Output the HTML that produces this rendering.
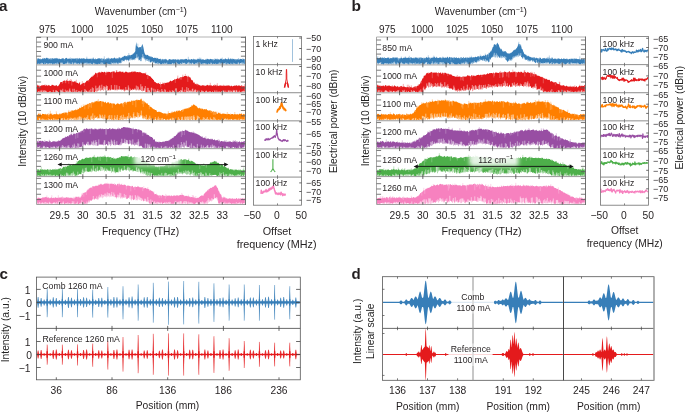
<!DOCTYPE html>
<html><head><meta charset="utf-8"><style>
html,body{margin:0;padding:0;background:#fff;}
html,body{width:685px;height:412px;overflow:hidden;}
svg{display:block;font-family:"Liberation Sans", sans-serif;}
text.h{will-change:transform;}
text.r{filter:grayscale(1);}
</style></head><body>
<svg width="685" height="412" viewBox="0 0 685 412">
<defs><filter id="soft" x="-20%" y="-40%" width="140%" height="180%"><feGaussianBlur stdDeviation="2.2"/></filter></defs>
<rect width="685" height="412" fill="#fff"/>
<polygon points="36.8,57.9 37.3,58.5 37.8,58.8 38.3,58.7 38.8,58.0 39.3,58.9 39.8,58.7 40.3,58.7 40.8,58.8 41.3,58.9 41.8,59.4 42.3,58.2 42.8,58.5 43.3,59.2 43.8,57.8 44.3,58.6 44.8,58.1 45.3,58.4 45.8,58.7 46.3,57.6 46.8,58.0 47.3,57.8 47.8,58.4 48.3,58.1 48.8,59.1 49.3,58.2 49.8,59.2 50.3,58.3 50.8,58.6 51.3,58.5 51.8,58.5 52.3,58.0 52.8,58.6 53.3,58.7 53.8,58.6 54.3,58.8 54.8,58.1 55.3,58.4 55.8,58.2 56.3,57.7 56.8,58.7 57.3,58.2 57.8,58.5 58.3,59.5 58.8,58.6 59.3,58.6 59.8,59.0 60.3,59.1 60.8,59.3 61.3,58.3 61.8,59.3 62.3,58.5 62.8,58.0 63.3,58.1 63.8,59.0 64.3,58.9 64.8,59.1 65.3,58.1 65.8,58.4 66.3,58.0 66.8,57.7 67.3,58.5 67.8,59.3 68.3,59.1 68.8,58.2 69.3,59.1 69.8,58.3 70.3,58.7 70.8,58.9 71.3,58.4 71.8,58.2 72.3,58.9 72.8,58.5 73.3,58.3 73.8,58.9 74.3,58.5 74.8,58.8 75.3,58.1 75.8,58.9 76.3,58.2 76.8,58.4 77.3,57.8 77.8,59.1 78.3,58.6 78.8,58.8 79.3,57.8 79.8,58.7 80.3,58.4 80.8,59.1 81.3,57.9 81.8,58.8 82.3,59.1 82.8,58.1 83.3,58.7 83.8,58.1 84.3,58.6 84.8,58.8 85.3,59.2 85.8,58.7 86.3,58.3 86.8,58.9 87.3,58.6 87.8,59.1 88.3,58.4 88.8,59.2 89.3,58.7 89.8,58.8 90.3,59.1 90.8,58.4 91.3,58.4 91.8,58.9 92.3,58.6 92.8,58.7 93.3,58.5 93.8,58.5 94.3,59.1 94.8,59.6 95.3,58.1 95.8,59.4 96.3,59.0 96.8,59.2 97.3,58.8 97.8,58.4 98.3,58.6 98.8,58.3 99.3,57.9 99.8,58.7 100.3,58.8 100.8,58.6 101.3,58.8 101.8,58.0 102.3,59.1 102.8,58.6 103.3,58.6 103.8,58.9 104.3,58.3 104.8,59.7 105.3,59.1 105.8,59.1 106.3,58.6 106.8,58.2 107.3,58.7 107.8,58.2 108.3,58.6 108.8,58.6 109.3,59.0 109.8,58.6 110.3,58.5 110.8,59.0 111.3,58.3 111.8,58.1 112.3,58.1 112.8,59.0 113.3,58.4 113.8,58.1 114.3,57.4 114.8,57.8 115.3,58.4 115.8,58.5 116.3,58.9 116.8,57.8 117.3,58.3 117.8,58.6 118.3,56.9 118.8,58.9 119.3,57.3 119.8,57.2 120.3,58.1 120.8,57.8 121.3,58.0 121.8,57.6 122.3,57.2 122.8,56.8 123.3,56.3 123.8,56.7 124.3,55.5 124.8,56.1 125.3,56.4 125.8,55.5 126.3,56.2 126.8,56.2 127.3,55.6 127.8,55.3 128.3,55.5 128.8,55.3 129.3,54.7 129.8,55.6 130.3,55.2 130.8,54.9 131.3,54.9 131.8,54.7 132.3,53.4 132.8,55.0 133.3,53.1 133.8,53.7 134.3,52.5 134.8,52.2 135.3,50.3 135.8,45.5 136.3,42.0 136.8,46.1 137.3,46.9 137.8,46.1 138.3,48.0 138.8,47.3 139.3,47.1 139.8,47.6 140.3,47.0 140.8,47.2 141.3,46.5 141.8,45.5 142.3,44.1 142.8,45.2 143.3,47.1 143.8,49.4 144.3,52.2 144.8,53.4 145.3,55.0 145.8,54.5 146.3,54.7 146.8,55.6 147.3,54.8 147.8,54.9 148.3,55.4 148.8,55.9 149.3,56.0 149.8,56.2 150.3,56.6 150.8,56.5 151.3,56.4 151.8,57.4 152.3,57.1 152.8,57.3 153.3,57.9 153.8,58.0 154.3,57.5 154.8,57.9 155.3,57.7 155.8,57.9 156.3,58.6 156.8,58.3 157.3,58.2 157.8,58.1 158.3,59.3 158.8,58.6 159.3,59.0 159.8,58.9 160.3,58.6 160.8,59.3 161.3,59.2 161.8,59.8 162.3,59.5 162.8,58.7 163.3,59.3 163.8,59.4 164.3,59.5 164.8,59.0 165.3,58.8 165.8,59.5 166.3,59.7 166.8,59.0 167.3,60.4 167.8,59.9 168.3,59.3 168.8,60.5 169.3,58.9 169.8,59.1 170.3,59.1 170.8,60.1 171.3,59.2 171.8,59.9 172.3,59.6 172.8,59.3 173.3,59.6 173.8,59.0 174.3,59.9 174.8,59.1 175.3,59.1 175.8,59.8 176.3,59.3 176.8,60.3 177.3,60.1 177.8,58.7 178.3,59.6 178.8,59.4 179.3,60.4 179.8,59.2 180.3,59.2 180.8,59.4 181.3,59.4 181.8,59.1 182.3,59.6 182.8,59.2 183.3,59.1 183.8,60.1 184.3,59.5 184.8,59.0 185.3,58.8 185.8,59.3 186.3,58.9 186.8,58.8 187.3,59.9 187.8,59.4 188.3,59.2 188.8,59.5 189.3,59.2 189.8,59.4 190.3,60.2 190.8,59.4 191.3,59.1 191.8,58.9 192.3,59.7 192.8,59.3 193.3,59.6 193.8,58.6 194.3,59.2 194.8,59.4 195.3,59.6 195.8,59.5 196.3,59.2 196.8,59.9 197.3,59.3 197.8,58.4 198.3,58.8 198.8,59.3 199.3,59.4 199.8,58.7 200.3,58.8 200.8,59.5 201.3,59.4 201.8,59.5 202.3,59.6 202.8,59.3 203.3,59.0 203.8,59.9 204.3,59.8 204.8,60.1 205.3,59.5 205.8,59.4 206.3,59.4 206.8,59.5 207.3,58.5 207.8,59.2 208.3,59.1 208.8,59.5 209.3,59.4 209.8,59.2 210.3,59.1 210.8,58.7 211.3,59.4 211.8,59.1 212.3,59.1 212.8,59.8 213.3,59.7 213.8,59.1 214.3,60.0 214.8,59.6 215.3,59.3 215.8,58.8 216.3,58.8 216.8,59.7 217.3,58.3 217.8,60.0 218.3,59.5 218.8,59.0 219.3,59.9 219.8,59.3 220.3,58.6 220.8,58.9 221.3,58.7 221.8,58.6 222.3,60.0 222.8,59.2 223.3,59.1 223.8,59.5 224.3,59.4 224.8,58.8 225.3,58.7 225.8,58.2 226.3,59.5 226.8,59.0 227.3,59.5 227.8,59.1 228.3,58.5 228.8,58.8 229.3,59.8 229.8,58.8 230.3,59.3 230.8,58.0 231.3,58.7 231.8,59.5 232.3,58.2 232.8,59.6 233.3,58.9 233.8,58.8 234.3,59.7 234.8,58.8 235.3,59.6 235.8,58.9 236.3,59.2 236.8,59.5 237.3,59.6 237.8,59.0 238.3,58.0 238.8,59.9 239.3,58.8 239.8,59.6 240.3,58.7 240.8,58.9 241.3,59.1 241.8,59.0 242.3,59.9 242.8,58.3 243.3,58.8 243.8,59.2 244.3,59.2 244.8,59.1 244.8,64.4 244.3,63.8 243.8,64.0 243.3,64.4 242.8,64.4 242.3,64.0 241.8,63.7 241.3,63.5 240.8,63.2 240.3,63.7 239.8,64.4 239.3,64.4 238.8,64.4 238.3,63.6 237.8,63.6 237.3,64.4 236.8,64.4 236.3,64.4 235.8,63.7 235.3,64.4 234.8,63.5 234.3,64.2 233.8,64.4 233.3,64.4 232.8,64.4 232.3,64.4 231.8,63.7 231.3,64.4 230.8,64.4 230.3,64.4 229.8,64.4 229.3,64.1 228.8,63.7 228.3,63.6 227.8,64.2 227.3,64.4 226.8,64.4 226.3,64.4 225.8,63.0 225.3,64.4 224.8,63.6 224.3,63.7 223.8,64.1 223.3,64.4 222.8,64.4 222.3,64.4 221.8,63.5 221.3,64.2 220.8,64.3 220.3,63.8 219.8,64.4 219.3,63.6 218.8,63.2 218.3,64.2 217.8,64.4 217.3,63.5 216.8,64.4 216.3,64.1 215.8,63.1 215.3,64.4 214.8,64.0 214.3,64.0 213.8,64.1 213.3,63.5 212.8,64.4 212.3,64.4 211.8,64.4 211.3,64.4 210.8,63.9 210.3,63.9 209.8,64.3 209.3,64.1 208.8,63.3 208.3,64.2 207.8,64.4 207.3,64.4 206.8,64.4 206.3,64.4 205.8,64.3 205.3,64.4 204.8,64.1 204.3,63.6 203.8,64.4 203.3,63.9 202.8,64.4 202.3,64.4 201.8,64.4 201.3,64.0 200.8,64.2 200.3,64.4 199.8,64.4 199.3,63.5 198.8,64.2 198.3,62.9 197.8,64.4 197.3,62.9 196.8,64.0 196.3,63.8 195.8,63.9 195.3,64.4 194.8,63.9 194.3,64.4 193.8,63.6 193.3,64.4 192.8,63.8 192.3,63.0 191.8,64.2 191.3,64.4 190.8,64.3 190.3,63.9 189.8,64.4 189.3,64.4 188.8,62.5 188.3,64.4 187.8,63.6 187.3,63.8 186.8,64.0 186.3,63.9 185.8,64.4 185.3,64.1 184.8,64.4 184.3,63.1 183.8,63.6 183.3,63.3 182.8,64.1 182.3,63.3 181.8,63.9 181.3,64.1 180.8,64.2 180.3,64.4 179.8,64.4 179.3,64.3 178.8,64.4 178.3,63.4 177.8,64.4 177.3,64.2 176.8,64.4 176.3,62.9 175.8,63.2 175.3,64.2 174.8,64.4 174.3,63.5 173.8,64.4 173.3,64.4 172.8,63.3 172.3,63.7 171.8,64.4 171.3,63.9 170.8,64.3 170.3,64.4 169.8,64.4 169.3,64.4 168.8,64.3 168.3,64.4 167.8,64.3 167.3,64.4 166.8,64.2 166.3,64.4 165.8,64.0 165.3,63.7 164.8,64.4 164.3,63.8 163.8,64.1 163.3,64.1 162.8,64.4 162.3,63.7 161.8,64.1 161.3,64.4 160.8,64.4 160.3,64.4 159.8,63.7 159.3,63.0 158.8,64.2 158.3,64.4 157.8,63.9 157.3,64.0 156.8,63.4 156.3,64.3 155.8,64.0 155.3,62.9 154.8,62.8 154.3,63.6 153.8,63.1 153.3,62.2 152.8,62.4 152.3,62.9 151.8,61.3 151.3,62.3 150.8,62.4 150.3,62.3 149.8,62.2 149.3,59.9 148.8,61.5 148.3,61.5 147.8,60.9 147.3,60.9 146.8,60.6 146.3,60.3 145.8,61.9 145.3,59.5 144.8,59.3 144.3,59.4 143.8,57.0 143.3,58.8 142.8,57.6 142.3,57.5 141.8,59.9 141.3,61.3 140.8,61.1 140.3,61.5 139.8,60.3 139.3,59.5 138.8,60.4 138.3,59.5 137.8,58.6 137.3,57.2 136.8,57.1 136.3,58.4 135.8,57.9 135.3,59.8 134.8,60.2 134.3,59.6 133.8,59.4 133.3,59.8 132.8,60.4 132.3,59.5 131.8,59.7 131.3,60.0 130.8,60.4 130.3,59.6 129.8,60.3 129.3,60.4 128.8,59.7 128.3,61.7 127.8,60.1 127.3,59.4 126.8,61.4 126.3,60.7 125.8,59.7 125.3,60.1 124.8,59.8 124.3,61.6 123.8,61.3 123.3,60.5 122.8,61.8 122.3,61.4 121.8,60.8 121.3,63.2 120.8,63.0 120.3,63.4 119.8,63.5 119.3,62.7 118.8,63.3 118.3,64.2 117.8,64.4 117.3,63.3 116.8,64.1 116.3,63.3 115.8,64.4 115.3,64.2 114.8,63.8 114.3,64.4 113.8,64.2 113.3,64.4 112.8,63.0 112.3,63.7 111.8,64.4 111.3,64.4 110.8,64.4 110.3,64.2 109.8,63.8 109.3,64.4 108.8,63.8 108.3,64.0 107.8,63.5 107.3,64.4 106.8,64.4 106.3,63.4 105.8,64.4 105.3,63.8 104.8,64.4 104.3,64.4 103.8,64.1 103.3,64.4 102.8,64.4 102.3,64.4 101.8,64.0 101.3,64.4 100.8,64.4 100.3,64.3 99.8,64.0 99.3,64.0 98.8,64.4 98.3,63.2 97.8,64.4 97.3,64.4 96.8,64.4 96.3,64.4 95.8,63.7 95.3,64.4 94.8,64.4 94.3,64.4 93.8,63.4 93.3,64.3 92.8,64.4 92.3,64.4 91.8,64.1 91.3,64.0 90.8,64.4 90.3,64.3 89.8,64.4 89.3,64.4 88.8,63.8 88.3,64.4 87.8,64.3 87.3,64.1 86.8,64.4 86.3,64.4 85.8,64.4 85.3,63.7 84.8,63.8 84.3,64.0 83.8,63.4 83.3,64.2 82.8,64.4 82.3,64.4 81.8,64.4 81.3,63.9 80.8,64.0 80.3,63.5 79.8,63.9 79.3,64.4 78.8,64.4 78.3,64.4 77.8,64.3 77.3,64.2 76.8,63.8 76.3,63.8 75.8,63.3 75.3,64.4 74.8,63.7 74.3,64.1 73.8,64.4 73.3,64.4 72.8,64.3 72.3,63.7 71.8,64.0 71.3,64.3 70.8,64.3 70.3,64.3 69.8,63.0 69.3,64.4 68.8,64.4 68.3,63.9 67.8,62.7 67.3,64.4 66.8,63.7 66.3,64.4 65.8,63.5 65.3,64.1 64.8,64.2 64.3,64.0 63.8,64.4 63.3,63.9 62.8,64.4 62.3,63.6 61.8,64.2 61.3,62.9 60.8,63.8 60.3,63.5 59.8,64.4 59.3,64.4 58.8,64.2 58.3,63.5 57.8,64.1 57.3,63.7 56.8,64.4 56.3,64.4 55.8,64.4 55.3,63.6 54.8,64.4 54.3,64.2 53.8,64.4 53.3,64.4 52.8,64.4 52.3,64.4 51.8,64.3 51.3,63.3 50.8,64.1 50.3,64.4 49.8,64.4 49.3,63.8 48.8,63.4 48.3,64.1 47.8,64.4 47.3,64.4 46.8,64.1 46.3,63.1 45.8,64.4 45.3,64.0 44.8,64.0 44.3,64.4 43.8,64.4 43.3,64.0 42.8,63.7 42.3,63.6 41.8,64.0 41.3,63.8 40.8,64.0 40.3,64.4 39.8,63.4 39.3,64.4 38.8,64.2 38.3,63.9 37.8,63.9 37.3,64.4 36.8,64.4" fill="#377eb8"/>
<path d="M58.3 60.0V58.7M70.3 59.2V57.5M72.3 59.4V58.3M86.8 59.4V56.7M93.3 59.0V57.3M104.3 58.8V56.3M108.3 59.1V57.5M109.3 59.5V58.2M128.8 55.8V53.0M132.8 55.5V54.5M137.8 46.6V43.7M151.8 57.9V56.7M156.8 58.8V57.5M168.8 61.0V59.7M188.3 59.7V56.8M190.3 60.7V59.0M199.3 59.9V57.5M200.8 60.0V57.7M206.3 59.9V58.7M214.8 60.1V58.4M217.8 60.5V59.2M222.3 60.5V57.6M226.3 60.0V59.0M228.3 59.0V57.5" stroke="#377eb8" stroke-width="0.5" opacity="0.7"/>
<path d="M36.8 64.9V63.8M38.3 64.4V63.2M40.8 64.5V63.0M41.8 64.5V62.7M42.3 64.1V63.0M44.8 64.5V62.6M45.8 64.9V64.2M46.8 64.6V63.2M47.3 64.9V63.5M49.3 64.3V63.5M49.8 64.9V63.1M50.8 64.6V63.1M51.8 64.8V63.5M53.3 64.9V63.6M53.8 64.9V63.8M54.3 64.7V63.7M54.8 64.9V64.2M55.3 64.1V63.3M55.8 64.9V63.4M56.3 64.9V63.8M56.8 64.9V63.6M57.3 64.2V62.5M59.3 64.9V64.0M60.3 64.0V62.6M61.3 63.4V62.5M61.8 64.7V63.4M62.3 64.1V62.6M62.8 64.9V63.9M63.8 64.9V64.0M65.3 64.6V63.5M66.8 64.2V63.0M67.3 64.9V62.7M67.8 63.2V61.6M68.3 64.4V62.9M68.8 64.9V63.9M69.8 63.5V62.7M70.8 64.8V63.5M72.3 64.2V62.3M72.8 64.8V62.8M74.3 64.6V63.0M74.8 64.2V62.5M75.3 64.9V63.4M75.8 63.8V62.6M77.8 64.8V63.4M78.3 64.9V63.2M78.8 64.9V63.3M80.8 64.5V62.6M81.3 64.4V63.1M82.3 64.9V63.8M82.8 64.9V64.1M84.3 64.5V62.8M85.3 64.2V63.1M85.8 64.9V62.7M86.3 64.9V62.7M87.3 64.6V62.7M88.3 64.9V63.2M89.3 64.9V62.9M90.3 64.8V63.3M90.8 64.9V62.8M93.3 64.8V62.8M93.8 63.9V62.9M94.8 64.9V63.1M96.8 64.9V63.8M99.8 64.5V63.8M100.8 64.9V62.7M101.8 64.5V62.3M102.3 64.9V63.4M102.8 64.9V62.7M106.8 64.9V63.1M107.3 64.9V63.9M111.3 64.9V62.4M112.3 64.2V63.2M113.3 64.9V62.6M113.8 64.7V63.6M114.3 64.9V62.7M114.8 64.3V63.3M115.3 64.7V62.8M115.8 64.9V63.4M116.3 63.8V62.5M116.8 64.6V62.8M118.8 63.8V62.5M120.3 63.9V62.5M121.8 61.3V60.3M122.3 61.9V60.1M122.8 62.3V61.4M124.3 62.1V61.1M125.8 60.2V59.4M126.3 61.2V60.0M126.8 61.9V59.9M129.8 60.8V59.1M130.3 60.1V58.6M131.3 60.5V58.5M132.8 60.9V59.5M134.3 60.1V59.0M135.3 60.3V58.0M136.8 57.6V54.3M138.3 60.0V56.6M140.3 62.0V60.8M140.8 61.6V58.8M141.8 60.4V57.3M142.8 58.1V54.2M143.8 57.5V56.4M144.8 59.8V58.0M145.8 62.4V59.9M146.3 60.8V59.0M147.3 61.4V59.0M148.3 62.0V59.8M149.3 60.4V59.7M152.3 63.4V61.2M152.8 62.9V61.6M153.8 63.6V62.6M154.3 64.1V61.6M156.3 64.8V62.9M156.8 63.9V63.1M157.8 64.4V62.2M158.8 64.7V63.1M160.3 64.9V63.8M162.8 64.9V63.0M164.3 64.3V62.7M165.3 64.2V63.3M166.3 64.9V63.2M166.8 64.7V62.5M167.8 64.8V63.9M168.8 64.8V63.9M169.3 64.9V64.1M169.8 64.9V63.8M170.8 64.8V64.0M172.3 64.2V62.9M173.8 64.9V63.3M174.3 64.0V63.3M176.3 63.4V61.9M176.8 64.9V63.4M177.3 64.7V63.1M180.3 64.9V63.3M180.8 64.7V63.0M182.3 63.8V62.4M183.3 63.8V62.9M184.3 63.6V62.8M184.8 64.9V62.8M185.3 64.6V63.6M185.8 64.9V64.1M187.3 64.3V62.7M188.3 64.9V62.9M188.8 63.0V61.9M189.3 64.9V62.8M190.3 64.4V63.1M190.8 64.8V63.4M191.8 64.7V63.5M192.3 63.5V62.6M192.8 64.3V63.2M195.3 64.9V63.5M195.8 64.4V62.9M196.3 64.3V63.1M197.3 63.4V62.3M198.3 63.4V62.6M199.3 64.0V62.3M200.3 64.9V62.7M202.3 64.9V63.4M203.3 64.4V63.1M204.3 64.1V63.0M205.3 64.9V63.3M205.8 64.8V64.0M206.3 64.9V63.5M208.3 64.7V63.7M210.8 64.4V62.6M211.3 64.9V62.9M211.8 64.9V63.4M212.3 64.9V64.0M213.8 64.6V63.6M217.8 64.9V64.0M219.3 64.1V62.4M220.8 64.8V62.7M221.3 64.7V63.1M222.3 64.9V63.6M222.8 64.9V63.2M223.8 64.6V63.4M224.3 64.2V63.1M225.8 63.5V62.4M227.3 64.9V62.9M229.8 64.9V64.0M230.8 64.9V62.8M231.3 64.9V63.8M232.8 64.9V63.9M233.3 64.9V62.7M233.8 64.9V63.9M234.8 64.0V63.1M236.3 64.9V63.8M236.8 64.9V63.9M238.3 64.1V62.2M238.8 64.9V63.1M240.3 64.2V63.1M240.8 63.7V63.0M241.8 64.2V62.3M242.8 64.9V62.6M243.3 64.9V62.8" stroke="#fff" stroke-width="0.6" opacity="0.85"/>
<path d="M37.3 58.2V60.4M40.3 58.4V59.9M48.8 58.8V59.8M50.8 58.3V60.1M51.8 58.2V59.8M64.3 58.6V60.5M71.3 58.1V60.4M76.8 58.1V60.5M78.3 58.3V59.4M91.8 58.6V60.4M101.3 58.5V60.7M102.3 58.8V60.6M102.8 58.3V60.5M104.8 59.4V60.4M105.8 58.8V59.8M106.8 57.9V59.7M109.3 58.7V60.4M117.8 58.3V59.3M118.3 56.6V58.1M120.3 57.8V59.0M123.3 56.0V57.1M127.8 55.0V56.9M130.3 54.9V56.5M132.3 53.1V54.9M135.3 50.0V51.6M141.8 45.2V49.5M149.3 55.7V56.8M150.3 56.3V57.3M161.3 58.9V60.9M163.8 59.1V60.5M167.8 59.6V61.2M189.8 59.1V60.0M213.3 59.4V61.1M235.8 58.6V60.7M239.3 58.5V60.0" stroke="#fff" stroke-width="0.4" opacity="0.6"/>
<polygon points="36.8,85.0 37.3,84.5 37.8,85.7 38.3,85.7 38.8,85.3 39.3,85.6 39.8,86.2 40.3,85.9 40.8,85.7 41.3,85.7 41.8,85.0 42.3,85.8 42.8,84.7 43.3,85.3 43.8,85.2 44.3,84.6 44.8,85.4 45.3,86.1 45.8,85.2 46.3,84.9 46.8,85.4 47.3,85.8 47.8,85.5 48.3,85.4 48.8,84.8 49.3,85.6 49.8,85.6 50.3,86.0 50.8,86.1 51.3,85.7 51.8,84.7 52.3,84.8 52.8,84.9 53.3,85.5 53.8,85.0 54.3,86.0 54.8,85.5 55.3,85.6 55.8,85.7 56.3,85.6 56.8,84.8 57.3,86.5 57.8,86.1 58.3,86.1 58.8,85.1 59.3,84.6 59.8,83.7 60.3,82.1 60.8,82.2 61.3,81.9 61.8,82.0 62.3,82.1 62.8,81.2 63.3,81.1 63.8,80.7 64.3,80.7 64.8,80.3 65.3,81.0 65.8,80.8 66.3,80.5 66.8,80.3 67.3,80.8 67.8,81.3 68.3,80.8 68.8,80.9 69.3,80.6 69.8,80.8 70.3,80.9 70.8,80.9 71.3,80.8 71.8,81.4 72.3,81.9 72.8,81.0 73.3,82.2 73.8,81.5 74.3,81.7 74.8,81.0 75.3,81.0 75.8,82.6 76.3,81.9 76.8,82.9 77.3,82.8 77.8,83.1 78.3,83.8 78.8,83.4 79.3,82.2 79.8,83.1 80.3,84.5 80.8,85.2 81.3,84.3 81.8,83.8 82.3,83.3 82.8,84.0 83.3,82.8 83.8,82.9 84.3,83.2 84.8,82.8 85.3,82.3 85.8,82.5 86.3,81.1 86.8,80.8 87.3,80.7 87.8,80.6 88.3,79.9 88.8,80.5 89.3,78.8 89.8,78.9 90.3,77.8 90.8,77.7 91.3,76.9 91.8,76.4 92.3,76.9 92.8,75.6 93.3,76.2 93.8,74.7 94.3,74.5 94.8,74.8 95.3,72.8 95.8,72.8 96.3,73.3 96.8,73.4 97.3,73.3 97.8,72.7 98.3,72.1 98.8,72.9 99.3,72.6 99.8,71.7 100.3,72.2 100.8,73.0 101.3,72.2 101.8,71.6 102.3,72.0 102.8,72.0 103.3,72.3 103.8,72.6 104.3,71.7 104.8,71.8 105.3,72.6 105.8,72.4 106.3,72.7 106.8,71.4 107.3,71.7 107.8,72.5 108.3,71.6 108.8,72.2 109.3,72.0 109.8,71.7 110.3,72.7 110.8,72.0 111.3,71.8 111.8,71.9 112.3,72.1 112.8,71.3 113.3,71.6 113.8,71.4 114.3,71.0 114.8,72.4 115.3,72.6 115.8,72.5 116.3,71.1 116.8,72.1 117.3,72.2 117.8,71.7 118.3,72.3 118.8,71.4 119.3,71.4 119.8,71.5 120.3,71.6 120.8,71.5 121.3,72.4 121.8,71.5 122.3,71.8 122.8,71.7 123.3,73.0 123.8,71.6 124.3,72.2 124.8,72.9 125.3,71.5 125.8,71.7 126.3,71.9 126.8,71.5 127.3,72.7 127.8,71.9 128.3,72.6 128.8,72.4 129.3,72.2 129.8,72.6 130.3,72.0 130.8,72.6 131.3,71.5 131.8,71.7 132.3,72.5 132.8,71.0 133.3,72.1 133.8,71.6 134.3,71.5 134.8,71.4 135.3,72.3 135.8,71.1 136.3,72.3 136.8,72.2 137.3,71.9 137.8,72.1 138.3,72.5 138.8,72.0 139.3,71.7 139.8,72.5 140.3,72.1 140.8,72.4 141.3,72.7 141.8,73.1 142.3,73.6 142.8,73.0 143.3,73.1 143.8,73.6 144.3,73.6 144.8,72.9 145.3,73.6 145.8,73.6 146.3,74.7 146.8,75.1 147.3,75.0 147.8,74.5 148.3,75.7 148.8,75.3 149.3,76.3 149.8,76.0 150.3,76.4 150.8,76.8 151.3,77.8 151.8,77.9 152.3,78.9 152.8,78.7 153.3,80.0 153.8,80.1 154.3,81.4 154.8,81.9 155.3,81.9 155.8,82.5 156.3,82.9 156.8,83.2 157.3,83.0 157.8,83.8 158.3,83.3 158.8,82.8 159.3,84.0 159.8,84.0 160.3,84.4 160.8,84.3 161.3,84.0 161.8,84.0 162.3,83.9 162.8,83.5 163.3,83.2 163.8,83.4 164.3,83.6 164.8,82.6 165.3,83.3 165.8,82.8 166.3,83.0 166.8,82.5 167.3,82.7 167.8,82.3 168.3,82.8 168.8,81.9 169.3,81.7 169.8,81.6 170.3,80.6 170.8,80.7 171.3,81.6 171.8,81.0 172.3,80.6 172.8,80.9 173.3,80.1 173.8,79.9 174.3,79.7 174.8,78.8 175.3,79.8 175.8,79.1 176.3,79.0 176.8,78.7 177.3,78.4 177.8,77.4 178.3,78.3 178.8,79.0 179.3,78.3 179.8,77.5 180.3,77.1 180.8,77.3 181.3,77.3 181.8,76.9 182.3,77.2 182.8,76.2 183.3,77.0 183.8,76.4 184.3,75.9 184.8,75.9 185.3,76.0 185.8,76.0 186.3,75.8 186.8,76.3 187.3,77.3 187.8,75.8 188.3,75.8 188.8,77.0 189.3,76.8 189.8,77.6 190.3,77.2 190.8,78.6 191.3,79.7 191.8,80.3 192.3,79.9 192.8,80.8 193.3,82.0 193.8,83.0 194.3,82.3 194.8,83.0 195.3,84.2 195.8,83.7 196.3,83.6 196.8,84.7 197.3,83.6 197.8,84.2 198.3,85.2 198.8,84.6 199.3,85.4 199.8,84.7 200.3,85.7 200.8,85.5 201.3,86.0 201.8,85.2 202.3,85.2 202.8,85.3 203.3,85.8 203.8,85.0 204.3,85.3 204.8,86.2 205.3,85.7 205.8,85.7 206.3,85.1 206.8,85.8 207.3,84.9 207.8,84.7 208.3,85.0 208.8,86.1 209.3,85.5 209.8,85.0 210.3,85.3 210.8,85.6 211.3,86.0 211.8,84.7 212.3,86.1 212.8,85.9 213.3,85.2 213.8,85.3 214.3,85.7 214.8,85.4 215.3,85.6 215.8,85.0 216.3,84.7 216.8,86.6 217.3,85.6 217.8,85.6 218.3,85.8 218.8,86.1 219.3,86.0 219.8,85.1 220.3,85.5 220.8,85.6 221.3,85.9 221.8,85.3 222.3,85.8 222.8,85.7 223.3,86.2 223.8,84.4 224.3,85.7 224.8,85.8 225.3,85.9 225.8,85.6 226.3,85.3 226.8,86.0 227.3,85.8 227.8,85.3 228.3,85.1 228.8,85.9 229.3,85.3 229.8,86.0 230.3,86.4 230.8,85.8 231.3,85.8 231.8,85.8 232.3,86.3 232.8,86.4 233.3,85.8 233.8,86.1 234.3,85.8 234.8,85.5 235.3,86.1 235.8,85.7 236.3,85.4 236.8,85.1 237.3,86.2 237.8,85.4 238.3,85.3 238.8,85.7 239.3,86.1 239.8,85.0 240.3,86.1 240.8,86.0 241.3,85.3 241.8,85.3 242.3,85.8 242.8,86.7 243.3,85.8 243.8,86.4 244.3,86.3 244.8,85.2 244.8,92.3 244.3,92.1 243.8,92.2 243.3,91.7 242.8,92.3 242.3,91.5 241.8,92.3 241.3,92.3 240.8,92.3 240.3,92.3 239.8,91.4 239.3,92.3 238.8,92.3 238.3,91.5 237.8,92.2 237.3,92.3 236.8,92.0 236.3,91.3 235.8,91.8 235.3,92.2 234.8,92.3 234.3,90.8 233.8,91.1 233.3,91.6 232.8,92.2 232.3,92.3 231.8,92.3 231.3,91.6 230.8,92.1 230.3,92.0 229.8,91.7 229.3,92.2 228.8,91.9 228.3,91.6 227.8,91.8 227.3,92.2 226.8,92.2 226.3,92.1 225.8,92.3 225.3,92.3 224.8,92.0 224.3,91.5 223.8,92.1 223.3,91.0 222.8,91.7 222.3,92.3 221.8,90.7 221.3,92.2 220.8,92.3 220.3,91.8 219.8,92.3 219.3,91.3 218.8,91.5 218.3,92.3 217.8,92.3 217.3,91.9 216.8,92.2 216.3,91.9 215.8,91.9 215.3,92.2 214.8,92.3 214.3,91.4 213.8,92.1 213.3,92.3 212.8,91.5 212.3,91.4 211.8,92.3 211.3,92.1 210.8,91.8 210.3,91.3 209.8,92.3 209.3,91.8 208.8,92.1 208.3,92.0 207.8,91.7 207.3,92.0 206.8,91.4 206.3,91.8 205.8,90.8 205.3,92.3 204.8,92.3 204.3,92.3 203.8,92.3 203.3,91.8 202.8,92.1 202.3,91.8 201.8,92.3 201.3,91.3 200.8,92.3 200.3,92.2 199.8,91.5 199.3,92.3 198.8,92.1 198.3,91.7 197.8,91.5 197.3,92.2 196.8,92.3 196.3,92.0 195.8,92.1 195.3,91.4 194.8,91.7 194.3,92.2 193.8,92.3 193.3,91.6 192.8,92.3 192.3,92.3 191.8,91.3 191.3,92.1 190.8,92.1 190.3,91.4 189.8,91.5 189.3,91.9 188.8,91.5 188.3,92.3 187.8,91.7 187.3,91.6 186.8,92.3 186.3,91.8 185.8,92.3 185.3,92.1 184.8,92.3 184.3,92.3 183.8,91.7 183.3,91.7 182.8,92.0 182.3,91.6 181.8,91.8 181.3,91.6 180.8,92.3 180.3,92.3 179.8,91.3 179.3,91.5 178.8,91.6 178.3,92.3 177.8,92.3 177.3,92.3 176.8,91.9 176.3,92.3 175.8,91.5 175.3,91.9 174.8,92.3 174.3,92.3 173.8,92.0 173.3,91.6 172.8,91.3 172.3,92.3 171.8,92.3 171.3,92.2 170.8,91.4 170.3,91.8 169.8,92.3 169.3,91.7 168.8,92.3 168.3,92.3 167.8,91.3 167.3,92.3 166.8,92.3 166.3,91.8 165.8,91.4 165.3,92.3 164.8,91.9 164.3,92.3 163.8,91.9 163.3,91.8 162.8,91.8 162.3,91.7 161.8,91.4 161.3,92.3 160.8,92.3 160.3,92.3 159.8,91.9 159.3,92.2 158.8,92.2 158.3,91.4 157.8,90.7 157.3,91.3 156.8,92.2 156.3,91.7 155.8,92.3 155.3,92.3 154.8,91.5 154.3,92.3 153.8,92.3 153.3,92.3 152.8,91.9 152.3,91.8 151.8,91.9 151.3,92.3 150.8,92.2 150.3,92.2 149.8,90.9 149.3,92.3 148.8,92.3 148.3,92.3 147.8,92.3 147.3,92.3 146.8,92.3 146.3,92.3 145.8,92.3 145.3,91.9 144.8,90.6 144.3,90.5 143.8,91.1 143.3,90.4 142.8,90.5 142.3,91.8 141.8,90.9 141.3,90.9 140.8,89.8 140.3,90.0 139.8,90.4 139.3,89.1 138.8,90.2 138.3,90.5 137.8,90.3 137.3,89.1 136.8,90.4 136.3,90.6 135.8,88.7 135.3,90.5 134.8,89.6 134.3,89.6 133.8,89.4 133.3,90.0 132.8,88.4 132.3,90.4 131.8,89.9 131.3,90.0 130.8,90.4 130.3,90.3 129.8,92.3 129.3,90.2 128.8,90.1 128.3,91.0 127.8,89.7 127.3,90.8 126.8,89.6 126.3,90.2 125.8,90.6 125.3,89.9 124.8,92.1 124.3,90.1 123.8,88.6 123.3,91.0 122.8,89.2 122.3,90.1 121.8,89.3 121.3,90.7 120.8,89.8 120.3,89.2 119.8,89.7 119.3,89.5 118.8,89.8 118.3,89.5 117.8,89.1 117.3,90.5 116.8,90.5 116.3,89.2 115.8,90.1 115.3,90.6 114.8,90.5 114.3,89.2 113.8,90.0 113.3,89.6 112.8,89.4 112.3,89.7 111.8,89.6 111.3,89.5 110.8,90.2 110.3,90.6 109.8,88.6 109.3,90.6 108.8,90.5 108.3,89.9 107.8,90.9 107.3,89.1 106.8,89.0 106.3,89.8 105.8,89.9 105.3,90.5 104.8,89.8 104.3,88.8 103.8,90.7 103.3,90.9 102.8,89.9 102.3,89.4 101.8,89.9 101.3,90.1 100.8,91.6 100.3,90.3 99.8,89.6 99.3,90.3 98.8,90.9 98.3,89.8 97.8,90.9 97.3,91.5 96.8,91.9 96.3,91.5 95.8,91.5 95.3,91.0 94.8,92.3 94.3,92.3 93.8,92.1 93.3,91.7 92.8,92.0 92.3,91.3 91.8,91.8 91.3,92.3 90.8,92.2 90.3,91.9 89.8,92.3 89.3,92.1 88.8,91.3 88.3,92.3 87.8,92.0 87.3,91.5 86.8,91.1 86.3,91.8 85.8,92.0 85.3,92.3 84.8,91.8 84.3,91.9 83.8,92.3 83.3,92.1 82.8,92.0 82.3,92.0 81.8,91.5 81.3,92.3 80.8,92.3 80.3,92.3 79.8,92.3 79.3,92.3 78.8,91.6 78.3,92.2 77.8,91.9 77.3,92.3 76.8,92.3 76.3,91.9 75.8,92.1 75.3,92.2 74.8,92.3 74.3,91.6 73.8,92.3 73.3,92.0 72.8,92.3 72.3,92.3 71.8,92.3 71.3,91.8 70.8,91.4 70.3,92.3 69.8,91.9 69.3,91.7 68.8,91.8 68.3,91.5 67.8,92.0 67.3,92.3 66.8,92.1 66.3,91.2 65.8,92.3 65.3,92.3 64.8,92.3 64.3,92.3 63.8,91.9 63.3,91.8 62.8,91.4 62.3,91.8 61.8,92.3 61.3,91.7 60.8,92.3 60.3,92.3 59.8,92.2 59.3,92.3 58.8,92.3 58.3,92.3 57.8,91.8 57.3,91.2 56.8,91.3 56.3,92.1 55.8,92.3 55.3,91.8 54.8,92.3 54.3,92.2 53.8,92.0 53.3,91.7 52.8,92.3 52.3,92.0 51.8,92.3 51.3,92.3 50.8,92.3 50.3,92.3 49.8,91.7 49.3,91.5 48.8,92.3 48.3,91.7 47.8,92.2 47.3,92.3 46.8,92.3 46.3,92.3 45.8,91.4 45.3,92.0 44.8,91.8 44.3,91.7 43.8,92.3 43.3,90.9 42.8,92.3 42.3,91.8 41.8,91.4 41.3,92.3 40.8,91.9 40.3,92.3 39.8,91.9 39.3,91.4 38.8,91.6 38.3,92.3 37.8,91.9 37.3,92.3 36.8,92.1" fill="#e41a1c"/>
<path d="M45.8 85.7V84.4M67.3 81.3V78.7M70.8 81.4V79.0M71.3 81.3V79.8M76.3 82.4V79.7M79.8 83.6V81.9M82.3 83.8V81.1M82.8 84.5V83.1M116.3 71.6V70.2M116.8 72.6V70.0M129.8 73.1V71.9M145.8 74.1V72.4M160.3 84.9V82.3M162.8 84.0V82.3M177.8 77.9V75.6M182.8 76.7V74.7M185.3 76.5V73.9M198.3 85.7V84.1M210.3 85.8V82.8M214.8 85.9V84.2M217.3 86.1V83.2M235.3 86.6V85.2M244.8 85.7V84.0" stroke="#e41a1c" stroke-width="0.5" opacity="0.7"/>
<path d="M38.3 92.8V91.1M40.3 92.8V90.5M41.3 92.8V91.2M41.8 91.9V89.9M43.3 91.4V90.3M43.8 92.8V91.3M44.8 92.3V90.0M45.3 92.5V91.6M45.8 91.9V90.8M46.3 92.8V91.3M46.8 92.8V91.9M50.3 92.8V91.0M53.3 92.2V89.9M54.8 92.8V91.9M55.8 92.8V90.2M56.3 92.6V90.4M60.3 92.8V89.7M60.8 92.8V90.4M61.3 92.2V90.9M61.8 92.8V89.9M62.8 91.9V88.8M65.3 92.8V89.6M66.8 92.6V90.6M67.3 92.8V90.4M69.3 92.2V89.6M69.8 92.4V88.5M70.3 92.8V90.7M72.8 92.8V88.8M74.3 92.1V88.8M75.8 92.6V90.6M76.8 92.8V89.9M78.8 92.1V90.8M79.3 92.8V91.0M80.8 92.8V91.2M81.8 92.0V90.2M84.3 92.4V91.5M84.8 92.3V89.1M85.3 92.8V89.6M86.3 92.3V90.4M89.3 92.6V90.2M89.8 92.8V91.6M90.8 92.7V88.9M92.3 91.8V87.4M93.3 92.2V88.2M95.8 92.0V85.7M96.3 92.0V88.5M97.3 92.0V88.1M98.3 90.3V87.4M99.3 90.8V85.9M99.8 90.1V85.3M100.8 92.1V87.8M101.8 90.4V84.7M103.3 91.4V88.1M103.8 91.2V86.1M104.3 89.3V86.5M104.8 90.3V86.9M105.8 90.4V87.4M106.3 90.3V85.4M106.8 89.5V86.6M107.3 89.6V86.0M111.3 90.0V85.1M114.8 91.0V84.9M115.3 91.1V89.6M116.8 91.0V85.2M119.3 90.0V86.1M121.3 91.2V89.4M125.8 91.1V87.0M127.3 91.3V89.6M128.3 91.5V85.4M128.8 90.6V87.5M130.3 90.8V88.7M132.3 90.9V89.3M134.8 90.1V88.3M136.3 91.1V85.6M137.8 90.8V86.2M138.3 91.0V87.3M140.8 90.3V84.2M141.8 91.4V86.6M142.3 92.3V86.3M144.3 91.0V88.0M144.8 91.1V89.2M145.3 92.4V86.0M147.3 92.8V87.8M148.3 92.8V87.9M148.8 92.8V90.1M149.3 92.8V90.1M151.3 92.8V87.7M151.8 92.4V87.8M153.8 92.8V88.7M155.3 92.8V89.4M156.3 92.2V90.8M157.8 91.2V89.1M158.8 92.7V90.9M159.8 92.4V90.4M161.3 92.8V91.9M161.8 91.9V89.0M162.8 92.3V90.8M164.8 92.4V89.1M165.3 92.8V89.9M168.8 92.8V91.7M169.8 92.8V90.4M172.3 92.8V90.1M173.3 92.1V90.7M173.8 92.5V91.2M175.3 92.4V89.7M175.8 92.0V88.3M176.3 92.8V88.4M176.8 92.4V90.7M180.8 92.8V90.0M181.3 92.1V90.4M181.8 92.3V90.6M182.3 92.1V87.3M184.8 92.8V89.7M186.3 92.3V90.5M186.8 92.8V87.1M187.3 92.1V91.0M188.3 92.8V88.1M189.3 92.4V91.0M189.8 92.0V90.2M190.3 91.9V90.5M191.3 92.6V90.7M192.3 92.8V89.0M192.8 92.8V88.6M193.8 92.8V91.3M194.3 92.7V90.6M194.8 92.2V89.9M195.3 91.9V89.4M195.8 92.6V89.9M196.8 92.8V92.0M197.3 92.7V90.5M198.8 92.6V90.5M199.3 92.8V90.8M201.8 92.8V90.2M202.3 92.3V91.0M203.3 92.3V91.0M203.8 92.8V91.9M206.3 92.3V90.5M208.8 92.6V91.6M209.3 92.3V91.3M209.8 92.8V91.8M214.8 92.8V90.3M215.3 92.7V91.5M216.8 92.7V90.5M217.8 92.8V91.5M220.8 92.8V92.0M221.3 92.7V91.4M222.3 92.8V91.2M222.8 92.2V90.5M223.8 92.6V90.2M225.8 92.8V90.6M226.8 92.7V91.8M228.3 92.1V90.1M228.8 92.4V91.2M229.8 92.2V90.3M230.8 92.6V90.7M231.8 92.8V90.8M233.3 92.1V89.9M234.3 91.3V90.4M234.8 92.8V90.4M236.3 91.8V89.9M236.8 92.5V90.5M237.3 92.8V91.7M239.3 92.8V90.6M240.8 92.8V91.8M241.8 92.8V91.3M242.8 92.8V91.1M243.3 92.2V90.6M243.8 92.7V91.3M244.3 92.6V91.1" stroke="#fff" stroke-width="0.6" opacity="0.85"/>
<path d="M39.3 85.3V87.7M39.8 85.9V87.7M62.3 81.8V83.8M62.8 80.9V83.0M65.3 80.7V82.9M65.8 80.5V83.3M68.8 80.6V83.7M71.8 81.1V85.5M84.3 82.9V86.0M88.8 80.2V81.7M97.3 73.0V77.3M105.8 72.1V75.2M112.3 71.8V77.9M147.8 74.2V79.0M160.8 84.0V87.4M164.3 83.3V85.2M175.3 79.5V82.9M180.3 76.8V79.5M181.3 77.0V79.7M187.8 75.5V81.9M194.8 82.7V84.3M197.3 83.3V85.6M241.3 85.0V86.7" stroke="#fff" stroke-width="0.4" opacity="0.6"/>
<polygon points="36.8,114.5 37.3,115.2 37.8,114.6 38.3,113.7 38.8,113.9 39.3,114.6 39.8,114.2 40.3,114.7 40.8,113.3 41.3,115.2 41.8,115.0 42.3,113.5 42.8,114.1 43.3,113.9 43.8,114.0 44.3,114.6 44.8,114.0 45.3,113.8 45.8,114.5 46.3,114.8 46.8,114.0 47.3,114.4 47.8,113.6 48.3,114.7 48.8,115.3 49.3,114.5 49.8,114.2 50.3,113.3 50.8,114.1 51.3,113.3 51.8,114.6 52.3,115.1 52.8,114.9 53.3,114.3 53.8,114.5 54.3,113.9 54.8,114.3 55.3,114.3 55.8,114.2 56.3,113.0 56.8,114.3 57.3,114.4 57.8,113.9 58.3,114.4 58.8,114.6 59.3,113.2 59.8,114.6 60.3,113.9 60.8,113.4 61.3,113.9 61.8,113.3 62.3,113.3 62.8,113.0 63.3,113.0 63.8,112.6 64.3,112.7 64.8,112.4 65.3,112.1 65.8,113.1 66.3,112.5 66.8,112.6 67.3,113.0 67.8,112.4 68.3,112.0 68.8,111.3 69.3,112.1 69.8,111.8 70.3,111.9 70.8,111.2 71.3,111.0 71.8,110.0 72.3,111.1 72.8,110.0 73.3,110.4 73.8,110.7 74.3,110.3 74.8,110.1 75.3,110.2 75.8,109.1 76.3,109.8 76.8,110.2 77.3,110.0 77.8,108.5 78.3,109.3 78.8,108.9 79.3,107.9 79.8,107.5 80.3,107.8 80.8,108.3 81.3,107.6 81.8,106.7 82.3,106.9 82.8,107.1 83.3,106.3 83.8,105.9 84.3,106.1 84.8,104.6 85.3,105.5 85.8,104.4 86.3,104.8 86.8,104.8 87.3,104.3 87.8,103.8 88.3,103.8 88.8,104.1 89.3,102.9 89.8,102.9 90.3,103.2 90.8,103.2 91.3,102.6 91.8,102.2 92.3,102.5 92.8,101.8 93.3,102.8 93.8,102.4 94.3,102.6 94.8,101.2 95.3,101.4 95.8,101.4 96.3,100.9 96.8,101.2 97.3,101.8 97.8,100.9 98.3,101.1 98.8,101.9 99.3,101.3 99.8,101.3 100.3,101.1 100.8,100.9 101.3,101.2 101.8,101.6 102.3,101.3 102.8,101.7 103.3,101.5 103.8,101.8 104.3,102.7 104.8,102.3 105.3,101.5 105.8,102.2 106.3,103.2 106.8,103.3 107.3,102.0 107.8,102.8 108.3,102.7 108.8,101.7 109.3,103.1 109.8,103.9 110.3,102.8 110.8,103.1 111.3,103.7 111.8,103.2 112.3,103.3 112.8,103.7 113.3,103.0 113.8,104.0 114.3,103.3 114.8,104.0 115.3,104.4 115.8,104.9 116.3,103.8 116.8,104.2 117.3,104.1 117.8,103.0 118.3,103.8 118.8,103.8 119.3,103.9 119.8,104.5 120.3,103.5 120.8,103.4 121.3,103.3 121.8,103.2 122.3,103.4 122.8,103.8 123.3,102.5 123.8,102.9 124.3,101.7 124.8,101.9 125.3,102.7 125.8,101.5 126.3,102.5 126.8,102.9 127.3,101.8 127.8,101.7 128.3,101.9 128.8,101.6 129.3,101.7 129.8,101.2 130.3,101.9 130.8,101.5 131.3,101.2 131.8,100.1 132.3,100.7 132.8,100.9 133.3,101.1 133.8,100.3 134.3,100.8 134.8,100.8 135.3,100.1 135.8,100.6 136.3,100.1 136.8,99.6 137.3,100.0 137.8,100.6 138.3,100.1 138.8,99.9 139.3,100.2 139.8,100.1 140.3,99.8 140.8,98.8 141.3,98.6 141.8,99.3 142.3,101.1 142.8,101.0 143.3,100.3 143.8,101.7 144.3,101.0 144.8,102.0 145.3,102.6 145.8,102.5 146.3,103.3 146.8,103.8 147.3,103.1 147.8,104.3 148.3,105.0 148.8,105.0 149.3,105.0 149.8,106.8 150.3,106.7 150.8,106.8 151.3,107.0 151.8,107.7 152.3,108.6 152.8,108.2 153.3,109.0 153.8,109.2 154.3,109.3 154.8,109.7 155.3,110.1 155.8,110.0 156.3,110.1 156.8,111.4 157.3,112.0 157.8,112.0 158.3,111.5 158.8,112.0 159.3,111.9 159.8,111.6 160.3,111.9 160.8,112.2 161.3,112.8 161.8,112.2 162.3,113.3 162.8,112.9 163.3,113.5 163.8,113.5 164.3,113.3 164.8,113.4 165.3,113.5 165.8,113.4 166.3,113.5 166.8,114.0 167.3,113.4 167.8,113.8 168.3,113.4 168.8,112.8 169.3,113.1 169.8,113.1 170.3,113.2 170.8,112.5 171.3,113.1 171.8,112.3 172.3,112.4 172.8,112.6 173.3,112.3 173.8,111.7 174.3,111.4 174.8,111.6 175.3,111.3 175.8,112.5 176.3,110.9 176.8,110.6 177.3,112.1 177.8,110.2 178.3,110.6 178.8,110.9 179.3,110.6 179.8,110.6 180.3,111.0 180.8,111.2 181.3,110.1 181.8,110.1 182.3,109.7 182.8,109.4 183.3,109.3 183.8,109.5 184.3,109.1 184.8,109.3 185.3,108.8 185.8,108.4 186.3,108.6 186.8,108.5 187.3,108.3 187.8,108.2 188.3,108.4 188.8,107.2 189.3,107.9 189.8,106.9 190.3,106.7 190.8,107.0 191.3,106.5 191.8,105.0 192.3,105.6 192.8,105.7 193.3,104.4 193.8,104.3 194.3,105.2 194.8,104.5 195.3,106.3 195.8,105.3 196.3,106.1 196.8,106.6 197.3,107.1 197.8,108.1 198.3,108.2 198.8,108.2 199.3,108.3 199.8,107.6 200.3,108.2 200.8,109.1 201.3,108.1 201.8,109.4 202.3,108.8 202.8,108.6 203.3,109.5 203.8,109.6 204.3,109.1 204.8,109.2 205.3,109.2 205.8,109.4 206.3,108.8 206.8,109.6 207.3,110.6 207.8,109.9 208.3,110.4 208.8,110.7 209.3,110.5 209.8,110.3 210.3,110.4 210.8,110.5 211.3,111.0 211.8,110.8 212.3,111.5 212.8,112.1 213.3,111.6 213.8,110.9 214.3,111.9 214.8,111.8 215.3,111.8 215.8,111.8 216.3,112.2 216.8,113.9 217.3,114.0 217.8,113.5 218.3,112.5 218.8,113.1 219.3,113.6 219.8,113.1 220.3,113.7 220.8,113.9 221.3,114.2 221.8,113.7 222.3,113.7 222.8,113.5 223.3,113.5 223.8,113.7 224.3,113.6 224.8,114.1 225.3,113.9 225.8,113.7 226.3,114.5 226.8,113.7 227.3,114.2 227.8,114.2 228.3,113.7 228.8,114.0 229.3,114.2 229.8,113.9 230.3,113.6 230.8,115.3 231.3,113.9 231.8,114.0 232.3,114.0 232.8,114.1 233.3,114.5 233.8,114.5 234.3,113.9 234.8,114.3 235.3,114.4 235.8,114.1 236.3,114.6 236.8,114.3 237.3,114.6 237.8,113.7 238.3,115.0 238.8,114.1 239.3,113.7 239.8,113.8 240.3,113.8 240.8,114.3 241.3,113.2 241.8,113.8 242.3,114.7 242.8,114.7 243.3,113.7 243.8,114.3 244.3,114.3 244.8,114.1 244.8,120.0 244.3,120.3 243.8,120.3 243.3,119.6 242.8,120.3 242.3,120.3 241.8,120.1 241.3,119.6 240.8,119.3 240.3,119.8 239.8,120.3 239.3,120.3 238.8,119.7 238.3,120.3 237.8,119.5 237.3,120.3 236.8,119.6 236.3,120.3 235.8,120.1 235.3,119.6 234.8,120.3 234.3,120.3 233.8,120.1 233.3,119.7 232.8,119.7 232.3,120.0 231.8,119.2 231.3,119.2 230.8,120.1 230.3,120.2 229.8,120.3 229.3,120.3 228.8,119.9 228.3,120.0 227.8,120.3 227.3,119.9 226.8,119.8 226.3,120.0 225.8,120.3 225.3,119.7 224.8,118.7 224.3,119.5 223.8,119.9 223.3,120.0 222.8,120.1 222.3,119.7 221.8,120.3 221.3,120.2 220.8,120.1 220.3,120.0 219.8,120.3 219.3,119.8 218.8,120.3 218.3,120.3 217.8,120.2 217.3,120.3 216.8,120.1 216.3,120.3 215.8,119.7 215.3,119.7 214.8,120.3 214.3,120.3 213.8,119.7 213.3,120.2 212.8,119.6 212.3,120.3 211.8,119.5 211.3,120.0 210.8,120.3 210.3,119.5 209.8,119.7 209.3,120.3 208.8,119.1 208.3,119.9 207.8,119.4 207.3,120.1 206.8,119.9 206.3,119.6 205.8,119.3 205.3,119.5 204.8,120.0 204.3,120.0 203.8,120.2 203.3,120.3 202.8,119.9 202.3,120.3 201.8,120.3 201.3,120.3 200.8,119.9 200.3,119.6 199.8,119.7 199.3,120.0 198.8,120.2 198.3,120.1 197.8,120.3 197.3,119.5 196.8,120.0 196.3,119.2 195.8,120.3 195.3,120.3 194.8,119.8 194.3,119.7 193.8,119.4 193.3,120.0 192.8,120.1 192.3,120.1 191.8,119.6 191.3,119.0 190.8,120.3 190.3,120.3 189.8,120.3 189.3,120.3 188.8,119.0 188.3,120.0 187.8,120.3 187.3,120.0 186.8,119.9 186.3,120.3 185.8,120.1 185.3,119.8 184.8,120.1 184.3,120.3 183.8,119.7 183.3,119.8 182.8,120.3 182.3,119.8 181.8,120.0 181.3,119.2 180.8,120.0 180.3,120.1 179.8,120.3 179.3,119.5 178.8,120.3 178.3,120.0 177.8,120.1 177.3,119.7 176.8,120.3 176.3,120.1 175.8,120.3 175.3,119.3 174.8,120.0 174.3,119.7 173.8,119.8 173.3,120.3 172.8,120.3 172.3,119.6 171.8,120.3 171.3,120.0 170.8,119.6 170.3,119.6 169.8,120.3 169.3,120.1 168.8,120.1 168.3,120.2 167.8,119.5 167.3,120.1 166.8,120.3 166.3,120.2 165.8,120.3 165.3,120.0 164.8,118.7 164.3,119.2 163.8,119.1 163.3,120.2 162.8,119.8 162.3,119.9 161.8,120.0 161.3,119.7 160.8,120.3 160.3,120.1 159.8,120.3 159.3,119.9 158.8,120.1 158.3,119.3 157.8,119.9 157.3,120.3 156.8,120.3 156.3,119.9 155.8,119.0 155.3,119.5 154.8,119.3 154.3,120.3 153.8,119.9 153.3,119.4 152.8,120.3 152.3,120.3 151.8,120.0 151.3,120.3 150.8,119.8 150.3,120.0 149.8,119.5 149.3,119.1 148.8,120.1 148.3,119.4 147.8,119.3 147.3,119.4 146.8,119.4 146.3,119.9 145.8,118.2 145.3,119.6 144.8,118.5 144.3,117.8 143.8,119.5 143.3,117.6 142.8,118.4 142.3,118.4 141.8,115.7 141.3,115.5 140.8,115.6 140.3,116.7 139.8,116.5 139.3,117.4 138.8,116.0 138.3,117.9 137.8,118.5 137.3,117.1 136.8,116.9 136.3,116.8 135.8,118.5 135.3,115.9 134.8,117.5 134.3,118.5 133.8,116.5 133.3,118.1 132.8,118.4 132.3,117.8 131.8,116.5 131.3,118.3 130.8,118.0 130.3,119.0 129.8,117.8 129.3,118.9 128.8,118.4 128.3,119.3 127.8,118.8 127.3,118.4 126.8,119.6 126.3,119.7 125.8,118.2 125.3,119.4 124.8,119.2 124.3,118.6 123.8,120.3 123.3,118.8 122.8,120.1 122.3,120.0 121.8,119.6 121.3,119.5 120.8,120.3 120.3,119.9 119.8,120.2 119.3,120.1 118.8,120.1 118.3,120.3 117.8,119.6 117.3,120.1 116.8,119.5 116.3,120.0 115.8,119.8 115.3,119.0 114.8,119.9 114.3,120.3 113.8,120.3 113.3,120.3 112.8,120.2 112.3,119.5 111.8,120.3 111.3,119.9 110.8,119.3 110.3,119.0 109.8,120.0 109.3,119.5 108.8,118.6 108.3,119.6 107.8,120.1 107.3,118.7 106.8,120.3 106.3,119.9 105.8,119.4 105.3,118.6 104.8,119.1 104.3,119.2 103.8,119.7 103.3,118.3 102.8,119.0 102.3,118.5 101.8,117.8 101.3,118.4 100.8,118.5 100.3,117.5 99.8,118.8 99.3,118.1 98.8,118.7 98.3,117.8 97.8,117.9 97.3,119.2 96.8,117.9 96.3,116.8 95.8,117.9 95.3,117.7 94.8,118.3 94.3,119.6 93.8,119.7 93.3,120.2 92.8,118.4 92.3,119.5 91.8,119.1 91.3,119.6 90.8,120.3 90.3,120.3 89.8,119.2 89.3,120.3 88.8,119.5 88.3,119.3 87.8,120.3 87.3,120.1 86.8,119.1 86.3,120.3 85.8,119.4 85.3,119.2 84.8,120.3 84.3,120.1 83.8,120.2 83.3,119.2 82.8,120.3 82.3,119.5 81.8,119.5 81.3,119.8 80.8,119.4 80.3,120.3 79.8,120.2 79.3,119.6 78.8,120.3 78.3,119.2 77.8,119.9 77.3,119.9 76.8,120.3 76.3,120.3 75.8,120.3 75.3,120.3 74.8,120.3 74.3,120.1 73.8,120.3 73.3,119.6 72.8,119.5 72.3,119.1 71.8,120.0 71.3,120.3 70.8,119.4 70.3,119.2 69.8,119.8 69.3,120.1 68.8,119.9 68.3,120.3 67.8,120.2 67.3,119.6 66.8,120.0 66.3,119.5 65.8,119.6 65.3,120.3 64.8,119.3 64.3,120.2 63.8,120.1 63.3,120.1 62.8,120.3 62.3,120.3 61.8,119.8 61.3,119.5 60.8,119.7 60.3,120.3 59.8,119.7 59.3,120.3 58.8,119.8 58.3,120.3 57.8,120.2 57.3,120.2 56.8,119.4 56.3,120.1 55.8,119.9 55.3,120.0 54.8,119.5 54.3,120.3 53.8,119.6 53.3,120.3 52.8,120.1 52.3,120.3 51.8,120.3 51.3,118.6 50.8,120.3 50.3,120.3 49.8,119.6 49.3,119.7 48.8,120.3 48.3,120.1 47.8,120.3 47.3,120.0 46.8,120.1 46.3,120.3 45.8,119.9 45.3,119.8 44.8,120.0 44.3,120.1 43.8,119.7 43.3,120.1 42.8,119.9 42.3,120.1 41.8,120.3 41.3,120.3 40.8,119.6 40.3,120.3 39.8,119.6 39.3,119.6 38.8,120.3 38.3,120.2 37.8,119.9 37.3,120.3 36.8,119.8" fill="#ff7f00"/>
<path d="M38.8 114.4V112.7M39.8 114.7V113.1M48.8 115.8V113.1M50.3 113.8V110.8M52.3 115.6V113.7M56.3 113.5V111.3M59.8 115.1V113.6M68.8 111.8V109.9M70.3 112.4V110.7M81.3 108.1V105.5M83.3 106.8V104.4M93.3 103.3V102.1M97.3 102.3V100.5M98.3 101.6V99.1M117.3 104.6V102.9M137.8 101.1V99.5M168.3 113.9V111.1M171.8 112.8V111.6M172.3 112.9V111.5M177.3 112.6V111.4M184.3 109.6V108.5M216.8 114.4V111.5M218.8 113.6V112.5M219.3 114.1V112.8M220.3 114.2V112.6M227.3 114.7V112.0M234.8 114.8V112.0" stroke="#ff7f00" stroke-width="0.5" opacity="0.7"/>
<path d="M36.8 120.3V119.3M39.3 120.1V118.0M39.8 120.1V118.2M41.8 120.8V119.2M42.3 120.6V118.4M43.8 120.2V118.8M44.3 120.6V119.7M46.3 120.8V119.4M48.3 120.6V118.3M49.8 120.1V119.0M51.8 120.8V119.2M53.8 120.1V118.0M55.8 120.4V118.8M57.8 120.7V119.1M58.3 120.8V119.7M58.8 120.3V119.0M59.3 120.8V119.7M61.3 120.0V118.5M61.8 120.3V118.1M62.3 120.8V118.1M64.3 120.7V117.8M65.3 120.8V119.7M67.8 120.7V118.1M69.3 120.6V118.4M69.8 120.3V119.4M70.8 119.9V117.6M71.3 120.8V118.0M72.8 120.0V118.4M73.3 120.1V118.2M74.3 120.6V117.6M75.3 120.8V117.6M75.8 120.8V119.4M76.8 120.8V118.7M77.3 120.4V117.5M78.8 120.8V117.3M79.3 120.1V116.1M79.8 120.7V117.0M80.8 119.9V116.6M81.3 120.3V117.6M82.8 120.8V118.1M83.3 119.7V118.7M83.8 120.7V118.1M84.8 120.8V117.3M85.3 119.7V118.0M86.3 120.8V118.5M86.8 119.6V117.0M87.8 120.8V115.3M88.8 120.0V118.8M90.8 120.8V116.5M91.3 120.1V115.7M91.8 119.6V118.2M92.8 118.9V113.4M93.8 120.2V118.1M94.8 118.8V115.5M97.3 119.7V116.3M99.8 119.3V114.3M100.3 118.0V115.1M100.8 119.0V116.0M102.3 119.0V114.8M103.8 120.2V116.5M104.3 119.7V117.3M104.8 119.6V114.7M108.8 119.1V115.7M109.8 120.5V115.0M111.8 120.8V115.2M112.8 120.7V118.9M114.3 120.8V118.0M114.8 120.4V115.4M116.8 120.0V117.3M117.3 120.6V114.9M119.3 120.6V118.1M120.3 120.4V116.0M121.3 120.0V115.3M121.8 120.1V118.9M122.8 120.6V117.1M123.3 119.3V114.7M124.8 119.7V116.8M125.8 118.7V117.3M126.8 120.1V117.6M127.3 118.9V116.4M127.8 119.3V116.4M128.8 118.9V112.9M130.3 119.5V115.8M133.3 118.6V113.9M133.8 117.0V112.3M134.8 118.0V116.0M137.3 117.6V112.4M137.8 119.0V116.5M138.3 118.4V115.2M138.8 116.5V113.1M140.3 117.2V115.7M140.8 116.1V114.9M141.3 116.0V110.6M142.8 118.9V115.5M144.3 118.3V116.4M145.8 118.7V117.1M146.3 120.4V114.8M148.8 120.6V117.7M149.8 120.0V115.7M150.8 120.3V117.8M151.8 120.5V119.5M152.3 120.8V118.1M155.3 120.0V117.1M157.3 120.8V118.6M158.3 119.8V116.7M159.8 120.8V118.3M161.3 120.2V118.4M162.3 120.4V117.9M165.8 120.8V119.8M166.3 120.7V119.5M167.8 120.0V118.9M169.3 120.6V119.1M170.3 120.1V118.4M170.8 120.1V118.9M172.3 120.1V117.7M173.3 120.8V117.9M175.3 119.8V117.8M178.3 120.5V117.2M179.3 120.0V118.7M181.8 120.5V116.9M182.3 120.3V116.7M184.8 120.6V116.7M185.3 120.3V118.8M185.8 120.6V116.5M186.8 120.4V116.9M187.3 120.5V119.4M187.8 120.8V116.4M188.3 120.5V116.7M189.8 120.8V116.4M190.8 120.8V116.6M191.8 120.1V116.0M193.3 120.5V116.4M193.8 119.9V115.2M194.3 120.2V116.8M197.3 120.0V115.6M197.8 120.8V117.6M198.3 120.6V116.2M199.3 120.5V117.1M201.3 120.8V119.6M202.8 120.4V119.1M203.3 120.8V117.2M204.3 120.5V117.7M206.3 120.1V118.5M207.3 120.6V117.0M210.3 120.0V117.5M211.3 120.5V119.6M211.8 120.0V118.9M213.8 120.2V117.1M214.8 120.8V117.7M215.8 120.2V119.3M217.3 120.8V119.8M218.3 120.8V119.6M218.8 120.8V119.4M219.8 120.8V119.9M221.3 120.7V119.0M222.3 120.2V117.9M225.3 120.2V118.2M225.8 120.8V119.2M226.8 120.3V119.0M227.3 120.4V118.5M227.8 120.8V119.7M228.8 120.4V119.4M229.3 120.8V119.2M230.3 120.7V119.1M231.3 119.7V118.9M234.3 120.8V119.1M234.8 120.8V119.4M235.8 120.6V118.9M238.8 120.2V118.5M240.8 119.8V118.9M241.8 120.6V118.8M242.8 120.8V119.3M243.8 120.8V119.4M244.8 120.5V119.7" stroke="#fff" stroke-width="0.6" opacity="0.85"/>
<path d="M37.8 114.3V116.0M46.8 113.7V115.3M48.8 115.0V116.8M60.3 113.6V114.6M64.3 112.4V114.1M67.3 112.7V115.4M67.8 112.1V114.7M71.3 110.7V112.4M84.8 104.3V109.3M88.3 103.5V108.8M89.8 102.6V107.2M91.3 102.3V107.8M92.8 101.5V103.6M101.8 101.3V106.5M112.3 103.0V107.8M122.8 103.5V105.5M123.3 102.2V107.1M124.8 101.6V104.1M126.3 102.2V104.7M132.8 100.6V105.1M135.8 100.3V107.2M141.3 98.3V100.5M142.3 100.8V104.1M143.3 100.0V107.0M144.3 100.7V103.6M149.3 104.7V109.2M166.8 113.7V115.7M167.8 113.5V114.7M170.8 112.2V113.5M182.3 109.4V112.0M183.3 109.0V111.2M210.8 110.2V112.6M211.8 110.5V113.1M213.3 111.3V114.8M214.3 111.6V114.5M215.3 111.5V114.9" stroke="#fff" stroke-width="0.4" opacity="0.6"/>
<polygon points="36.8,141.9 37.3,140.8 37.8,141.7 38.3,140.9 38.8,141.9 39.3,140.7 39.8,141.1 40.3,141.1 40.8,140.5 41.3,141.8 41.8,140.7 42.3,140.8 42.8,141.1 43.3,141.7 43.8,141.0 44.3,142.3 44.8,141.4 45.3,141.3 45.8,141.6 46.3,141.3 46.8,140.9 47.3,141.2 47.8,141.5 48.3,142.1 48.8,141.5 49.3,141.6 49.8,140.4 50.3,141.3 50.8,141.4 51.3,142.2 51.8,142.1 52.3,141.5 52.8,141.6 53.3,141.4 53.8,141.1 54.3,141.4 54.8,141.2 55.3,141.5 55.8,141.7 56.3,141.3 56.8,141.9 57.3,140.9 57.8,141.4 58.3,141.3 58.8,140.1 59.3,140.9 59.8,140.7 60.3,140.9 60.8,139.8 61.3,139.8 61.8,139.5 62.3,138.2 62.8,138.8 63.3,137.7 63.8,138.2 64.3,138.1 64.8,137.6 65.3,136.3 65.8,137.6 66.3,136.8 66.8,136.9 67.3,136.0 67.8,135.9 68.3,136.8 68.8,135.6 69.3,135.3 69.8,135.1 70.3,135.5 70.8,134.2 71.3,134.5 71.8,134.1 72.3,135.4 72.8,134.7 73.3,134.1 73.8,134.0 74.3,133.7 74.8,133.4 75.3,133.4 75.8,134.2 76.3,133.1 76.8,133.0 77.3,133.1 77.8,133.5 78.3,132.9 78.8,132.1 79.3,132.4 79.8,132.3 80.3,131.4 80.8,131.2 81.3,131.4 81.8,130.6 82.3,131.2 82.8,130.2 83.3,129.4 83.8,129.2 84.3,128.7 84.8,128.8 85.3,129.4 85.8,129.0 86.3,128.1 86.8,128.4 87.3,129.2 87.8,128.4 88.3,128.8 88.8,129.4 89.3,128.7 89.8,128.7 90.3,128.6 90.8,129.3 91.3,128.5 91.8,128.3 92.3,128.8 92.8,129.5 93.3,129.0 93.8,129.5 94.3,129.4 94.8,128.3 95.3,128.8 95.8,128.8 96.3,128.8 96.8,129.4 97.3,129.5 97.8,129.2 98.3,129.4 98.8,128.6 99.3,129.2 99.8,128.4 100.3,128.7 100.8,128.3 101.3,129.4 101.8,128.6 102.3,129.2 102.8,128.2 103.3,128.9 103.8,129.2 104.3,128.9 104.8,128.9 105.3,128.9 105.8,128.8 106.3,128.7 106.8,128.5 107.3,129.3 107.8,128.9 108.3,128.9 108.8,129.0 109.3,128.3 109.8,128.2 110.3,128.2 110.8,129.7 111.3,128.7 111.8,129.2 112.3,128.0 112.8,128.7 113.3,128.9 113.8,128.6 114.3,129.3 114.8,128.7 115.3,128.8 115.8,129.4 116.3,129.6 116.8,129.0 117.3,128.6 117.8,128.7 118.3,129.4 118.8,128.4 119.3,128.4 119.8,128.4 120.3,129.2 120.8,128.7 121.3,127.9 121.8,127.8 122.3,128.0 122.8,127.5 123.3,127.1 123.8,127.0 124.3,127.3 124.8,127.1 125.3,127.4 125.8,127.3 126.3,127.2 126.8,127.8 127.3,127.9 127.8,126.8 128.3,127.9 128.8,127.6 129.3,127.4 129.8,128.2 130.3,128.1 130.8,128.3 131.3,128.0 131.8,129.1 132.3,128.7 132.8,128.3 133.3,129.5 133.8,128.4 134.3,129.6 134.8,128.9 135.3,128.8 135.8,128.9 136.3,128.9 136.8,129.0 137.3,129.7 137.8,129.6 138.3,129.0 138.8,130.0 139.3,129.3 139.8,130.4 140.3,130.0 140.8,130.2 141.3,131.1 141.8,130.0 142.3,132.3 142.8,133.0 143.3,132.4 143.8,132.5 144.3,132.3 144.8,133.4 145.3,133.2 145.8,133.5 146.3,133.6 146.8,134.9 147.3,135.0 147.8,134.3 148.3,135.2 148.8,135.0 149.3,136.3 149.8,135.8 150.3,136.5 150.8,137.1 151.3,137.1 151.8,136.9 152.3,137.7 152.8,137.7 153.3,139.5 153.8,139.7 154.3,139.0 154.8,139.7 155.3,141.8 155.8,141.5 156.3,141.3 156.8,142.0 157.3,141.8 157.8,142.1 158.3,141.7 158.8,142.7 159.3,142.2 159.8,141.6 160.3,142.1 160.8,141.9 161.3,142.2 161.8,142.1 162.3,141.9 162.8,141.4 163.3,141.8 163.8,141.4 164.3,142.3 164.8,141.0 165.3,141.3 165.8,141.1 166.3,140.7 166.8,141.2 167.3,141.0 167.8,140.8 168.3,141.2 168.8,140.1 169.3,140.4 169.8,140.0 170.3,139.8 170.8,138.7 171.3,138.4 171.8,138.9 172.3,137.6 172.8,138.3 173.3,138.0 173.8,136.5 174.3,136.5 174.8,135.9 175.3,136.0 175.8,135.8 176.3,134.7 176.8,134.4 177.3,134.1 177.8,132.7 178.3,132.7 178.8,132.8 179.3,131.9 179.8,132.6 180.3,131.3 180.8,131.4 181.3,131.3 181.8,131.4 182.3,130.6 182.8,130.8 183.3,131.1 183.8,130.9 184.3,131.1 184.8,130.5 185.3,130.3 185.8,129.5 186.3,130.2 186.8,130.8 187.3,130.4 187.8,131.1 188.3,131.8 188.8,131.3 189.3,132.1 189.8,132.1 190.3,131.9 190.8,132.4 191.3,132.6 191.8,131.8 192.3,133.3 192.8,131.9 193.3,133.0 193.8,132.7 194.3,132.9 194.8,133.4 195.3,133.3 195.8,133.5 196.3,133.8 196.8,133.7 197.3,134.4 197.8,134.1 198.3,135.1 198.8,134.6 199.3,135.5 199.8,135.4 200.3,136.6 200.8,135.8 201.3,137.0 201.8,136.5 202.3,136.2 202.8,137.7 203.3,137.7 203.8,138.1 204.3,137.3 204.8,138.1 205.3,138.5 205.8,138.0 206.3,139.4 206.8,138.2 207.3,138.9 207.8,138.2 208.3,138.4 208.8,138.7 209.3,139.0 209.8,139.3 210.3,139.5 210.8,138.4 211.3,139.5 211.8,139.3 212.3,138.8 212.8,139.4 213.3,140.1 213.8,140.1 214.3,139.3 214.8,139.8 215.3,139.9 215.8,140.8 216.3,140.2 216.8,140.1 217.3,140.5 217.8,139.5 218.3,140.7 218.8,141.2 219.3,141.0 219.8,140.0 220.3,142.0 220.8,141.3 221.3,141.0 221.8,141.1 222.3,141.6 222.8,141.2 223.3,141.3 223.8,141.7 224.3,141.0 224.8,141.9 225.3,141.2 225.8,141.9 226.3,142.2 226.8,141.9 227.3,142.1 227.8,141.5 228.3,141.3 228.8,142.2 229.3,141.6 229.8,141.3 230.3,141.5 230.8,141.4 231.3,142.0 231.8,142.0 232.3,142.4 232.8,141.2 233.3,141.7 233.8,141.7 234.3,140.8 234.8,141.7 235.3,142.0 235.8,141.3 236.3,141.1 236.8,142.7 237.3,141.1 237.8,142.4 238.3,141.8 238.8,141.9 239.3,141.5 239.8,141.3 240.3,142.3 240.8,142.5 241.3,141.3 241.8,142.2 242.3,141.7 242.8,142.1 243.3,141.6 243.8,141.4 244.3,141.0 244.8,140.9 244.8,147.6 244.3,147.6 243.8,148.2 243.3,148.2 242.8,148.2 242.3,148.1 241.8,148.0 241.3,148.2 240.8,148.2 240.3,147.5 239.8,147.5 239.3,147.6 238.8,148.1 238.3,148.0 237.8,147.5 237.3,148.2 236.8,148.2 236.3,148.2 235.8,147.4 235.3,147.8 234.8,147.9 234.3,148.2 233.8,147.1 233.3,147.3 232.8,147.9 232.3,148.2 231.8,147.8 231.3,148.1 230.8,148.2 230.3,148.2 229.8,148.1 229.3,148.2 228.8,148.2 228.3,148.2 227.8,147.7 227.3,147.8 226.8,147.4 226.3,147.4 225.8,148.2 225.3,148.2 224.8,148.2 224.3,147.8 223.8,148.2 223.3,147.3 222.8,147.8 222.3,148.2 221.8,148.2 221.3,147.7 220.8,147.9 220.3,146.8 219.8,147.9 219.3,147.7 218.8,148.2 218.3,147.2 217.8,148.1 217.3,147.8 216.8,148.1 216.3,147.7 215.8,148.2 215.3,147.4 214.8,148.2 214.3,147.9 213.8,148.0 213.3,147.8 212.8,147.4 212.3,147.0 211.8,147.9 211.3,148.1 210.8,147.5 210.3,147.7 209.8,148.0 209.3,148.2 208.8,147.9 208.3,147.4 207.8,148.1 207.3,147.6 206.8,148.1 206.3,148.2 205.8,147.8 205.3,147.5 204.8,147.5 204.3,147.7 203.8,148.2 203.3,147.5 202.8,148.2 202.3,147.6 201.8,148.0 201.3,147.9 200.8,147.4 200.3,148.2 199.8,148.2 199.3,148.2 198.8,148.2 198.3,147.9 197.8,147.5 197.3,148.0 196.8,148.2 196.3,147.6 195.8,147.9 195.3,147.3 194.8,148.2 194.3,148.2 193.8,148.2 193.3,148.2 192.8,147.7 192.3,148.2 191.8,148.1 191.3,148.2 190.8,148.2 190.3,148.0 189.8,147.8 189.3,148.2 188.8,146.8 188.3,147.2 187.8,147.5 187.3,146.6 186.8,147.4 186.3,145.2 185.8,145.2 185.3,146.0 184.8,146.8 184.3,148.0 183.8,147.0 183.3,147.5 182.8,146.7 182.3,145.7 181.8,148.1 181.3,147.2 180.8,147.7 180.3,147.6 179.8,148.2 179.3,148.2 178.8,147.6 178.3,148.0 177.8,148.2 177.3,148.2 176.8,148.2 176.3,147.6 175.8,147.2 175.3,147.4 174.8,147.8 174.3,148.1 173.8,148.1 173.3,148.2 172.8,148.0 172.3,148.2 171.8,147.4 171.3,146.7 170.8,148.0 170.3,148.0 169.8,147.2 169.3,148.2 168.8,148.2 168.3,147.7 167.8,148.2 167.3,148.2 166.8,147.9 166.3,148.0 165.8,148.2 165.3,147.8 164.8,148.2 164.3,148.2 163.8,148.2 163.3,147.2 162.8,148.2 162.3,148.2 161.8,148.2 161.3,147.5 160.8,148.0 160.3,148.2 159.8,148.2 159.3,148.1 158.8,147.6 158.3,148.2 157.8,148.2 157.3,148.1 156.8,148.1 156.3,148.2 155.8,148.2 155.3,147.7 154.8,147.6 154.3,148.2 153.8,147.3 153.3,148.1 152.8,148.2 152.3,148.2 151.8,148.2 151.3,147.2 150.8,147.7 150.3,148.2 149.8,147.5 149.3,147.0 148.8,148.2 148.3,147.8 147.8,147.6 147.3,148.1 146.8,148.1 146.3,148.2 145.8,148.2 145.3,148.2 144.8,148.2 144.3,147.7 143.8,148.2 143.3,148.2 142.8,148.2 142.3,148.2 141.8,146.3 141.3,145.8 140.8,145.6 140.3,146.3 139.8,146.6 139.3,145.9 138.8,146.6 138.3,144.3 137.8,145.1 137.3,145.4 136.8,144.5 136.3,144.7 135.8,145.0 135.3,145.0 134.8,145.7 134.3,145.5 133.8,144.7 133.3,144.9 132.8,144.7 132.3,144.1 131.8,145.4 131.3,143.9 130.8,143.3 130.3,143.7 129.8,143.9 129.3,143.4 128.8,144.5 128.3,144.0 127.8,143.0 127.3,143.8 126.8,143.4 126.3,142.4 125.8,141.8 125.3,144.1 124.8,143.3 124.3,142.9 123.8,143.1 123.3,143.3 122.8,142.7 122.3,143.7 121.8,142.9 121.3,144.9 120.8,145.4 120.3,144.9 119.8,144.0 119.3,145.6 118.8,144.8 118.3,145.2 117.8,145.1 117.3,144.5 116.8,144.8 116.3,144.9 115.8,145.2 115.3,145.3 114.8,145.6 114.3,144.8 113.8,145.1 113.3,145.3 112.8,144.0 112.3,143.6 111.8,144.8 111.3,144.4 110.8,146.5 110.3,143.9 109.8,143.8 109.3,144.5 108.8,145.8 108.3,144.9 107.8,145.4 107.3,145.2 106.8,144.0 106.3,144.0 105.8,144.8 105.3,145.4 104.8,144.4 104.3,145.0 103.8,145.1 103.3,145.4 102.8,144.3 102.3,145.1 101.8,144.3 101.3,145.1 100.8,144.0 100.3,145.1 99.8,144.5 99.3,144.5 98.8,144.4 98.3,145.5 97.8,145.8 97.3,145.6 96.8,146.2 96.3,144.3 95.8,145.2 95.3,145.8 94.8,144.8 94.3,145.6 93.8,145.5 93.3,145.6 92.8,145.3 92.3,145.0 91.8,143.9 91.3,144.6 90.8,145.7 90.3,144.2 89.8,145.3 89.3,145.2 88.8,145.8 88.3,144.6 87.8,144.8 87.3,145.6 86.8,143.6 86.3,143.8 85.8,145.1 85.3,145.8 84.8,144.1 84.3,145.2 83.8,145.3 83.3,146.2 82.8,145.7 82.3,147.6 81.8,146.1 81.3,147.6 80.8,147.4 80.3,146.7 79.8,147.4 79.3,147.1 78.8,148.2 78.3,147.8 77.8,147.8 77.3,147.8 76.8,147.8 76.3,148.2 75.8,148.2 75.3,147.8 74.8,148.2 74.3,148.2 73.8,148.1 73.3,147.4 72.8,147.9 72.3,148.0 71.8,148.2 71.3,148.2 70.8,148.2 70.3,148.2 69.8,148.2 69.3,147.0 68.8,148.0 68.3,147.5 67.8,147.5 67.3,148.2 66.8,147.5 66.3,147.9 65.8,147.7 65.3,148.1 64.8,148.2 64.3,148.1 63.8,148.1 63.3,147.5 62.8,147.6 62.3,147.5 61.8,148.2 61.3,148.1 60.8,147.5 60.3,148.1 59.8,148.2 59.3,148.2 58.8,147.2 58.3,148.2 57.8,148.0 57.3,147.1 56.8,148.2 56.3,148.1 55.8,147.7 55.3,148.1 54.8,146.8 54.3,148.1 53.8,148.2 53.3,148.0 52.8,147.7 52.3,147.5 51.8,148.2 51.3,147.5 50.8,148.1 50.3,148.0 49.8,148.2 49.3,148.2 48.8,147.7 48.3,147.5 47.8,147.4 47.3,147.1 46.8,148.0 46.3,148.2 45.8,147.6 45.3,148.2 44.8,147.8 44.3,147.4 43.8,147.5 43.3,147.5 42.8,148.0 42.3,148.2 41.8,147.3 41.3,148.2 40.8,148.0 40.3,148.2 39.8,148.2 39.3,148.1 38.8,147.6 38.3,147.1 37.8,147.4 37.3,147.8 36.8,147.9" fill="#984ea3"/>
<path d="M38.3 141.4V139.3M44.8 141.9V139.9M49.3 142.1V139.7M70.3 136.0V134.2M71.3 135.0V132.1M73.3 134.6V132.6M77.8 134.0V131.9M118.3 129.9V127.5M133.3 130.0V127.6M145.8 134.0V132.6M158.8 143.2V141.7M169.8 140.5V139.5M178.3 133.2V132.1M179.3 132.4V131.2M193.3 133.5V131.4M194.3 133.4V132.2M199.3 136.0V135.0M205.8 138.5V136.3M211.8 139.8V138.5M218.8 141.7V139.2M224.8 142.4V140.0M226.3 142.7V140.3M233.3 142.2V140.2M235.3 142.5V140.0M236.8 143.2V142.1" stroke="#984ea3" stroke-width="0.5" opacity="0.7"/>
<path d="M36.8 148.4V146.1M37.3 148.3V147.5M39.3 148.6V146.4M39.8 148.7V146.3M42.8 148.5V147.6M43.3 148.0V146.5M43.8 148.0V145.8M44.3 147.9V146.0M45.8 148.1V147.2M46.8 148.5V146.7M47.8 147.9V147.0M50.8 148.6V146.6M51.8 148.7V147.0M53.3 148.5V146.5M53.8 148.7V146.9M54.3 148.6V146.3M56.8 148.7V146.3M58.3 148.7V146.0M59.3 148.7V146.7M59.8 148.7V146.4M61.8 148.7V146.7M62.3 148.0V145.0M63.3 148.0V145.8M63.8 148.6V147.7M64.3 148.6V146.9M64.8 148.7V147.0M65.8 148.2V146.3M67.8 148.0V145.6M68.3 148.0V146.7M68.8 148.5V145.2M71.3 148.7V147.0M72.8 148.4V144.8M73.3 147.9V146.5M73.8 148.6V147.2M74.3 148.7V143.7M74.8 148.7V145.4M76.3 148.7V146.2M77.8 148.3V143.3M78.8 148.7V143.7M82.8 146.2V142.2M83.3 146.7V144.3M87.3 146.1V141.8M88.3 145.1V141.8M88.8 146.3V144.7M89.3 145.7V144.5M90.8 146.2V144.8M91.8 144.4V141.4M92.3 145.5V142.5M93.3 146.1V141.7M93.8 146.0V140.5M94.3 146.1V143.4M95.3 146.3V142.7M95.8 145.7V140.1M96.3 144.8V141.9M96.8 146.7V142.0M98.8 144.9V139.4M103.8 145.6V142.4M104.3 145.5V140.3M104.8 144.9V140.4M108.3 145.4V141.3M108.8 146.3V141.9M109.8 144.3V141.9M111.3 144.9V139.6M111.8 145.3V140.7M112.8 144.5V141.5M114.3 145.3V139.8M114.8 146.1V141.9M115.3 145.8V144.4M116.8 145.3V141.2M120.3 145.4V144.3M120.8 145.9V142.3M121.8 143.4V138.8M124.3 143.4V141.6M124.8 143.8V138.8M126.3 142.9V139.9M126.8 143.9V140.3M127.3 144.3V140.3M129.8 144.4V139.9M130.8 143.8V140.7M132.8 145.2V139.4M133.3 145.4V144.1M134.8 146.2V142.7M135.3 145.5V143.6M136.8 145.0V142.4M137.8 145.6V141.8M138.3 144.8V139.3M138.8 147.1V141.5M142.3 148.7V147.3M142.8 148.7V147.3M145.3 148.7V143.6M147.3 148.6V143.8M148.3 148.3V144.5M149.3 147.5V145.5M149.8 148.0V144.3M150.3 148.7V147.6M151.8 148.7V147.6M152.3 148.7V146.0M153.3 148.6V146.6M154.8 148.1V146.6M157.3 148.6V146.9M161.3 148.0V145.9M164.8 148.7V146.8M165.3 148.3V146.1M166.8 148.4V146.4M169.3 148.7V147.3M169.8 147.7V146.6M173.3 148.7V144.9M177.8 148.7V144.4M178.8 148.1V144.4M179.3 148.7V147.4M180.8 148.2V145.2M181.3 147.7V142.0M182.3 146.2V144.3M183.8 147.5V142.4M184.8 147.3V142.7M186.3 145.7V140.7M186.8 147.9V146.5M189.3 148.7V146.7M189.8 148.3V145.3M191.3 148.7V143.4M193.3 148.7V145.7M194.3 148.7V145.9M194.8 148.7V147.3M197.3 148.5V143.9M201.3 148.4V144.7M201.8 148.5V147.4M203.3 148.0V145.6M205.8 148.3V147.0M206.8 148.6V146.0M207.3 148.1V145.4M207.8 148.6V145.1M208.8 148.4V147.4M209.8 148.5V147.2M210.3 148.2V146.9M210.8 148.0V145.4M211.3 148.6V147.2M212.3 147.5V144.5M213.3 148.3V145.6M213.8 148.5V146.5M214.3 148.4V145.5M215.8 148.7V146.4M218.8 148.7V146.2M221.8 148.7V146.9M222.3 148.7V147.1M226.3 147.9V146.0M226.8 147.9V146.5M227.3 148.3V147.1M227.8 148.2V146.2M228.8 148.7V147.2M229.3 148.7V146.9M232.3 148.7V146.8M233.3 147.8V147.0M234.3 148.7V147.6M239.3 148.1V145.7M242.3 148.6V147.7M242.8 148.7V147.1M243.3 148.7V147.4M243.8 148.7V146.8M244.3 148.1V146.9M244.8 148.1V145.6" stroke="#fff" stroke-width="0.6" opacity="0.85"/>
<path d="M38.3 140.6V143.3M50.3 141.0V142.7M75.8 133.9V138.7M77.8 133.2V137.8M80.8 130.9V133.0M83.8 128.9V132.3M90.3 128.3V134.0M105.8 128.5V134.6M106.3 128.4V134.6M132.8 128.0V134.1M137.3 129.4V132.3M142.8 132.7V136.1M149.8 135.5V137.0M156.3 141.0V142.4M181.3 131.0V137.0M182.3 130.3V135.2M184.3 130.8V135.1M219.3 140.7V143.3M237.8 142.1V143.5" stroke="#fff" stroke-width="0.4" opacity="0.6"/>
<polygon points="36.8,169.7 37.3,169.7 37.8,169.1 38.3,169.4 38.8,169.4 39.3,169.4 39.8,170.4 40.3,169.3 40.8,169.3 41.3,169.2 41.8,169.9 42.3,169.2 42.8,169.4 43.3,169.8 43.8,169.7 44.3,169.0 44.8,170.2 45.3,169.5 45.8,169.8 46.3,169.5 46.8,170.2 47.3,169.2 47.8,169.1 48.3,169.6 48.8,170.0 49.3,169.4 49.8,169.8 50.3,170.1 50.8,168.8 51.3,170.0 51.8,169.9 52.3,169.2 52.8,169.4 53.3,169.2 53.8,169.8 54.3,169.1 54.8,169.7 55.3,170.0 55.8,168.6 56.3,169.6 56.8,169.4 57.3,169.2 57.8,169.6 58.3,169.2 58.8,168.4 59.3,168.6 59.8,168.7 60.3,168.2 60.8,167.8 61.3,169.3 61.8,168.6 62.3,168.4 62.8,167.6 63.3,166.5 63.8,167.1 64.3,167.3 64.8,166.6 65.3,166.4 65.8,166.6 66.3,167.2 66.8,166.2 67.3,165.9 67.8,165.4 68.3,166.2 68.8,165.6 69.3,165.3 69.8,165.1 70.3,164.9 70.8,165.1 71.3,165.8 71.8,164.8 72.3,164.9 72.8,164.2 73.3,164.6 73.8,163.7 74.3,164.9 74.8,163.9 75.3,164.1 75.8,163.5 76.3,163.8 76.8,163.0 77.3,162.6 77.8,161.2 78.3,161.1 78.8,160.7 79.3,160.3 79.8,160.0 80.3,160.5 80.8,159.9 81.3,159.7 81.8,159.1 82.3,158.9 82.8,158.5 83.3,159.4 83.8,158.8 84.3,158.9 84.8,158.5 85.3,157.8 85.8,158.0 86.3,156.9 86.8,158.2 87.3,157.8 87.8,157.8 88.3,157.7 88.8,157.9 89.3,157.5 89.8,157.6 90.3,157.2 90.8,157.4 91.3,157.6 91.8,157.8 92.3,157.2 92.8,156.7 93.3,156.4 93.8,157.1 94.3,156.8 94.8,157.4 95.3,157.8 95.8,156.7 96.3,157.6 96.8,157.5 97.3,156.5 97.8,156.7 98.3,157.2 98.8,156.5 99.3,156.4 99.8,157.2 100.3,156.5 100.8,156.4 101.3,157.0 101.8,156.7 102.3,156.8 102.8,157.3 103.3,157.2 103.8,155.8 104.3,157.0 104.8,156.5 105.3,156.6 105.8,156.8 106.3,157.4 106.8,157.0 107.3,156.7 107.8,157.1 108.3,156.4 108.8,157.4 109.3,157.4 109.8,156.9 110.3,156.9 110.8,157.1 111.3,157.4 111.8,158.2 112.3,158.0 112.8,157.9 113.3,158.2 113.8,159.0 114.3,158.4 114.8,158.3 115.3,159.6 115.8,158.1 116.3,158.5 116.8,158.5 117.3,158.0 117.8,157.7 118.3,158.2 118.8,157.5 119.3,157.6 119.8,157.1 120.3,157.7 120.8,156.4 121.3,156.1 121.8,156.1 122.3,156.4 122.8,156.3 123.3,156.5 123.8,156.2 124.3,156.7 124.8,155.9 125.3,156.0 125.8,156.5 126.3,156.3 126.8,156.3 127.3,156.4 127.8,156.4 128.3,156.9 128.8,157.1 129.3,157.3 129.8,156.9 130.3,156.5 130.8,156.4 131.3,156.4 131.8,156.3 132.3,157.3 132.8,157.8 133.3,157.0 133.8,157.2 134.3,156.2 134.8,157.1 135.3,156.9 135.8,157.3 136.3,156.9 136.8,157.0 137.3,157.0 137.8,157.1 138.3,158.4 138.8,158.1 139.3,157.3 139.8,158.1 140.3,158.2 140.8,159.5 141.3,158.0 141.8,159.3 142.3,159.6 142.8,160.4 143.3,160.4 143.8,159.8 144.3,159.4 144.8,159.9 145.3,160.4 145.8,161.0 146.3,161.2 146.8,161.3 147.3,162.5 147.8,162.7 148.3,162.9 148.8,163.2 149.3,163.6 149.8,163.8 150.3,165.6 150.8,164.5 151.3,164.6 151.8,165.7 152.3,165.0 152.8,165.4 153.3,165.0 153.8,165.4 154.3,164.9 154.8,166.1 155.3,167.0 155.8,166.3 156.3,166.6 156.8,167.1 157.3,167.2 157.8,166.5 158.3,166.5 158.8,166.6 159.3,167.2 159.8,166.1 160.3,166.2 160.8,166.3 161.3,166.3 161.8,166.3 162.3,166.0 162.8,166.6 163.3,165.6 163.8,166.8 164.3,165.8 164.8,166.0 165.3,165.0 165.8,165.5 166.3,164.6 166.8,164.4 167.3,165.2 167.8,164.7 168.3,164.0 168.8,163.4 169.3,164.5 169.8,164.0 170.3,164.2 170.8,164.1 171.3,164.1 171.8,162.4 172.3,161.7 172.8,163.2 173.3,161.8 173.8,162.9 174.3,162.3 174.8,161.8 175.3,161.6 175.8,160.6 176.3,161.0 176.8,160.7 177.3,160.7 177.8,161.2 178.3,159.9 178.8,160.4 179.3,160.8 179.8,159.7 180.3,159.5 180.8,159.5 181.3,159.3 181.8,159.0 182.3,160.0 182.8,160.3 183.3,159.8 183.8,159.3 184.3,159.2 184.8,159.5 185.3,159.1 185.8,159.5 186.3,159.4 186.8,160.2 187.3,160.2 187.8,160.1 188.3,159.6 188.8,160.0 189.3,160.7 189.8,161.3 190.3,160.4 190.8,161.9 191.3,160.7 191.8,160.8 192.3,161.3 192.8,161.2 193.3,161.8 193.8,162.2 194.3,162.3 194.8,162.7 195.3,163.3 195.8,164.0 196.3,164.7 196.8,164.1 197.3,163.7 197.8,164.5 198.3,164.1 198.8,164.9 199.3,164.6 199.8,165.2 200.3,165.0 200.8,165.1 201.3,165.0 201.8,165.9 202.3,164.5 202.8,165.9 203.3,165.9 203.8,165.7 204.3,165.6 204.8,165.8 205.3,165.3 205.8,164.8 206.3,165.4 206.8,165.1 207.3,165.0 207.8,164.3 208.3,164.6 208.8,164.2 209.3,164.5 209.8,163.4 210.3,162.2 210.8,162.5 211.3,162.9 211.8,161.8 212.3,162.6 212.8,161.7 213.3,161.8 213.8,161.7 214.3,160.9 214.8,161.3 215.3,161.7 215.8,161.2 216.3,161.6 216.8,161.8 217.3,162.7 217.8,163.1 218.3,162.7 218.8,163.1 219.3,163.9 219.8,163.9 220.3,164.9 220.8,164.5 221.3,164.5 221.8,164.5 222.3,165.1 222.8,164.9 223.3,166.1 223.8,167.1 224.3,165.9 224.8,166.3 225.3,166.7 225.8,167.3 226.3,167.2 226.8,168.3 227.3,168.6 227.8,168.0 228.3,168.5 228.8,168.5 229.3,169.4 229.8,170.1 230.3,168.9 230.8,169.2 231.3,168.9 231.8,169.7 232.3,169.7 232.8,169.2 233.3,169.4 233.8,170.6 234.3,170.6 234.8,169.2 235.3,169.7 235.8,169.5 236.3,169.9 236.8,169.2 237.3,170.0 237.8,170.3 238.3,170.4 238.8,169.2 239.3,170.7 239.8,169.5 240.3,169.3 240.8,170.5 241.3,170.4 241.8,170.0 242.3,170.5 242.8,170.4 243.3,170.3 243.8,169.6 244.3,170.0 244.8,170.2 244.8,176.0 244.3,175.7 243.8,175.9 243.3,176.1 242.8,176.1 242.3,175.3 241.8,176.1 241.3,176.1 240.8,176.1 240.3,176.1 239.8,175.7 239.3,174.9 238.8,176.1 238.3,176.1 237.8,176.1 237.3,175.6 236.8,176.0 236.3,176.0 235.8,175.3 235.3,176.1 234.8,176.0 234.3,175.8 233.8,176.1 233.3,175.3 232.8,175.7 232.3,176.1 231.8,175.0 231.3,176.1 230.8,176.1 230.3,175.7 229.8,175.8 229.3,175.4 228.8,175.6 228.3,175.9 227.8,176.1 227.3,175.9 226.8,176.1 226.3,175.6 225.8,175.5 225.3,176.1 224.8,176.0 224.3,176.1 223.8,176.0 223.3,174.3 222.8,176.1 222.3,176.1 221.8,176.1 221.3,175.3 220.8,176.1 220.3,175.6 219.8,175.9 219.3,176.1 218.8,175.6 218.3,175.6 217.8,176.1 217.3,176.1 216.8,176.0 216.3,175.2 215.8,174.7 215.3,175.0 214.8,174.8 214.3,175.0 213.8,175.0 213.3,175.0 212.8,175.4 212.3,175.1 211.8,175.6 211.3,175.9 210.8,175.4 210.3,175.1 209.8,175.9 209.3,176.1 208.8,176.1 208.3,176.1 207.8,174.9 207.3,176.0 206.8,175.9 206.3,176.0 205.8,175.9 205.3,176.1 204.8,176.1 204.3,176.0 203.8,176.1 203.3,176.1 202.8,175.7 202.3,176.1 201.8,175.8 201.3,176.1 200.8,175.3 200.3,175.7 199.8,175.9 199.3,175.2 198.8,176.0 198.3,176.1 197.8,175.2 197.3,176.1 196.8,176.0 196.3,176.1 195.8,176.1 195.3,175.9 194.8,176.1 194.3,175.3 193.8,176.1 193.3,176.1 192.8,175.1 192.3,174.2 191.8,174.3 191.3,173.8 190.8,176.1 190.3,173.5 189.8,175.2 189.3,175.1 188.8,174.2 188.3,173.6 187.8,173.4 187.3,174.5 186.8,174.8 186.3,174.3 185.8,173.4 185.3,173.8 184.8,173.4 184.3,172.6 183.8,173.4 183.3,173.0 182.8,174.7 182.3,174.0 181.8,173.4 181.3,173.6 180.8,173.2 180.3,173.4 179.8,173.8 179.3,173.7 178.8,173.6 178.3,173.3 177.8,175.0 177.3,173.6 176.8,174.0 176.3,176.1 175.8,174.5 175.3,175.2 174.8,176.0 174.3,176.0 173.8,176.1 173.3,175.7 172.8,175.5 172.3,175.3 171.8,176.1 171.3,175.7 170.8,176.1 170.3,175.9 169.8,175.7 169.3,175.7 168.8,175.5 168.3,175.3 167.8,176.1 167.3,175.6 166.8,176.0 166.3,175.3 165.8,175.8 165.3,176.1 164.8,175.9 164.3,176.0 163.8,175.4 163.3,175.9 162.8,175.6 162.3,175.8 161.8,176.1 161.3,176.1 160.8,175.4 160.3,176.0 159.8,175.7 159.3,175.2 158.8,175.9 158.3,175.8 157.8,175.8 157.3,175.4 156.8,176.1 156.3,175.4 155.8,176.1 155.3,175.7 154.8,175.5 154.3,176.1 153.8,175.1 153.3,176.1 152.8,175.0 152.3,175.4 151.8,175.8 151.3,175.6 150.8,176.1 150.3,176.1 149.8,176.1 149.3,175.8 148.8,175.5 148.3,175.2 147.8,175.9 147.3,175.7 146.8,175.8 146.3,175.3 145.8,175.3 145.3,175.1 144.8,174.1 144.3,173.7 143.8,173.0 143.3,174.4 142.8,174.0 142.3,173.2 141.8,173.6 141.3,171.4 140.8,173.9 140.3,172.6 139.8,171.4 139.3,170.4 138.8,170.3 138.3,172.2 137.8,172.1 137.3,171.7 136.8,171.7 136.3,171.7 135.8,171.0 135.3,171.3 134.8,170.7 134.3,170.8 133.8,170.6 133.3,171.4 132.8,171.7 132.3,170.7 131.8,170.1 131.3,170.4 130.8,170.4 130.3,170.6 129.8,170.2 129.3,171.9 128.8,170.3 128.3,170.5 127.8,169.9 127.3,169.4 126.8,170.2 126.3,170.6 125.8,170.5 125.3,169.9 124.8,169.8 124.3,170.0 123.8,169.9 123.3,170.8 122.8,171.1 122.3,170.0 121.8,168.8 121.3,169.9 120.8,169.6 120.3,172.3 119.8,171.5 119.3,171.3 118.8,170.9 118.3,172.4 117.8,172.6 117.3,171.8 116.8,172.3 116.3,172.3 115.8,172.0 115.3,173.4 114.8,172.4 114.3,171.9 113.8,171.3 113.3,172.4 112.8,171.2 112.3,171.2 111.8,173.2 111.3,170.5 110.8,171.3 110.3,170.9 109.8,170.6 109.3,171.6 108.8,170.7 108.3,170.7 107.8,170.5 107.3,170.3 106.8,171.4 106.3,171.5 105.8,170.9 105.3,170.4 104.8,171.7 104.3,171.2 103.8,169.5 103.3,170.2 102.8,170.8 102.3,170.2 101.8,171.0 101.3,170.6 100.8,170.8 100.3,171.2 99.8,170.5 99.3,169.6 98.8,170.2 98.3,171.4 97.8,170.6 97.3,171.1 96.8,171.3 96.3,172.0 95.8,171.3 95.3,172.0 94.8,171.6 94.3,171.0 93.8,171.1 93.3,169.5 92.8,171.3 92.3,171.7 91.8,171.8 91.3,172.5 90.8,171.4 90.3,171.6 89.8,171.5 89.3,171.4 88.8,171.9 88.3,171.7 87.8,171.2 87.3,172.0 86.8,172.3 86.3,169.6 85.8,171.7 85.3,171.4 84.8,171.5 84.3,172.6 83.8,173.2 83.3,173.5 82.8,172.7 82.3,173.4 81.8,171.8 81.3,174.5 80.8,174.0 80.3,174.2 79.8,174.2 79.3,173.5 78.8,174.6 78.3,174.9 77.8,175.5 77.3,175.8 76.8,176.1 76.3,175.0 75.8,176.1 75.3,175.7 74.8,176.1 74.3,176.1 73.8,175.3 73.3,175.0 72.8,175.5 72.3,176.1 71.8,175.5 71.3,175.8 70.8,176.1 70.3,175.3 69.8,175.8 69.3,176.1 68.8,175.7 68.3,176.0 67.8,175.4 67.3,175.9 66.8,175.5 66.3,175.9 65.8,176.1 65.3,176.1 64.8,175.7 64.3,176.1 63.8,176.1 63.3,176.1 62.8,176.0 62.3,175.4 61.8,175.9 61.3,175.9 60.8,175.6 60.3,176.1 59.8,175.6 59.3,176.1 58.8,176.1 58.3,175.8 57.8,176.1 57.3,175.6 56.8,175.5 56.3,175.8 55.8,176.1 55.3,176.1 54.8,175.9 54.3,175.5 53.8,176.1 53.3,174.8 52.8,175.5 52.3,176.1 51.8,175.2 51.3,176.1 50.8,176.1 50.3,175.8 49.8,176.1 49.3,175.6 48.8,174.8 48.3,176.1 47.8,176.1 47.3,175.4 46.8,175.9 46.3,175.5 45.8,175.0 45.3,175.9 44.8,175.8 44.3,175.7 43.8,176.1 43.3,176.0 42.8,175.5 42.3,175.9 41.8,176.1 41.3,176.0 40.8,176.0 40.3,176.1 39.8,175.6 39.3,176.1 38.8,175.5 38.3,175.6 37.8,175.9 37.3,176.1 36.8,176.1" fill="#4daf4a"/>
<path d="M41.3 169.7V166.8M68.8 166.1V163.4M76.8 163.5V161.1M94.3 157.3V154.9M102.3 157.3V156.1M104.8 157.0V154.9M113.3 158.7V157.1M128.3 157.4V154.7M138.8 158.6V156.9M149.8 164.3V162.7M153.3 165.5V164.5M156.8 167.6V166.4M172.8 163.7V161.7M178.8 160.9V158.7M179.3 161.3V159.8M188.8 160.5V158.5M195.8 164.5V162.9M201.8 166.4V164.1M203.3 166.4V163.9M203.8 166.2V163.3M204.3 166.1V164.7M214.8 161.8V160.8M228.3 169.0V167.6M242.8 170.9V169.6M243.8 170.1V167.4" stroke="#4daf4a" stroke-width="0.5" opacity="0.7"/>
<path d="M36.8 176.6V174.4M37.8 176.4V175.5M41.3 176.5V174.0M42.8 176.0V175.1M43.3 176.5V174.0M45.3 176.4V175.7M45.8 175.5V173.9M47.3 175.9V174.1M47.8 176.6V174.8M49.8 176.6V174.3M50.8 176.6V174.5M52.3 176.6V175.8M54.3 176.0V174.7M56.8 176.0V174.8M60.3 176.6V174.9M60.8 176.1V173.9M61.8 176.4V175.6M62.3 175.9V175.1M64.3 176.6V174.6M65.3 176.6V175.7M66.3 176.4V173.2M66.8 176.0V172.5M67.3 176.4V174.4M67.8 175.9V173.2M68.8 176.2V174.6M69.3 176.6V174.9M70.8 176.6V174.2M71.3 176.3V173.1M71.8 176.0V173.5M72.8 176.0V172.9M73.3 175.5V171.6M73.8 175.8V173.7M74.3 176.6V174.7M74.8 176.6V173.8M77.3 176.3V174.7M77.8 176.0V171.7M82.3 173.9V170.1M82.8 173.2V168.6M83.8 173.7V170.7M85.3 171.9V167.9M86.3 170.1V167.6M86.8 172.8V171.0M91.3 173.0V168.5M91.8 172.3V169.5M92.3 172.2V171.1M92.8 171.8V169.9M93.3 170.0V165.4M95.3 172.5V168.9M95.8 171.8V168.1M96.8 171.8V170.5M97.3 171.6V166.6M100.8 171.3V166.5M101.3 171.1V166.9M101.8 171.5V169.1M102.3 170.7V167.0M102.8 171.3V167.9M103.8 170.0V168.6M104.3 171.7V169.6M104.8 172.2V167.6M106.3 172.0V169.3M106.8 171.9V168.4M107.8 171.0V169.5M109.3 172.1V170.7M110.8 171.8V167.1M111.3 171.0V168.7M113.3 172.9V168.4M113.8 171.8V167.6M114.8 172.9V170.8M118.8 171.4V167.5M119.3 171.8V169.4M121.3 170.4V169.2M121.8 169.3V168.2M124.3 170.5V165.9M125.8 171.0V169.1M127.3 169.9V168.0M127.8 170.4V166.6M128.8 170.8V167.3M129.8 170.7V167.8M130.3 171.1V170.0M132.3 171.2V169.3M132.8 172.2V170.8M136.3 172.2V167.7M136.8 172.2V167.3M137.3 172.2V170.1M138.3 172.7V168.9M138.8 170.8V168.2M139.3 170.9V169.5M140.8 174.4V172.3M141.8 174.1V169.2M142.3 173.7V171.8M142.8 174.5V171.5M143.3 174.9V172.5M143.8 173.5V171.3M144.3 174.2V172.8M145.3 175.6V171.3M145.8 175.8V172.5M146.3 175.8V174.4M147.3 176.2V171.6M148.8 176.0V172.6M149.8 176.6V172.6M150.8 176.6V175.5M151.3 176.1V172.9M151.8 176.3V173.0M153.3 176.6V175.2M155.8 176.6V175.0M158.8 176.4V174.1M160.8 175.9V174.7M161.8 176.6V172.9M164.3 176.5V175.5M164.8 176.4V173.4M165.3 176.6V172.7M166.3 175.8V173.0M167.8 176.6V175.1M168.3 175.8V174.2M169.3 176.2V174.0M170.3 176.4V174.3M171.3 176.2V174.1M173.8 176.6V172.4M174.8 176.5V174.6M175.8 175.0V173.3M176.3 176.6V172.3M176.8 174.5V172.5M177.8 175.5V173.3M178.3 173.8V169.2M179.3 174.2V171.9M180.3 173.9V171.9M181.8 173.9V171.7M182.8 175.2V173.2M183.8 173.9V170.9M184.8 173.9V172.4M185.8 173.9V170.4M186.3 174.8V171.5M187.8 173.9V170.9M188.3 174.1V170.5M189.3 175.6V171.8M189.8 175.7V171.8M191.8 174.8V172.6M192.3 174.7V170.5M192.8 175.6V173.1M193.3 176.6V173.0M193.8 176.6V174.7M194.3 175.8V172.2M195.8 176.6V175.1M196.3 176.6V173.6M198.3 176.6V173.1M198.8 176.5V173.4M199.3 175.7V173.4M199.8 176.4V174.9M200.3 176.2V173.7M200.8 175.8V172.1M201.3 176.6V172.8M202.3 176.6V174.5M202.8 176.2V173.9M203.3 176.6V174.0M203.8 176.6V175.0M205.8 176.4V172.6M206.3 176.5V173.5M208.8 176.6V175.4M209.3 176.6V174.6M209.8 176.4V173.1M211.8 176.1V174.7M219.8 176.4V172.4M220.3 176.1V173.8M221.3 175.8V173.0M222.3 176.6V175.6M223.3 174.8V172.2M223.8 176.5V174.3M224.3 176.6V175.0M225.8 176.0V173.8M226.8 176.6V174.0M229.3 175.9V173.7M230.3 176.2V174.2M230.8 176.6V173.9M232.3 176.6V174.2M232.8 176.2V175.1M233.8 176.6V175.4M236.3 176.5V175.3M237.3 176.1V174.5M238.3 176.6V174.2M238.8 176.6V174.6M240.3 176.6V173.9M242.3 175.8V174.6M242.8 176.6V175.7M244.3 176.2V174.6M244.8 176.5V174.9" stroke="#fff" stroke-width="0.6" opacity="0.85"/>
<path d="M37.3 169.4V170.8M39.3 169.1V171.5M48.8 169.7V171.6M49.8 169.5V172.3M60.8 167.5V170.9M65.3 166.1V169.4M91.8 157.5V162.3M98.8 156.2V160.3M100.3 156.2V160.9M106.8 156.7V161.7M110.8 156.8V159.9M128.8 156.8V158.9M141.8 159.0V164.6M144.8 159.6V161.3M147.8 162.4V166.7M159.3 166.9V169.9M168.8 163.1V168.1M170.8 163.8V167.2M174.3 162.0V166.4M175.8 160.3V163.6M177.3 160.4V163.7M185.3 158.8V164.4M199.8 164.9V169.1M206.3 165.1V167.6M216.3 161.3V163.0M220.3 164.6V167.0" stroke="#fff" stroke-width="0.4" opacity="0.6"/>
<polygon points="36.8,197.7 37.3,198.3 37.8,198.6 38.3,197.7 38.8,197.6 39.3,198.2 39.8,197.7 40.3,198.1 40.8,198.4 41.3,198.0 41.8,198.2 42.3,196.7 42.8,198.2 43.3,197.6 43.8,197.3 44.3,197.6 44.8,197.2 45.3,197.2 45.8,196.8 46.3,197.4 46.8,197.1 47.3,197.3 47.8,198.1 48.3,197.7 48.8,197.1 49.3,197.9 49.8,198.1 50.3,197.7 50.8,197.7 51.3,197.6 51.8,197.2 52.3,198.2 52.8,197.9 53.3,197.7 53.8,197.7 54.3,197.6 54.8,198.4 55.3,197.6 55.8,196.9 56.3,197.7 56.8,198.1 57.3,198.0 57.8,197.5 58.3,196.9 58.8,198.6 59.3,197.2 59.8,197.7 60.3,197.6 60.8,197.4 61.3,197.5 61.8,197.2 62.3,197.3 62.8,197.4 63.3,197.6 63.8,198.8 64.3,197.2 64.8,198.2 65.3,197.7 65.8,197.5 66.3,197.0 66.8,197.6 67.3,197.2 67.8,197.8 68.3,197.8 68.8,197.1 69.3,198.2 69.8,197.6 70.3,197.7 70.8,197.8 71.3,197.5 71.8,198.1 72.3,198.4 72.8,197.8 73.3,198.1 73.8,198.6 74.3,197.9 74.8,197.3 75.3,197.7 75.8,197.1 76.3,196.9 76.8,196.4 77.3,197.1 77.8,196.8 78.3,197.3 78.8,196.3 79.3,196.8 79.8,198.0 80.3,197.8 80.8,196.6 81.3,196.0 81.8,194.3 82.3,195.0 82.8,194.0 83.3,192.8 83.8,192.9 84.3,192.4 84.8,192.7 85.3,192.0 85.8,192.5 86.3,191.7 86.8,190.6 87.3,190.4 87.8,189.2 88.3,189.7 88.8,188.7 89.3,188.6 89.8,188.2 90.3,187.8 90.8,187.4 91.3,187.7 91.8,187.5 92.3,185.8 92.8,186.5 93.3,186.5 93.8,186.1 94.3,186.3 94.8,186.4 95.3,185.9 95.8,185.6 96.3,186.0 96.8,185.5 97.3,185.4 97.8,186.0 98.3,185.4 98.8,184.3 99.3,185.3 99.8,184.2 100.3,184.5 100.8,183.5 101.3,184.8 101.8,183.4 102.3,184.4 102.8,185.1 103.3,184.4 103.8,184.0 104.3,183.5 104.8,183.8 105.3,184.3 105.8,182.7 106.3,183.2 106.8,184.2 107.3,183.4 107.8,184.1 108.3,183.9 108.8,183.2 109.3,183.6 109.8,184.4 110.3,183.6 110.8,183.8 111.3,184.1 111.8,183.7 112.3,183.8 112.8,184.3 113.3,184.0 113.8,184.1 114.3,184.5 114.8,185.1 115.3,184.3 115.8,184.1 116.3,185.7 116.8,184.8 117.3,183.5 117.8,184.2 118.3,183.6 118.8,184.8 119.3,183.9 119.8,184.2 120.3,185.2 120.8,184.1 121.3,184.4 121.8,184.6 122.3,184.9 122.8,184.9 123.3,185.2 123.8,184.4 124.3,185.0 124.8,184.2 125.3,185.1 125.8,185.2 126.3,186.2 126.8,185.7 127.3,185.5 127.8,185.7 128.3,185.5 128.8,185.8 129.3,185.7 129.8,186.1 130.3,185.9 130.8,186.2 131.3,186.7 131.8,185.8 132.3,186.0 132.8,185.8 133.3,187.4 133.8,187.3 134.3,186.8 134.8,186.7 135.3,186.3 135.8,187.2 136.3,186.9 136.8,187.1 137.3,187.0 137.8,185.7 138.3,186.3 138.8,186.9 139.3,187.4 139.8,186.8 140.3,187.4 140.8,187.2 141.3,186.9 141.8,187.8 142.3,187.1 142.8,187.1 143.3,188.5 143.8,188.5 144.3,188.0 144.8,188.5 145.3,187.8 145.8,188.1 146.3,188.5 146.8,188.7 147.3,189.0 147.8,188.3 148.3,189.5 148.8,188.8 149.3,189.4 149.8,190.9 150.3,190.4 150.8,190.1 151.3,190.9 151.8,190.8 152.3,191.2 152.8,191.5 153.3,192.1 153.8,192.7 154.3,193.4 154.8,194.5 155.3,194.0 155.8,194.1 156.3,193.6 156.8,195.0 157.3,194.6 157.8,195.5 158.3,195.0 158.8,196.0 159.3,195.1 159.8,195.4 160.3,195.6 160.8,195.5 161.3,195.8 161.8,195.7 162.3,194.7 162.8,195.1 163.3,195.2 163.8,195.9 164.3,195.4 164.8,195.9 165.3,195.9 165.8,195.7 166.3,194.7 166.8,196.5 167.3,195.8 167.8,195.4 168.3,195.8 168.8,195.4 169.3,195.7 169.8,195.3 170.3,196.6 170.8,195.5 171.3,195.8 171.8,195.3 172.3,196.0 172.8,196.2 173.3,195.7 173.8,195.2 174.3,195.6 174.8,195.4 175.3,195.9 175.8,195.6 176.3,195.6 176.8,195.3 177.3,195.3 177.8,195.4 178.3,195.9 178.8,195.3 179.3,195.5 179.8,195.0 180.3,195.1 180.8,194.8 181.3,195.3 181.8,195.1 182.3,194.5 182.8,195.1 183.3,194.9 183.8,195.5 184.3,195.5 184.8,196.4 185.3,195.9 185.8,195.7 186.3,195.8 186.8,195.9 187.3,196.0 187.8,196.5 188.3,196.1 188.8,196.5 189.3,196.9 189.8,196.3 190.3,196.7 190.8,197.5 191.3,197.1 191.8,196.9 192.3,197.4 192.8,197.1 193.3,197.0 193.8,197.9 194.3,197.2 194.8,197.4 195.3,197.7 195.8,198.3 196.3,198.3 196.8,197.9 197.3,198.0 197.8,197.6 198.3,197.9 198.8,197.4 199.3,196.7 199.8,197.1 200.3,195.9 200.8,196.0 201.3,195.1 201.8,196.1 202.3,195.4 202.8,195.4 203.3,196.0 203.8,194.3 204.3,193.8 204.8,192.9 205.3,192.7 205.8,191.8 206.3,191.8 206.8,191.2 207.3,190.5 207.8,189.8 208.3,189.4 208.8,189.2 209.3,188.8 209.8,188.8 210.3,187.9 210.8,187.8 211.3,187.8 211.8,188.1 212.3,187.2 212.8,186.7 213.3,186.4 213.8,186.9 214.3,185.8 214.8,185.6 215.3,185.5 215.8,185.1 216.3,185.8 216.8,187.1 217.3,187.8 217.8,188.0 218.3,190.0 218.8,191.2 219.3,191.5 219.8,193.5 220.3,193.7 220.8,194.6 221.3,194.7 221.8,197.3 222.3,197.6 222.8,197.4 223.3,197.8 223.8,196.9 224.3,197.1 224.8,197.7 225.3,197.7 225.8,197.4 226.3,198.1 226.8,198.6 227.3,198.2 227.8,199.2 228.3,198.7 228.8,198.4 229.3,198.2 229.8,198.1 230.3,198.9 230.8,197.9 231.3,198.8 231.8,198.8 232.3,197.9 232.8,198.8 233.3,198.5 233.8,199.3 234.3,198.7 234.8,198.4 235.3,198.7 235.8,199.1 236.3,198.1 236.8,198.1 237.3,198.8 237.8,199.3 238.3,197.8 238.8,199.1 239.3,198.6 239.8,198.8 240.3,198.7 240.8,198.2 241.3,198.1 241.8,199.4 242.3,197.8 242.8,198.4 243.3,199.0 243.8,198.3 244.3,198.6 244.8,198.3 244.8,203.7 244.3,203.3 243.8,203.3 243.3,203.3 242.8,204.0 242.3,204.0 241.8,203.8 241.3,203.6 240.8,203.7 240.3,204.0 239.8,203.5 239.3,203.7 238.8,203.4 238.3,203.3 237.8,203.5 237.3,203.4 236.8,203.9 236.3,203.9 235.8,204.0 235.3,203.5 234.8,203.9 234.3,204.0 233.8,204.0 233.3,203.5 232.8,203.9 232.3,203.7 231.8,204.0 231.3,204.0 230.8,203.2 230.3,203.9 229.8,204.0 229.3,203.6 228.8,203.3 228.3,204.0 227.8,204.0 227.3,203.5 226.8,203.6 226.3,203.9 225.8,203.7 225.3,203.9 224.8,203.5 224.3,204.0 223.8,202.9 223.3,203.2 222.8,204.0 222.3,203.8 221.8,203.8 221.3,203.8 220.8,203.5 220.3,203.7 219.8,203.3 219.3,203.8 218.8,203.8 218.3,203.0 217.8,201.0 217.3,200.5 216.8,199.0 216.3,198.6 215.8,198.1 215.3,198.2 214.8,198.6 214.3,197.8 213.8,199.5 213.3,199.3 212.8,199.6 212.3,200.9 211.8,200.8 211.3,201.5 210.8,200.9 210.3,200.9 209.8,201.4 209.3,201.7 208.8,202.6 208.3,202.2 207.8,203.8 207.3,203.7 206.8,203.6 206.3,204.0 205.8,204.0 205.3,203.9 204.8,203.7 204.3,203.7 203.8,203.4 203.3,203.8 202.8,204.0 202.3,203.6 201.8,203.1 201.3,204.0 200.8,203.9 200.3,204.0 199.8,204.0 199.3,203.9 198.8,203.9 198.3,203.9 197.8,204.0 197.3,203.8 196.8,203.6 196.3,202.7 195.8,203.6 195.3,203.6 194.8,204.0 194.3,204.0 193.8,203.9 193.3,204.0 192.8,202.8 192.3,203.9 191.8,203.9 191.3,203.3 190.8,204.0 190.3,203.6 189.8,203.9 189.3,203.3 188.8,204.0 188.3,203.5 187.8,203.8 187.3,204.0 186.8,202.8 186.3,204.0 185.8,203.5 185.3,204.0 184.8,203.3 184.3,203.6 183.8,204.0 183.3,203.2 182.8,203.8 182.3,203.9 181.8,204.0 181.3,203.9 180.8,204.0 180.3,203.6 179.8,204.0 179.3,203.5 178.8,204.0 178.3,203.4 177.8,202.9 177.3,203.9 176.8,204.0 176.3,203.4 175.8,203.4 175.3,204.0 174.8,204.0 174.3,203.2 173.8,203.6 173.3,204.0 172.8,203.4 172.3,204.0 171.8,203.7 171.3,203.7 170.8,204.0 170.3,203.8 169.8,203.3 169.3,203.8 168.8,204.0 168.3,204.0 167.8,203.3 167.3,203.7 166.8,204.0 166.3,203.5 165.8,203.6 165.3,203.5 164.8,204.0 164.3,202.7 163.8,203.5 163.3,203.1 162.8,204.0 162.3,204.0 161.8,203.6 161.3,203.0 160.8,204.0 160.3,203.5 159.8,203.7 159.3,203.1 158.8,204.0 158.3,203.5 157.8,204.0 157.3,204.0 156.8,204.0 156.3,203.4 155.8,203.1 155.3,203.7 154.8,203.7 154.3,204.0 153.8,202.9 153.3,204.0 152.8,204.0 152.3,204.0 151.8,203.2 151.3,204.0 150.8,202.9 150.3,204.0 149.8,204.0 149.3,203.0 148.8,201.7 148.3,203.0 147.8,201.0 147.3,201.8 146.8,201.7 146.3,201.9 145.8,201.3 145.3,201.1 144.8,201.1 144.3,200.7 143.8,201.5 143.3,201.1 142.8,199.7 142.3,200.6 141.8,200.9 141.3,200.9 140.8,200.4 140.3,199.8 139.8,199.6 139.3,200.3 138.8,199.6 138.3,199.6 137.8,197.9 137.3,200.4 136.8,200.2 136.3,200.0 135.8,200.5 135.3,198.8 134.8,199.9 134.3,199.9 133.8,200.1 133.3,200.2 132.8,199.2 132.3,199.1 131.8,198.5 131.3,200.7 130.8,199.4 130.3,198.8 129.8,198.9 129.3,198.6 128.8,198.1 128.3,197.7 127.8,199.0 127.3,198.6 126.8,198.5 126.3,199.3 125.8,198.3 125.3,196.8 124.8,197.6 124.3,198.1 123.8,197.3 123.3,197.9 122.8,197.7 122.3,198.6 121.8,198.5 121.3,197.2 120.8,197.0 120.3,198.9 119.8,196.6 119.3,196.9 118.8,198.6 118.3,196.2 117.8,197.8 117.3,196.9 116.8,197.0 116.3,198.9 115.8,197.3 115.3,197.0 114.8,197.3 114.3,196.9 113.8,196.4 113.3,196.5 112.8,196.5 112.3,195.7 111.8,195.6 111.3,196.9 110.8,196.9 110.3,195.9 109.8,197.4 109.3,196.6 108.8,196.1 108.3,196.5 107.8,196.4 107.3,196.7 106.8,197.8 106.3,196.2 105.8,195.7 105.3,197.1 104.8,195.8 104.3,196.5 103.8,197.3 103.3,197.0 102.8,198.6 102.3,197.5 101.8,197.7 101.3,197.3 100.8,196.0 100.3,197.8 99.8,197.0 99.3,198.6 98.8,197.5 98.3,199.3 97.8,200.2 97.3,198.2 96.8,199.2 96.3,199.2 95.8,198.2 95.3,198.8 94.8,199.5 94.3,200.0 93.8,198.7 93.3,199.4 92.8,200.0 92.3,198.8 91.8,201.1 91.3,200.4 90.8,200.4 90.3,200.2 89.8,202.4 89.3,202.6 88.8,201.5 88.3,202.7 87.8,202.3 87.3,204.0 86.8,203.5 86.3,204.0 85.8,203.9 85.3,203.3 84.8,203.8 84.3,204.0 83.8,203.8 83.3,204.0 82.8,204.0 82.3,203.6 81.8,203.0 81.3,204.0 80.8,203.8 80.3,204.0 79.8,204.0 79.3,203.5 78.8,204.0 78.3,203.9 77.8,204.0 77.3,203.6 76.8,203.8 76.3,203.3 75.8,203.4 75.3,203.9 74.8,204.0 74.3,203.7 73.8,202.3 73.3,204.0 72.8,204.0 72.3,202.2 71.8,203.7 71.3,204.0 70.8,203.5 70.3,204.0 69.8,204.0 69.3,203.6 68.8,203.5 68.3,204.0 67.8,203.6 67.3,204.0 66.8,204.0 66.3,202.9 65.8,203.9 65.3,202.9 64.8,204.0 64.3,204.0 63.8,203.4 63.3,203.0 62.8,203.5 62.3,204.0 61.8,204.0 61.3,204.0 60.8,203.3 60.3,203.6 59.8,204.0 59.3,203.4 58.8,203.8 58.3,203.3 57.8,203.6 57.3,203.8 56.8,203.9 56.3,203.5 55.8,203.1 55.3,204.0 54.8,203.1 54.3,203.7 53.8,203.4 53.3,202.3 52.8,204.0 52.3,203.7 51.8,204.0 51.3,203.5 50.8,202.9 50.3,204.0 49.8,203.5 49.3,203.5 48.8,204.0 48.3,203.5 47.8,203.7 47.3,203.2 46.8,203.8 46.3,203.7 45.8,204.0 45.3,204.0 44.8,203.4 44.3,204.0 43.8,203.4 43.3,203.8 42.8,203.7 42.3,203.8 41.8,204.0 41.3,204.0 40.8,204.0 40.3,203.6 39.8,204.0 39.3,203.7 38.8,204.0 38.3,203.6 37.8,203.9 37.3,204.0 36.8,203.5" fill="#f781bf"/>
<path d="M36.8 198.2V195.9M46.8 197.6V195.5M51.8 197.7V195.2M58.3 197.4V195.2M62.3 197.8V196.2M63.8 199.3V197.0M73.3 198.6V196.8M75.3 198.2V196.4M81.8 194.8V193.5M82.8 194.5V192.8M89.3 189.1V187.9M106.8 184.7V183.6M107.3 183.9V182.7M111.8 184.2V182.8M114.3 185.0V183.0M119.3 184.4V182.8M121.8 185.1V183.6M143.8 189.0V186.2M147.8 188.8V187.1M150.3 190.9V189.8M153.8 193.2V191.4M165.8 196.2V193.9M181.8 195.6V192.9M188.3 196.6V194.7M192.3 197.9V195.0M193.3 197.5V195.2M193.8 198.4V196.3M195.8 198.8V196.0M223.8 197.4V196.3" stroke="#f781bf" stroke-width="0.5" opacity="0.7"/>
<path d="M37.3 204.5V202.5M37.8 204.4V203.6M39.3 204.2V202.2M39.8 204.5V202.4M41.3 204.5V203.2M41.8 204.5V202.8M42.3 204.3V202.4M42.8 204.2V202.5M43.3 204.3V203.4M44.8 203.9V202.4M45.3 204.5V201.9M46.8 204.3V202.4M47.3 203.7V202.9M49.3 204.0V201.8M49.8 204.0V202.3M52.8 204.5V203.0M54.3 204.2V202.0M56.3 204.0V201.9M58.3 203.8V201.3M59.3 203.9V201.4M60.3 204.1V203.4M61.8 204.5V203.0M62.8 204.0V202.5M63.3 203.5V201.4M66.8 204.5V203.3M67.8 204.1V202.3M69.3 204.1V203.3M69.8 204.5V203.4M71.3 204.5V203.2M72.3 202.7V201.2M72.8 204.5V203.1M73.8 202.8V201.3M77.3 204.1V201.6M79.8 204.5V203.2M80.3 204.5V203.5M80.8 204.3V202.6M81.3 204.5V202.8M81.8 203.5V200.3M83.3 204.5V202.1M83.8 204.3V202.0M86.8 204.0V201.5M88.8 202.0V200.5M89.3 203.1V200.6M93.3 199.9V196.0M94.8 200.0V198.8M96.8 199.7V196.4M98.8 198.0V196.5M99.3 199.1V194.8M101.3 197.8V194.1M101.8 198.2V195.3M102.3 198.0V194.8M103.3 197.5V194.8M103.8 197.8V195.0M104.8 196.3V193.6M105.8 196.2V193.6M106.8 198.3V195.3M107.3 197.2V192.4M107.8 196.9V195.3M108.8 196.6V193.1M109.3 197.1V193.5M109.8 197.9V193.5M110.8 197.4V195.1M111.3 197.4V194.2M111.8 196.1V191.9M113.8 196.9V192.5M114.3 197.4V194.7M114.8 197.8V194.6M117.8 198.3V194.5M118.3 196.7V195.4M118.8 199.1V197.0M119.3 197.4V194.8M119.8 197.1V192.8M120.8 197.5V193.3M121.8 199.0V196.8M122.8 198.2V196.6M124.3 198.6V193.9M125.8 198.8V194.9M129.3 199.1V196.9M129.8 199.4V195.4M130.3 199.3V195.2M130.8 199.9V195.9M132.3 199.6V195.5M134.3 200.4V198.9M134.8 200.4V199.1M135.3 199.3V195.0M135.8 201.0V196.3M136.3 200.5V197.6M137.8 198.4V195.5M138.3 200.1V197.5M138.8 200.1V196.4M139.3 200.8V196.8M140.3 200.3V197.6M140.8 200.9V197.9M141.3 201.4V198.2M142.3 201.1V198.7M144.8 201.6V198.7M145.3 201.6V198.8M145.8 201.8V199.8M146.3 202.4V201.1M147.8 201.5V197.1M148.3 203.5V201.4M148.8 202.2V200.0M150.8 203.4V199.4M152.3 204.5V200.5M152.8 204.5V203.1M153.3 204.5V202.5M154.3 204.5V201.4M154.8 204.2V201.6M156.8 204.5V201.9M157.8 204.5V201.8M158.3 204.0V202.7M158.8 204.5V202.1M159.3 203.6V202.6M160.8 204.5V202.7M161.3 203.5V201.9M162.8 204.5V203.5M163.8 204.0V203.2M164.8 204.5V201.9M166.3 204.0V201.9M167.8 203.8V202.7M168.3 204.5V202.0M169.3 204.3V201.8M170.3 204.3V202.0M174.8 204.5V201.7M175.8 203.9V200.9M176.3 203.9V202.4M177.3 204.4V202.5M177.8 203.4V202.0M178.3 203.9V201.6M178.8 204.5V202.5M179.8 204.5V201.5M180.3 204.1V201.2M180.8 204.5V201.4M181.3 204.4V201.3M181.8 204.5V203.5M182.8 204.3V203.3M183.3 203.7V202.7M183.8 204.5V201.6M184.3 204.1V201.0M185.8 204.0V201.0M186.3 204.5V201.3M186.8 203.3V202.0M188.3 204.0V201.6M189.8 204.4V202.2M190.3 204.1V202.7M190.8 204.5V202.4M191.8 204.4V202.2M193.8 204.4V203.6M196.8 204.1V202.0M197.3 204.3V202.7M197.8 204.5V203.5M199.8 204.5V202.4M200.3 204.5V202.0M200.8 204.4V202.0M201.3 204.5V202.3M202.3 204.1V201.5M202.8 204.5V201.6M203.8 203.9V202.3M205.3 204.4V202.7M205.8 204.5V202.4M206.3 204.5V202.7M206.8 204.1V201.1M207.8 204.3V200.2M208.3 202.7V198.1M208.8 203.1V200.5M209.8 201.9V199.5M210.8 201.4V199.9M211.8 201.3V198.2M212.3 201.4V198.7M214.3 198.3V194.3M216.3 199.1V197.5M216.8 199.5V197.0M217.3 201.0V198.4M217.8 201.5V200.3M220.8 204.0V202.0M221.3 204.3V202.1M222.3 204.3V202.6M224.8 204.0V201.7M225.3 204.4V203.3M226.8 204.1V202.7M228.3 204.5V202.7M229.3 204.1V202.4M230.3 204.4V203.0M232.3 204.2V203.2M233.8 204.5V203.5M234.3 204.5V203.4M236.3 204.4V202.1M239.3 204.2V202.2M240.8 204.2V203.5M241.3 204.1V202.5M242.8 204.5V203.6" stroke="#fff" stroke-width="0.6" opacity="0.85"/>
<path d="M49.3 197.6V198.9M50.8 197.4V198.4M62.3 197.0V199.2M68.8 196.8V198.3M73.3 197.8V199.2M74.3 197.6V199.4M77.8 196.5V198.4M81.8 194.0V197.0M83.8 192.6V196.6M86.3 191.4V195.0M92.3 185.5V188.5M109.3 183.3V188.4M118.8 184.5V186.4M126.3 185.9V189.4M130.8 185.9V191.3M134.8 186.4V189.8M142.8 186.8V191.1M159.3 194.8V197.9M161.3 195.5V197.7M165.3 195.6V198.7M166.3 194.4V196.3M194.8 197.1V198.3M208.3 189.1V191.0M222.3 197.3V199.2M225.8 197.1V199.1M229.8 197.8V199.0M237.3 198.5V199.4" stroke="#fff" stroke-width="0.4" opacity="0.6"/>
<line x1="36.50" y1="64.92" x2="245.50" y2="64.92" stroke="#9a9a9a" stroke-width="1.0"/>
<line x1="36.50" y1="92.83" x2="245.50" y2="92.83" stroke="#9a9a9a" stroke-width="1.0"/>
<line x1="36.50" y1="120.75" x2="245.50" y2="120.75" stroke="#9a9a9a" stroke-width="1.0"/>
<line x1="36.50" y1="148.67" x2="245.50" y2="148.67" stroke="#9a9a9a" stroke-width="1.0"/>
<line x1="36.50" y1="176.58" x2="245.50" y2="176.58" stroke="#9a9a9a" stroke-width="1.0"/>
<line x1="36.50" y1="37.00" x2="245.50" y2="37.00" stroke="#b4b4b4" stroke-width="1.1"/>
<line x1="36.50" y1="204.50" x2="245.50" y2="204.50" stroke="#a0a0a0" stroke-width="1.0"/>
<line x1="36.50" y1="37.00" x2="36.50" y2="204.50" stroke="#a8a8a8" stroke-width="1.0"/>
<line x1="245.50" y1="36.50" x2="245.50" y2="205.00" stroke="#606060" stroke-width="0.9"/>
<line x1="47.30" y1="37.00" x2="47.30" y2="40.30" stroke="#333" stroke-width="0.9"/>
<line x1="82.20" y1="37.00" x2="82.20" y2="40.30" stroke="#333" stroke-width="0.9"/>
<line x1="117.10" y1="37.00" x2="117.10" y2="40.30" stroke="#333" stroke-width="0.9"/>
<line x1="152.00" y1="37.00" x2="152.00" y2="40.30" stroke="#333" stroke-width="0.9"/>
<line x1="186.90" y1="37.00" x2="186.90" y2="40.30" stroke="#333" stroke-width="0.9"/>
<line x1="221.80" y1="37.00" x2="221.80" y2="40.30" stroke="#333" stroke-width="0.9"/>
<line x1="59.60" y1="62.52" x2="59.60" y2="67.32" stroke="#444" stroke-width="0.8"/>
<line x1="82.84" y1="62.52" x2="82.84" y2="67.32" stroke="#444" stroke-width="0.8"/>
<line x1="106.08" y1="62.52" x2="106.08" y2="67.32" stroke="#444" stroke-width="0.8"/>
<line x1="129.32" y1="62.52" x2="129.32" y2="67.32" stroke="#444" stroke-width="0.8"/>
<line x1="152.56" y1="62.52" x2="152.56" y2="67.32" stroke="#444" stroke-width="0.8"/>
<line x1="175.80" y1="62.52" x2="175.80" y2="67.32" stroke="#444" stroke-width="0.8"/>
<line x1="199.04" y1="62.52" x2="199.04" y2="67.32" stroke="#444" stroke-width="0.8"/>
<line x1="222.28" y1="62.52" x2="222.28" y2="67.32" stroke="#444" stroke-width="0.8"/>
<line x1="36.50" y1="37.40" x2="41.10" y2="37.40" stroke="#5a5a5a" stroke-width="0.8"/>
<line x1="245.50" y1="37.40" x2="240.90" y2="37.40" stroke="#5a5a5a" stroke-width="0.8"/>
<line x1="36.50" y1="42.10" x2="41.10" y2="42.10" stroke="#5a5a5a" stroke-width="0.8"/>
<line x1="245.50" y1="42.10" x2="240.90" y2="42.10" stroke="#5a5a5a" stroke-width="0.8"/>
<line x1="36.50" y1="46.80" x2="41.10" y2="46.80" stroke="#5a5a5a" stroke-width="0.8"/>
<line x1="245.50" y1="46.80" x2="240.90" y2="46.80" stroke="#5a5a5a" stroke-width="0.8"/>
<line x1="36.50" y1="51.50" x2="41.10" y2="51.50" stroke="#5a5a5a" stroke-width="0.8"/>
<line x1="245.50" y1="51.50" x2="240.90" y2="51.50" stroke="#5a5a5a" stroke-width="0.8"/>
<line x1="36.50" y1="56.20" x2="41.10" y2="56.20" stroke="#5a5a5a" stroke-width="0.8"/>
<line x1="245.50" y1="56.20" x2="240.90" y2="56.20" stroke="#5a5a5a" stroke-width="0.8"/>
<line x1="59.60" y1="90.43" x2="59.60" y2="95.23" stroke="#444" stroke-width="0.8"/>
<line x1="82.84" y1="90.43" x2="82.84" y2="95.23" stroke="#444" stroke-width="0.8"/>
<line x1="106.08" y1="90.43" x2="106.08" y2="95.23" stroke="#444" stroke-width="0.8"/>
<line x1="129.32" y1="90.43" x2="129.32" y2="95.23" stroke="#444" stroke-width="0.8"/>
<line x1="152.56" y1="90.43" x2="152.56" y2="95.23" stroke="#444" stroke-width="0.8"/>
<line x1="175.80" y1="90.43" x2="175.80" y2="95.23" stroke="#444" stroke-width="0.8"/>
<line x1="199.04" y1="90.43" x2="199.04" y2="95.23" stroke="#444" stroke-width="0.8"/>
<line x1="222.28" y1="90.43" x2="222.28" y2="95.23" stroke="#444" stroke-width="0.8"/>
<line x1="36.50" y1="70.22" x2="41.10" y2="70.22" stroke="#5a5a5a" stroke-width="0.8"/>
<line x1="245.50" y1="70.22" x2="240.90" y2="70.22" stroke="#5a5a5a" stroke-width="0.8"/>
<line x1="36.50" y1="76.12" x2="41.10" y2="76.12" stroke="#5a5a5a" stroke-width="0.8"/>
<line x1="245.50" y1="76.12" x2="240.90" y2="76.12" stroke="#5a5a5a" stroke-width="0.8"/>
<line x1="36.50" y1="82.02" x2="41.10" y2="82.02" stroke="#5a5a5a" stroke-width="0.8"/>
<line x1="245.50" y1="82.02" x2="240.90" y2="82.02" stroke="#5a5a5a" stroke-width="0.8"/>
<line x1="36.50" y1="87.92" x2="41.10" y2="87.92" stroke="#5a5a5a" stroke-width="0.8"/>
<line x1="245.50" y1="87.92" x2="240.90" y2="87.92" stroke="#5a5a5a" stroke-width="0.8"/>
<line x1="59.60" y1="118.35" x2="59.60" y2="123.15" stroke="#444" stroke-width="0.8"/>
<line x1="82.84" y1="118.35" x2="82.84" y2="123.15" stroke="#444" stroke-width="0.8"/>
<line x1="106.08" y1="118.35" x2="106.08" y2="123.15" stroke="#444" stroke-width="0.8"/>
<line x1="129.32" y1="118.35" x2="129.32" y2="123.15" stroke="#444" stroke-width="0.8"/>
<line x1="152.56" y1="118.35" x2="152.56" y2="123.15" stroke="#444" stroke-width="0.8"/>
<line x1="175.80" y1="118.35" x2="175.80" y2="123.15" stroke="#444" stroke-width="0.8"/>
<line x1="199.04" y1="118.35" x2="199.04" y2="123.15" stroke="#444" stroke-width="0.8"/>
<line x1="222.28" y1="118.35" x2="222.28" y2="123.15" stroke="#444" stroke-width="0.8"/>
<line x1="36.50" y1="94.63" x2="41.10" y2="94.63" stroke="#5a5a5a" stroke-width="0.8"/>
<line x1="245.50" y1="94.63" x2="240.90" y2="94.63" stroke="#5a5a5a" stroke-width="0.8"/>
<line x1="36.50" y1="99.93" x2="41.10" y2="99.93" stroke="#5a5a5a" stroke-width="0.8"/>
<line x1="245.50" y1="99.93" x2="240.90" y2="99.93" stroke="#5a5a5a" stroke-width="0.8"/>
<line x1="36.50" y1="105.23" x2="41.10" y2="105.23" stroke="#5a5a5a" stroke-width="0.8"/>
<line x1="245.50" y1="105.23" x2="240.90" y2="105.23" stroke="#5a5a5a" stroke-width="0.8"/>
<line x1="36.50" y1="110.53" x2="41.10" y2="110.53" stroke="#5a5a5a" stroke-width="0.8"/>
<line x1="245.50" y1="110.53" x2="240.90" y2="110.53" stroke="#5a5a5a" stroke-width="0.8"/>
<line x1="36.50" y1="115.83" x2="41.10" y2="115.83" stroke="#5a5a5a" stroke-width="0.8"/>
<line x1="245.50" y1="115.83" x2="240.90" y2="115.83" stroke="#5a5a5a" stroke-width="0.8"/>
<line x1="59.60" y1="146.27" x2="59.60" y2="151.07" stroke="#444" stroke-width="0.8"/>
<line x1="82.84" y1="146.27" x2="82.84" y2="151.07" stroke="#444" stroke-width="0.8"/>
<line x1="106.08" y1="146.27" x2="106.08" y2="151.07" stroke="#444" stroke-width="0.8"/>
<line x1="129.32" y1="146.27" x2="129.32" y2="151.07" stroke="#444" stroke-width="0.8"/>
<line x1="152.56" y1="146.27" x2="152.56" y2="151.07" stroke="#444" stroke-width="0.8"/>
<line x1="175.80" y1="146.27" x2="175.80" y2="151.07" stroke="#444" stroke-width="0.8"/>
<line x1="199.04" y1="146.27" x2="199.04" y2="151.07" stroke="#444" stroke-width="0.8"/>
<line x1="222.28" y1="146.27" x2="222.28" y2="151.07" stroke="#444" stroke-width="0.8"/>
<line x1="36.50" y1="122.55" x2="41.10" y2="122.55" stroke="#5a5a5a" stroke-width="0.8"/>
<line x1="245.50" y1="122.55" x2="240.90" y2="122.55" stroke="#5a5a5a" stroke-width="0.8"/>
<line x1="36.50" y1="127.85" x2="41.10" y2="127.85" stroke="#5a5a5a" stroke-width="0.8"/>
<line x1="245.50" y1="127.85" x2="240.90" y2="127.85" stroke="#5a5a5a" stroke-width="0.8"/>
<line x1="36.50" y1="133.15" x2="41.10" y2="133.15" stroke="#5a5a5a" stroke-width="0.8"/>
<line x1="245.50" y1="133.15" x2="240.90" y2="133.15" stroke="#5a5a5a" stroke-width="0.8"/>
<line x1="36.50" y1="138.45" x2="41.10" y2="138.45" stroke="#5a5a5a" stroke-width="0.8"/>
<line x1="245.50" y1="138.45" x2="240.90" y2="138.45" stroke="#5a5a5a" stroke-width="0.8"/>
<line x1="36.50" y1="143.75" x2="41.10" y2="143.75" stroke="#5a5a5a" stroke-width="0.8"/>
<line x1="245.50" y1="143.75" x2="240.90" y2="143.75" stroke="#5a5a5a" stroke-width="0.8"/>
<line x1="59.60" y1="174.18" x2="59.60" y2="178.98" stroke="#444" stroke-width="0.8"/>
<line x1="82.84" y1="174.18" x2="82.84" y2="178.98" stroke="#444" stroke-width="0.8"/>
<line x1="106.08" y1="174.18" x2="106.08" y2="178.98" stroke="#444" stroke-width="0.8"/>
<line x1="129.32" y1="174.18" x2="129.32" y2="178.98" stroke="#444" stroke-width="0.8"/>
<line x1="152.56" y1="174.18" x2="152.56" y2="178.98" stroke="#444" stroke-width="0.8"/>
<line x1="175.80" y1="174.18" x2="175.80" y2="178.98" stroke="#444" stroke-width="0.8"/>
<line x1="199.04" y1="174.18" x2="199.04" y2="178.98" stroke="#444" stroke-width="0.8"/>
<line x1="222.28" y1="174.18" x2="222.28" y2="178.98" stroke="#444" stroke-width="0.8"/>
<line x1="36.50" y1="150.47" x2="41.10" y2="150.47" stroke="#5a5a5a" stroke-width="0.8"/>
<line x1="245.50" y1="150.47" x2="240.90" y2="150.47" stroke="#5a5a5a" stroke-width="0.8"/>
<line x1="36.50" y1="155.77" x2="41.10" y2="155.77" stroke="#5a5a5a" stroke-width="0.8"/>
<line x1="245.50" y1="155.77" x2="240.90" y2="155.77" stroke="#5a5a5a" stroke-width="0.8"/>
<line x1="36.50" y1="161.07" x2="41.10" y2="161.07" stroke="#5a5a5a" stroke-width="0.8"/>
<line x1="245.50" y1="161.07" x2="240.90" y2="161.07" stroke="#5a5a5a" stroke-width="0.8"/>
<line x1="36.50" y1="166.37" x2="41.10" y2="166.37" stroke="#5a5a5a" stroke-width="0.8"/>
<line x1="245.50" y1="166.37" x2="240.90" y2="166.37" stroke="#5a5a5a" stroke-width="0.8"/>
<line x1="36.50" y1="171.67" x2="41.10" y2="171.67" stroke="#5a5a5a" stroke-width="0.8"/>
<line x1="245.50" y1="171.67" x2="240.90" y2="171.67" stroke="#5a5a5a" stroke-width="0.8"/>
<line x1="59.60" y1="202.10" x2="59.60" y2="204.50" stroke="#444" stroke-width="0.8"/>
<line x1="82.84" y1="202.10" x2="82.84" y2="204.50" stroke="#444" stroke-width="0.8"/>
<line x1="106.08" y1="202.10" x2="106.08" y2="204.50" stroke="#444" stroke-width="0.8"/>
<line x1="129.32" y1="202.10" x2="129.32" y2="204.50" stroke="#444" stroke-width="0.8"/>
<line x1="152.56" y1="202.10" x2="152.56" y2="204.50" stroke="#444" stroke-width="0.8"/>
<line x1="175.80" y1="202.10" x2="175.80" y2="204.50" stroke="#444" stroke-width="0.8"/>
<line x1="199.04" y1="202.10" x2="199.04" y2="204.50" stroke="#444" stroke-width="0.8"/>
<line x1="222.28" y1="202.10" x2="222.28" y2="204.50" stroke="#444" stroke-width="0.8"/>
<line x1="36.50" y1="178.38" x2="41.10" y2="178.38" stroke="#5a5a5a" stroke-width="0.8"/>
<line x1="245.50" y1="178.38" x2="240.90" y2="178.38" stroke="#5a5a5a" stroke-width="0.8"/>
<line x1="36.50" y1="183.68" x2="41.10" y2="183.68" stroke="#5a5a5a" stroke-width="0.8"/>
<line x1="245.50" y1="183.68" x2="240.90" y2="183.68" stroke="#5a5a5a" stroke-width="0.8"/>
<line x1="36.50" y1="188.98" x2="41.10" y2="188.98" stroke="#5a5a5a" stroke-width="0.8"/>
<line x1="245.50" y1="188.98" x2="240.90" y2="188.98" stroke="#5a5a5a" stroke-width="0.8"/>
<line x1="36.50" y1="194.28" x2="41.10" y2="194.28" stroke="#5a5a5a" stroke-width="0.8"/>
<line x1="245.50" y1="194.28" x2="240.90" y2="194.28" stroke="#5a5a5a" stroke-width="0.8"/>
<line x1="36.50" y1="199.58" x2="41.10" y2="199.58" stroke="#5a5a5a" stroke-width="0.8"/>
<line x1="245.50" y1="199.58" x2="240.90" y2="199.58" stroke="#5a5a5a" stroke-width="0.8"/>
<text class="h" x="43.4" y="48.3" font-size="8.7" text-anchor="start" fill="#231f20">900 mA</text>
<text class="h" x="43.4" y="76.2" font-size="8.7" text-anchor="start" fill="#231f20">1000 mA</text>
<text class="h" x="43.4" y="104.1" font-size="8.7" text-anchor="start" fill="#231f20">1100 mA</text>
<text class="h" x="43.4" y="132.1" font-size="8.7" text-anchor="start" fill="#231f20">1200 mA</text>
<text class="h" x="43.4" y="160.0" font-size="8.7" text-anchor="start" fill="#231f20">1260 mA</text>
<text class="h" x="43.4" y="187.9" font-size="8.7" text-anchor="start" fill="#231f20">1300 mA</text>
<text class="h" x="47.3" y="33.0" font-size="10" text-anchor="middle" fill="#231f20">975</text>
<text class="h" x="82.2" y="33.0" font-size="10" text-anchor="middle" fill="#231f20">1000</text>
<text class="h" x="117.1" y="33.0" font-size="10" text-anchor="middle" fill="#231f20">1025</text>
<text class="h" x="152.0" y="33.0" font-size="10" text-anchor="middle" fill="#231f20">1050</text>
<text class="h" x="186.9" y="33.0" font-size="10" text-anchor="middle" fill="#231f20">1075</text>
<text class="h" x="221.8" y="33.0" font-size="10" text-anchor="middle" fill="#231f20">1100</text>
<text class="h" x="59.6" y="218.9" font-size="10.3" text-anchor="middle" fill="#231f20">29.5</text>
<text class="h" x="82.8" y="218.9" font-size="10.3" text-anchor="middle" fill="#231f20">30</text>
<text class="h" x="106.1" y="218.9" font-size="10.3" text-anchor="middle" fill="#231f20">30.5</text>
<text class="h" x="129.3" y="218.9" font-size="10.3" text-anchor="middle" fill="#231f20">31</text>
<text class="h" x="152.6" y="218.9" font-size="10.3" text-anchor="middle" fill="#231f20">31.5</text>
<text class="h" x="175.8" y="218.9" font-size="10.3" text-anchor="middle" fill="#231f20">32</text>
<text class="h" x="199.0" y="218.9" font-size="10.3" text-anchor="middle" fill="#231f20">32.5</text>
<text class="h" x="222.3" y="218.9" font-size="10.3" text-anchor="middle" fill="#231f20">33</text>
<text class="h" x="140.9" y="14.8" font-size="10.3" text-anchor="middle" fill="#231f20">Wavenumber (cm<tspan font-size="7" dy="-2.8">−1</tspan><tspan dy="2.8">)</tspan></text>
<text class="h" x="140.5" y="234.7" font-size="10.3" text-anchor="middle" fill="#231f20">Frequency (THz)</text>
<polygon points="376.8,58.0 377.3,57.7 377.8,57.7 378.3,58.0 378.8,58.4 379.3,58.1 379.8,57.8 380.3,57.2 380.8,57.5 381.3,57.6 381.8,58.4 382.3,56.9 382.8,58.1 383.3,57.7 383.8,58.1 384.3,57.0 384.8,57.8 385.3,58.1 385.8,57.9 386.3,58.3 386.8,58.1 387.3,58.0 387.8,57.3 388.3,57.7 388.8,57.6 389.3,57.8 389.8,59.3 390.3,57.7 390.8,58.2 391.3,58.1 391.8,58.2 392.3,58.2 392.8,56.9 393.3,57.9 393.8,57.1 394.3,57.2 394.8,58.4 395.3,57.8 395.8,57.3 396.3,57.3 396.8,57.9 397.3,57.0 397.8,58.6 398.3,58.2 398.8,58.3 399.3,58.5 399.8,58.3 400.3,58.5 400.8,57.7 401.3,58.0 401.8,57.5 402.3,58.7 402.8,58.0 403.3,58.1 403.8,57.5 404.3,57.7 404.8,57.7 405.3,57.5 405.8,57.4 406.3,58.3 406.8,57.6 407.3,58.0 407.8,57.8 408.3,57.6 408.8,57.6 409.3,58.2 409.8,57.8 410.3,57.3 410.8,57.4 411.3,57.5 411.8,57.4 412.3,58.4 412.8,57.8 413.3,58.6 413.8,57.4 414.3,57.6 414.8,58.8 415.3,57.2 415.8,57.5 416.3,57.4 416.8,57.7 417.3,57.9 417.8,58.3 418.3,58.3 418.8,57.6 419.3,57.9 419.8,57.2 420.3,58.0 420.8,57.1 421.3,58.5 421.8,56.9 422.3,58.1 422.8,57.9 423.3,57.4 423.8,58.8 424.3,57.6 424.8,58.8 425.3,57.7 425.8,57.9 426.3,56.8 426.8,57.5 427.3,57.9 427.8,57.4 428.3,57.4 428.8,57.2 429.3,57.7 429.8,57.5 430.3,59.0 430.8,57.4 431.3,57.8 431.8,58.0 432.3,57.7 432.8,58.0 433.3,57.2 433.8,57.4 434.3,57.2 434.8,57.0 435.3,58.1 435.8,57.7 436.3,56.5 436.8,57.6 437.3,58.3 437.8,57.6 438.3,57.9 438.8,57.9 439.3,57.8 439.8,57.3 440.3,57.4 440.8,57.5 441.3,58.2 441.8,57.6 442.3,56.9 442.8,58.1 443.3,57.5 443.8,57.5 444.3,57.5 444.8,58.2 445.3,57.6 445.8,57.6 446.3,58.1 446.8,57.6 447.3,57.1 447.8,56.5 448.3,57.8 448.8,58.4 449.3,56.8 449.8,56.9 450.3,57.2 450.8,57.8 451.3,57.7 451.8,57.0 452.3,57.5 452.8,58.2 453.3,57.2 453.8,58.1 454.3,57.2 454.8,57.4 455.3,58.0 455.8,57.7 456.3,56.8 456.8,58.2 457.3,57.9 457.8,58.3 458.3,57.2 458.8,58.3 459.3,57.7 459.8,58.7 460.3,57.2 460.8,57.4 461.3,57.6 461.8,57.2 462.3,58.1 462.8,57.9 463.3,56.7 463.8,57.5 464.3,58.0 464.8,57.9 465.3,57.3 465.8,57.8 466.3,57.7 466.8,57.5 467.3,57.7 467.8,57.3 468.3,58.1 468.8,57.4 469.3,58.2 469.8,56.5 470.3,57.5 470.8,57.6 471.3,57.6 471.8,57.1 472.3,57.7 472.8,57.2 473.3,57.1 473.8,57.6 474.3,57.5 474.8,57.1 475.3,56.8 475.8,56.8 476.3,57.2 476.8,56.9 477.3,56.2 477.8,56.8 478.3,55.9 478.8,56.5 479.3,56.4 479.8,56.5 480.3,56.1 480.8,55.9 481.3,57.0 481.8,55.5 482.3,55.9 482.8,56.3 483.3,55.5 483.8,55.5 484.3,56.0 484.8,55.6 485.3,55.0 485.8,54.7 486.3,54.7 486.8,55.8 487.3,54.2 487.8,54.2 488.3,54.7 488.8,53.5 489.3,53.3 489.8,52.6 490.3,52.1 490.8,51.0 491.3,51.5 491.8,49.7 492.3,48.6 492.8,47.1 493.3,47.0 493.8,44.8 494.3,44.0 494.8,44.5 495.3,44.4 495.8,45.1 496.3,44.6 496.8,43.8 497.3,42.5 497.8,43.4 498.3,44.3 498.8,44.7 499.3,46.7 499.8,47.7 500.3,48.7 500.8,48.8 501.3,48.8 501.8,49.5 502.3,50.7 502.8,51.6 503.3,52.1 503.8,50.6 504.3,51.6 504.8,51.2 505.3,51.2 505.8,51.2 506.3,51.9 506.8,52.6 507.3,53.3 507.8,53.5 508.3,52.9 508.8,54.0 509.3,53.3 509.8,53.8 510.3,52.6 510.8,53.4 511.3,52.7 511.8,52.3 512.3,51.8 512.8,51.4 513.3,50.7 513.8,50.1 514.3,50.3 514.8,49.5 515.3,49.1 515.8,50.0 516.3,48.2 516.8,48.0 517.3,47.0 517.8,46.0 518.3,43.6 518.8,43.7 519.3,44.0 519.8,44.3 520.3,44.2 520.8,45.7 521.3,46.4 521.8,48.9 522.3,49.1 522.8,49.9 523.3,51.8 523.8,52.6 524.3,54.0 524.8,54.2 525.3,54.3 525.8,54.9 526.3,54.8 526.8,56.4 527.3,55.8 527.8,56.5 528.3,56.3 528.8,55.5 529.3,56.7 529.8,56.7 530.3,57.2 530.8,56.8 531.3,57.2 531.8,57.6 532.3,57.7 532.8,57.5 533.3,57.8 533.8,57.6 534.3,57.0 534.8,58.2 535.3,58.6 535.8,58.1 536.3,57.5 536.8,57.9 537.3,58.3 537.8,58.1 538.3,58.2 538.8,58.4 539.3,58.7 539.8,57.3 540.3,57.8 540.8,58.1 541.3,59.0 541.8,59.0 542.3,58.8 542.8,58.0 543.3,58.5 543.8,58.1 544.3,58.4 544.8,57.8 545.3,59.1 545.8,58.3 546.3,57.9 546.8,58.8 547.3,59.0 547.8,57.7 548.3,59.1 548.8,58.3 549.3,57.8 549.8,58.7 550.3,57.9 550.8,59.0 551.3,58.4 551.8,58.6 552.3,58.0 552.8,58.1 553.3,59.0 553.8,59.1 554.3,58.2 554.8,59.1 555.3,58.7 555.8,58.5 556.3,58.7 556.8,59.6 557.3,59.3 557.8,58.3 558.3,58.3 558.8,58.7 559.3,58.7 559.8,58.7 560.3,59.3 560.8,59.1 561.3,58.6 561.8,58.4 562.3,59.2 562.8,59.1 563.3,58.5 563.8,58.4 564.3,59.2 564.8,58.2 565.3,59.1 565.8,59.0 566.3,59.2 566.8,58.3 567.3,58.8 567.8,59.4 568.3,59.2 568.8,59.4 569.3,58.7 569.8,59.0 570.3,59.5 570.8,58.4 571.3,58.6 571.8,58.9 572.3,58.5 572.8,59.0 573.3,58.6 573.8,59.0 574.3,58.4 574.8,58.5 575.3,58.6 575.8,59.0 576.3,58.9 576.8,58.2 577.3,59.3 577.8,58.9 578.3,59.0 578.8,59.2 579.3,59.5 579.8,58.5 580.3,59.8 580.8,59.3 581.3,59.0 581.8,58.6 582.3,59.2 582.8,59.5 583.3,59.0 583.8,58.4 584.3,58.4 584.8,60.0 584.8,64.4 584.3,64.4 583.8,64.4 583.3,63.5 582.8,64.0 582.3,63.8 581.8,63.6 581.3,63.6 580.8,63.9 580.3,64.4 579.8,64.4 579.3,64.4 578.8,63.2 578.3,64.3 577.8,64.1 577.3,63.4 576.8,64.4 576.3,64.4 575.8,63.6 575.3,63.7 574.8,63.9 574.3,62.9 573.8,64.4 573.3,64.4 572.8,64.3 572.3,63.6 571.8,63.6 571.3,64.1 570.8,64.4 570.3,64.4 569.8,64.4 569.3,63.5 568.8,64.1 568.3,63.9 567.8,63.6 567.3,63.6 566.8,63.8 566.3,64.0 565.8,64.4 565.3,64.4 564.8,64.4 564.3,63.9 563.8,64.4 563.3,64.0 562.8,63.8 562.3,63.1 561.8,64.3 561.3,63.5 560.8,64.4 560.3,62.9 559.8,63.9 559.3,63.7 558.8,64.4 558.3,63.5 557.8,63.8 557.3,63.3 556.8,63.4 556.3,63.6 555.8,63.5 555.3,63.6 554.8,64.2 554.3,63.9 553.8,63.0 553.3,63.5 552.8,64.4 552.3,63.9 551.8,63.5 551.3,64.4 550.8,63.8 550.3,63.3 549.8,63.4 549.3,64.2 548.8,63.2 548.3,63.2 547.8,63.2 547.3,64.0 546.8,63.9 546.3,63.8 545.8,63.5 545.3,63.5 544.8,63.1 544.3,63.5 543.8,64.4 543.3,62.5 542.8,63.7 542.3,63.7 541.8,63.0 541.3,63.6 540.8,63.8 540.3,63.9 539.8,64.0 539.3,63.1 538.8,64.2 538.3,62.2 537.8,63.5 537.3,63.1 536.8,62.7 536.3,60.7 535.8,63.3 535.3,63.1 534.8,62.0 534.3,62.3 533.8,61.5 533.3,61.6 532.8,61.6 532.3,61.4 531.8,60.8 531.3,60.2 530.8,60.4 530.3,61.6 529.8,60.7 529.3,61.6 528.8,61.6 528.3,60.7 527.8,61.2 527.3,60.8 526.8,59.8 526.3,59.7 525.8,60.2 525.3,59.3 524.8,59.6 524.3,58.5 523.8,58.4 523.3,57.5 522.8,59.0 522.3,58.0 521.8,57.0 521.3,57.3 520.8,55.8 520.3,55.6 519.8,55.2 519.3,56.0 518.8,56.8 518.3,56.9 517.8,57.2 517.3,56.1 516.8,56.5 516.3,56.9 515.8,57.4 515.3,55.6 514.8,56.3 514.3,57.7 513.8,57.9 513.3,58.6 512.8,58.8 512.3,59.5 511.8,61.2 511.3,60.6 510.8,60.0 510.3,61.1 509.8,60.2 509.3,60.9 508.8,60.5 508.3,60.9 507.8,62.3 507.3,61.5 506.8,60.3 506.3,60.9 505.8,58.9 505.3,60.0 504.8,57.8 504.3,57.8 503.8,58.3 503.3,56.8 502.8,58.2 502.3,57.8 501.8,57.9 501.3,58.5 500.8,57.4 500.3,58.3 499.8,58.1 499.3,57.5 498.8,57.0 498.3,56.5 497.8,57.9 497.3,57.2 496.8,55.8 496.3,57.4 495.8,57.2 495.3,57.4 494.8,57.5 494.3,56.7 493.8,57.1 493.3,56.5 492.8,56.4 492.3,57.2 491.8,58.0 491.3,57.1 490.8,59.2 490.3,59.6 489.8,60.5 489.3,61.7 488.8,62.3 488.3,62.3 487.8,61.5 487.3,60.3 486.8,60.4 486.3,62.1 485.8,61.9 485.3,60.2 484.8,60.2 484.3,61.3 483.8,60.8 483.3,60.0 482.8,60.2 482.3,61.1 481.8,60.3 481.3,59.8 480.8,59.5 480.3,60.4 479.8,60.3 479.3,61.7 478.8,60.1 478.3,62.1 477.8,61.4 477.3,61.6 476.8,63.4 476.3,61.4 475.8,62.7 475.3,61.7 474.8,62.7 474.3,62.1 473.8,63.7 473.3,62.7 472.8,63.4 472.3,64.2 471.8,62.2 471.3,63.9 470.8,64.3 470.3,64.4 469.8,64.0 469.3,64.4 468.8,63.9 468.3,64.4 467.8,64.0 467.3,64.0 466.8,64.4 466.3,63.5 465.8,63.4 465.3,63.1 464.8,64.3 464.3,63.9 463.8,64.4 463.3,63.5 462.8,64.4 462.3,63.1 461.8,64.4 461.3,64.4 460.8,64.4 460.3,64.4 459.8,64.2 459.3,64.0 458.8,64.1 458.3,64.4 457.8,64.4 457.3,64.3 456.8,64.4 456.3,64.4 455.8,64.4 455.3,64.4 454.8,64.4 454.3,64.4 453.8,63.1 453.3,64.3 452.8,63.5 452.3,64.4 451.8,63.8 451.3,63.4 450.8,64.4 450.3,64.2 449.8,64.4 449.3,64.4 448.8,63.3 448.3,63.4 447.8,64.3 447.3,63.4 446.8,64.2 446.3,64.4 445.8,64.4 445.3,63.9 444.8,62.7 444.3,64.4 443.8,63.9 443.3,64.4 442.8,64.4 442.3,64.4 441.8,64.1 441.3,63.5 440.8,64.1 440.3,64.1 439.8,64.1 439.3,64.4 438.8,64.4 438.3,64.1 437.8,64.4 437.3,64.4 436.8,63.6 436.3,63.6 435.8,63.4 435.3,63.9 434.8,64.4 434.3,64.1 433.8,64.4 433.3,64.2 432.8,64.3 432.3,63.1 431.8,63.5 431.3,63.9 430.8,64.4 430.3,64.4 429.8,64.4 429.3,64.4 428.8,64.4 428.3,64.3 427.8,64.2 427.3,64.4 426.8,62.5 426.3,63.9 425.8,63.6 425.3,63.3 424.8,64.4 424.3,63.2 423.8,64.4 423.3,64.4 422.8,64.3 422.3,64.3 421.8,64.4 421.3,63.3 420.8,64.4 420.3,64.0 419.8,64.4 419.3,63.7 418.8,64.4 418.3,64.2 417.8,63.3 417.3,64.1 416.8,64.1 416.3,63.4 415.8,64.4 415.3,64.4 414.8,64.4 414.3,64.4 413.8,63.1 413.3,64.4 412.8,64.4 412.3,64.4 411.8,63.5 411.3,63.6 410.8,64.1 410.3,64.3 409.8,63.6 409.3,64.4 408.8,64.4 408.3,64.4 407.8,64.2 407.3,64.3 406.8,64.1 406.3,63.4 405.8,63.4 405.3,63.8 404.8,64.4 404.3,64.1 403.8,64.1 403.3,64.4 402.8,64.1 402.3,63.4 401.8,63.6 401.3,63.3 400.8,64.0 400.3,63.1 399.8,64.4 399.3,64.4 398.8,64.4 398.3,64.4 397.8,63.6 397.3,63.7 396.8,64.4 396.3,64.4 395.8,64.4 395.3,64.4 394.8,63.7 394.3,63.8 393.8,63.4 393.3,64.4 392.8,64.4 392.3,64.0 391.8,64.4 391.3,64.4 390.8,64.1 390.3,63.6 389.8,64.4 389.3,63.8 388.8,64.4 388.3,64.4 387.8,64.4 387.3,64.4 386.8,64.2 386.3,63.1 385.8,64.4 385.3,63.4 384.8,63.8 384.3,64.1 383.8,64.4 383.3,64.4 382.8,64.4 382.3,63.6 381.8,64.4 381.3,64.3 380.8,63.1 380.3,64.1 379.8,63.6 379.3,62.5 378.8,64.3 378.3,64.4 377.8,64.2 377.3,64.3 376.8,64.0" fill="#377eb8"/>
<path d="M377.8 58.2V56.1M401.3 58.5V56.5M405.3 58.0V56.4M409.3 58.7V55.8M417.8 58.8V57.2M424.8 59.3V57.9M428.3 57.9V55.3M432.3 58.2V56.9M433.8 57.9V55.6M434.3 57.7V56.4M442.8 58.6V56.5M471.3 58.1V55.8M480.3 56.6V54.6M485.3 55.5V53.6M488.8 54.0V52.7M491.3 52.0V50.4M518.8 44.2V41.8M520.8 46.2V44.8M526.8 56.9V55.1M533.3 58.3V57.1M534.8 58.7V57.4M547.3 59.5V56.9M548.8 58.8V57.0M549.3 58.3V55.5M551.8 59.1V57.3M552.3 58.5V57.3M579.8 59.0V56.3" stroke="#377eb8" stroke-width="0.5" opacity="0.7"/>
<path d="M377.3 64.8V62.9M377.8 64.7V62.8M378.3 64.9V63.3M380.3 64.6V62.8M380.8 63.6V62.0M381.8 64.9V64.0M384.8 64.3V63.0M385.3 63.9V63.0M387.3 64.9V63.4M387.8 64.9V63.2M388.3 64.9V63.9M389.8 64.9V63.0M391.3 64.9V64.0M391.8 64.9V62.5M392.3 64.5V63.4M392.8 64.9V63.0M393.8 63.9V62.1M394.3 64.3V61.6M394.8 64.2V62.7M395.8 64.9V63.4M397.3 64.2V62.4M398.3 64.9V63.7M398.8 64.9V63.1M399.8 64.9V63.8M401.3 63.8V61.9M402.8 64.6V63.3M403.3 64.9V63.7M404.8 64.9V63.6M405.8 63.9V62.6M406.3 63.9V63.1M407.3 64.8V64.0M407.8 64.7V62.8M409.8 64.1V62.4M410.3 64.8V63.3M410.8 64.6V62.8M412.3 64.9V63.4M413.3 64.9V62.9M414.3 64.9V63.1M415.3 64.9V62.4M416.8 64.6V63.6M418.3 64.7V63.8M418.8 64.9V62.6M420.8 64.9V63.0M421.3 63.8V63.0M422.3 64.8V63.5M422.8 64.8V62.8M423.8 64.9V64.2M425.8 64.1V62.4M426.3 64.4V62.2M426.8 63.0V62.1M428.3 64.8V63.3M429.3 64.9V63.9M431.3 64.4V63.2M432.3 63.6V61.4M432.8 64.8V64.0M433.3 64.7V63.5M434.3 64.6V62.5M434.8 64.9V63.3M435.8 63.9V61.8M437.3 64.9V62.5M439.3 64.9V62.4M440.3 64.6V62.3M440.8 64.6V62.0M441.3 64.0V63.2M441.8 64.6V62.1M442.8 64.9V62.4M443.3 64.9V62.2M447.3 63.9V62.6M448.3 63.9V63.0M451.3 63.9V61.9M452.3 64.9V62.4M453.3 64.8V63.6M454.8 64.9V63.9M458.3 64.9V63.1M461.3 64.9V62.7M461.8 64.9V63.9M462.3 63.6V62.9M463.3 64.0V62.7M463.8 64.9V62.6M464.3 64.4V63.6M465.3 63.6V61.6M466.3 64.0V61.7M466.8 64.9V62.6M467.8 64.5V62.5M469.3 64.9V64.1M469.8 64.5V63.2M471.3 64.4V62.7M472.8 63.9V61.9M473.8 64.2V62.5M474.3 62.6V60.9M477.8 61.9V60.4M479.3 62.2V61.3M479.8 60.8V59.0M481.8 60.8V60.1M482.3 61.6V60.8M483.3 60.5V59.0M485.3 60.7V59.0M486.3 62.6V60.4M487.8 62.0V60.9M489.8 61.0V58.7M493.8 57.6V54.6M494.3 57.2V52.8M494.8 58.0V56.3M495.8 57.7V55.0M496.3 57.9V53.4M497.3 57.7V54.8M498.3 57.0V55.9M500.3 58.8V57.2M500.8 57.9V55.7M501.3 59.0V56.8M502.3 58.3V55.9M502.8 58.7V56.5M503.8 58.8V56.8M504.8 58.3V56.1M505.8 59.4V57.0M506.3 61.4V60.3M509.3 61.4V59.7M509.8 60.7V59.1M510.3 61.6V60.7M511.3 61.1V59.8M511.8 61.7V59.1M512.8 59.3V57.3M513.3 59.1V56.4M516.3 57.4V56.5M516.8 57.0V55.5M517.3 56.6V55.0M517.8 57.7V56.2M518.3 57.4V55.3M518.8 57.3V53.5M520.8 56.3V53.1M523.3 58.0V56.7M523.8 58.9V57.1M524.3 59.0V57.7M527.3 61.3V59.3M527.8 61.7V60.5M528.3 61.2V59.9M529.8 61.2V60.4M531.3 60.7V60.0M531.8 61.3V59.9M533.3 62.1V60.4M533.8 62.0V60.9M536.3 61.2V60.1M537.3 63.6V62.5M537.8 64.0V62.8M538.3 62.7V61.6M539.3 63.6V62.5M539.8 64.5V62.9M540.3 64.4V62.4M542.8 64.2V62.9M543.8 64.9V64.1M544.3 64.0V63.1M545.8 64.0V62.1M546.3 64.3V63.3M546.8 64.4V62.6M547.3 64.5V62.6M547.8 63.7V62.7M548.3 63.7V62.0M550.8 64.3V63.4M551.8 64.0V62.1M553.8 63.5V62.7M554.8 64.7V63.5M556.8 63.9V62.7M558.8 64.9V63.9M561.3 64.0V62.4M562.8 64.3V62.6M563.3 64.5V63.1M564.3 64.4V63.6M567.3 64.1V62.9M568.3 64.4V62.4M570.8 64.9V62.7M571.3 64.6V62.5M571.8 64.1V62.9M572.8 64.8V63.3M573.3 64.9V63.0M573.8 64.9V63.1M575.3 64.2V63.2M576.3 64.9V63.7M576.8 64.9V63.2M577.3 63.9V62.6M577.8 64.6V63.6M578.3 64.8V63.4M579.3 64.9V64.0M583.3 64.0V62.9M584.3 64.9V63.6M584.8 64.9V63.7" stroke="#fff" stroke-width="0.6" opacity="0.85"/>
<path d="M384.3 56.7V59.0M398.3 57.9V60.4M398.8 58.0V60.4M410.3 57.0V59.9M418.3 58.0V59.2M418.8 57.3V58.9M420.3 57.7V60.3M423.3 57.1V59.8M425.3 57.4V59.6M429.3 57.4V60.0M436.3 56.2V57.6M441.8 57.3V59.4M442.3 56.6V58.2M447.8 56.2V57.5M450.8 57.5V60.4M453.8 57.8V59.7M460.3 56.9V59.7M461.3 57.3V59.1M463.8 57.2V59.3M466.8 57.2V59.5M479.3 56.1V58.3M486.3 54.4V57.5M488.3 54.4V57.2M496.3 44.3V46.3M500.8 48.5V50.0M503.8 50.3V51.7M506.3 51.6V53.2M518.8 43.4V45.4M519.8 44.0V46.3M531.3 56.9V58.2M533.8 57.3V58.8M536.3 57.2V58.3M537.8 57.8V58.9M538.8 58.1V60.2M549.8 58.4V60.4M552.8 57.8V59.4M573.8 58.7V60.4M574.3 58.1V58.8M581.3 58.7V59.5M583.8 58.1V59.4" stroke="#fff" stroke-width="0.4" opacity="0.6"/>
<polygon points="376.8,86.3 377.3,85.2 377.8,84.5 378.3,85.1 378.8,86.3 379.3,85.7 379.8,85.4 380.3,85.7 380.8,85.8 381.3,86.1 381.8,85.7 382.3,86.3 382.8,85.5 383.3,85.7 383.8,85.5 384.3,85.8 384.8,86.7 385.3,85.1 385.8,85.1 386.3,85.5 386.8,86.4 387.3,86.0 387.8,85.5 388.3,86.0 388.8,85.3 389.3,85.4 389.8,85.7 390.3,86.3 390.8,85.9 391.3,86.1 391.8,86.7 392.3,85.9 392.8,86.8 393.3,85.7 393.8,87.2 394.3,85.5 394.8,85.3 395.3,86.3 395.8,86.2 396.3,86.7 396.8,86.7 397.3,85.7 397.8,86.4 398.3,87.5 398.8,86.2 399.3,87.2 399.8,86.5 400.3,86.3 400.8,86.0 401.3,86.2 401.8,85.8 402.3,87.3 402.8,86.5 403.3,86.3 403.8,87.1 404.3,86.2 404.8,86.9 405.3,87.1 405.8,87.2 406.3,86.9 406.8,87.4 407.3,86.7 407.8,87.1 408.3,87.5 408.8,87.0 409.3,87.4 409.8,85.8 410.3,87.2 410.8,87.2 411.3,86.8 411.8,87.4 412.3,87.9 412.8,87.2 413.3,87.3 413.8,86.7 414.3,86.5 414.8,86.7 415.3,86.0 415.8,86.4 416.3,86.7 416.8,86.1 417.3,86.0 417.8,85.6 418.3,86.1 418.8,85.0 419.3,84.4 419.8,83.9 420.3,83.3 420.8,81.4 421.3,80.7 421.8,80.4 422.3,78.7 422.8,78.2 423.3,78.3 423.8,75.7 424.3,75.8 424.8,75.6 425.3,75.6 425.8,74.4 426.3,73.4 426.8,73.1 427.3,73.2 427.8,72.4 428.3,73.9 428.8,72.3 429.3,73.2 429.8,72.7 430.3,72.4 430.8,72.6 431.3,71.7 431.8,72.2 432.3,72.7 432.8,72.5 433.3,72.7 433.8,72.6 434.3,73.1 434.8,72.2 435.3,72.7 435.8,73.1 436.3,72.5 436.8,72.4 437.3,73.1 437.8,73.1 438.3,72.4 438.8,72.4 439.3,72.9 439.8,73.2 440.3,72.5 440.8,72.5 441.3,73.2 441.8,74.3 442.3,73.0 442.8,73.0 443.3,72.8 443.8,73.8 444.3,73.2 444.8,72.6 445.3,72.8 445.8,72.9 446.3,73.4 446.8,73.6 447.3,74.0 447.8,73.3 448.3,74.1 448.8,73.4 449.3,74.5 449.8,74.4 450.3,74.7 450.8,74.1 451.3,74.5 451.8,75.0 452.3,75.9 452.8,75.6 453.3,76.0 453.8,75.9 454.3,76.4 454.8,76.1 455.3,76.9 455.8,76.4 456.3,76.3 456.8,77.0 457.3,77.0 457.8,76.4 458.3,77.1 458.8,76.3 459.3,77.0 459.8,76.1 460.3,77.2 460.8,76.4 461.3,77.1 461.8,77.2 462.3,77.0 462.8,76.2 463.3,76.6 463.8,76.6 464.3,76.8 464.8,76.4 465.3,76.3 465.8,77.0 466.3,76.3 466.8,76.6 467.3,75.1 467.8,75.5 468.3,75.8 468.8,75.6 469.3,75.6 469.8,76.2 470.3,76.5 470.8,75.9 471.3,75.5 471.8,75.1 472.3,75.3 472.8,76.7 473.3,75.5 473.8,75.4 474.3,75.5 474.8,76.3 475.3,75.4 475.8,76.3 476.3,75.4 476.8,75.1 477.3,75.1 477.8,75.0 478.3,74.9 478.8,74.5 479.3,75.2 479.8,75.3 480.3,75.0 480.8,74.5 481.3,75.1 481.8,74.8 482.3,74.5 482.8,74.9 483.3,75.1 483.8,74.1 484.3,73.9 484.8,74.7 485.3,74.2 485.8,74.9 486.3,74.3 486.8,74.0 487.3,73.5 487.8,73.2 488.3,74.1 488.8,73.7 489.3,73.3 489.8,73.1 490.3,73.2 490.8,72.9 491.3,73.1 491.8,72.9 492.3,73.6 492.8,73.2 493.3,72.7 493.8,72.6 494.3,73.5 494.8,73.2 495.3,73.1 495.8,72.1 496.3,72.7 496.8,72.5 497.3,72.8 497.8,72.9 498.3,73.0 498.8,73.0 499.3,71.8 499.8,72.9 500.3,72.0 500.8,73.0 501.3,73.0 501.8,71.7 502.3,72.4 502.8,72.2 503.3,72.1 503.8,72.4 504.3,72.2 504.8,71.0 505.3,72.0 505.8,71.9 506.3,72.2 506.8,72.8 507.3,72.6 507.8,72.2 508.3,72.1 508.8,72.2 509.3,70.9 509.8,71.5 510.3,72.4 510.8,72.3 511.3,72.3 511.8,72.1 512.3,72.5 512.8,72.1 513.3,72.2 513.8,71.5 514.3,71.6 514.8,71.9 515.3,71.6 515.8,72.8 516.3,72.3 516.8,71.9 517.3,72.6 517.8,72.4 518.3,71.4 518.8,72.1 519.3,72.2 519.8,72.3 520.3,72.4 520.8,71.5 521.3,71.8 521.8,71.9 522.3,72.7 522.8,72.7 523.3,72.7 523.8,73.0 524.3,71.6 524.8,71.4 525.3,72.3 525.8,72.1 526.3,72.7 526.8,72.9 527.3,72.4 527.8,72.1 528.3,72.1 528.8,72.9 529.3,72.9 529.8,72.7 530.3,71.9 530.8,73.4 531.3,72.7 531.8,73.5 532.3,72.6 532.8,73.9 533.3,74.3 533.8,73.8 534.3,74.2 534.8,74.3 535.3,74.6 535.8,73.8 536.3,74.3 536.8,75.4 537.3,75.6 537.8,75.8 538.3,75.9 538.8,75.5 539.3,76.0 539.8,76.2 540.3,77.0 540.8,76.4 541.3,76.8 541.8,77.2 542.3,76.8 542.8,77.5 543.3,77.7 543.8,78.0 544.3,78.0 544.8,78.9 545.3,78.5 545.8,79.6 546.3,78.5 546.8,79.2 547.3,79.5 547.8,79.9 548.3,79.7 548.8,80.1 549.3,79.8 549.8,79.9 550.3,81.9 550.8,81.3 551.3,81.2 551.8,81.1 552.3,81.9 552.8,81.6 553.3,81.9 553.8,82.8 554.3,82.5 554.8,82.1 555.3,82.1 555.8,82.0 556.3,82.2 556.8,83.6 557.3,83.4 557.8,84.1 558.3,83.9 558.8,84.3 559.3,83.5 559.8,84.4 560.3,84.9 560.8,85.4 561.3,85.4 561.8,85.5 562.3,85.7 562.8,85.3 563.3,85.1 563.8,85.4 564.3,85.6 564.8,86.2 565.3,86.5 565.8,86.0 566.3,85.5 566.8,85.9 567.3,86.7 567.8,86.0 568.3,87.1 568.8,86.3 569.3,87.0 569.8,86.1 570.3,87.3 570.8,85.6 571.3,86.7 571.8,86.8 572.3,86.6 572.8,86.6 573.3,86.5 573.8,86.5 574.3,87.4 574.8,86.1 575.3,87.1 575.8,87.1 576.3,86.0 576.8,86.3 577.3,87.5 577.8,87.2 578.3,86.9 578.8,86.2 579.3,85.7 579.8,85.7 580.3,86.6 580.8,85.7 581.3,85.4 581.8,86.2 582.3,85.4 582.8,86.3 583.3,85.9 583.8,85.9 584.3,84.8 584.8,85.3 584.8,91.6 584.3,92.3 583.8,91.9 583.3,91.8 582.8,92.3 582.3,91.8 581.8,91.4 581.3,92.1 580.8,92.3 580.3,92.1 579.8,92.3 579.3,92.0 578.8,92.3 578.3,91.9 577.8,91.7 577.3,92.3 576.8,92.3 576.3,92.3 575.8,92.3 575.3,91.7 574.8,92.2 574.3,91.5 573.8,92.2 573.3,92.3 572.8,91.5 572.3,92.1 571.8,92.3 571.3,91.8 570.8,92.3 570.3,92.3 569.8,91.4 569.3,92.3 568.8,92.2 568.3,92.1 567.8,92.2 567.3,91.7 566.8,92.3 566.3,92.3 565.8,91.8 565.3,91.3 564.8,92.1 564.3,92.3 563.8,92.3 563.3,92.1 562.8,91.2 562.3,92.3 561.8,91.7 561.3,92.3 560.8,91.8 560.3,92.3 559.8,92.3 559.3,92.3 558.8,92.0 558.3,91.8 557.8,92.2 557.3,92.3 556.8,91.5 556.3,91.8 555.8,92.2 555.3,92.3 554.8,92.3 554.3,92.3 553.8,92.3 553.3,91.3 552.8,92.3 552.3,92.3 551.8,91.9 551.3,91.9 550.8,92.1 550.3,92.1 549.8,92.3 549.3,91.9 548.8,91.8 548.3,92.3 547.8,91.7 547.3,92.3 546.8,92.3 546.3,92.2 545.8,92.1 545.3,91.8 544.8,91.7 544.3,92.3 543.8,92.2 543.3,92.3 542.8,91.4 542.3,90.2 541.8,90.7 541.3,90.1 540.8,90.6 540.3,90.4 539.8,89.2 539.3,89.3 538.8,89.5 538.3,89.3 537.8,89.2 537.3,89.4 536.8,90.0 536.3,88.1 535.8,87.8 535.3,88.3 534.8,88.1 534.3,87.7 533.8,87.0 533.3,88.8 532.8,88.6 532.3,86.8 531.8,87.9 531.3,87.9 530.8,86.6 530.3,86.1 529.8,86.6 529.3,86.5 528.8,87.6 528.3,86.0 527.8,85.7 527.3,86.4 526.8,87.2 526.3,86.3 525.8,86.1 525.3,86.2 524.8,86.4 524.3,85.5 523.8,86.6 523.3,87.0 522.8,86.1 522.3,86.1 521.8,85.7 521.3,85.3 520.8,85.4 520.3,86.0 519.8,85.9 519.3,86.9 518.8,85.9 518.3,85.3 517.8,86.5 517.3,85.6 516.8,85.9 516.3,86.3 515.8,86.9 515.3,86.7 514.8,85.9 514.3,85.1 513.8,85.0 513.3,85.6 512.8,86.6 512.3,86.9 511.8,86.3 511.3,86.9 510.8,86.4 510.3,87.5 509.8,85.0 509.3,84.6 508.8,87.2 508.3,86.5 507.8,86.6 507.3,86.0 506.8,85.9 506.3,86.1 505.8,86.9 505.3,87.1 504.8,85.2 504.3,85.8 503.8,85.9 503.3,85.6 502.8,86.6 502.3,86.8 501.8,85.4 501.3,87.3 500.8,87.2 500.3,86.0 499.8,86.9 499.3,85.5 498.8,86.1 498.3,86.5 497.8,87.2 497.3,86.8 496.8,86.7 496.3,86.9 495.8,86.2 495.3,86.9 494.8,87.1 494.3,87.8 493.8,85.7 493.3,86.5 492.8,87.2 492.3,88.7 491.8,86.3 491.3,87.4 490.8,87.1 490.3,87.3 489.8,87.6 489.3,87.1 488.8,87.2 488.3,88.3 487.8,87.1 487.3,87.4 486.8,87.9 486.3,88.9 485.8,88.2 485.3,87.7 484.8,87.7 484.3,87.7 483.8,88.5 483.3,88.1 482.8,88.9 482.3,89.7 481.8,88.9 481.3,89.8 480.8,88.5 480.3,89.8 479.8,89.5 479.3,89.2 478.8,88.7 478.3,89.9 477.8,88.7 477.3,89.0 476.8,88.8 476.3,89.3 475.8,89.9 475.3,89.2 474.8,89.9 474.3,89.3 473.8,89.5 473.3,90.0 472.8,91.5 472.3,89.6 471.8,88.6 471.3,88.6 470.8,90.7 470.3,90.1 469.8,89.8 469.3,89.8 468.8,90.4 468.3,89.6 467.8,89.9 467.3,88.8 466.8,90.5 466.3,89.5 465.8,91.1 465.3,90.3 464.8,90.7 464.3,90.7 463.8,90.6 463.3,91.3 462.8,90.1 462.3,90.5 461.8,90.5 461.3,91.6 460.8,90.3 460.3,91.3 459.8,90.6 459.3,91.7 458.8,90.5 458.3,91.1 457.8,89.6 457.3,92.2 456.8,91.1 456.3,90.1 455.8,90.4 455.3,91.5 454.8,89.9 454.3,90.3 453.8,89.0 453.3,90.0 452.8,89.9 452.3,89.4 451.8,88.7 451.3,88.6 450.8,88.1 450.3,88.8 449.8,89.2 449.3,88.1 448.8,87.9 448.3,87.9 447.8,87.8 447.3,87.6 446.8,87.7 446.3,87.5 445.8,86.5 445.3,86.8 444.8,86.8 444.3,87.8 443.8,87.6 443.3,86.2 442.8,87.6 442.3,87.0 441.8,87.8 441.3,87.2 440.8,85.7 440.3,86.8 439.8,87.0 439.3,85.9 438.8,85.5 438.3,86.8 437.8,86.8 437.3,86.3 436.8,87.2 436.3,86.8 435.8,86.5 435.3,86.3 434.8,86.6 434.3,85.8 433.8,87.3 433.3,86.4 432.8,86.7 432.3,88.1 431.8,86.0 431.3,85.5 430.8,86.2 430.3,87.3 429.8,86.7 429.3,87.2 428.8,86.7 428.3,88.1 427.8,85.8 427.3,86.3 426.8,87.5 426.3,88.0 425.8,87.7 425.3,90.2 424.8,90.3 424.3,89.0 423.8,89.5 423.3,92.3 422.8,92.3 422.3,92.3 421.8,91.6 421.3,92.3 420.8,91.5 420.3,92.0 419.8,91.6 419.3,92.3 418.8,92.2 418.3,92.3 417.8,92.2 417.3,92.3 416.8,92.0 416.3,91.5 415.8,92.3 415.3,92.0 414.8,91.5 414.3,91.1 413.8,91.7 413.3,92.3 412.8,91.8 412.3,92.1 411.8,92.2 411.3,91.4 410.8,92.0 410.3,92.3 409.8,91.9 409.3,92.1 408.8,92.0 408.3,90.8 407.8,92.3 407.3,91.7 406.8,92.3 406.3,92.2 405.8,92.3 405.3,92.0 404.8,92.3 404.3,91.4 403.8,92.3 403.3,91.2 402.8,91.7 402.3,92.3 401.8,92.0 401.3,92.0 400.8,91.4 400.3,92.2 399.8,92.3 399.3,92.3 398.8,91.5 398.3,91.8 397.8,91.5 397.3,91.7 396.8,91.9 396.3,91.6 395.8,92.3 395.3,92.3 394.8,92.3 394.3,92.3 393.8,91.5 393.3,91.5 392.8,92.3 392.3,91.9 391.8,92.2 391.3,91.9 390.8,91.6 390.3,91.6 389.8,92.0 389.3,92.3 388.8,92.3 388.3,92.3 387.8,92.1 387.3,92.0 386.8,91.6 386.3,92.3 385.8,91.5 385.3,91.4 384.8,92.3 384.3,92.0 383.8,92.3 383.3,92.3 382.8,92.3 382.3,91.9 381.8,91.4 381.3,92.3 380.8,92.1 380.3,92.2 379.8,92.3 379.3,92.3 378.8,91.8 378.3,92.1 377.8,92.3 377.3,91.9 376.8,91.9" fill="#e41a1c"/>
<path d="M392.3 86.4V85.0M403.3 86.8V83.9M407.3 87.2V84.7M408.8 87.5V84.7M411.3 87.3V85.3M418.3 86.6V84.4M418.8 85.5V84.4M435.3 73.2V72.0M442.3 73.5V72.0M457.3 77.5V75.0M500.3 72.5V70.9M508.8 72.7V71.5M512.8 72.6V69.7M523.3 73.2V71.8M524.3 72.1V70.2M524.8 71.9V70.4M527.3 72.9V71.8M531.8 74.0V71.8M534.3 74.7V72.2M559.3 84.0V81.7M559.8 84.9V81.9M574.8 86.6V85.3M579.8 86.2V84.7" stroke="#e41a1c" stroke-width="0.5" opacity="0.7"/>
<path d="M376.8 92.4V91.3M378.3 92.6V90.1M378.8 92.3V91.6M379.8 92.8V90.1M381.8 91.9V90.6M384.3 92.5V91.1M385.3 91.9V90.0M385.8 92.0V90.7M386.3 92.8V90.3M386.8 92.1V91.0M387.3 92.5V91.4M388.3 92.8V91.6M389.3 92.8V92.0M389.8 92.5V90.4M391.3 92.4V90.8M391.8 92.7V91.6M393.3 92.0V91.1M393.8 92.0V90.9M394.3 92.8V91.0M395.8 92.8V91.4M396.3 92.1V91.4M396.8 92.4V91.4M397.8 92.0V90.1M398.8 92.0V90.0M402.8 92.2V90.1M403.3 91.7V90.9M404.3 91.9V89.8M406.3 92.7V90.7M411.3 91.9V90.0M411.8 92.7V91.8M412.3 92.6V91.5M413.3 92.8V91.2M413.8 92.2V90.3M415.8 92.8V91.9M418.8 92.7V91.5M419.3 92.8V90.5M420.8 92.0V89.4M423.3 92.8V87.9M423.8 90.0V86.6M425.3 90.7V89.1M426.8 88.0V83.4M427.3 86.8V85.5M428.8 87.2V82.4M429.3 87.7V82.9M429.8 87.2V82.4M430.8 86.7V84.2M431.3 86.0V83.2M432.3 88.6V86.1M432.8 87.2V84.2M435.3 86.8V83.0M436.8 87.7V84.1M437.8 87.3V82.9M440.3 87.3V83.3M440.8 86.2V82.4M441.3 87.7V84.0M442.3 87.5V84.3M443.8 88.1V86.0M444.8 87.3V82.2M446.3 88.0V85.6M447.3 88.1V85.6M447.8 88.3V84.2M448.3 88.4V86.0M453.3 90.5V88.8M453.8 89.5V85.6M454.3 90.8V87.4M454.8 90.4V88.6M455.3 92.0V90.0M458.3 91.6V88.8M459.8 91.1V90.0M461.3 92.1V88.0M461.8 91.0V89.7M462.3 91.0V89.7M463.8 91.1V86.3M464.3 91.2V89.3M465.3 90.8V89.7M466.3 90.0V88.4M466.8 91.0V89.7M467.3 89.3V84.7M469.3 90.3V87.4M469.8 90.3V88.7M472.3 90.1V85.0M473.3 90.5V87.2M473.8 90.0V86.0M475.3 89.7V85.3M475.8 90.4V85.5M476.8 89.3V86.5M478.8 89.2V86.0M479.3 89.7V84.7M479.8 90.0V85.1M481.3 90.3V85.1M481.8 89.4V88.3M482.3 90.2V87.1M482.8 89.4V87.6M483.3 88.6V85.3M483.8 89.0V85.1M485.3 88.2V84.7M486.8 88.4V87.0M487.3 87.9V86.0M488.3 88.8V84.0M489.8 88.1V84.6M490.8 87.6V85.1M492.3 89.2V86.1M492.8 87.7V85.2M494.3 88.3V85.6M494.8 87.6V85.4M495.8 86.7V84.0M496.3 87.4V85.9M498.3 87.0V83.6M499.8 87.4V84.3M500.8 87.7V86.0M501.3 87.8V84.2M503.3 86.1V82.9M504.8 85.7V80.8M505.3 87.6V82.6M505.8 87.4V84.2M507.3 86.5V83.2M508.8 87.7V86.4M512.3 87.4V82.9M512.8 87.1V83.7M514.3 85.6V82.4M515.8 87.4V84.6M516.3 86.8V84.0M517.3 86.1V82.9M519.3 87.4V85.4M520.3 86.5V83.6M521.3 85.8V84.0M523.8 87.1V84.3M524.8 86.9V82.3M525.8 86.6V82.1M526.3 86.8V85.0M526.8 87.7V83.5M527.3 86.9V82.7M527.8 86.2V81.4M529.3 87.0V83.5M533.3 89.3V86.6M534.3 88.2V86.5M535.3 88.8V84.3M535.8 88.3V83.6M536.3 88.6V86.3M538.8 90.0V88.7M540.3 90.9V88.1M540.8 91.1V86.7M542.8 91.9V88.6M544.3 92.8V91.6M544.8 92.2V90.9M545.8 92.6V91.0M548.3 92.8V91.2M550.3 92.6V90.5M550.8 92.6V91.5M551.8 92.4V89.2M558.3 92.3V90.0M558.8 92.5V90.8M559.3 92.8V90.5M561.8 92.2V89.7M562.8 91.7V90.2M564.3 92.8V91.1M564.8 92.6V90.4M567.3 92.2V90.1M567.8 92.7V90.7M568.3 92.6V91.4M568.8 92.7V90.7M569.3 92.8V91.1M570.8 92.8V90.5M572.3 92.6V91.8M574.8 92.7V91.9M575.8 92.8V91.0M577.8 92.2V91.5M578.3 92.4V90.6M579.3 92.5V90.7M580.8 92.8V91.3M581.3 92.6V90.5M581.8 91.9V90.0M583.3 92.3V90.9M584.3 92.8V91.4" stroke="#fff" stroke-width="0.6" opacity="0.85"/>
<path d="M380.8 85.5V86.7M400.8 85.7V87.6M407.3 86.4V87.5M409.3 87.1V88.5M411.8 87.1V87.9M413.8 86.4V88.4M415.3 85.7V87.7M416.3 86.4V88.4M421.3 80.4V83.3M432.3 72.4V78.2M437.3 72.8V75.7M438.3 72.1V76.6M443.8 73.5V75.2M447.8 73.0V76.1M460.8 76.1V80.4M462.3 76.7V80.2M463.3 76.3V81.1M470.8 75.6V80.2M481.8 74.5V77.1M493.8 72.3V77.5M494.3 73.2V75.9M499.8 72.6V78.0M502.3 72.1V77.5M502.8 71.9V77.5M503.3 71.8V76.9M506.8 72.5V76.5M508.8 71.9V77.6M515.8 72.5V76.9M516.3 72.0V76.6M524.8 71.1V76.4M530.8 73.1V76.9M532.8 73.6V76.2M534.3 73.9V76.7M543.3 77.4V83.3M555.3 81.8V85.3M572.3 86.3V87.4" stroke="#fff" stroke-width="0.4" opacity="0.6"/>
<polygon points="376.8,115.0 377.3,113.9 377.8,113.7 378.3,114.0 378.8,113.7 379.3,114.9 379.8,114.6 380.3,114.5 380.8,114.9 381.3,114.0 381.8,113.6 382.3,114.4 382.8,114.4 383.3,113.9 383.8,114.5 384.3,114.9 384.8,114.0 385.3,114.3 385.8,114.4 386.3,114.5 386.8,114.7 387.3,114.5 387.8,114.9 388.3,113.9 388.8,114.1 389.3,114.6 389.8,114.1 390.3,114.0 390.8,114.3 391.3,114.4 391.8,114.1 392.3,114.6 392.8,114.9 393.3,113.5 393.8,113.3 394.3,114.6 394.8,113.9 395.3,115.0 395.8,115.6 396.3,114.3 396.8,114.1 397.3,114.3 397.8,114.5 398.3,114.3 398.8,113.9 399.3,114.5 399.8,113.4 400.3,114.5 400.8,114.4 401.3,114.9 401.8,114.4 402.3,114.6 402.8,113.9 403.3,114.4 403.8,114.7 404.3,114.8 404.8,114.4 405.3,115.1 405.8,114.9 406.3,114.1 406.8,113.3 407.3,113.9 407.8,114.4 408.3,114.5 408.8,114.3 409.3,114.2 409.8,114.7 410.3,114.1 410.8,113.4 411.3,114.1 411.8,114.4 412.3,113.2 412.8,113.6 413.3,113.3 413.8,112.4 414.3,111.8 414.8,110.4 415.3,110.0 415.8,109.9 416.3,108.5 416.8,107.5 417.3,108.0 417.8,106.2 418.3,107.0 418.8,105.7 419.3,105.5 419.8,105.2 420.3,104.8 420.8,105.1 421.3,104.3 421.8,103.8 422.3,103.9 422.8,102.9 423.3,103.5 423.8,102.6 424.3,103.3 424.8,103.5 425.3,103.3 425.8,102.9 426.3,101.6 426.8,102.5 427.3,103.1 427.8,102.2 428.3,102.6 428.8,101.9 429.3,102.9 429.8,101.1 430.3,101.7 430.8,101.7 431.3,102.0 431.8,101.7 432.3,101.6 432.8,100.4 433.3,102.2 433.8,101.3 434.3,100.9 434.8,101.7 435.3,100.4 435.8,101.0 436.3,101.2 436.8,101.1 437.3,100.9 437.8,100.7 438.3,100.3 438.8,100.8 439.3,100.1 439.8,101.1 440.3,101.0 440.8,100.6 441.3,99.7 441.8,100.8 442.3,100.8 442.8,100.0 443.3,100.3 443.8,100.5 444.3,100.8 444.8,100.3 445.3,100.1 445.8,100.3 446.3,100.1 446.8,101.4 447.3,101.5 447.8,99.8 448.3,100.6 448.8,101.5 449.3,101.5 449.8,101.8 450.3,101.5 450.8,101.2 451.3,101.2 451.8,101.7 452.3,101.3 452.8,100.4 453.3,101.3 453.8,100.5 454.3,101.7 454.8,101.5 455.3,101.5 455.8,101.8 456.3,101.2 456.8,101.9 457.3,102.1 457.8,102.6 458.3,102.6 458.8,103.0 459.3,103.2 459.8,102.7 460.3,103.0 460.8,104.2 461.3,103.5 461.8,104.0 462.3,104.5 462.8,104.0 463.3,105.0 463.8,103.6 464.3,103.7 464.8,103.0 465.3,104.2 465.8,103.6 466.3,104.0 466.8,104.0 467.3,104.8 467.8,103.9 468.3,103.4 468.8,103.3 469.3,103.8 469.8,102.6 470.3,103.1 470.8,102.6 471.3,102.8 471.8,103.7 472.3,102.7 472.8,102.9 473.3,103.4 473.8,102.3 474.3,103.0 474.8,102.3 475.3,102.9 475.8,102.6 476.3,103.2 476.8,102.6 477.3,102.8 477.8,103.2 478.3,102.5 478.8,103.0 479.3,102.7 479.8,102.8 480.3,102.0 480.8,102.3 481.3,102.2 481.8,102.4 482.3,102.6 482.8,102.4 483.3,102.2 483.8,101.6 484.3,101.6 484.8,102.0 485.3,101.2 485.8,101.5 486.3,101.5 486.8,101.7 487.3,101.7 487.8,100.9 488.3,101.6 488.8,100.4 489.3,100.9 489.8,101.5 490.3,101.0 490.8,101.3 491.3,102.3 491.8,101.1 492.3,101.1 492.8,100.2 493.3,101.4 493.8,101.9 494.3,101.3 494.8,101.3 495.3,102.6 495.8,101.4 496.3,101.4 496.8,101.4 497.3,100.9 497.8,101.7 498.3,101.9 498.8,101.9 499.3,101.8 499.8,101.1 500.3,101.2 500.8,102.8 501.3,101.0 501.8,101.0 502.3,101.7 502.8,101.1 503.3,101.3 503.8,101.2 504.3,101.4 504.8,101.9 505.3,102.4 505.8,102.2 506.3,102.6 506.8,102.1 507.3,101.1 507.8,102.1 508.3,101.7 508.8,102.6 509.3,102.8 509.8,102.4 510.3,102.7 510.8,103.1 511.3,103.4 511.8,102.6 512.3,103.4 512.8,102.8 513.3,103.5 513.8,101.9 514.3,103.0 514.8,103.4 515.3,102.8 515.8,102.2 516.3,102.9 516.8,103.4 517.3,103.8 517.8,103.9 518.3,103.7 518.8,103.1 519.3,103.3 519.8,104.1 520.3,104.3 520.8,103.8 521.3,104.6 521.8,103.4 522.3,103.6 522.8,103.6 523.3,103.4 523.8,102.8 524.3,102.8 524.8,103.3 525.3,103.4 525.8,104.0 526.3,103.2 526.8,101.8 527.3,102.4 527.8,102.2 528.3,102.5 528.8,103.1 529.3,102.9 529.8,102.9 530.3,102.0 530.8,102.4 531.3,102.5 531.8,103.4 532.3,103.0 532.8,102.3 533.3,102.7 533.8,102.3 534.3,102.0 534.8,101.9 535.3,101.2 535.8,102.7 536.3,101.9 536.8,101.3 537.3,101.5 537.8,101.4 538.3,101.5 538.8,101.3 539.3,102.2 539.8,100.7 540.3,101.9 540.8,101.4 541.3,101.9 541.8,101.3 542.3,101.1 542.8,101.7 543.3,102.6 543.8,101.1 544.3,102.0 544.8,102.3 545.3,102.0 545.8,101.7 546.3,102.7 546.8,101.9 547.3,102.2 547.8,102.0 548.3,102.3 548.8,102.2 549.3,102.4 549.8,103.6 550.3,103.4 550.8,103.9 551.3,103.4 551.8,104.7 552.3,105.2 552.8,105.0 553.3,104.5 553.8,105.8 554.3,105.0 554.8,106.3 555.3,106.8 555.8,106.1 556.3,106.7 556.8,106.7 557.3,107.2 557.8,107.2 558.3,107.4 558.8,107.6 559.3,108.9 559.8,108.9 560.3,109.5 560.8,109.1 561.3,110.1 561.8,109.1 562.3,109.9 562.8,110.0 563.3,109.8 563.8,110.1 564.3,110.2 564.8,111.0 565.3,110.9 565.8,111.6 566.3,111.8 566.8,111.8 567.3,111.8 567.8,112.2 568.3,112.9 568.8,112.9 569.3,112.8 569.8,113.1 570.3,114.2 570.8,113.5 571.3,113.8 571.8,114.4 572.3,114.0 572.8,113.6 573.3,113.9 573.8,114.1 574.3,114.3 574.8,114.2 575.3,113.9 575.8,114.4 576.3,114.7 576.8,113.9 577.3,115.4 577.8,114.0 578.3,115.2 578.8,115.2 579.3,115.1 579.8,115.0 580.3,114.1 580.8,114.3 581.3,114.8 581.8,114.1 582.3,114.8 582.8,113.9 583.3,113.8 583.8,114.4 584.3,114.1 584.8,114.5 584.8,119.9 584.3,120.0 583.8,119.1 583.3,120.3 582.8,120.3 582.3,120.3 581.8,120.0 581.3,119.4 580.8,118.4 580.3,120.1 579.8,120.0 579.3,120.0 578.8,119.7 578.3,120.3 577.8,119.5 577.3,119.2 576.8,120.3 576.3,120.3 575.8,119.4 575.3,120.3 574.8,119.9 574.3,120.1 573.8,119.9 573.3,120.2 572.8,119.7 572.3,120.2 571.8,120.3 571.3,120.3 570.8,120.3 570.3,120.2 569.8,119.2 569.3,120.1 568.8,120.3 568.3,120.3 567.8,120.0 567.3,120.3 566.8,119.5 566.3,119.3 565.8,120.1 565.3,120.3 564.8,119.8 564.3,120.3 563.8,119.7 563.3,120.3 562.8,119.6 562.3,119.8 561.8,120.3 561.3,119.6 560.8,120.0 560.3,119.7 559.8,120.3 559.3,120.3 558.8,120.3 558.3,120.2 557.8,120.3 557.3,119.9 556.8,120.3 556.3,119.8 555.8,119.1 555.3,119.4 554.8,119.9 554.3,119.5 553.8,120.2 553.3,119.5 552.8,120.3 552.3,119.0 551.8,120.3 551.3,120.0 550.8,119.4 550.3,120.1 549.8,120.3 549.3,118.4 548.8,118.2 548.3,118.2 547.8,118.7 547.3,118.7 546.8,117.8 546.3,119.9 545.8,117.8 545.3,118.5 544.8,118.5 544.3,117.6 543.8,116.9 543.3,119.4 542.8,118.4 542.3,117.5 541.8,118.4 541.3,118.2 540.8,117.9 540.3,117.9 539.8,117.4 539.3,118.4 538.8,117.6 538.3,117.9 537.8,117.9 537.3,118.6 536.8,118.8 536.3,119.1 535.8,118.8 535.3,117.8 534.8,118.2 534.3,119.2 533.8,118.8 533.3,119.2 532.8,118.5 532.3,118.8 531.8,119.7 531.3,119.0 530.8,119.3 530.3,118.4 529.8,119.7 529.3,119.6 528.8,120.1 528.3,119.2 527.8,119.6 527.3,119.6 526.8,118.3 526.3,119.5 525.8,120.3 525.3,120.3 524.8,119.9 524.3,118.9 523.8,119.5 523.3,119.2 522.8,120.3 522.3,120.3 521.8,120.0 521.3,120.1 520.8,119.6 520.3,119.9 519.8,119.8 519.3,119.1 518.8,120.0 518.3,120.3 517.8,120.3 517.3,119.9 516.8,120.1 516.3,120.0 515.8,118.3 515.3,119.4 514.8,120.3 514.3,118.7 513.8,118.3 513.3,119.8 512.8,119.5 512.3,120.2 511.8,118.2 511.3,119.8 510.8,119.7 510.3,119.8 509.8,119.1 509.3,119.1 508.8,119.7 508.3,118.6 507.8,118.3 507.3,117.7 506.8,119.3 506.3,119.4 505.8,120.0 505.3,118.7 504.8,118.1 504.3,117.3 503.8,118.3 503.3,117.7 502.8,117.2 502.3,118.6 501.8,117.3 501.3,117.5 500.8,119.7 500.3,117.5 499.8,117.6 499.3,117.7 498.8,118.7 498.3,118.9 497.8,117.4 497.3,117.3 496.8,117.4 496.3,117.5 495.8,117.5 495.3,118.7 494.8,117.5 494.3,118.2 493.8,118.5 493.3,117.6 492.8,117.6 492.3,117.5 491.8,117.3 491.3,119.0 490.8,117.8 490.3,116.4 489.8,117.6 489.3,118.0 488.8,115.9 488.3,118.4 487.8,117.6 487.3,117.7 486.8,117.8 486.3,119.0 485.8,117.8 485.3,116.8 484.8,117.8 484.3,118.1 483.8,117.2 483.3,118.7 482.8,118.5 482.3,119.4 481.8,118.6 481.3,119.5 480.8,119.1 480.3,118.3 479.8,119.3 479.3,119.2 478.8,119.6 478.3,118.6 477.8,119.6 477.3,119.1 476.8,118.6 476.3,119.6 475.8,119.4 475.3,119.7 474.8,118.6 474.3,119.4 473.8,118.6 473.3,119.3 472.8,119.8 472.3,119.0 471.8,120.3 471.3,119.7 470.8,118.6 470.3,118.7 469.8,118.8 469.3,119.3 468.8,119.5 468.3,119.4 467.8,119.2 467.3,120.2 466.8,119.8 466.3,119.4 465.8,120.0 465.3,120.3 464.8,119.4 464.3,119.1 463.8,119.5 463.3,119.7 462.8,119.4 462.3,119.9 461.8,120.2 461.3,119.9 460.8,120.2 460.3,119.5 459.8,119.0 459.3,119.2 458.8,119.9 458.3,117.9 457.8,119.0 457.3,118.7 456.8,118.6 456.3,118.0 455.8,118.1 455.3,118.0 454.8,118.0 454.3,117.9 453.8,116.3 453.3,117.4 452.8,116.4 452.3,118.1 451.8,117.7 451.3,117.8 450.8,117.9 450.3,118.2 449.8,118.2 449.3,117.6 448.8,119.0 448.3,116.6 447.8,116.7 447.3,118.4 446.8,117.4 446.3,116.1 445.8,116.7 445.3,116.8 444.8,116.7 444.3,116.6 443.8,117.5 443.3,116.0 442.8,116.6 442.3,116.9 441.8,118.0 441.3,116.4 440.8,117.2 440.3,117.3 439.8,117.8 439.3,116.8 438.8,117.1 438.3,116.4 437.8,117.1 437.3,117.7 436.8,118.0 436.3,116.7 435.8,117.9 435.3,116.0 434.8,118.8 434.3,117.2 433.8,117.8 433.3,119.2 432.8,118.0 432.3,117.2 431.8,118.8 431.3,118.1 430.8,117.7 430.3,118.6 429.8,118.4 429.3,119.5 428.8,119.3 428.3,118.5 427.8,118.9 427.3,119.9 426.8,118.0 426.3,118.3 425.8,118.8 425.3,120.3 424.8,119.7 424.3,119.8 423.8,119.2 423.3,120.1 422.8,119.8 422.3,120.3 421.8,120.3 421.3,120.3 420.8,118.8 420.3,120.1 419.8,120.3 419.3,120.3 418.8,120.1 418.3,119.9 417.8,119.5 417.3,119.6 416.8,120.3 416.3,120.3 415.8,120.3 415.3,119.4 414.8,120.3 414.3,119.9 413.8,120.3 413.3,120.2 412.8,120.3 412.3,119.7 411.8,119.7 411.3,120.3 410.8,120.2 410.3,120.3 409.8,120.3 409.3,119.5 408.8,120.3 408.3,119.8 407.8,120.0 407.3,119.9 406.8,119.3 406.3,120.3 405.8,119.5 405.3,119.9 404.8,120.3 404.3,119.8 403.8,118.8 403.3,120.0 402.8,119.7 402.3,120.3 401.8,119.6 401.3,120.3 400.8,120.1 400.3,120.3 399.8,120.2 399.3,120.1 398.8,120.1 398.3,120.3 397.8,119.9 397.3,119.2 396.8,119.5 396.3,119.0 395.8,119.9 395.3,119.6 394.8,120.3 394.3,118.8 393.8,120.0 393.3,120.1 392.8,120.1 392.3,119.6 391.8,120.3 391.3,120.1 390.8,119.5 390.3,120.1 389.8,120.3 389.3,120.1 388.8,120.0 388.3,119.5 387.8,119.9 387.3,120.3 386.8,120.0 386.3,118.9 385.8,119.3 385.3,119.2 384.8,120.3 384.3,119.8 383.8,119.7 383.3,119.8 382.8,119.9 382.3,120.3 381.8,120.3 381.3,120.1 380.8,119.9 380.3,119.8 379.8,120.3 379.3,120.3 378.8,119.9 378.3,119.4 377.8,120.3 377.3,119.3 376.8,119.8" fill="#ff7f00"/>
<path d="M390.3 114.5V112.2M416.8 108.0V105.4M421.8 104.3V102.2M432.3 102.1V99.3M437.8 101.2V99.6M445.3 100.6V98.9M449.3 102.0V100.1M468.8 103.8V100.9M485.3 101.7V99.2M515.3 103.3V101.5M527.8 102.7V101.5M535.3 101.7V100.0M538.8 101.8V99.6M545.3 102.5V100.0M547.8 102.5V100.3M550.8 104.4V101.7M554.8 106.8V105.4M567.8 112.7V109.7M574.3 114.8V113.3" stroke="#ff7f00" stroke-width="0.5" opacity="0.7"/>
<path d="M376.8 120.3V118.9M377.8 120.8V119.0M378.3 119.9V118.2M380.8 120.4V119.1M382.3 120.8V118.9M384.3 120.3V118.6M384.8 120.8V118.9M386.3 119.4V117.8M387.8 120.4V119.1M388.3 120.0V118.8M388.8 120.5V119.1M389.3 120.6V119.7M391.3 120.6V118.9M392.3 120.1V119.3M393.3 120.6V118.9M394.8 120.8V119.1M395.8 120.4V119.6M396.3 119.5V118.7M396.8 120.0V118.5M397.8 120.4V119.6M398.3 120.8V118.5M398.8 120.6V119.0M399.8 120.7V118.8M400.3 120.8V119.7M400.8 120.6V118.5M402.3 120.8V120.0M402.8 120.2V118.1M403.3 120.5V118.5M407.3 120.4V119.1M407.8 120.5V119.2M408.8 120.8V118.6M412.3 120.2V118.7M412.8 120.8V119.4M413.3 120.7V118.0M415.3 119.9V118.4M415.8 120.8V117.8M419.3 120.8V118.3M421.8 120.8V119.5M422.3 120.8V115.8M422.8 120.3V116.2M423.8 119.7V116.1M424.3 120.3V116.9M424.8 120.2V117.0M425.3 120.8V119.5M425.8 119.3V113.7M427.8 119.4V117.0M430.8 118.2V113.7M431.3 118.6V117.2M431.8 119.3V113.3M432.3 117.7V115.3M432.8 118.5V117.1M434.3 117.7V114.4M434.8 119.3V113.5M436.8 118.5V114.2M437.3 118.2V113.7M439.3 117.3V113.5M441.3 116.9V114.7M441.8 118.5V113.3M442.3 117.4V115.9M444.3 117.1V112.7M446.3 116.6V113.2M449.8 118.7V114.6M450.3 118.7V117.2M450.8 118.4V115.7M451.3 118.3V113.3M453.3 117.9V115.9M455.3 118.5V116.6M456.3 118.5V114.7M457.8 119.5V115.5M458.8 120.4V117.3M459.8 119.5V115.1M460.3 120.0V117.4M460.8 120.7V119.0M461.3 120.4V118.8M462.3 120.4V117.1M462.8 119.9V117.6M463.8 120.0V118.0M464.3 119.6V115.6M466.3 119.9V117.2M467.8 119.7V118.1M468.3 119.9V117.5M469.3 119.8V115.6M471.3 120.2V116.2M472.8 120.3V116.8M473.8 119.1V113.5M475.3 120.2V118.8M475.8 119.9V114.2M476.8 119.1V117.3M477.8 120.1V117.0M478.8 120.1V118.8M479.3 119.7V114.9M482.3 119.9V117.1M485.3 117.3V113.9M485.8 118.3V116.3M486.3 119.5V113.8M486.8 118.3V116.9M487.3 118.2V113.9M489.3 118.5V112.7M490.8 118.3V115.6M491.3 119.5V116.4M491.8 117.8V114.4M493.3 118.1V113.1M494.8 118.0V114.2M495.8 118.0V115.0M496.3 118.0V112.9M498.3 119.4V116.5M498.8 119.2V114.3M499.3 118.2V113.5M502.8 117.7V115.0M503.3 118.2V114.0M505.3 119.2V115.0M507.8 118.8V113.7M508.3 119.1V113.6M509.3 119.6V116.6M511.3 120.3V114.8M511.8 118.7V117.0M512.8 120.0V114.6M513.3 120.3V114.5M514.8 120.8V118.9M517.3 120.4V115.6M518.8 120.5V117.8M520.8 120.1V114.5M521.3 120.6V118.1M522.3 120.8V118.1M523.3 119.7V117.3M524.3 119.4V114.2M525.8 120.8V116.9M526.3 120.0V116.7M527.3 120.1V116.5M529.8 120.2V118.2M530.3 118.9V116.5M530.8 119.8V115.5M532.3 119.3V115.8M535.8 119.3V116.7M536.3 119.6V115.2M536.8 119.3V115.6M538.3 118.4V114.0M538.8 118.1V116.0M539.3 118.9V115.5M540.3 118.4V113.9M542.3 118.0V112.9M542.8 118.9V115.3M545.3 119.0V116.7M546.3 120.4V117.3M547.8 119.2V117.2M548.8 118.7V113.3M549.3 118.9V114.2M549.8 120.8V118.8M551.3 120.5V115.6M553.8 120.7V116.0M556.8 120.8V118.3M557.8 120.8V118.6M560.8 120.5V117.4M562.8 120.1V118.5M564.3 120.8V117.3M565.3 120.8V119.6M567.3 120.8V117.8M567.8 120.5V117.8M569.3 120.6V118.0M569.8 119.7V118.0M571.8 120.8V118.8M572.8 120.2V118.3M575.3 120.8V119.5M576.3 120.8V119.0M579.8 120.5V118.8M581.8 120.5V118.8M584.8 120.4V119.5" stroke="#fff" stroke-width="0.6" opacity="0.85"/>
<path d="M397.3 114.0V115.3M400.8 114.1V116.4M403.3 114.1V116.6M406.3 113.8V116.1M406.8 113.0V114.3M407.8 114.1V115.6M415.3 109.7V112.0M426.8 102.2V106.6M427.8 101.9V107.6M437.8 100.4V104.6M438.3 100.0V103.8M449.3 101.2V106.3M451.8 101.4V104.4M452.3 101.0V105.6M461.8 103.7V107.4M462.8 103.7V108.7M468.3 103.1V107.7M474.3 102.7V109.2M476.3 102.9V105.2M479.3 102.4V106.8M481.8 102.1V105.0M493.3 101.1V104.6M503.3 101.0V107.5M509.3 102.5V105.6M512.8 102.5V105.9M520.8 103.5V107.9M535.8 102.4V105.3M536.3 101.6V104.7M545.3 101.7V104.7M546.3 102.4V107.6M550.3 103.1V110.0M551.8 104.4V109.5M559.8 108.6V113.2M561.8 108.8V113.1M562.3 109.6V111.9M574.8 113.9V116.2M578.3 114.9V117.1" stroke="#fff" stroke-width="0.4" opacity="0.6"/>
<polygon points="376.8,141.5 377.3,141.5 377.8,142.1 378.3,142.4 378.8,141.3 379.3,142.7 379.8,142.1 380.3,141.3 380.8,141.3 381.3,141.7 381.8,141.5 382.3,141.0 382.8,140.8 383.3,142.0 383.8,141.2 384.3,142.4 384.8,142.7 385.3,141.5 385.8,142.3 386.3,141.4 386.8,142.6 387.3,142.0 387.8,140.9 388.3,141.4 388.8,141.6 389.3,141.8 389.8,142.4 390.3,140.8 390.8,141.7 391.3,143.0 391.8,141.5 392.3,141.4 392.8,141.7 393.3,141.1 393.8,142.0 394.3,141.8 394.8,142.1 395.3,142.3 395.8,142.8 396.3,141.8 396.8,142.2 397.3,141.3 397.8,142.7 398.3,142.4 398.8,142.6 399.3,142.3 399.8,142.5 400.3,143.1 400.8,142.6 401.3,142.7 401.8,142.5 402.3,142.6 402.8,143.1 403.3,142.4 403.8,142.5 404.3,142.4 404.8,142.6 405.3,142.7 405.8,142.5 406.3,142.7 406.8,143.2 407.3,142.5 407.8,142.6 408.3,143.3 408.8,142.8 409.3,143.0 409.8,142.3 410.3,142.6 410.8,143.7 411.3,142.8 411.8,142.3 412.3,142.3 412.8,141.5 413.3,141.4 413.8,141.6 414.3,141.8 414.8,140.3 415.3,142.2 415.8,140.6 416.3,140.7 416.8,139.6 417.3,139.8 417.8,140.0 418.3,139.8 418.8,138.6 419.3,138.1 419.8,137.9 420.3,138.8 420.8,137.4 421.3,137.7 421.8,137.0 422.3,137.3 422.8,136.6 423.3,135.7 423.8,135.3 424.3,135.8 424.8,135.1 425.3,134.9 425.8,135.0 426.3,134.2 426.8,134.1 427.3,133.2 427.8,132.6 428.3,132.3 428.8,132.2 429.3,132.8 429.8,132.0 430.3,131.5 430.8,130.7 431.3,130.8 431.8,131.3 432.3,130.7 432.8,130.0 433.3,129.5 433.8,129.6 434.3,129.1 434.8,129.4 435.3,129.4 435.8,129.4 436.3,128.6 436.8,128.3 437.3,129.4 437.8,128.2 438.3,128.2 438.8,128.5 439.3,128.7 439.8,128.4 440.3,128.9 440.8,127.9 441.3,128.0 441.8,128.3 442.3,128.9 442.8,128.9 443.3,128.6 443.8,129.1 444.3,128.9 444.8,128.8 445.3,128.6 445.8,129.1 446.3,128.8 446.8,129.1 447.3,128.7 447.8,129.0 448.3,129.2 448.8,129.1 449.3,129.6 449.8,129.5 450.3,129.4 450.8,129.9 451.3,129.0 451.8,130.2 452.3,129.0 452.8,130.3 453.3,130.4 453.8,130.6 454.3,130.2 454.8,130.4 455.3,130.5 455.8,130.3 456.3,130.4 456.8,130.7 457.3,130.5 457.8,130.4 458.3,130.6 458.8,130.7 459.3,131.2 459.8,130.3 460.3,130.5 460.8,131.1 461.3,130.6 461.8,130.5 462.3,130.9 462.8,131.2 463.3,131.5 463.8,130.6 464.3,130.9 464.8,131.2 465.3,131.3 465.8,131.5 466.3,131.4 466.8,131.2 467.3,130.8 467.8,131.2 468.3,132.1 468.8,131.9 469.3,131.4 469.8,130.6 470.3,130.7 470.8,131.2 471.3,130.0 471.8,130.2 472.3,130.6 472.8,129.5 473.3,130.6 473.8,129.9 474.3,131.0 474.8,129.9 475.3,130.1 475.8,130.0 476.3,130.4 476.8,129.5 477.3,129.7 477.8,129.2 478.3,128.6 478.8,129.2 479.3,129.2 479.8,128.7 480.3,128.5 480.8,129.0 481.3,128.9 481.8,128.8 482.3,130.2 482.8,129.1 483.3,129.7 483.8,128.8 484.3,130.0 484.8,129.3 485.3,129.2 485.8,129.3 486.3,129.5 486.8,129.4 487.3,129.3 487.8,129.7 488.3,129.5 488.8,130.0 489.3,130.1 489.8,130.0 490.3,130.7 490.8,130.7 491.3,130.8 491.8,130.6 492.3,130.2 492.8,132.5 493.3,131.8 493.8,131.6 494.3,132.1 494.8,132.1 495.3,132.2 495.8,131.6 496.3,131.8 496.8,132.7 497.3,133.0 497.8,133.2 498.3,132.1 498.8,133.2 499.3,134.0 499.8,133.2 500.3,133.3 500.8,133.3 501.3,132.3 501.8,133.6 502.3,133.8 502.8,133.3 503.3,133.1 503.8,133.4 504.3,133.8 504.8,134.2 505.3,133.7 505.8,133.7 506.3,133.5 506.8,133.1 507.3,132.9 507.8,133.3 508.3,133.1 508.8,133.1 509.3,134.0 509.8,133.3 510.3,132.2 510.8,133.0 511.3,132.7 511.8,133.5 512.3,132.7 512.8,133.0 513.3,132.6 513.8,132.4 514.3,131.2 514.8,132.4 515.3,132.7 515.8,131.5 516.3,132.3 516.8,130.9 517.3,131.4 517.8,131.4 518.3,131.6 518.8,131.4 519.3,130.7 519.8,131.7 520.3,130.1 520.8,130.4 521.3,130.4 521.8,129.7 522.3,130.1 522.8,130.6 523.3,131.4 523.8,131.1 524.3,130.4 524.8,130.6 525.3,129.1 525.8,130.4 526.3,130.9 526.8,129.7 527.3,130.6 527.8,129.5 528.3,130.0 528.8,130.0 529.3,130.2 529.8,130.1 530.3,130.6 530.8,130.3 531.3,130.0 531.8,129.9 532.3,129.6 532.8,129.9 533.3,129.4 533.8,129.4 534.3,130.5 534.8,130.6 535.3,130.6 535.8,130.1 536.3,130.6 536.8,129.6 537.3,130.9 537.8,130.8 538.3,131.2 538.8,130.7 539.3,130.7 539.8,130.1 540.3,131.2 540.8,130.6 541.3,130.2 541.8,130.5 542.3,131.0 542.8,131.3 543.3,130.1 543.8,129.4 544.3,129.8 544.8,129.9 545.3,129.7 545.8,129.9 546.3,129.6 546.8,129.5 547.3,130.2 547.8,129.5 548.3,130.7 548.8,131.4 549.3,131.3 549.8,131.9 550.3,132.6 550.8,133.6 551.3,132.4 551.8,133.8 552.3,134.0 552.8,132.8 553.3,134.5 553.8,134.2 554.3,135.9 554.8,135.9 555.3,134.8 555.8,136.0 556.3,135.5 556.8,136.0 557.3,136.8 557.8,136.7 558.3,136.9 558.8,135.9 559.3,136.4 559.8,136.8 560.3,137.8 560.8,138.2 561.3,138.2 561.8,138.4 562.3,138.1 562.8,139.0 563.3,139.4 563.8,138.9 564.3,139.4 564.8,140.2 565.3,139.2 565.8,139.6 566.3,140.2 566.8,140.1 567.3,139.9 567.8,140.5 568.3,140.7 568.8,141.2 569.3,141.7 569.8,140.7 570.3,141.1 570.8,142.3 571.3,141.9 571.8,141.9 572.3,141.9 572.8,142.6 573.3,142.0 573.8,142.7 574.3,142.4 574.8,142.5 575.3,142.2 575.8,143.3 576.3,143.4 576.8,142.6 577.3,143.3 577.8,144.6 578.3,142.7 578.8,142.8 579.3,143.3 579.8,142.4 580.3,143.1 580.8,143.3 581.3,143.2 581.8,142.7 582.3,142.7 582.8,142.6 583.3,142.7 583.8,142.4 584.3,142.2 584.8,143.1 584.8,147.3 584.3,148.2 583.8,147.4 583.3,147.8 582.8,147.7 582.3,148.1 581.8,146.9 581.3,147.8 580.8,147.9 580.3,148.1 579.8,147.7 579.3,148.2 578.8,147.9 578.3,148.2 577.8,147.3 577.3,147.2 576.8,147.8 576.3,148.2 575.8,148.2 575.3,147.3 574.8,147.3 574.3,148.1 573.8,148.2 573.3,148.0 572.8,148.0 572.3,147.3 571.8,147.3 571.3,148.2 570.8,147.9 570.3,148.2 569.8,148.2 569.3,147.3 568.8,148.2 568.3,147.1 567.8,148.2 567.3,148.2 566.8,147.8 566.3,148.1 565.8,148.2 565.3,148.2 564.8,148.0 564.3,147.9 563.8,147.6 563.3,147.9 562.8,147.9 562.3,147.9 561.8,148.2 561.3,148.1 560.8,148.1 560.3,147.7 559.8,148.0 559.3,148.2 558.8,148.2 558.3,148.1 557.8,148.2 557.3,147.9 556.8,147.8 556.3,148.1 555.8,147.9 555.3,148.0 554.8,148.2 554.3,148.2 553.8,147.6 553.3,148.0 552.8,146.7 552.3,147.5 551.8,147.2 551.3,146.9 550.8,148.2 550.3,146.9 549.8,146.5 549.3,145.9 548.8,145.8 548.3,145.1 547.8,144.3 547.3,145.5 546.8,143.3 546.3,144.0 545.8,144.0 545.3,144.1 544.8,144.2 544.3,144.6 543.8,144.4 543.3,144.4 542.8,145.8 542.3,145.3 541.8,144.5 541.3,144.9 540.8,145.2 540.3,145.3 539.8,143.9 539.3,144.0 538.8,145.0 538.3,146.1 537.8,145.6 537.3,145.1 536.8,144.5 536.3,144.5 535.8,144.4 535.3,145.4 534.8,144.1 534.3,143.9 533.8,144.7 533.3,143.1 532.8,144.4 532.3,144.3 531.8,145.0 531.3,144.4 530.8,144.0 530.3,145.7 529.8,145.5 529.3,144.3 528.8,144.4 528.3,144.6 527.8,143.1 527.3,146.1 526.8,144.0 526.3,145.9 525.8,145.3 525.3,143.9 524.8,144.7 524.3,145.6 523.8,145.1 523.3,145.5 522.8,144.9 522.3,144.1 521.8,144.1 521.3,144.6 520.8,145.7 520.3,144.2 519.8,146.5 519.3,144.9 518.8,146.5 518.3,146.1 517.8,145.8 517.3,146.1 516.8,145.5 516.3,147.0 515.8,146.2 515.3,147.2 514.8,146.3 514.3,145.6 513.8,146.2 513.3,146.6 512.8,148.2 512.3,147.3 511.8,147.4 511.3,146.7 510.8,147.4 510.3,146.2 509.8,147.6 509.3,148.0 508.8,148.2 508.3,147.9 507.8,147.0 507.3,146.0 506.8,147.2 506.3,148.2 505.8,148.2 505.3,147.7 504.8,147.7 504.3,147.3 503.8,147.3 503.3,148.0 502.8,148.2 502.3,147.7 501.8,147.6 501.3,147.4 500.8,148.2 500.3,146.7 499.8,147.3 499.3,147.7 498.8,147.4 498.3,145.8 497.8,147.1 497.3,148.2 496.8,146.7 496.3,146.2 495.8,146.1 495.3,146.5 494.8,147.1 494.3,146.2 493.8,146.0 493.3,146.2 492.8,146.8 492.3,143.9 491.8,144.6 491.3,144.6 490.8,144.9 490.3,145.6 489.8,144.4 489.3,144.8 488.8,144.4 488.3,144.3 487.8,144.0 487.3,143.9 486.8,143.6 486.3,144.1 485.8,144.5 485.3,144.6 484.8,143.1 484.3,144.0 483.8,143.5 483.3,144.0 482.8,143.3 482.3,144.8 481.8,143.1 481.3,143.8 480.8,143.3 480.3,143.3 479.8,142.9 479.3,143.8 478.8,144.0 478.3,143.2 477.8,143.9 477.3,144.5 476.8,143.9 476.3,145.3 475.8,145.0 475.3,144.6 474.8,144.3 474.3,145.0 473.8,145.6 473.3,145.4 472.8,143.9 472.3,144.7 471.8,145.0 471.3,145.3 470.8,146.7 470.3,144.7 469.8,144.6 469.3,145.0 468.8,145.2 468.3,145.8 467.8,145.9 467.3,145.1 466.8,145.4 466.3,145.4 465.8,146.4 465.3,146.5 464.8,145.0 464.3,145.5 463.8,145.1 463.3,146.4 462.8,146.3 462.3,145.6 461.8,145.5 461.3,145.5 460.8,145.3 460.3,144.8 459.8,143.8 459.3,145.1 458.8,145.7 458.3,146.4 457.8,144.9 457.3,144.6 456.8,145.1 456.3,144.3 455.8,145.4 455.3,144.3 454.8,144.5 454.3,144.8 453.8,146.1 453.3,145.3 452.8,144.5 452.3,143.2 451.8,145.2 451.3,143.9 450.8,144.6 450.3,144.6 449.8,144.4 449.3,143.9 448.8,143.4 448.3,143.4 447.8,144.0 447.3,143.3 446.8,143.5 446.3,143.8 445.8,143.6 445.3,143.7 444.8,143.3 444.3,143.8 443.8,144.0 443.3,143.2 442.8,143.9 442.3,143.5 441.8,142.5 441.3,142.9 440.8,142.8 440.3,143.0 439.8,142.3 439.3,144.1 438.8,142.7 438.3,143.2 437.8,142.6 437.3,143.6 436.8,143.4 436.3,143.0 435.8,143.5 435.3,144.2 434.8,144.1 434.3,143.6 433.8,144.5 433.3,143.6 432.8,144.7 432.3,145.4 431.8,145.8 431.3,146.0 430.8,145.3 430.3,145.9 429.8,146.5 429.3,147.5 428.8,145.7 428.3,146.9 427.8,147.7 427.3,147.1 426.8,147.9 426.3,147.8 425.8,147.4 425.3,147.2 424.8,147.5 424.3,148.2 423.8,148.1 423.3,148.2 422.8,147.6 422.3,148.2 421.8,147.0 421.3,147.2 420.8,148.2 420.3,148.2 419.8,148.2 419.3,148.2 418.8,147.8 418.3,148.0 417.8,148.2 417.3,148.2 416.8,147.5 416.3,148.2 415.8,148.2 415.3,148.0 414.8,148.2 414.3,148.2 413.8,148.2 413.3,147.6 412.8,147.2 412.3,148.2 411.8,147.3 411.3,148.1 410.8,148.2 410.3,147.7 409.8,148.2 409.3,147.6 408.8,148.2 408.3,147.8 407.8,148.2 407.3,148.2 406.8,148.2 406.3,147.6 405.8,148.2 405.3,148.1 404.8,148.0 404.3,148.0 403.8,148.2 403.3,147.8 402.8,148.2 402.3,148.2 401.8,147.7 401.3,148.2 400.8,148.0 400.3,147.5 399.8,147.8 399.3,148.2 398.8,147.7 398.3,148.2 397.8,147.6 397.3,148.0 396.8,148.1 396.3,148.2 395.8,147.8 395.3,148.2 394.8,148.1 394.3,147.4 393.8,148.1 393.3,147.8 392.8,148.2 392.3,147.3 391.8,147.2 391.3,147.8 390.8,147.8 390.3,147.7 389.8,148.2 389.3,147.9 388.8,148.2 388.3,148.2 387.8,148.0 387.3,148.2 386.8,147.5 386.3,147.9 385.8,147.7 385.3,148.2 384.8,147.6 384.3,148.0 383.8,147.4 383.3,147.1 382.8,147.6 382.3,148.2 381.8,147.6 381.3,148.2 380.8,148.2 380.3,147.9 379.8,147.5 379.3,147.6 378.8,148.2 378.3,148.1 377.8,147.9 377.3,146.7 376.8,148.0" fill="#984ea3"/>
<path d="M386.3 141.9V139.4M402.3 143.1V140.3M418.3 140.3V139.2M419.3 138.6V137.4M427.8 133.1V131.4M429.3 133.3V130.5M432.8 130.5V129.2M448.8 129.6V127.0M452.3 129.5V127.9M459.8 130.8V128.0M464.3 131.4V130.3M470.3 131.2V130.1M475.3 130.6V129.5M479.3 129.7V127.2M481.3 129.4V128.3M500.8 133.8V131.8M528.8 130.5V128.1M529.3 130.7V128.9M538.8 131.2V130.2M541.3 130.7V128.4M543.3 130.6V128.4M556.3 136.0V133.3M570.3 141.6V139.2M575.8 143.8V142.0" stroke="#984ea3" stroke-width="0.5" opacity="0.7"/>
<path d="M376.8 148.5V147.6M378.3 148.6V147.2M380.3 148.4V147.3M380.8 148.7V146.9M382.8 148.1V146.2M383.3 147.6V146.4M383.8 147.9V146.2M385.3 148.7V147.2M386.8 148.0V146.4M387.3 148.7V146.3M388.8 148.7V147.1M389.8 148.7V147.4M390.3 148.2V147.2M391.3 148.3V146.6M392.8 148.7V147.3M393.3 148.3V146.3M394.3 147.9V145.9M396.8 148.6V146.5M397.3 148.5V146.5M398.8 148.2V146.3M399.3 148.7V147.3M399.8 148.3V146.3M400.3 148.0V147.2M400.8 148.5V147.1M401.3 148.7V146.6M402.8 148.7V147.6M403.8 148.7V146.6M404.3 148.5V147.2M404.8 148.5V147.2M405.8 148.7V147.5M407.3 148.7V147.3M408.8 148.7V147.4M409.3 148.1V146.8M410.3 148.2V146.6M416.3 148.7V147.2M417.8 148.7V145.9M418.3 148.5V146.4M419.3 148.7V146.7M421.3 147.7V145.6M421.8 147.5V145.6M422.3 148.7V146.2M422.8 148.1V146.4M423.3 148.7V146.7M426.8 148.4V146.3M427.8 148.2V144.1M429.3 148.0V146.6M430.3 146.4V145.0M430.8 145.8V141.8M431.8 146.3V142.4M432.3 145.9V141.0M434.3 144.1V141.8M434.8 144.6V143.4M435.3 144.7V143.2M436.8 143.9V142.4M438.3 143.7V139.2M439.8 142.8V138.9M440.8 143.3V141.9M441.3 143.4V138.8M442.8 144.4V141.3M443.3 143.7V138.6M444.3 144.3V140.2M445.8 144.1V142.2M446.3 144.3V143.0M448.8 143.9V139.7M449.3 144.4V140.8M450.3 145.1V143.5M451.3 144.4V139.6M452.8 145.0V141.2M453.3 145.8V141.2M453.8 146.6V142.2M455.3 144.8V142.8M456.3 144.8V143.2M457.3 145.1V143.3M458.3 146.9V143.8M459.3 145.6V144.3M460.3 145.3V141.8M460.8 145.8V144.0M461.3 146.0V141.6M461.8 146.0V142.1M462.8 146.8V145.1M463.3 146.9V144.4M463.8 145.6V144.0M465.3 147.0V145.5M468.8 145.7V142.9M470.3 145.2V141.0M471.3 145.8V141.1M471.8 145.5V143.7M473.3 145.9V141.1M473.8 146.1V144.0M475.8 145.5V142.4M477.3 145.0V141.7M477.8 144.4V143.2M478.8 144.5V139.2M479.3 144.3V142.7M479.8 143.4V139.7M480.8 143.8V141.7M481.8 143.6V140.3M482.3 145.3V141.6M483.8 144.0V138.8M485.3 145.1V142.9M487.3 144.4V139.8M488.8 144.9V140.8M489.8 144.9V143.1M492.3 144.4V141.9M492.8 147.3V145.7M493.8 146.5V145.4M494.8 147.6V145.3M495.3 147.0V145.2M495.8 146.6V144.4M499.3 148.2V145.7M499.8 147.8V144.4M501.8 148.1V143.6M502.3 148.2V146.7M505.3 148.2V143.3M506.3 148.7V143.8M510.3 146.7V141.7M510.8 147.9V144.6M512.8 148.7V144.2M513.8 146.7V145.5M515.3 147.7V143.0M517.3 146.6V141.3M518.3 146.6V144.9M519.3 145.4V142.6M522.8 145.4V141.3M524.8 145.2V140.7M527.3 146.6V143.0M528.3 145.1V143.3M528.8 144.9V141.1M529.8 146.0V144.4M530.3 146.2V145.1M531.3 144.9V142.9M532.8 144.9V142.8M533.3 143.6V142.0M534.8 144.6V143.0M537.3 145.6V142.3M537.8 146.1V141.3M539.3 144.5V141.9M542.3 145.8V141.1M543.3 144.9V140.3M545.8 144.5V141.3M547.8 144.8V143.0M548.3 145.6V142.3M548.8 146.3V144.5M551.8 147.7V144.8M552.3 148.0V146.5M552.8 147.2V144.3M557.3 148.4V145.7M560.3 148.2V144.8M563.3 148.4V146.9M564.3 148.4V145.8M567.3 148.7V147.1M571.3 148.7V147.5M572.3 147.8V147.0M573.3 148.5V146.8M573.8 148.7V146.4M574.3 148.6V146.4M574.8 147.8V146.8M577.3 147.7V146.1M577.8 147.8V146.7M579.3 148.7V147.6M580.3 148.6V146.6M580.8 148.4V146.6M582.8 148.2V146.7M583.8 147.9V146.8M584.3 148.7V147.1M584.8 147.8V146.4" stroke="#fff" stroke-width="0.6" opacity="0.85"/>
<path d="M378.8 141.0V142.7M404.3 142.1V144.1M411.3 142.5V143.7M412.3 142.0V143.2M419.3 137.8V141.9M421.8 136.7V138.4M430.3 131.2V135.7M439.8 128.1V132.0M445.8 128.8V133.7M468.8 131.6V135.5M477.8 128.9V134.9M487.3 129.0V131.7M492.8 132.2V134.4M493.8 131.3V136.8M495.3 131.9V135.9M504.8 133.9V137.6M505.3 133.4V135.8M510.3 131.9V135.5M511.8 133.2V135.1M513.8 132.1V134.2M517.8 131.1V136.2M552.3 133.7V138.3M553.3 134.2V136.7M554.3 135.6V139.4M557.3 136.5V140.5M559.8 136.5V140.6M560.8 137.9V140.0M569.8 140.4V143.1" stroke="#fff" stroke-width="0.4" opacity="0.6"/>
<polygon points="376.8,170.1 377.3,169.8 377.8,170.7 378.3,170.2 378.8,169.7 379.3,169.3 379.8,169.3 380.3,169.8 380.8,168.8 381.3,169.8 381.8,169.1 382.3,169.3 382.8,169.5 383.3,170.2 383.8,169.9 384.3,170.5 384.8,170.1 385.3,169.4 385.8,169.8 386.3,169.4 386.8,170.7 387.3,169.3 387.8,169.9 388.3,169.2 388.8,169.8 389.3,170.3 389.8,170.1 390.3,170.1 390.8,170.2 391.3,169.4 391.8,169.3 392.3,169.4 392.8,169.7 393.3,169.3 393.8,168.8 394.3,169.7 394.8,169.3 395.3,170.0 395.8,169.5 396.3,169.1 396.8,170.1 397.3,170.2 397.8,169.7 398.3,169.5 398.8,169.1 399.3,170.4 399.8,169.2 400.3,170.0 400.8,170.6 401.3,169.7 401.8,168.9 402.3,170.1 402.8,170.0 403.3,170.6 403.8,169.3 404.3,170.1 404.8,169.0 405.3,169.9 405.8,170.5 406.3,170.3 406.8,169.8 407.3,169.6 407.8,169.9 408.3,169.6 408.8,169.7 409.3,169.9 409.8,169.3 410.3,169.6 410.8,170.1 411.3,169.3 411.8,170.2 412.3,170.2 412.8,169.2 413.3,169.4 413.8,169.0 414.3,167.9 414.8,169.0 415.3,168.7 415.8,167.6 416.3,167.6 416.8,166.8 417.3,167.0 417.8,165.8 418.3,165.7 418.8,164.9 419.3,163.4 419.8,164.0 420.3,163.0 420.8,163.0 421.3,163.2 421.8,162.2 422.3,161.4 422.8,161.2 423.3,160.6 423.8,160.8 424.3,160.6 424.8,158.4 425.3,159.0 425.8,159.0 426.3,159.5 426.8,158.8 427.3,159.3 427.8,159.1 428.3,157.9 428.8,158.1 429.3,158.1 429.8,157.3 430.3,157.4 430.8,156.9 431.3,157.5 431.8,157.0 432.3,157.5 432.8,157.5 433.3,157.2 433.8,157.2 434.3,156.7 434.8,157.6 435.3,157.1 435.8,156.6 436.3,156.2 436.8,156.4 437.3,156.1 437.8,156.9 438.3,156.1 438.8,155.5 439.3,155.6 439.8,155.2 440.3,155.8 440.8,156.3 441.3,156.3 441.8,156.2 442.3,156.4 442.8,157.0 443.3,156.7 443.8,156.4 444.3,155.7 444.8,156.3 445.3,156.6 445.8,157.4 446.3,156.3 446.8,156.7 447.3,156.2 447.8,156.0 448.3,157.2 448.8,156.3 449.3,157.0 449.8,156.6 450.3,155.9 450.8,157.2 451.3,156.7 451.8,155.8 452.3,157.6 452.8,158.3 453.3,157.0 453.8,157.3 454.3,157.3 454.8,157.0 455.3,157.7 455.8,156.8 456.3,157.3 456.8,158.6 457.3,158.2 457.8,158.0 458.3,158.3 458.8,158.0 459.3,157.7 459.8,157.9 460.3,157.4 460.8,156.9 461.3,157.8 461.8,157.2 462.3,157.8 462.8,158.0 463.3,157.5 463.8,157.5 464.3,156.9 464.8,156.9 465.3,157.0 465.8,156.8 466.3,157.2 466.8,156.5 467.3,157.4 467.8,156.6 468.3,156.8 468.8,157.0 469.3,156.5 469.8,156.8 470.3,156.1 470.8,156.9 471.3,157.1 471.8,156.9 472.3,156.4 472.8,157.2 473.3,156.1 473.8,156.7 474.3,156.8 474.8,157.2 475.3,156.3 475.8,156.6 476.3,156.5 476.8,156.0 477.3,156.1 477.8,157.1 478.3,156.9 478.8,156.7 479.3,157.2 479.8,156.9 480.3,156.5 480.8,156.4 481.3,157.1 481.8,156.3 482.3,157.3 482.8,157.3 483.3,158.0 483.8,158.1 484.3,157.2 484.8,157.5 485.3,158.3 485.8,157.6 486.3,156.8 486.8,157.1 487.3,157.7 487.8,157.2 488.3,157.4 488.8,157.8 489.3,157.7 489.8,158.2 490.3,158.7 490.8,157.9 491.3,158.3 491.8,157.7 492.3,158.5 492.8,157.7 493.3,158.6 493.8,159.0 494.3,158.5 494.8,158.4 495.3,158.7 495.8,158.6 496.3,158.1 496.8,158.6 497.3,159.6 497.8,159.1 498.3,158.9 498.8,158.5 499.3,158.8 499.8,158.0 500.3,159.5 500.8,159.1 501.3,158.4 501.8,158.7 502.3,158.1 502.8,157.9 503.3,158.2 503.8,158.7 504.3,158.6 504.8,158.4 505.3,158.1 505.8,158.8 506.3,159.5 506.8,158.2 507.3,158.3 507.8,158.1 508.3,158.2 508.8,157.5 509.3,158.6 509.8,157.7 510.3,157.5 510.8,158.2 511.3,158.7 511.8,158.1 512.3,157.2 512.8,158.2 513.3,158.4 513.8,157.7 514.3,158.5 514.8,158.0 515.3,158.4 515.8,158.4 516.3,157.7 516.8,157.8 517.3,157.9 517.8,158.0 518.3,157.4 518.8,157.5 519.3,158.0 519.8,158.2 520.3,156.8 520.8,157.6 521.3,158.2 521.8,158.5 522.3,157.0 522.8,157.1 523.3,157.3 523.8,157.6 524.3,157.5 524.8,157.3 525.3,157.1 525.8,157.1 526.3,157.3 526.8,157.8 527.3,158.3 527.8,157.8 528.3,157.7 528.8,157.3 529.3,157.6 529.8,156.6 530.3,157.7 530.8,157.9 531.3,157.5 531.8,157.6 532.3,157.8 532.8,157.7 533.3,157.9 533.8,158.1 534.3,158.0 534.8,157.9 535.3,157.9 535.8,157.5 536.3,157.8 536.8,158.3 537.3,158.3 537.8,157.8 538.3,158.3 538.8,157.2 539.3,158.2 539.8,157.9 540.3,158.0 540.8,158.3 541.3,158.5 541.8,157.6 542.3,157.8 542.8,158.0 543.3,158.7 543.8,158.9 544.3,159.0 544.8,158.4 545.3,158.9 545.8,159.0 546.3,158.4 546.8,158.5 547.3,159.4 547.8,158.8 548.3,159.3 548.8,158.7 549.3,159.1 549.8,159.0 550.3,159.7 550.8,159.7 551.3,160.6 551.8,160.2 552.3,160.5 552.8,160.1 553.3,161.1 553.8,161.0 554.3,161.9 554.8,161.6 555.3,161.2 555.8,161.8 556.3,160.7 556.8,162.7 557.3,162.5 557.8,163.0 558.3,162.5 558.8,163.8 559.3,164.3 559.8,163.8 560.3,162.4 560.8,163.9 561.3,164.0 561.8,163.9 562.3,163.7 562.8,164.3 563.3,164.3 563.8,163.4 564.3,164.1 564.8,164.2 565.3,164.4 565.8,165.0 566.3,165.6 566.8,165.6 567.3,166.0 567.8,165.7 568.3,164.8 568.8,166.4 569.3,166.4 569.8,166.9 570.3,165.9 570.8,166.5 571.3,167.1 571.8,167.3 572.3,167.4 572.8,167.5 573.3,167.3 573.8,167.9 574.3,168.8 574.8,169.1 575.3,168.9 575.8,168.8 576.3,169.1 576.8,169.0 577.3,169.6 577.8,169.5 578.3,169.4 578.8,168.9 579.3,169.0 579.8,169.9 580.3,169.2 580.8,169.2 581.3,170.6 581.8,169.0 582.3,168.6 582.8,169.5 583.3,169.3 583.8,169.9 584.3,169.2 584.8,169.6 584.8,175.9 584.3,176.0 583.8,176.1 583.3,175.5 582.8,176.1 582.3,176.0 581.8,176.1 581.3,176.1 580.8,176.1 580.3,175.5 579.8,175.4 579.3,174.8 578.8,175.7 578.3,176.1 577.8,175.8 577.3,175.6 576.8,175.3 576.3,175.9 575.8,175.9 575.3,175.7 574.8,175.9 574.3,175.6 573.8,176.1 573.3,175.1 572.8,176.1 572.3,175.6 571.8,175.7 571.3,176.1 570.8,175.6 570.3,175.5 569.8,176.0 569.3,176.1 568.8,175.9 568.3,175.7 567.8,176.1 567.3,174.7 566.8,175.5 566.3,176.1 565.8,175.9 565.3,175.6 564.8,175.6 564.3,175.5 563.8,176.1 563.3,176.0 562.8,175.6 562.3,176.1 561.8,175.8 561.3,175.6 560.8,175.8 560.3,175.9 559.8,176.1 559.3,176.1 558.8,176.1 558.3,175.4 557.8,175.4 557.3,176.1 556.8,175.7 556.3,175.1 555.8,176.1 555.3,175.4 554.8,175.4 554.3,176.1 553.8,176.0 553.3,175.4 552.8,174.7 552.3,175.9 551.8,175.4 551.3,175.4 550.8,174.1 550.3,174.4 549.8,173.9 549.3,174.2 548.8,173.6 548.3,174.6 547.8,174.1 547.3,174.0 546.8,173.3 546.3,173.0 545.8,173.6 545.3,173.8 544.8,172.8 544.3,172.3 543.8,172.7 543.3,173.6 542.8,173.6 542.3,172.9 541.8,172.5 541.3,172.8 540.8,173.4 540.3,172.7 539.8,172.8 539.3,173.4 538.8,171.5 538.3,173.4 537.8,172.7 537.3,173.9 536.8,173.6 536.3,171.4 535.8,172.9 535.3,174.2 534.8,172.7 534.3,173.2 533.8,173.3 533.3,171.9 532.8,172.4 532.3,173.1 531.8,172.1 531.3,171.8 530.8,172.6 530.3,172.1 529.8,172.1 529.3,172.3 528.8,171.7 528.3,172.5 527.8,173.1 527.3,173.8 526.8,173.6 526.3,172.4 525.8,172.0 525.3,172.4 524.8,172.1 524.3,172.4 523.8,172.1 523.3,172.3 522.8,171.1 522.3,171.5 521.8,173.0 521.3,173.0 520.8,172.3 520.3,171.7 519.8,173.9 519.3,173.3 518.8,172.6 518.3,173.3 517.8,173.4 517.3,173.0 516.8,173.2 516.3,173.3 515.8,172.5 515.3,172.7 514.8,173.5 514.3,173.8 513.8,173.4 513.3,173.9 512.8,172.8 512.3,172.5 511.8,172.7 511.3,173.9 510.8,172.5 510.3,172.8 509.8,173.2 509.3,173.0 508.8,172.6 508.3,173.8 507.8,173.5 507.3,173.6 506.8,172.6 506.3,174.5 505.8,173.9 505.3,172.8 504.8,173.0 504.3,173.7 503.8,173.6 503.3,173.1 502.8,172.9 502.3,172.5 501.8,173.9 501.3,172.6 500.8,173.8 500.3,174.7 499.8,172.9 499.3,174.4 498.8,173.5 498.3,174.0 497.8,173.5 497.3,174.7 496.8,174.2 496.3,173.4 495.8,173.3 495.3,173.7 494.8,173.8 494.3,173.4 493.8,174.1 493.3,174.3 492.8,173.0 492.3,172.4 491.8,172.3 491.3,173.2 490.8,172.0 490.3,173.7 489.8,173.0 489.3,172.2 488.8,172.2 488.3,172.4 487.8,172.3 487.3,172.4 486.8,172.1 486.3,171.9 485.8,172.9 485.3,173.1 484.8,172.0 484.3,172.2 483.8,172.4 483.3,172.8 482.8,172.8 482.3,171.8 481.8,171.1 481.3,171.4 480.8,172.1 480.3,171.6 479.8,172.0 479.3,173.1 478.8,172.8 478.3,171.8 477.8,171.6 477.3,170.7 476.8,171.1 476.3,171.4 475.8,172.1 475.3,170.7 474.8,172.7 474.3,172.2 473.8,171.7 473.3,171.0 472.8,172.5 472.3,171.8 471.8,171.9 471.3,171.4 470.8,172.5 470.3,171.5 469.8,171.4 469.3,170.6 468.8,172.1 468.3,171.9 467.8,172.2 467.3,171.8 466.8,171.4 466.3,172.1 465.8,171.2 465.3,172.4 464.8,172.6 464.3,171.7 463.8,171.2 463.3,172.4 462.8,172.4 462.3,172.3 461.8,172.4 461.3,172.9 460.8,171.8 460.3,173.5 459.8,173.0 459.3,173.8 458.8,171.9 458.3,173.6 457.8,172.0 457.3,173.3 456.8,174.0 456.3,172.4 455.8,171.3 455.3,172.4 454.8,172.9 454.3,172.4 453.8,171.6 453.3,171.7 452.8,173.0 452.3,172.6 451.8,170.7 451.3,171.4 450.8,172.6 450.3,171.1 449.8,171.3 449.3,172.9 448.8,171.1 448.3,172.6 447.8,171.6 447.3,171.4 446.8,171.0 446.3,170.9 445.8,172.9 445.3,172.4 444.8,171.7 444.3,170.5 443.8,171.4 443.3,171.3 442.8,171.4 442.3,171.8 441.8,171.4 441.3,171.4 440.8,171.5 440.3,169.9 439.8,169.4 439.3,170.9 438.8,170.5 438.3,171.1 437.8,173.7 437.3,171.6 436.8,171.0 436.3,171.6 435.8,172.0 435.3,172.6 434.8,172.9 434.3,172.3 433.8,172.3 433.3,171.8 432.8,172.9 432.3,172.1 431.8,172.2 431.3,171.8 430.8,172.2 430.3,172.2 429.8,172.5 429.3,174.0 428.8,173.5 428.3,173.2 427.8,173.6 427.3,173.9 426.8,173.9 426.3,174.6 425.8,173.9 425.3,174.6 424.8,172.5 424.3,175.9 423.8,175.9 423.3,175.8 422.8,176.1 422.3,175.7 421.8,175.4 421.3,176.1 420.8,176.1 420.3,175.7 419.8,176.1 419.3,176.1 418.8,175.9 418.3,176.1 417.8,175.6 417.3,175.8 416.8,176.0 416.3,175.8 415.8,176.1 415.3,175.9 414.8,176.1 414.3,175.8 413.8,176.1 413.3,175.2 412.8,175.8 412.3,174.9 411.8,176.1 411.3,175.6 410.8,175.6 410.3,176.1 409.8,175.0 409.3,175.6 408.8,176.0 408.3,176.1 407.8,175.3 407.3,176.1 406.8,176.0 406.3,175.7 405.8,175.6 405.3,176.1 404.8,175.5 404.3,175.6 403.8,176.1 403.3,176.1 402.8,174.5 402.3,176.0 401.8,175.8 401.3,175.4 400.8,175.6 400.3,176.1 399.8,176.1 399.3,175.8 398.8,175.9 398.3,175.6 397.8,175.7 397.3,175.8 396.8,175.9 396.3,175.3 395.8,175.2 395.3,176.1 394.8,175.3 394.3,175.9 393.8,175.8 393.3,175.1 392.8,175.3 392.3,176.1 391.8,176.1 391.3,176.0 390.8,176.1 390.3,176.1 389.8,175.6 389.3,176.1 388.8,175.9 388.3,176.1 387.8,175.8 387.3,175.0 386.8,176.1 386.3,176.1 385.8,176.1 385.3,176.1 384.8,175.5 384.3,176.1 383.8,175.8 383.3,176.1 382.8,176.1 382.3,175.5 381.8,176.1 381.3,176.1 380.8,176.1 380.3,174.5 379.8,176.0 379.3,176.1 378.8,176.0 378.3,175.9 377.8,175.1 377.3,176.0 376.8,176.1" fill="#4daf4a"/>
<path d="M383.3 170.7V169.0M383.8 170.4V168.4M393.8 169.3V166.4M398.3 170.0V167.6M402.3 170.6V168.4M404.8 169.5V168.1M411.3 169.8V168.2M412.3 170.7V169.6M417.8 166.3V164.1M419.8 164.5V162.8M425.8 159.5V158.5M427.8 159.6V157.3M439.3 156.1V153.2M468.8 157.5V154.8M475.3 156.8V154.8M486.8 157.6V155.8M489.3 158.2V156.6M507.8 158.6V156.9M522.8 157.6V154.9M530.8 158.4V156.6M548.3 159.8V158.7M551.8 160.7V159.1M562.8 164.8V162.1M566.3 166.1V164.8M570.8 167.0V164.0M582.3 169.1V167.3M583.3 169.8V167.6" stroke="#4daf4a" stroke-width="0.5" opacity="0.7"/>
<path d="M376.8 176.6V174.4M378.3 176.4V174.1M378.8 176.5V175.7M379.3 176.6V175.6M381.3 176.6V174.3M381.8 176.6V175.7M383.3 176.6V175.7M384.3 176.6V175.6M384.8 176.0V174.4M386.3 176.6V174.6M389.8 176.1V175.0M392.8 175.8V174.1M395.8 175.7V173.4M396.3 175.8V173.9M397.8 176.2V174.6M398.3 176.1V174.6M399.3 176.3V175.2M400.3 176.6V174.1M400.8 176.1V174.5M401.3 175.9V174.8M401.8 176.3V174.0M404.3 176.1V174.7M404.8 176.0V174.6M405.8 176.1V174.4M406.3 176.2V174.1M407.3 176.6V174.0M408.3 176.6V174.9M408.8 176.5V174.0M409.3 176.1V174.2M410.3 176.6V174.1M412.8 176.3V174.6M413.3 175.7V174.0M416.8 176.5V174.2M417.3 176.3V174.4M418.3 176.6V175.6M418.8 176.4V173.3M419.3 176.6V174.9M420.3 176.2V173.5M420.8 176.6V173.9M421.3 176.6V173.1M421.8 175.9V171.6M422.3 176.2V171.1M422.8 176.6V174.3M423.8 176.4V175.1M424.3 176.4V174.5M424.8 173.0V171.5M425.3 175.1V173.1M425.8 174.4V169.5M427.8 174.1V170.1M428.8 174.0V169.6M430.8 172.7V167.5M431.3 172.3V170.4M432.8 173.4V171.7M433.8 172.8V170.6M435.3 173.1V171.7M436.3 172.1V166.7M436.8 171.5V166.6M437.3 172.1V166.7M438.8 171.0V166.5M443.3 171.8V169.9M445.8 173.4V169.0M448.3 173.1V168.9M449.3 173.4V170.5M449.8 171.8V169.1M452.3 173.1V169.8M452.8 173.5V168.3M453.3 172.2V168.4M453.8 172.1V168.9M455.3 172.9V169.3M457.3 173.8V170.0M458.3 174.1V171.2M458.8 172.4V168.0M461.8 172.9V169.6M463.8 171.7V169.7M464.3 172.2V167.0M465.3 172.9V167.8M466.8 171.9V168.9M467.8 172.7V171.5M468.3 172.4V169.9M468.8 172.6V170.1M469.3 171.1V166.5M469.8 171.9V168.3M474.3 172.7V167.3M476.3 171.9V168.9M477.3 171.2V168.4M477.8 172.1V171.0M478.3 172.3V170.3M478.8 173.3V168.1M479.3 173.6V168.1M479.8 172.5V170.1M480.3 172.1V167.8M480.8 172.6V168.0M481.8 171.6V167.7M485.3 173.6V171.4M486.8 172.6V171.1M488.8 172.7V170.5M489.3 172.7V170.3M489.8 173.5V170.8M490.3 174.2V169.9M491.3 173.7V169.5M492.8 173.5V168.8M494.3 173.9V172.1M495.8 173.8V170.0M497.8 174.0V171.4M499.3 174.9V171.4M499.8 173.4V170.4M500.8 174.3V169.8M501.3 173.1V168.5M502.8 173.4V171.2M503.3 173.6V169.9M506.3 175.0V173.5M507.8 174.0V169.5M508.8 173.1V170.0M509.3 173.5V170.3M509.8 173.7V170.4M510.3 173.3V168.1M511.3 174.4V171.0M511.8 173.2V170.2M512.8 173.3V171.6M515.3 173.2V168.8M516.3 173.8V172.4M517.3 173.5V170.3M518.3 173.8V172.6M521.3 173.5V170.2M521.8 173.5V171.8M523.8 172.6V169.7M526.3 172.9V168.9M526.8 174.1V170.1M529.3 172.8V168.0M529.8 172.6V170.6M530.3 172.6V168.2M536.3 171.9V168.4M536.8 174.1V171.1M539.8 173.3V168.0M540.8 173.9V172.0M541.3 173.3V170.0M541.8 173.0V170.1M542.3 173.4V171.8M543.3 174.1V170.8M544.3 172.8V171.2M545.3 174.3V171.6M545.8 174.1V172.8M547.3 174.5V171.5M548.8 174.1V170.2M549.3 174.7V172.9M552.3 176.4V175.1M552.8 175.2V170.4M553.3 175.9V172.0M553.8 176.5V173.6M554.8 175.9V174.4M556.3 175.6V173.2M556.8 176.2V172.3M557.3 176.6V173.6M558.8 176.6V173.0M560.3 176.4V171.7M560.8 176.3V173.8M561.3 176.1V174.8M562.8 176.1V175.1M564.8 176.1V173.3M565.3 176.1V173.6M565.8 176.4V175.3M566.8 176.0V172.7M568.3 176.2V175.3M569.3 176.6V174.4M570.3 176.0V173.6M572.8 176.6V174.7M573.3 175.6V173.7M575.3 176.2V174.9M577.8 176.3V174.3M578.3 176.6V175.1M578.8 176.2V175.0M581.3 176.6V175.3M581.8 176.6V174.6M582.8 176.6V174.9M583.8 176.6V174.1" stroke="#fff" stroke-width="0.6" opacity="0.85"/>
<path d="M378.8 169.4V172.2M385.3 169.1V170.2M399.8 168.9V170.0M405.3 169.6V171.1M408.8 169.4V172.0M410.8 169.8V171.0M417.8 165.5V169.5M424.3 160.3V165.6M425.8 158.7V161.8M431.8 156.7V162.3M450.3 155.6V160.8M457.3 157.9V160.5M464.3 156.6V161.1M469.3 156.2V159.0M470.8 156.6V162.2M471.8 156.6V159.0M478.3 156.6V159.6M489.3 157.4V162.0M489.8 157.9V160.4M493.3 158.3V164.2M495.8 158.3V160.8M507.3 158.0V160.9M514.8 157.7V162.7M526.3 157.0V160.8M530.3 157.4V160.4M562.3 163.4V167.0M563.8 163.1V165.0M567.8 165.4V169.2" stroke="#fff" stroke-width="0.4" opacity="0.6"/>
<polygon points="376.8,197.5 377.3,198.5 377.8,198.5 378.3,197.9 378.8,197.9 379.3,197.7 379.8,198.0 380.3,198.2 380.8,197.7 381.3,198.4 381.8,197.8 382.3,198.1 382.8,196.9 383.3,198.6 383.8,197.6 384.3,198.1 384.8,197.3 385.3,198.7 385.8,197.6 386.3,196.9 386.8,197.3 387.3,197.8 387.8,197.2 388.3,198.1 388.8,197.7 389.3,196.7 389.8,197.2 390.3,197.4 390.8,197.7 391.3,197.7 391.8,197.4 392.3,197.2 392.8,197.5 393.3,198.1 393.8,197.5 394.3,197.3 394.8,197.5 395.3,198.4 395.8,197.8 396.3,196.7 396.8,198.2 397.3,198.0 397.8,197.6 398.3,197.2 398.8,197.8 399.3,196.3 399.8,198.1 400.3,197.4 400.8,197.6 401.3,198.2 401.8,197.8 402.3,197.6 402.8,197.2 403.3,198.0 403.8,197.4 404.3,197.8 404.8,197.5 405.3,198.1 405.8,197.5 406.3,198.5 406.8,197.1 407.3,197.7 407.8,197.3 408.3,197.7 408.8,198.0 409.3,197.5 409.8,198.3 410.3,198.0 410.8,198.1 411.3,197.5 411.8,197.6 412.3,197.8 412.8,197.7 413.3,197.0 413.8,197.1 414.3,197.9 414.8,197.3 415.3,197.7 415.8,197.2 416.3,197.3 416.8,196.5 417.3,195.9 417.8,196.4 418.3,195.9 418.8,195.0 419.3,194.4 419.8,194.6 420.3,193.0 420.8,193.0 421.3,192.6 421.8,192.1 422.3,191.8 422.8,191.6 423.3,190.5 423.8,190.3 424.3,190.4 424.8,190.0 425.3,189.4 425.8,188.7 426.3,188.8 426.8,188.4 427.3,188.5 427.8,187.8 428.3,187.7 428.8,188.0 429.3,188.1 429.8,186.9 430.3,186.8 430.8,187.1 431.3,185.3 431.8,186.4 432.3,186.0 432.8,186.0 433.3,185.3 433.8,185.7 434.3,185.1 434.8,184.8 435.3,185.7 435.8,185.5 436.3,184.8 436.8,185.2 437.3,184.0 437.8,185.0 438.3,185.4 438.8,184.9 439.3,184.4 439.8,184.0 440.3,184.1 440.8,183.8 441.3,184.0 441.8,184.7 442.3,184.6 442.8,184.1 443.3,184.5 443.8,185.4 444.3,184.8 444.8,184.8 445.3,184.9 445.8,184.5 446.3,184.4 446.8,184.2 447.3,185.7 447.8,184.7 448.3,184.2 448.8,184.8 449.3,185.4 449.8,184.3 450.3,184.2 450.8,184.3 451.3,185.1 451.8,185.1 452.3,185.7 452.8,184.8 453.3,184.9 453.8,184.9 454.3,185.1 454.8,185.5 455.3,185.0 455.8,184.4 456.3,184.9 456.8,184.6 457.3,185.2 457.8,185.5 458.3,185.1 458.8,185.7 459.3,185.6 459.8,184.9 460.3,184.8 460.8,186.2 461.3,185.4 461.8,186.2 462.3,185.3 462.8,185.0 463.3,185.5 463.8,185.0 464.3,185.2 464.8,185.2 465.3,186.1 465.8,185.0 466.3,186.0 466.8,184.8 467.3,184.8 467.8,185.2 468.3,185.5 468.8,184.4 469.3,184.5 469.8,184.4 470.3,185.0 470.8,184.0 471.3,184.1 471.8,185.3 472.3,184.9 472.8,184.3 473.3,184.0 473.8,184.0 474.3,183.8 474.8,183.6 475.3,183.9 475.8,184.5 476.3,184.5 476.8,185.0 477.3,184.2 477.8,183.8 478.3,184.5 478.8,184.9 479.3,183.4 479.8,184.3 480.3,184.8 480.8,184.3 481.3,183.6 481.8,185.2 482.3,183.7 482.8,184.6 483.3,185.4 483.8,184.7 484.3,186.2 484.8,185.7 485.3,185.4 485.8,184.9 486.3,186.2 486.8,185.9 487.3,186.8 487.8,185.5 488.3,187.0 488.8,186.8 489.3,186.3 489.8,187.1 490.3,186.7 490.8,186.2 491.3,187.0 491.8,187.8 492.3,185.9 492.8,186.9 493.3,186.9 493.8,186.8 494.3,187.5 494.8,186.9 495.3,187.3 495.8,186.9 496.3,187.2 496.8,187.2 497.3,186.7 497.8,186.6 498.3,186.9 498.8,187.2 499.3,186.7 499.8,186.5 500.3,187.1 500.8,187.1 501.3,186.1 501.8,186.4 502.3,186.5 502.8,186.7 503.3,185.9 503.8,185.5 504.3,186.5 504.8,186.1 505.3,186.1 505.8,186.1 506.3,186.3 506.8,186.1 507.3,185.5 507.8,186.1 508.3,185.7 508.8,186.4 509.3,185.7 509.8,185.7 510.3,185.3 510.8,185.4 511.3,185.9 511.8,185.9 512.3,186.1 512.8,185.6 513.3,186.0 513.8,185.3 514.3,186.1 514.8,185.8 515.3,185.8 515.8,184.8 516.3,186.6 516.8,185.0 517.3,185.4 517.8,185.7 518.3,184.7 518.8,185.8 519.3,185.7 519.8,185.7 520.3,184.7 520.8,186.0 521.3,186.2 521.8,185.9 522.3,186.2 522.8,185.6 523.3,185.8 523.8,184.2 524.3,185.6 524.8,186.1 525.3,185.2 525.8,186.6 526.3,185.2 526.8,185.2 527.3,185.9 527.8,185.3 528.3,185.7 528.8,185.6 529.3,185.7 529.8,186.5 530.3,185.0 530.8,186.7 531.3,185.7 531.8,185.8 532.3,185.1 532.8,186.4 533.3,185.9 533.8,185.9 534.3,185.9 534.8,186.9 535.3,186.1 535.8,186.2 536.3,185.8 536.8,185.7 537.3,186.0 537.8,186.5 538.3,186.0 538.8,187.0 539.3,186.1 539.8,186.5 540.3,185.9 540.8,185.9 541.3,186.5 541.8,186.6 542.3,186.0 542.8,187.1 543.3,185.8 543.8,185.9 544.3,186.2 544.8,186.0 545.3,186.7 545.8,185.8 546.3,185.2 546.8,185.8 547.3,186.7 547.8,186.5 548.3,185.1 548.8,186.0 549.3,185.8 549.8,186.2 550.3,186.2 550.8,185.2 551.3,185.9 551.8,186.4 552.3,186.3 552.8,185.7 553.3,186.0 553.8,187.3 554.3,187.7 554.8,187.7 555.3,188.0 555.8,188.1 556.3,188.9 556.8,188.2 557.3,189.0 557.8,189.0 558.3,189.0 558.8,190.8 559.3,189.7 559.8,190.1 560.3,190.1 560.8,190.4 561.3,191.2 561.8,191.1 562.3,191.8 562.8,191.2 563.3,192.2 563.8,192.7 564.3,192.8 564.8,192.6 565.3,193.3 565.8,193.4 566.3,193.9 566.8,193.5 567.3,194.8 567.8,194.3 568.3,195.3 568.8,194.4 569.3,195.1 569.8,195.8 570.3,195.4 570.8,197.2 571.3,196.5 571.8,196.4 572.3,196.2 572.8,196.9 573.3,197.3 573.8,196.8 574.3,197.9 574.8,198.0 575.3,198.5 575.8,197.6 576.3,197.8 576.8,197.6 577.3,198.1 577.8,197.8 578.3,198.3 578.8,198.4 579.3,197.3 579.8,198.4 580.3,197.9 580.8,198.4 581.3,197.8 581.8,198.2 582.3,198.5 582.8,198.3 583.3,199.0 583.8,198.4 584.3,198.2 584.8,198.4 584.8,203.0 584.3,203.8 583.8,203.1 583.3,204.0 582.8,202.7 582.3,203.5 581.8,203.9 581.3,204.0 580.8,203.6 580.3,204.0 579.8,204.0 579.3,204.0 578.8,203.6 578.3,204.0 577.8,204.0 577.3,203.6 576.8,203.4 576.3,203.9 575.8,203.6 575.3,204.0 574.8,204.0 574.3,204.0 573.8,203.3 573.3,203.9 572.8,204.0 572.3,204.0 571.8,204.0 571.3,203.2 570.8,203.7 570.3,203.0 569.8,203.3 569.3,204.0 568.8,204.0 568.3,203.5 567.8,203.7 567.3,203.7 566.8,203.7 566.3,203.8 565.8,204.0 565.3,203.8 564.8,203.6 564.3,203.5 563.8,204.0 563.3,204.0 562.8,203.9 562.3,203.5 561.8,204.0 561.3,203.7 560.8,203.9 560.3,204.0 559.8,203.8 559.3,204.0 558.8,203.3 558.3,203.3 557.8,203.8 557.3,204.0 556.8,203.3 556.3,203.3 555.8,203.8 555.3,203.7 554.8,203.6 554.3,204.0 553.8,203.6 553.3,202.7 552.8,202.9 552.3,202.5 551.8,204.0 551.3,203.0 550.8,202.5 550.3,203.0 549.8,202.4 549.3,202.5 548.8,203.4 548.3,201.9 547.8,203.5 547.3,203.1 546.8,203.5 546.3,202.7 545.8,203.2 545.3,203.4 544.8,202.9 544.3,202.9 543.8,203.4 543.3,203.0 542.8,203.9 542.3,203.3 541.8,203.6 541.3,203.5 540.8,202.5 540.3,202.9 539.8,203.4 539.3,202.9 538.8,203.2 538.3,203.5 537.8,203.1 537.3,202.0 536.8,202.6 536.3,201.0 535.8,204.0 535.3,202.9 534.8,203.2 534.3,203.4 533.8,203.1 533.3,202.5 532.8,203.8 532.3,202.6 531.8,202.2 531.3,202.7 530.8,203.5 530.3,203.0 529.8,202.6 529.3,202.6 528.8,202.4 528.3,203.0 527.8,202.2 527.3,202.7 526.8,201.9 526.3,202.4 525.8,204.0 525.3,202.1 524.8,203.5 524.3,202.9 523.8,201.1 523.3,202.8 522.8,202.4 522.3,203.8 521.8,203.6 521.3,202.8 520.8,203.0 520.3,201.8 519.8,202.8 519.3,202.3 518.8,202.6 518.3,202.0 517.8,203.5 517.3,203.5 516.8,202.8 516.3,204.0 515.8,201.5 515.3,203.2 514.8,202.2 514.3,204.0 513.8,203.0 513.3,203.4 512.8,201.1 512.3,203.4 511.8,203.3 511.3,203.3 510.8,203.1 510.3,201.9 509.8,202.7 509.3,203.3 508.8,203.0 508.3,202.8 507.8,203.7 507.3,202.5 506.8,204.0 506.3,203.4 505.8,202.8 505.3,203.0 504.8,203.1 504.3,203.9 503.8,201.8 503.3,202.6 502.8,203.6 502.3,203.9 501.8,203.7 501.3,203.3 500.8,203.6 500.3,203.0 499.8,203.1 499.3,204.0 498.8,203.5 498.3,203.6 497.8,203.5 497.3,203.8 496.8,204.0 496.3,203.7 495.8,204.0 495.3,204.0 494.8,204.0 494.3,203.7 493.8,204.0 493.3,204.0 492.8,203.6 492.3,203.1 491.8,204.0 491.3,204.0 490.8,203.0 490.3,204.0 489.8,203.5 489.3,203.4 488.8,203.6 488.3,203.9 487.8,203.3 487.3,203.6 486.8,203.8 486.3,204.0 485.8,201.6 485.3,202.5 484.8,202.3 484.3,203.5 483.8,201.1 483.3,202.6 482.8,202.2 482.3,200.2 481.8,201.7 481.3,200.7 480.8,201.3 480.3,201.0 479.8,201.0 479.3,200.8 478.8,201.2 478.3,201.9 477.8,201.2 477.3,202.1 476.8,202.1 476.3,200.5 475.8,201.0 475.3,200.8 474.8,201.1 474.3,200.8 473.8,200.9 473.3,200.6 472.8,200.7 472.3,201.4 471.8,202.9 471.3,201.8 470.8,200.6 470.3,201.6 469.8,200.9 469.3,201.3 468.8,201.6 468.3,202.5 467.8,202.1 467.3,202.4 466.8,201.4 466.3,202.6 465.8,201.9 465.3,203.4 464.8,202.9 464.3,203.1 463.8,201.2 463.3,202.0 462.8,201.7 462.3,201.7 461.8,203.5 461.3,202.1 460.8,203.4 460.3,201.8 459.8,201.4 459.3,202.0 458.8,202.9 458.3,202.0 457.8,202.5 457.3,203.1 456.8,200.5 456.3,202.3 455.8,200.9 455.3,202.1 454.8,203.4 454.3,202.0 453.8,201.5 453.3,201.0 452.8,201.8 452.3,203.3 451.8,201.4 451.3,201.5 450.8,200.9 450.3,200.8 449.8,200.6 449.3,202.3 448.8,202.4 448.3,201.2 447.8,202.1 447.3,203.6 446.8,201.1 446.3,201.8 445.8,201.0 445.3,201.0 444.8,201.0 444.3,202.4 443.8,202.4 443.3,202.0 442.8,201.7 442.3,201.0 441.8,201.9 441.3,201.4 440.8,200.9 440.3,200.6 439.8,201.5 439.3,201.1 438.8,201.7 438.3,203.2 437.8,201.4 437.3,200.8 436.8,201.8 436.3,201.8 435.8,202.8 435.3,202.6 434.8,201.9 434.3,202.3 433.8,203.2 433.3,202.1 432.8,202.8 432.3,202.7 431.8,204.0 431.3,202.7 430.8,203.7 430.3,204.0 429.8,202.7 429.3,203.7 428.8,203.4 428.3,203.4 427.8,204.0 427.3,203.5 426.8,203.3 426.3,202.9 425.8,203.5 425.3,204.0 424.8,203.5 424.3,204.0 423.8,203.5 423.3,204.0 422.8,203.5 422.3,203.6 421.8,204.0 421.3,203.2 420.8,203.9 420.3,204.0 419.8,203.4 419.3,203.7 418.8,204.0 418.3,203.1 417.8,204.0 417.3,204.0 416.8,203.7 416.3,203.3 415.8,203.9 415.3,203.5 414.8,203.2 414.3,204.0 413.8,203.8 413.3,203.9 412.8,204.0 412.3,203.8 411.8,203.2 411.3,204.0 410.8,204.0 410.3,204.0 409.8,204.0 409.3,204.0 408.8,204.0 408.3,203.2 407.8,203.4 407.3,203.0 406.8,204.0 406.3,203.2 405.8,203.2 405.3,203.9 404.8,203.0 404.3,204.0 403.8,204.0 403.3,204.0 402.8,204.0 402.3,204.0 401.8,203.1 401.3,204.0 400.8,203.4 400.3,203.0 399.8,203.6 399.3,204.0 398.8,203.7 398.3,203.8 397.8,203.3 397.3,203.5 396.8,204.0 396.3,204.0 395.8,204.0 395.3,203.6 394.8,202.7 394.3,203.6 393.8,203.8 393.3,202.7 392.8,203.9 392.3,203.5 391.8,203.2 391.3,203.4 390.8,202.7 390.3,204.0 389.8,203.9 389.3,203.7 388.8,203.8 388.3,203.8 387.8,204.0 387.3,203.4 386.8,204.0 386.3,203.4 385.8,202.9 385.3,203.2 384.8,203.6 384.3,204.0 383.8,203.4 383.3,203.5 382.8,204.0 382.3,203.0 381.8,202.9 381.3,203.1 380.8,203.9 380.3,203.2 379.8,204.0 379.3,203.8 378.8,204.0 378.3,204.0 377.8,203.9 377.3,204.0 376.8,203.6" fill="#f781bf"/>
<path d="M380.8 198.2V196.0M382.8 197.4V196.0M390.3 197.9V195.8M392.8 198.0V196.1M403.3 198.5V196.5M411.3 198.0V195.7M423.8 190.8V187.8M433.3 185.8V184.1M433.8 186.2V184.5M447.8 185.2V184.1M448.8 185.3V184.0M452.8 185.3V183.8M454.8 186.0V183.6M462.8 185.5V183.1M485.8 185.4V184.2M488.3 187.5V184.7M490.8 186.7V183.9M501.3 186.6V185.4M511.8 186.4V184.3M515.8 185.3V182.8M516.3 187.1V186.1M544.8 186.5V185.5M550.8 185.7V184.2M558.3 189.5V187.4M567.8 194.8V193.6M579.8 198.9V196.8M581.3 198.3V197.1" stroke="#f781bf" stroke-width="0.5" opacity="0.7"/>
<path d="M378.3 204.5V203.0M380.8 204.4V203.4M382.8 204.5V202.6M384.3 204.5V202.6M385.3 203.7V201.9M385.8 203.4V202.0M386.8 204.5V203.3M387.3 203.9V202.4M387.8 204.5V202.9M388.3 204.3V202.1M389.3 204.2V202.3M393.8 204.3V202.7M394.3 204.1V201.8M395.3 204.1V203.1M395.8 204.5V202.3M396.3 204.5V201.8M396.8 204.5V202.1M397.3 204.0V202.6M398.3 204.3V202.1M399.3 204.5V201.7M399.8 204.1V202.9M400.3 203.5V202.6M402.3 204.5V202.4M402.8 204.5V202.9M404.8 203.5V201.6M405.3 204.4V202.7M407.8 203.9V203.0M408.8 204.5V203.2M410.3 204.5V203.0M411.8 203.7V201.5M414.8 203.7V202.4M415.8 204.4V203.1M416.8 204.2V202.9M419.8 203.9V202.5M420.3 204.5V201.4M420.8 204.4V201.7M421.3 203.7V201.7M422.8 204.0V200.2M423.3 204.5V201.7M423.8 204.0V199.4M424.8 204.0V199.3M426.3 203.4V199.3M426.8 203.8V200.6M427.3 204.0V202.1M428.8 203.9V198.3M429.3 204.2V198.6M429.8 203.2V201.7M430.3 204.5V198.4M431.3 203.2V201.6M431.8 204.5V200.7M432.3 203.2V200.3M436.3 202.3V200.3M437.8 201.9V199.4M438.3 203.7V199.9M439.8 202.0V198.3M440.3 201.1V197.9M440.8 201.4V199.2M441.3 201.9V198.8M441.8 202.4V200.1M442.8 202.2V198.5M443.3 202.5V200.6M445.3 201.5V199.5M446.8 201.6V198.5M448.8 202.9V201.2M449.8 201.1V195.8M452.8 202.3V199.7M453.3 201.5V198.0M455.3 202.6V197.3M457.3 203.6V200.2M457.8 203.0V201.7M459.8 201.9V199.8M460.3 202.3V198.9M461.3 202.6V198.4M462.3 202.2V199.0M462.8 202.2V198.1M463.8 201.7V199.6M464.3 203.6V200.7M466.3 203.1V201.6M467.8 202.6V199.4M468.3 203.0V199.6M469.8 201.4V200.1M471.3 202.3V197.2M471.8 203.4V200.0M474.8 201.6V196.4M477.8 201.7V197.1M478.3 202.4V200.1M478.8 201.7V198.3M479.3 201.3V198.3M480.3 201.5V198.0M480.8 201.8V195.8M481.3 201.2V196.7M483.8 201.6V197.9M484.3 204.0V198.9M484.8 202.8V201.5M485.3 203.0V198.5M488.3 204.4V201.5M488.8 204.1V199.9M491.3 204.5V198.9M491.8 204.5V201.6M492.8 204.1V199.6M494.3 204.2V202.3M495.3 204.5V201.4M496.8 204.5V200.1M498.8 204.0V198.3M500.8 204.1V200.1M501.3 203.8V202.2M502.3 204.4V200.8M504.3 204.4V198.5M505.3 203.5V199.4M508.3 203.3V198.9M510.8 203.6V198.7M511.8 203.8V200.1M514.3 204.5V200.1M516.3 204.5V202.0M516.8 203.3V201.3M517.8 204.0V201.9M520.3 202.3V196.6M520.8 203.5V198.2M521.3 203.3V198.3M522.3 204.3V202.0M522.8 202.9V198.1M523.3 203.3V197.8M525.3 202.6V198.1M525.8 204.5V199.6M526.3 202.9V197.7M526.8 202.4V199.3M527.8 202.7V201.2M531.3 203.2V197.8M532.3 203.1V197.5M533.8 203.6V201.8M536.3 201.5V196.9M537.3 202.5V197.6M537.8 203.6V200.8M538.8 203.7V199.5M539.3 203.4V198.8M539.8 203.9V200.8M540.3 203.4V200.6M543.3 203.5V201.4M543.8 203.9V200.0M544.8 203.4V199.2M545.3 203.9V202.7M545.8 203.7V201.2M546.3 203.2V200.4M547.3 203.6V197.9M548.8 203.9V201.2M550.3 203.5V200.1M550.8 203.0V201.5M551.8 204.5V201.8M552.3 203.0V201.6M552.8 203.4V200.5M553.3 203.2V198.5M556.3 203.8V200.1M556.8 203.8V200.2M557.3 204.5V199.9M557.8 204.3V200.4M558.8 203.8V202.3M559.8 204.3V202.4M560.3 204.5V202.6M561.3 204.2V202.1M564.8 204.1V200.6M565.3 204.3V201.2M565.8 204.5V203.3M566.3 204.3V201.0M566.8 204.2V201.8M567.8 204.2V201.1M568.3 204.0V201.0M570.3 203.5V202.4M570.8 204.2V203.0M571.3 203.7V202.7M572.3 204.5V203.0M572.8 204.5V202.7M573.8 203.8V201.5M574.8 204.5V202.3M579.3 204.5V201.9M579.8 204.5V203.5M580.3 204.5V203.5M581.8 204.4V202.8M582.3 204.0V203.1M582.8 203.2V202.1M583.3 204.5V202.9M583.8 203.6V201.9M584.3 204.3V203.5M584.8 203.5V202.3" stroke="#fff" stroke-width="0.6" opacity="0.85"/>
<path d="M381.8 197.5V198.9M388.3 197.8V199.1M388.8 197.4V200.0M390.8 197.4V199.4M402.3 197.3V198.9M403.3 197.7V200.0M412.3 197.5V198.4M418.8 194.7V196.2M421.8 191.8V195.6M424.8 189.7V193.8M448.3 183.9V190.6M449.3 185.1V188.4M466.3 185.7V188.6M466.8 184.5V190.3M474.8 183.3V190.2M476.8 184.7V187.0M477.8 183.5V186.2M479.8 184.0V188.7M485.3 185.1V190.1M487.8 185.2V188.7M488.8 186.5V188.9M513.8 185.0V187.7M540.3 185.6V191.1M546.3 184.9V187.4M558.8 190.5V193.6M576.3 197.5V200.1M577.3 197.8V198.8M583.8 198.1V199.0" stroke="#fff" stroke-width="0.4" opacity="0.6"/>
<line x1="376.50" y1="64.92" x2="585.50" y2="64.92" stroke="#9a9a9a" stroke-width="1.0"/>
<line x1="376.50" y1="92.83" x2="585.50" y2="92.83" stroke="#9a9a9a" stroke-width="1.0"/>
<line x1="376.50" y1="120.75" x2="585.50" y2="120.75" stroke="#9a9a9a" stroke-width="1.0"/>
<line x1="376.50" y1="148.67" x2="585.50" y2="148.67" stroke="#9a9a9a" stroke-width="1.0"/>
<line x1="376.50" y1="176.58" x2="585.50" y2="176.58" stroke="#9a9a9a" stroke-width="1.0"/>
<line x1="376.50" y1="37.00" x2="585.50" y2="37.00" stroke="#b4b4b4" stroke-width="1.1"/>
<line x1="376.50" y1="204.50" x2="585.50" y2="204.50" stroke="#a0a0a0" stroke-width="1.0"/>
<line x1="376.50" y1="37.00" x2="376.50" y2="204.50" stroke="#a8a8a8" stroke-width="1.0"/>
<line x1="585.50" y1="36.50" x2="585.50" y2="205.00" stroke="#606060" stroke-width="0.9"/>
<line x1="387.30" y1="37.00" x2="387.30" y2="40.30" stroke="#333" stroke-width="0.9"/>
<line x1="422.20" y1="37.00" x2="422.20" y2="40.30" stroke="#333" stroke-width="0.9"/>
<line x1="457.10" y1="37.00" x2="457.10" y2="40.30" stroke="#333" stroke-width="0.9"/>
<line x1="492.00" y1="37.00" x2="492.00" y2="40.30" stroke="#333" stroke-width="0.9"/>
<line x1="526.90" y1="37.00" x2="526.90" y2="40.30" stroke="#333" stroke-width="0.9"/>
<line x1="561.80" y1="37.00" x2="561.80" y2="40.30" stroke="#333" stroke-width="0.9"/>
<line x1="399.60" y1="62.52" x2="399.60" y2="67.32" stroke="#444" stroke-width="0.8"/>
<line x1="422.84" y1="62.52" x2="422.84" y2="67.32" stroke="#444" stroke-width="0.8"/>
<line x1="446.08" y1="62.52" x2="446.08" y2="67.32" stroke="#444" stroke-width="0.8"/>
<line x1="469.32" y1="62.52" x2="469.32" y2="67.32" stroke="#444" stroke-width="0.8"/>
<line x1="492.56" y1="62.52" x2="492.56" y2="67.32" stroke="#444" stroke-width="0.8"/>
<line x1="515.80" y1="62.52" x2="515.80" y2="67.32" stroke="#444" stroke-width="0.8"/>
<line x1="539.04" y1="62.52" x2="539.04" y2="67.32" stroke="#444" stroke-width="0.8"/>
<line x1="562.28" y1="62.52" x2="562.28" y2="67.32" stroke="#444" stroke-width="0.8"/>
<line x1="376.50" y1="40.00" x2="381.10" y2="40.00" stroke="#5a5a5a" stroke-width="0.8"/>
<line x1="585.50" y1="40.00" x2="580.90" y2="40.00" stroke="#5a5a5a" stroke-width="0.8"/>
<line x1="376.50" y1="44.70" x2="381.10" y2="44.70" stroke="#5a5a5a" stroke-width="0.8"/>
<line x1="585.50" y1="44.70" x2="580.90" y2="44.70" stroke="#5a5a5a" stroke-width="0.8"/>
<line x1="376.50" y1="49.40" x2="381.10" y2="49.40" stroke="#5a5a5a" stroke-width="0.8"/>
<line x1="585.50" y1="49.40" x2="580.90" y2="49.40" stroke="#5a5a5a" stroke-width="0.8"/>
<line x1="376.50" y1="54.10" x2="381.10" y2="54.10" stroke="#5a5a5a" stroke-width="0.8"/>
<line x1="585.50" y1="54.10" x2="580.90" y2="54.10" stroke="#5a5a5a" stroke-width="0.8"/>
<line x1="376.50" y1="58.80" x2="381.10" y2="58.80" stroke="#5a5a5a" stroke-width="0.8"/>
<line x1="585.50" y1="58.80" x2="580.90" y2="58.80" stroke="#5a5a5a" stroke-width="0.8"/>
<line x1="399.60" y1="90.43" x2="399.60" y2="95.23" stroke="#444" stroke-width="0.8"/>
<line x1="422.84" y1="90.43" x2="422.84" y2="95.23" stroke="#444" stroke-width="0.8"/>
<line x1="446.08" y1="90.43" x2="446.08" y2="95.23" stroke="#444" stroke-width="0.8"/>
<line x1="469.32" y1="90.43" x2="469.32" y2="95.23" stroke="#444" stroke-width="0.8"/>
<line x1="492.56" y1="90.43" x2="492.56" y2="95.23" stroke="#444" stroke-width="0.8"/>
<line x1="515.80" y1="90.43" x2="515.80" y2="95.23" stroke="#444" stroke-width="0.8"/>
<line x1="539.04" y1="90.43" x2="539.04" y2="95.23" stroke="#444" stroke-width="0.8"/>
<line x1="562.28" y1="90.43" x2="562.28" y2="95.23" stroke="#444" stroke-width="0.8"/>
<line x1="376.50" y1="70.22" x2="381.10" y2="70.22" stroke="#5a5a5a" stroke-width="0.8"/>
<line x1="585.50" y1="70.22" x2="580.90" y2="70.22" stroke="#5a5a5a" stroke-width="0.8"/>
<line x1="376.50" y1="76.12" x2="381.10" y2="76.12" stroke="#5a5a5a" stroke-width="0.8"/>
<line x1="585.50" y1="76.12" x2="580.90" y2="76.12" stroke="#5a5a5a" stroke-width="0.8"/>
<line x1="376.50" y1="82.02" x2="381.10" y2="82.02" stroke="#5a5a5a" stroke-width="0.8"/>
<line x1="585.50" y1="82.02" x2="580.90" y2="82.02" stroke="#5a5a5a" stroke-width="0.8"/>
<line x1="376.50" y1="87.92" x2="381.10" y2="87.92" stroke="#5a5a5a" stroke-width="0.8"/>
<line x1="585.50" y1="87.92" x2="580.90" y2="87.92" stroke="#5a5a5a" stroke-width="0.8"/>
<line x1="399.60" y1="118.35" x2="399.60" y2="123.15" stroke="#444" stroke-width="0.8"/>
<line x1="422.84" y1="118.35" x2="422.84" y2="123.15" stroke="#444" stroke-width="0.8"/>
<line x1="446.08" y1="118.35" x2="446.08" y2="123.15" stroke="#444" stroke-width="0.8"/>
<line x1="469.32" y1="118.35" x2="469.32" y2="123.15" stroke="#444" stroke-width="0.8"/>
<line x1="492.56" y1="118.35" x2="492.56" y2="123.15" stroke="#444" stroke-width="0.8"/>
<line x1="515.80" y1="118.35" x2="515.80" y2="123.15" stroke="#444" stroke-width="0.8"/>
<line x1="539.04" y1="118.35" x2="539.04" y2="123.15" stroke="#444" stroke-width="0.8"/>
<line x1="562.28" y1="118.35" x2="562.28" y2="123.15" stroke="#444" stroke-width="0.8"/>
<line x1="376.50" y1="94.63" x2="381.10" y2="94.63" stroke="#5a5a5a" stroke-width="0.8"/>
<line x1="585.50" y1="94.63" x2="580.90" y2="94.63" stroke="#5a5a5a" stroke-width="0.8"/>
<line x1="376.50" y1="99.93" x2="381.10" y2="99.93" stroke="#5a5a5a" stroke-width="0.8"/>
<line x1="585.50" y1="99.93" x2="580.90" y2="99.93" stroke="#5a5a5a" stroke-width="0.8"/>
<line x1="376.50" y1="105.23" x2="381.10" y2="105.23" stroke="#5a5a5a" stroke-width="0.8"/>
<line x1="585.50" y1="105.23" x2="580.90" y2="105.23" stroke="#5a5a5a" stroke-width="0.8"/>
<line x1="376.50" y1="110.53" x2="381.10" y2="110.53" stroke="#5a5a5a" stroke-width="0.8"/>
<line x1="585.50" y1="110.53" x2="580.90" y2="110.53" stroke="#5a5a5a" stroke-width="0.8"/>
<line x1="376.50" y1="115.83" x2="381.10" y2="115.83" stroke="#5a5a5a" stroke-width="0.8"/>
<line x1="585.50" y1="115.83" x2="580.90" y2="115.83" stroke="#5a5a5a" stroke-width="0.8"/>
<line x1="399.60" y1="146.27" x2="399.60" y2="151.07" stroke="#444" stroke-width="0.8"/>
<line x1="422.84" y1="146.27" x2="422.84" y2="151.07" stroke="#444" stroke-width="0.8"/>
<line x1="446.08" y1="146.27" x2="446.08" y2="151.07" stroke="#444" stroke-width="0.8"/>
<line x1="469.32" y1="146.27" x2="469.32" y2="151.07" stroke="#444" stroke-width="0.8"/>
<line x1="492.56" y1="146.27" x2="492.56" y2="151.07" stroke="#444" stroke-width="0.8"/>
<line x1="515.80" y1="146.27" x2="515.80" y2="151.07" stroke="#444" stroke-width="0.8"/>
<line x1="539.04" y1="146.27" x2="539.04" y2="151.07" stroke="#444" stroke-width="0.8"/>
<line x1="562.28" y1="146.27" x2="562.28" y2="151.07" stroke="#444" stroke-width="0.8"/>
<line x1="376.50" y1="122.55" x2="381.10" y2="122.55" stroke="#5a5a5a" stroke-width="0.8"/>
<line x1="585.50" y1="122.55" x2="580.90" y2="122.55" stroke="#5a5a5a" stroke-width="0.8"/>
<line x1="376.50" y1="127.85" x2="381.10" y2="127.85" stroke="#5a5a5a" stroke-width="0.8"/>
<line x1="585.50" y1="127.85" x2="580.90" y2="127.85" stroke="#5a5a5a" stroke-width="0.8"/>
<line x1="376.50" y1="133.15" x2="381.10" y2="133.15" stroke="#5a5a5a" stroke-width="0.8"/>
<line x1="585.50" y1="133.15" x2="580.90" y2="133.15" stroke="#5a5a5a" stroke-width="0.8"/>
<line x1="376.50" y1="138.45" x2="381.10" y2="138.45" stroke="#5a5a5a" stroke-width="0.8"/>
<line x1="585.50" y1="138.45" x2="580.90" y2="138.45" stroke="#5a5a5a" stroke-width="0.8"/>
<line x1="376.50" y1="143.75" x2="381.10" y2="143.75" stroke="#5a5a5a" stroke-width="0.8"/>
<line x1="585.50" y1="143.75" x2="580.90" y2="143.75" stroke="#5a5a5a" stroke-width="0.8"/>
<line x1="399.60" y1="174.18" x2="399.60" y2="178.98" stroke="#444" stroke-width="0.8"/>
<line x1="422.84" y1="174.18" x2="422.84" y2="178.98" stroke="#444" stroke-width="0.8"/>
<line x1="446.08" y1="174.18" x2="446.08" y2="178.98" stroke="#444" stroke-width="0.8"/>
<line x1="469.32" y1="174.18" x2="469.32" y2="178.98" stroke="#444" stroke-width="0.8"/>
<line x1="492.56" y1="174.18" x2="492.56" y2="178.98" stroke="#444" stroke-width="0.8"/>
<line x1="515.80" y1="174.18" x2="515.80" y2="178.98" stroke="#444" stroke-width="0.8"/>
<line x1="539.04" y1="174.18" x2="539.04" y2="178.98" stroke="#444" stroke-width="0.8"/>
<line x1="562.28" y1="174.18" x2="562.28" y2="178.98" stroke="#444" stroke-width="0.8"/>
<line x1="376.50" y1="150.47" x2="381.10" y2="150.47" stroke="#5a5a5a" stroke-width="0.8"/>
<line x1="585.50" y1="150.47" x2="580.90" y2="150.47" stroke="#5a5a5a" stroke-width="0.8"/>
<line x1="376.50" y1="155.77" x2="381.10" y2="155.77" stroke="#5a5a5a" stroke-width="0.8"/>
<line x1="585.50" y1="155.77" x2="580.90" y2="155.77" stroke="#5a5a5a" stroke-width="0.8"/>
<line x1="376.50" y1="161.07" x2="381.10" y2="161.07" stroke="#5a5a5a" stroke-width="0.8"/>
<line x1="585.50" y1="161.07" x2="580.90" y2="161.07" stroke="#5a5a5a" stroke-width="0.8"/>
<line x1="376.50" y1="166.37" x2="381.10" y2="166.37" stroke="#5a5a5a" stroke-width="0.8"/>
<line x1="585.50" y1="166.37" x2="580.90" y2="166.37" stroke="#5a5a5a" stroke-width="0.8"/>
<line x1="376.50" y1="171.67" x2="381.10" y2="171.67" stroke="#5a5a5a" stroke-width="0.8"/>
<line x1="585.50" y1="171.67" x2="580.90" y2="171.67" stroke="#5a5a5a" stroke-width="0.8"/>
<line x1="399.60" y1="202.10" x2="399.60" y2="204.50" stroke="#444" stroke-width="0.8"/>
<line x1="422.84" y1="202.10" x2="422.84" y2="204.50" stroke="#444" stroke-width="0.8"/>
<line x1="446.08" y1="202.10" x2="446.08" y2="204.50" stroke="#444" stroke-width="0.8"/>
<line x1="469.32" y1="202.10" x2="469.32" y2="204.50" stroke="#444" stroke-width="0.8"/>
<line x1="492.56" y1="202.10" x2="492.56" y2="204.50" stroke="#444" stroke-width="0.8"/>
<line x1="515.80" y1="202.10" x2="515.80" y2="204.50" stroke="#444" stroke-width="0.8"/>
<line x1="539.04" y1="202.10" x2="539.04" y2="204.50" stroke="#444" stroke-width="0.8"/>
<line x1="562.28" y1="202.10" x2="562.28" y2="204.50" stroke="#444" stroke-width="0.8"/>
<line x1="376.50" y1="178.38" x2="381.10" y2="178.38" stroke="#5a5a5a" stroke-width="0.8"/>
<line x1="585.50" y1="178.38" x2="580.90" y2="178.38" stroke="#5a5a5a" stroke-width="0.8"/>
<line x1="376.50" y1="183.68" x2="381.10" y2="183.68" stroke="#5a5a5a" stroke-width="0.8"/>
<line x1="585.50" y1="183.68" x2="580.90" y2="183.68" stroke="#5a5a5a" stroke-width="0.8"/>
<line x1="376.50" y1="188.98" x2="381.10" y2="188.98" stroke="#5a5a5a" stroke-width="0.8"/>
<line x1="585.50" y1="188.98" x2="580.90" y2="188.98" stroke="#5a5a5a" stroke-width="0.8"/>
<line x1="376.50" y1="194.28" x2="381.10" y2="194.28" stroke="#5a5a5a" stroke-width="0.8"/>
<line x1="585.50" y1="194.28" x2="580.90" y2="194.28" stroke="#5a5a5a" stroke-width="0.8"/>
<line x1="376.50" y1="199.58" x2="381.10" y2="199.58" stroke="#5a5a5a" stroke-width="0.8"/>
<line x1="585.50" y1="199.58" x2="580.90" y2="199.58" stroke="#5a5a5a" stroke-width="0.8"/>
<text class="h" x="382.3" y="51.1" font-size="8.7" text-anchor="start" fill="#231f20">850 mA</text>
<text class="h" x="382.3" y="79.0" font-size="8.7" text-anchor="start" fill="#231f20">1000 mA</text>
<text class="h" x="382.3" y="106.9" font-size="8.7" text-anchor="start" fill="#231f20">1100 mA</text>
<text class="h" x="382.3" y="134.8" font-size="8.7" text-anchor="start" fill="#231f20">1200 mA</text>
<text class="h" x="382.3" y="162.8" font-size="8.7" text-anchor="start" fill="#231f20">1250 mA</text>
<text class="h" x="382.3" y="190.7" font-size="8.7" text-anchor="start" fill="#231f20">1260 mA</text>
<text class="h" x="387.3" y="33.0" font-size="10" text-anchor="middle" fill="#231f20">975</text>
<text class="h" x="422.2" y="33.0" font-size="10" text-anchor="middle" fill="#231f20">1000</text>
<text class="h" x="457.1" y="33.0" font-size="10" text-anchor="middle" fill="#231f20">1025</text>
<text class="h" x="492.0" y="33.0" font-size="10" text-anchor="middle" fill="#231f20">1050</text>
<text class="h" x="526.9" y="33.0" font-size="10" text-anchor="middle" fill="#231f20">1075</text>
<text class="h" x="561.8" y="33.0" font-size="10" text-anchor="middle" fill="#231f20">1100</text>
<text class="h" x="399.6" y="218.9" font-size="10.3" text-anchor="middle" fill="#231f20">29.5</text>
<text class="h" x="422.8" y="218.9" font-size="10.3" text-anchor="middle" fill="#231f20">30</text>
<text class="h" x="446.1" y="218.9" font-size="10.3" text-anchor="middle" fill="#231f20">30.5</text>
<text class="h" x="469.3" y="218.9" font-size="10.3" text-anchor="middle" fill="#231f20">31</text>
<text class="h" x="492.6" y="218.9" font-size="10.3" text-anchor="middle" fill="#231f20">31.5</text>
<text class="h" x="515.8" y="218.9" font-size="10.3" text-anchor="middle" fill="#231f20">32</text>
<text class="h" x="539.0" y="218.9" font-size="10.3" text-anchor="middle" fill="#231f20">32.5</text>
<text class="h" x="562.3" y="218.9" font-size="10.3" text-anchor="middle" fill="#231f20">33</text>
<text class="h" x="480.9" y="14.8" font-size="10.3" text-anchor="middle" fill="#231f20">Wavenumber (cm<tspan font-size="7" dy="-2.8">−1</tspan><tspan dy="2.8">)</tspan></text>
<text class="h" x="481.5" y="235.1" font-size="10.7" text-anchor="middle" fill="#231f20">Frequency (THz)</text>
<text class="h" x="-0.9" y="10.8" font-size="15.2" text-anchor="start" font-weight="bold" fill="#231f20">a</text>
<text class="h" x="351.4" y="10.8" font-size="15.5" text-anchor="start" font-weight="bold" fill="#231f20">b</text>
<text class="r" x="25.6" y="121.3" font-size="10.3" text-anchor="middle" transform="rotate(-90 25.6 121.3)" fill="#231f20">Intensity (10 dB/div)</text>
<text class="r" x="368.6" y="120.8" font-size="10.3" text-anchor="middle" transform="rotate(-90 368.6 120.8)" fill="#231f20">Intensity (10 dB/div)</text>
<line x1="292.40" y1="39.20" x2="292.40" y2="61.90" stroke="#377eb8" stroke-width="0.7" opacity="0.75"/>
<path d="M286.4 69.3 L286.2 75 L286.2 79 L285.6 82 L285 85 L284.3 87.6 M286.6 69.3 L286.8 75 L286.8 79 L287.4 82 L288 85 L288.6 87.6" stroke="#e41a1c" stroke-width="0.9" fill="none"/>
<path d="M284.6 87.5 L285.2 84.5 L285.9 82.5 M288.3 87.5 L287.8 84.5 L287.1 82.5" stroke="#e41a1c" stroke-width="1.4" fill="none"/>
<polyline points="276.6,111.6 277.0,111.9 277.3,111.4 277.7,110.0 278.0,109.6 278.4,109.2 278.7,109.5 279.1,108.9 279.4,109.0 279.8,107.0 280.1,108.2 280.5,106.6 280.8,106.4 281.2,104.4 281.5,102.8 281.9,103.9 282.2,105.6 282.6,106.2 282.9,107.1 283.3,108.4 283.6,108.2 284.0,108.2 284.3,109.7 284.7,109.5 285.0,109.1 285.4,110.1 285.7,110.6 286.1,110.6 286.4,110.8" fill="none" stroke="#ff7f00" stroke-width="1.8" opacity="1.0" stroke-linejoin="round"/>
<polyline points="264.4,139.6 264.7,140.1 265.0,139.9 265.3,139.9 265.6,140.3 265.9,138.9 266.2,139.2 266.5,138.8 266.8,139.4 267.1,139.9 267.4,139.4 267.7,139.7 268.0,138.4 268.3,139.4 268.6,138.8 268.9,140.0 269.2,139.5 269.5,139.5 269.8,138.9 270.1,139.1 270.4,139.1 270.7,138.5 271.0,138.4 271.3,138.4 271.6,138.0 271.9,137.8 272.2,137.8 272.5,137.4 272.8,138.0 273.1,136.6 273.4,137.5 273.7,136.4 274.0,136.1 274.3,135.6 274.6,136.6 274.9,136.8 275.2,137.4 275.5,136.4 275.8,135.6 276.1,135.3 276.4,132.5 276.7,129.5 277.0,132.4 277.3,133.9 277.6,135.9 277.9,137.5 278.2,138.7 278.5,138.5 278.8,139.4 279.1,139.9 279.4,139.5 279.7,140.0 280.0,140.3 280.3,139.7 280.6,140.6 280.9,140.9 281.2,140.7 281.5,140.8 281.8,140.9 282.1,141.5 282.4,140.5 282.7,140.4 283.0,140.8 283.3,140.0 283.6,139.7 283.9,140.1 284.2,140.7 284.5,140.8 284.8,139.8 285.1,139.6 285.4,140.4 285.7,140.5 286.0,140.6 286.3,141.0 286.6,141.3 286.9,140.9 287.2,141.1 287.5,140.3 287.8,140.3 288.1,141.0 288.4,141.3" fill="none" stroke="#984ea3" stroke-width="1.2" opacity="1.0" stroke-linejoin="round"/>
<path d="M272.9 159.2 L272.9 168.5 L271.8 170.5 L270.6 172 M272.9 168.5 L274 170.5 L275.2 172" stroke="#4daf4a" stroke-width="1.1" fill="none"/>
<polyline points="261.0,193.9 261.3,190.3 261.6,193.1 261.9,192.3 262.2,193.1 262.5,192.3 262.8,193.2 263.1,191.9 263.4,191.4 263.7,192.1 264.0,191.9 264.3,191.2 264.6,191.2 264.9,191.7 265.2,191.6 265.5,190.7 265.8,190.6 266.1,189.5 266.4,191.8 266.7,190.4 267.0,191.3 267.3,190.6 267.6,191.5 267.9,191.1 268.2,190.1 268.5,190.8 268.8,189.0 269.1,190.4 269.4,188.4 269.7,189.5 270.0,189.8 270.3,189.1 270.6,188.5 270.9,188.0 271.2,188.2 271.5,189.0 271.8,188.7 272.1,187.7 272.4,186.8 272.7,187.9 273.0,186.2 273.3,186.6 273.6,186.3 273.9,188.0 274.2,188.7 274.5,190.0 274.8,191.0 275.1,191.5 275.4,193.2 275.7,193.9 276.0,192.9 276.3,193.5 276.6,193.0 276.9,193.9 277.2,193.7 277.5,193.9 277.8,193.6 278.1,194.6 278.4,193.2 278.7,193.3 279.0,193.2 279.3,194.1 279.6,193.3 279.9,193.3 280.2,194.4 280.5,194.7 280.8,194.4 281.1,192.2 281.4,193.4 281.7,193.4 282.0,193.4 282.3,194.0 282.6,195.6 282.9,194.2 283.2,194.0 283.5,195.1 283.8,194.7 284.1,194.8 284.4,194.3 284.7,194.8 285.0,195.2 285.3,193.6" fill="none" stroke="#f781bf" stroke-width="1.5" opacity="1.0" stroke-linejoin="round"/>
<line x1="253.50" y1="64.62" x2="301.50" y2="64.62" stroke="#707070" stroke-width="0.8"/>
<line x1="253.50" y1="92.73" x2="301.50" y2="92.73" stroke="#707070" stroke-width="0.8"/>
<line x1="253.50" y1="120.85" x2="301.50" y2="120.85" stroke="#707070" stroke-width="0.8"/>
<line x1="253.50" y1="148.97" x2="301.50" y2="148.97" stroke="#707070" stroke-width="0.8"/>
<line x1="253.50" y1="177.08" x2="301.50" y2="177.08" stroke="#707070" stroke-width="0.8"/>
<rect x="253.50" y="36.50" width="48.00" height="168.70" fill="none" stroke="#707070" stroke-width="0.8"/>
<line x1="277.50" y1="36.50" x2="277.50" y2="38.30" stroke="#555" stroke-width="0.7"/>
<line x1="277.50" y1="64.62" x2="277.50" y2="62.82" stroke="#555" stroke-width="0.7"/>
<line x1="277.50" y1="64.62" x2="277.50" y2="66.42" stroke="#555" stroke-width="0.7"/>
<line x1="277.50" y1="92.73" x2="277.50" y2="90.93" stroke="#555" stroke-width="0.7"/>
<line x1="277.50" y1="92.73" x2="277.50" y2="94.53" stroke="#555" stroke-width="0.7"/>
<line x1="277.50" y1="120.85" x2="277.50" y2="119.05" stroke="#555" stroke-width="0.7"/>
<line x1="277.50" y1="120.85" x2="277.50" y2="122.65" stroke="#555" stroke-width="0.7"/>
<line x1="277.50" y1="148.97" x2="277.50" y2="147.17" stroke="#555" stroke-width="0.7"/>
<line x1="277.50" y1="148.97" x2="277.50" y2="150.77" stroke="#555" stroke-width="0.7"/>
<line x1="277.50" y1="177.08" x2="277.50" y2="175.28" stroke="#555" stroke-width="0.7"/>
<line x1="277.50" y1="177.08" x2="277.50" y2="178.88" stroke="#555" stroke-width="0.7"/>
<line x1="277.50" y1="205.20" x2="277.50" y2="203.40" stroke="#555" stroke-width="0.7"/>
<line x1="301.50" y1="38.00" x2="299.20" y2="38.00" stroke="#444" stroke-width="0.8"/>
<text class="h" x="305.9" y="41.2" font-size="9" text-anchor="start" fill="#231f20">−50</text>
<line x1="301.50" y1="48.50" x2="299.20" y2="48.50" stroke="#444" stroke-width="0.8"/>
<text class="h" x="305.9" y="51.7" font-size="9" text-anchor="start" fill="#231f20">−70</text>
<line x1="301.50" y1="59.20" x2="299.20" y2="59.20" stroke="#444" stroke-width="0.8"/>
<text class="h" x="305.9" y="62.4" font-size="9" text-anchor="start" fill="#231f20">−90</text>
<line x1="301.50" y1="66.50" x2="299.20" y2="66.50" stroke="#444" stroke-width="0.8"/>
<text class="h" x="305.9" y="69.7" font-size="9" text-anchor="start" fill="#231f20">−60</text>
<line x1="301.50" y1="75.80" x2="299.20" y2="75.80" stroke="#444" stroke-width="0.8"/>
<text class="h" x="305.9" y="79.0" font-size="9" text-anchor="start" fill="#231f20">−70</text>
<line x1="301.50" y1="85.70" x2="299.20" y2="85.70" stroke="#444" stroke-width="0.8"/>
<text class="h" x="305.9" y="88.9" font-size="9" text-anchor="start" fill="#231f20">−80</text>
<line x1="301.50" y1="96.10" x2="299.20" y2="96.10" stroke="#444" stroke-width="0.8"/>
<text class="h" x="305.9" y="99.3" font-size="9" text-anchor="start" fill="#231f20">−60</text>
<line x1="301.50" y1="103.80" x2="299.20" y2="103.80" stroke="#444" stroke-width="0.8"/>
<text class="h" x="305.9" y="107.0" font-size="9" text-anchor="start" fill="#231f20">−65</text>
<line x1="301.50" y1="111.40" x2="299.20" y2="111.40" stroke="#444" stroke-width="0.8"/>
<text class="h" x="305.9" y="114.6" font-size="9" text-anchor="start" fill="#231f20">−70</text>
<line x1="301.50" y1="121.80" x2="299.20" y2="121.80" stroke="#444" stroke-width="0.8"/>
<text class="h" x="305.9" y="125.0" font-size="9" text-anchor="start" fill="#231f20">−55</text>
<line x1="301.50" y1="133.70" x2="299.20" y2="133.70" stroke="#444" stroke-width="0.8"/>
<text class="h" x="305.9" y="136.9" font-size="9" text-anchor="start" fill="#231f20">−65</text>
<line x1="301.50" y1="145.40" x2="299.20" y2="145.40" stroke="#444" stroke-width="0.8"/>
<text class="h" x="305.9" y="148.6" font-size="9" text-anchor="start" fill="#231f20">−75</text>
<line x1="301.50" y1="152.90" x2="299.20" y2="152.90" stroke="#444" stroke-width="0.8"/>
<text class="h" x="305.9" y="156.1" font-size="9" text-anchor="start" fill="#231f20">−50</text>
<line x1="301.50" y1="162.00" x2="299.20" y2="162.00" stroke="#444" stroke-width="0.8"/>
<text class="h" x="305.9" y="165.2" font-size="9" text-anchor="start" fill="#231f20">−60</text>
<line x1="301.50" y1="171.00" x2="299.20" y2="171.00" stroke="#444" stroke-width="0.8"/>
<text class="h" x="305.9" y="174.2" font-size="9" text-anchor="start" fill="#231f20">−70</text>
<line x1="301.50" y1="182.90" x2="299.20" y2="182.90" stroke="#444" stroke-width="0.8"/>
<text class="h" x="305.9" y="186.1" font-size="9" text-anchor="start" fill="#231f20">−65</text>
<line x1="301.50" y1="191.50" x2="299.20" y2="191.50" stroke="#444" stroke-width="0.8"/>
<text class="h" x="305.9" y="194.7" font-size="9" text-anchor="start" fill="#231f20">−70</text>
<line x1="301.50" y1="200.20" x2="299.20" y2="200.20" stroke="#444" stroke-width="0.8"/>
<text class="h" x="305.9" y="203.4" font-size="9" text-anchor="start" fill="#231f20">−75</text>
<polyline points="600.5,51.2 600.9,52.0 601.3,49.3 601.7,52.0 602.1,50.5 602.5,49.9 602.9,49.8 603.3,49.5 603.7,50.1 604.1,50.8 604.5,50.6 604.9,50.5 605.3,48.6 605.7,48.6 606.1,51.0 606.5,50.4 606.9,51.3 607.3,50.4 607.7,48.5 608.1,50.2 608.5,49.6 608.9,49.2 609.3,48.2 609.7,48.8 610.1,48.5 610.5,49.3 610.9,48.5 611.3,49.7 611.7,47.9 612.1,49.0 612.5,49.2 612.9,48.2 613.3,48.0 613.7,49.9 614.1,49.6 614.5,49.1 614.9,49.7 615.3,48.9 615.7,49.7 616.1,49.1 616.5,49.9 616.9,50.6 617.3,49.6 617.7,50.6 618.1,49.2 618.5,49.9 618.9,49.1 619.3,50.2 619.7,50.4 620.1,50.3 620.5,50.3 620.9,51.7 621.3,51.8 621.7,49.8 622.1,51.8 622.5,49.5 622.9,50.4 623.3,50.9 623.7,51.2 624.1,50.4 624.5,50.7 624.9,51.4 625.3,50.9 625.7,51.0 626.1,52.1 626.5,52.4 626.9,51.7 627.3,51.8 627.7,51.9 628.1,51.6 628.5,51.6 628.9,51.3 629.3,52.7 629.7,52.2 630.1,52.2 630.5,52.6 630.9,52.9 631.3,53.7 631.7,52.3 632.1,52.1 632.5,52.5 632.9,51.6 633.3,53.2 633.7,52.8 634.1,52.5 634.5,51.8 634.9,52.4 635.3,52.5 635.7,52.0 636.1,51.3 636.5,50.1 636.9,52.1 637.3,51.0 637.7,50.6 638.1,51.9 638.5,51.4 638.9,49.9 639.3,50.9 639.7,50.7 640.1,51.6 640.5,49.3 640.9,50.4 641.3,50.6 641.7,51.7 642.1,49.8 642.5,48.3 642.9,49.5 643.3,50.9 643.7,51.3 644.1,52.1 644.5,51.0 644.9,50.1 645.3,51.5 645.7,50.8 646.1,50.6 646.5,50.8 646.9,51.9 647.3,50.1 647.7,50.1 648.1,50.8" fill="none" stroke="#377eb8" stroke-width="1.2" opacity="1.0" stroke-linejoin="round"/>
<polyline points="600.5,77.9 600.9,77.9 601.3,77.7 601.7,78.2 602.1,79.7 602.5,77.2 602.9,79.1 603.3,79.3 603.7,77.9 604.1,77.5 604.5,78.3 604.9,78.8 605.3,79.4 605.7,78.2 606.1,78.6 606.5,76.8 606.9,76.3 607.3,75.4 607.7,75.7 608.1,76.2 608.5,76.4 608.9,75.1 609.3,76.6 609.7,75.7 610.1,75.4 610.5,75.4 610.9,77.8 611.3,76.4 611.7,75.7 612.1,75.7 612.5,78.1 612.9,76.2 613.3,77.8 613.7,78.1 614.1,75.2 614.5,78.2 614.9,77.1 615.3,76.6 615.7,77.1 616.1,78.1 616.5,78.1 616.9,78.3 617.3,77.5 617.7,79.3 618.1,79.6 618.5,80.0 618.9,79.4 619.3,80.3 619.7,80.6 620.1,79.6 620.5,79.8 620.9,79.7 621.3,79.8 621.7,80.1 622.1,78.1 622.5,79.4 622.9,80.1 623.3,78.1 623.7,78.8 624.1,81.3 624.5,79.3 624.9,79.8 625.3,80.6 625.7,80.0 626.1,79.8 626.5,80.2 626.9,80.3 627.3,80.3 627.7,81.0 628.1,82.3 628.5,81.4 628.9,82.3 629.3,81.5 629.7,81.5 630.1,81.3 630.5,80.5 630.9,81.0 631.3,80.8 631.7,79.6 632.1,81.0 632.5,80.8 632.9,80.5 633.3,79.7 633.7,78.0 634.1,81.2 634.5,79.9 634.9,78.2 635.3,80.4 635.7,79.3 636.1,80.4 636.5,79.7 636.9,80.7 637.3,79.9 637.7,79.9 638.1,79.8 638.5,80.6 638.9,78.6 639.3,80.5 639.7,80.1 640.1,79.1 640.5,79.5 640.9,79.1 641.3,79.5 641.7,80.1 642.1,78.8 642.5,79.9 642.9,80.1 643.3,79.8 643.7,80.5 644.1,79.2 644.5,79.8 644.9,81.2 645.3,79.2 645.7,79.0 646.1,79.1 646.5,79.6 646.9,78.6 647.3,78.9 647.7,77.6 648.1,78.2" fill="none" stroke="#e41a1c" stroke-width="1.2" opacity="1.0" stroke-linejoin="round"/>
<polyline points="600.5,107.4 600.9,107.1 601.3,106.7 601.7,104.8 602.1,106.9 602.5,104.7 602.9,107.0 603.3,106.7 603.7,106.7 604.1,106.6 604.5,106.1 604.9,105.3 605.3,105.4 605.7,106.7 606.1,104.9 606.5,105.1 606.9,104.7 607.3,104.8 607.7,104.9 608.1,105.2 608.5,104.7 608.9,104.6 609.3,104.3 609.7,104.8 610.1,103.6 610.5,104.7 610.9,105.6 611.3,103.9 611.7,104.4 612.1,106.7 612.5,103.8 612.9,103.3 613.3,104.4 613.7,106.2 614.1,106.5 614.5,104.0 614.9,105.5 615.3,105.1 615.7,104.8 616.1,103.8 616.5,106.2 616.9,104.8 617.3,105.8 617.7,105.7 618.1,107.2 618.5,106.7 618.9,104.9 619.3,105.7 619.7,106.8 620.1,105.0 620.5,105.8 620.9,106.4 621.3,105.0 621.7,105.4 622.1,105.1 622.5,106.8 622.9,106.1 623.3,107.4 623.7,106.8 624.1,107.3 624.5,106.8 624.9,107.4 625.3,106.8 625.7,106.1 626.1,107.9 626.5,107.7 626.9,108.8 627.3,106.9 627.7,106.5 628.1,105.8 628.5,103.9 628.9,106.0 629.3,107.5 629.7,106.4 630.1,105.0 630.5,107.6 630.9,106.7 631.3,106.9 631.7,106.8 632.1,107.1 632.5,107.5 632.9,105.7 633.3,106.9 633.7,106.6 634.1,107.9 634.5,106.2 634.9,108.3 635.3,107.4 635.7,108.2 636.1,106.3 636.5,107.5 636.9,107.1 637.3,105.5 637.7,106.5 638.1,106.3 638.5,105.9 638.9,106.0 639.3,105.4 639.7,106.2 640.1,106.8 640.5,105.9 640.9,105.3 641.3,107.4 641.7,106.2 642.1,106.5 642.5,106.3 642.9,106.1 643.3,107.0 643.7,106.1 644.1,106.6 644.5,105.4 644.9,105.2 645.3,106.3 645.7,108.1 646.1,106.7 646.5,108.1 646.9,106.9 647.3,107.0 647.7,106.1 648.1,106.6" fill="none" stroke="#ff7f00" stroke-width="1.2" opacity="1.0" stroke-linejoin="round"/>
<polyline points="600.5,137.4 600.9,136.5 601.3,135.2 601.7,135.9 602.1,135.7 602.5,135.7 602.9,136.3 603.3,134.7 603.7,136.4 604.1,134.7 604.5,135.3 604.9,136.1 605.3,135.9 605.7,134.7 606.1,136.6 606.5,135.4 606.9,134.3 607.3,135.1 607.7,134.3 608.1,135.3 608.5,133.8 608.9,135.2 609.3,133.4 609.7,135.6 610.1,134.9 610.5,135.7 610.9,134.0 611.3,133.0 611.7,133.6 612.1,134.6 612.5,136.4 612.9,135.3 613.3,136.0 613.7,134.3 614.1,134.6 614.5,134.8 614.9,136.1 615.3,134.7 615.7,135.0 616.1,136.6 616.5,134.6 616.9,135.4 617.3,134.4 617.7,135.3 618.1,136.2 618.5,136.5 618.9,134.5 619.3,133.6 619.7,136.1 620.1,137.1 620.5,135.2 620.9,136.1 621.3,135.9 621.7,134.2 622.1,133.8 622.5,136.0 622.9,136.5 623.3,134.9 623.7,135.9 624.1,135.6 624.5,135.5 624.9,135.2 625.3,137.2 625.7,136.3 626.1,136.1 626.5,135.9 626.9,136.6 627.3,136.0 627.7,136.5 628.1,135.8 628.5,136.7 628.9,136.2 629.3,136.9 629.7,135.2 630.1,135.8 630.5,135.5 630.9,137.8 631.3,136.0 631.7,136.5 632.1,135.2 632.5,135.8 632.9,135.1 633.3,136.4 633.7,135.7 634.1,137.6 634.5,135.7 634.9,137.2 635.3,136.2 635.7,136.7 636.1,135.6 636.5,136.3 636.9,136.1 637.3,135.6 637.7,136.7 638.1,135.0 638.5,136.1 638.9,136.0 639.3,136.2 639.7,135.2 640.1,136.6 640.5,135.4 640.9,135.6 641.3,135.3 641.7,135.8 642.1,136.4 642.5,138.4 642.9,133.9 643.3,136.8 643.7,136.7 644.1,137.2 644.5,136.2 644.9,136.4 645.3,137.4 645.7,136.1 646.1,136.1 646.5,136.0 646.9,136.3 647.3,137.4 647.7,135.3 648.1,136.9" fill="none" stroke="#984ea3" stroke-width="1.2" opacity="1.0" stroke-linejoin="round"/>
<polyline points="600.5,164.1 600.9,163.7 601.3,163.2 601.7,161.7 602.1,163.5 602.5,164.1 602.9,164.1 603.3,162.8 603.7,164.9 604.1,164.6 604.5,162.7 604.9,162.7 605.3,163.5 605.7,162.5 606.1,162.8 606.5,163.5 606.9,163.4 607.3,162.0 607.7,162.0 608.1,161.9 608.5,162.3 608.9,162.3 609.3,161.9 609.7,162.8 610.1,162.1 610.5,162.1 610.9,160.4 611.3,160.9 611.7,161.6 612.1,162.5 612.5,161.6 612.9,163.6 613.3,162.5 613.7,162.7 614.1,162.6 614.5,163.0 614.9,163.4 615.3,162.3 615.7,164.0 616.1,162.2 616.5,163.3 616.9,162.8 617.3,162.9 617.7,163.6 618.1,163.3 618.5,164.5 618.9,162.8 619.3,163.7 619.7,163.8 620.1,165.0 620.5,164.7 620.9,164.0 621.3,164.8 621.7,164.2 622.1,163.0 622.5,163.9 622.9,164.7 623.3,163.3 623.7,165.0 624.1,164.1 624.5,163.3 624.9,164.2 625.3,162.5 625.7,163.2 626.1,163.0 626.5,164.2 626.9,163.0 627.3,162.5 627.7,164.0 628.1,163.4 628.5,163.2 628.9,163.3 629.3,164.6 629.7,163.9 630.1,163.2 630.5,166.0 630.9,164.2 631.3,165.3 631.7,164.6 632.1,164.9 632.5,163.1 632.9,163.3 633.3,164.3 633.7,163.7 634.1,163.8 634.5,164.6 634.9,161.9 635.3,163.5 635.7,164.9 636.1,163.3 636.5,163.7 636.9,164.0 637.3,163.9 637.7,163.9 638.1,162.9 638.5,163.9 638.9,163.1 639.3,164.9 639.7,163.1 640.1,163.8 640.5,163.4 640.9,164.5 641.3,163.7 641.7,164.1 642.1,163.1 642.5,163.2 642.9,162.8 643.3,163.4 643.7,163.3 644.1,162.6 644.5,162.5 644.9,163.6 645.3,163.3 645.7,162.9 646.1,162.7 646.5,162.6 646.9,163.5 647.3,163.0 647.7,162.9 648.1,163.0" fill="none" stroke="#4daf4a" stroke-width="1.2" opacity="1.0" stroke-linejoin="round"/>
<polyline points="600.5,190.0 600.9,189.0 601.3,192.3 601.7,192.5 602.1,192.2 602.5,190.8 602.9,191.0 603.3,190.7 603.7,192.0 604.1,191.5 604.5,190.7 604.9,191.2 605.3,191.6 605.7,190.8 606.1,189.5 606.5,190.3 606.9,190.0 607.3,189.0 607.7,188.6 608.1,190.4 608.5,189.4 608.9,190.5 609.3,189.5 609.7,190.7 610.1,190.8 610.5,190.3 610.9,189.0 611.3,188.4 611.7,191.8 612.1,190.1 612.5,191.8 612.9,190.1 613.3,189.4 613.7,190.4 614.1,189.4 614.5,190.5 614.9,191.8 615.3,191.3 615.7,193.1 616.1,191.0 616.5,191.0 616.9,190.1 617.3,190.1 617.7,191.1 618.1,190.2 618.5,190.7 618.9,190.8 619.3,190.1 619.7,193.0 620.1,189.6 620.5,191.3 620.9,192.0 621.3,192.2 621.7,191.0 622.1,190.6 622.5,193.4 622.9,193.3 623.3,191.7 623.7,191.6 624.1,191.7 624.5,190.7 624.9,191.6 625.3,192.6 625.7,192.3 626.1,191.0 626.5,192.4 626.9,191.1 627.3,190.5 627.7,192.1 628.1,192.4 628.5,193.0 628.9,191.2 629.3,192.8 629.7,192.4 630.1,192.1 630.5,191.6 630.9,191.8 631.3,192.4 631.7,192.3 632.1,191.0 632.5,191.5 632.9,191.9 633.3,192.7 633.7,192.3 634.1,191.8 634.5,191.6 634.9,193.1 635.3,191.4 635.7,191.1 636.1,191.4 636.5,192.0 636.9,191.7 637.3,191.2 637.7,191.3 638.1,192.1 638.5,192.0 638.9,191.8 639.3,190.8 639.7,191.5 640.1,192.5 640.5,190.9 640.9,192.9 641.3,191.7 641.7,192.2 642.1,190.6 642.5,192.6 642.9,191.5 643.3,191.7 643.7,192.0 644.1,192.7 644.5,191.3 644.9,191.9 645.3,191.5 645.7,190.1 646.1,190.4 646.5,190.2 646.9,191.2 647.3,191.5 647.7,191.7 648.1,192.1" fill="none" stroke="#f781bf" stroke-width="1.2" opacity="1.0" stroke-linejoin="round"/>
<line x1="600.50" y1="64.62" x2="648.50" y2="64.62" stroke="#707070" stroke-width="0.8"/>
<line x1="600.50" y1="92.73" x2="648.50" y2="92.73" stroke="#707070" stroke-width="0.8"/>
<line x1="600.50" y1="120.85" x2="648.50" y2="120.85" stroke="#707070" stroke-width="0.8"/>
<line x1="600.50" y1="148.97" x2="648.50" y2="148.97" stroke="#707070" stroke-width="0.8"/>
<line x1="600.50" y1="177.08" x2="648.50" y2="177.08" stroke="#707070" stroke-width="0.8"/>
<rect x="600.50" y="36.50" width="48.00" height="168.70" fill="none" stroke="#707070" stroke-width="0.8"/>
<line x1="624.50" y1="36.50" x2="624.50" y2="38.30" stroke="#555" stroke-width="0.7"/>
<line x1="624.50" y1="64.62" x2="624.50" y2="62.82" stroke="#555" stroke-width="0.7"/>
<line x1="624.50" y1="64.62" x2="624.50" y2="66.42" stroke="#555" stroke-width="0.7"/>
<line x1="624.50" y1="92.73" x2="624.50" y2="90.93" stroke="#555" stroke-width="0.7"/>
<line x1="624.50" y1="92.73" x2="624.50" y2="94.53" stroke="#555" stroke-width="0.7"/>
<line x1="624.50" y1="120.85" x2="624.50" y2="119.05" stroke="#555" stroke-width="0.7"/>
<line x1="624.50" y1="120.85" x2="624.50" y2="122.65" stroke="#555" stroke-width="0.7"/>
<line x1="624.50" y1="148.97" x2="624.50" y2="147.17" stroke="#555" stroke-width="0.7"/>
<line x1="624.50" y1="148.97" x2="624.50" y2="150.77" stroke="#555" stroke-width="0.7"/>
<line x1="624.50" y1="177.08" x2="624.50" y2="175.28" stroke="#555" stroke-width="0.7"/>
<line x1="624.50" y1="177.08" x2="624.50" y2="178.88" stroke="#555" stroke-width="0.7"/>
<line x1="624.50" y1="205.20" x2="624.50" y2="203.40" stroke="#555" stroke-width="0.7"/>
<line x1="648.50" y1="38.30" x2="646.20" y2="38.30" stroke="#444" stroke-width="0.8"/>
<text class="h" x="652.9" y="41.5" font-size="9" text-anchor="start" fill="#231f20">−65</text>
<line x1="648.50" y1="47.50" x2="646.20" y2="47.50" stroke="#444" stroke-width="0.8"/>
<text class="h" x="652.9" y="50.7" font-size="9" text-anchor="start" fill="#231f20">−70</text>
<line x1="648.50" y1="57.00" x2="646.20" y2="57.00" stroke="#444" stroke-width="0.8"/>
<text class="h" x="652.9" y="60.2" font-size="9" text-anchor="start" fill="#231f20">−75</text>
<line x1="648.50" y1="66.00" x2="646.20" y2="66.00" stroke="#444" stroke-width="0.8"/>
<text class="h" x="652.9" y="69.2" font-size="9" text-anchor="start" fill="#231f20">−65</text>
<line x1="648.50" y1="75.90" x2="646.20" y2="75.90" stroke="#444" stroke-width="0.8"/>
<text class="h" x="652.9" y="79.1" font-size="9" text-anchor="start" fill="#231f20">−70</text>
<line x1="648.50" y1="85.00" x2="646.20" y2="85.00" stroke="#444" stroke-width="0.8"/>
<text class="h" x="652.9" y="88.2" font-size="9" text-anchor="start" fill="#231f20">−75</text>
<line x1="648.50" y1="94.40" x2="646.20" y2="94.40" stroke="#444" stroke-width="0.8"/>
<text class="h" x="652.9" y="97.6" font-size="9" text-anchor="start" fill="#231f20">−65</text>
<line x1="648.50" y1="104.20" x2="646.20" y2="104.20" stroke="#444" stroke-width="0.8"/>
<text class="h" x="652.9" y="107.4" font-size="9" text-anchor="start" fill="#231f20">−70</text>
<line x1="648.50" y1="113.40" x2="646.20" y2="113.40" stroke="#444" stroke-width="0.8"/>
<text class="h" x="652.9" y="116.6" font-size="9" text-anchor="start" fill="#231f20">−75</text>
<line x1="648.50" y1="123.80" x2="646.20" y2="123.80" stroke="#444" stroke-width="0.8"/>
<text class="h" x="652.9" y="127.0" font-size="9" text-anchor="start" fill="#231f20">−65</text>
<line x1="648.50" y1="133.00" x2="646.20" y2="133.00" stroke="#444" stroke-width="0.8"/>
<text class="h" x="652.9" y="136.2" font-size="9" text-anchor="start" fill="#231f20">−70</text>
<line x1="648.50" y1="142.20" x2="646.20" y2="142.20" stroke="#444" stroke-width="0.8"/>
<text class="h" x="652.9" y="145.4" font-size="9" text-anchor="start" fill="#231f20">−75</text>
<line x1="648.50" y1="151.20" x2="646.20" y2="151.20" stroke="#444" stroke-width="0.8"/>
<text class="h" x="652.9" y="154.4" font-size="9" text-anchor="start" fill="#231f20">−65</text>
<line x1="648.50" y1="160.40" x2="646.20" y2="160.40" stroke="#444" stroke-width="0.8"/>
<text class="h" x="652.9" y="163.6" font-size="9" text-anchor="start" fill="#231f20">−70</text>
<line x1="648.50" y1="170.30" x2="646.20" y2="170.30" stroke="#444" stroke-width="0.8"/>
<text class="h" x="652.9" y="173.5" font-size="9" text-anchor="start" fill="#231f20">−75</text>
<line x1="648.50" y1="179.60" x2="646.20" y2="179.60" stroke="#444" stroke-width="0.8"/>
<text class="h" x="652.9" y="182.8" font-size="9" text-anchor="start" fill="#231f20">−65</text>
<line x1="648.50" y1="188.80" x2="646.20" y2="188.80" stroke="#444" stroke-width="0.8"/>
<text class="h" x="652.9" y="192.0" font-size="9" text-anchor="start" fill="#231f20">−70</text>
<line x1="648.50" y1="198.00" x2="646.20" y2="198.00" stroke="#444" stroke-width="0.8"/>
<text class="h" x="652.9" y="201.2" font-size="9" text-anchor="start" fill="#231f20">−75</text>
<text class="h" x="255.6" y="46.7" font-size="8.7" text-anchor="start" fill="#231f20">1 kHz</text>
<text class="h" x="255.6" y="74.6" font-size="8.7" text-anchor="start" fill="#231f20">10 kHz</text>
<text class="h" x="255.6" y="102.5" font-size="8.7" text-anchor="start" fill="#231f20">100 kHz</text>
<text class="h" x="255.6" y="130.4" font-size="8.7" text-anchor="start" fill="#231f20">100 kHz</text>
<text class="h" x="255.6" y="158.4" font-size="8.7" text-anchor="start" fill="#231f20">100 kHz</text>
<text class="h" x="255.6" y="186.3" font-size="8.7" text-anchor="start" fill="#231f20">100 kHz</text>
<text class="h" x="252.3" y="218.9" font-size="10.3" text-anchor="middle" fill="#231f20">−50</text>
<text class="h" x="276.8" y="218.9" font-size="10.3" text-anchor="middle" fill="#231f20">0</text>
<text class="h" x="301.3" y="218.9" font-size="10.3" text-anchor="middle" fill="#231f20">50</text>
<text class="h" x="277.0" y="234.8" font-size="10.8" text-anchor="middle" fill="#231f20">Offset</text>
<text class="h" x="276.6" y="247.5" font-size="10.8" text-anchor="middle" fill="#231f20">frequency (MHz)</text>
<text class="h" x="602.6" y="46.7" font-size="8.7" text-anchor="start" fill="#231f20">100 kHz</text>
<text class="h" x="602.6" y="74.6" font-size="8.7" text-anchor="start" fill="#231f20">100 kHz</text>
<text class="h" x="602.6" y="102.5" font-size="8.7" text-anchor="start" fill="#231f20">100 kHz</text>
<text class="h" x="602.6" y="130.4" font-size="8.7" text-anchor="start" fill="#231f20">100 kHz</text>
<text class="h" x="602.6" y="158.4" font-size="8.7" text-anchor="start" fill="#231f20">100 kHz</text>
<text class="h" x="602.6" y="186.3" font-size="8.7" text-anchor="start" fill="#231f20">100 kHz</text>
<text class="h" x="599.3" y="218.9" font-size="10.3" text-anchor="middle" fill="#231f20">−50</text>
<text class="h" x="623.8" y="218.9" font-size="10.3" text-anchor="middle" fill="#231f20">0</text>
<text class="h" x="648.3" y="218.9" font-size="10.3" text-anchor="middle" fill="#231f20">50</text>
<text class="h" x="624.7" y="234.4" font-size="10.3" text-anchor="middle" fill="#231f20">Offset</text>
<text class="h" x="624.7" y="246.9" font-size="10.3" text-anchor="middle" fill="#231f20">frequency (MHz)</text>
<text class="r" x="336.8" y="121.3" font-size="10.3" text-anchor="middle" transform="rotate(-90 336.8 121.3)" fill="#231f20">Electrical power (dBm)</text>
<text class="r" x="682.7" y="117.7" font-size="10.3" text-anchor="middle" transform="rotate(-90 682.7 117.7)" fill="#231f20">Electrical power (dBm)</text>
<rect x="134" y="151" width="46" height="14.5" rx="3" fill="#fff" opacity="0.85" filter="url(#soft)"/>
<text class="h" x="140.4" y="162" font-size="8.7" text-anchor="start" fill="#231f20">120 cm<tspan font-size="6.2" dy="-3.4">−1</tspan></text>
<line x1="60.50" y1="164.60" x2="225.40" y2="164.60" stroke="#111" stroke-width="0.9"/>
<path d="M57.5 164.6 L61.7 162.6 L61.7 166.6 Z M228.4 164.6 L224.20000000000002 162.6 L224.20000000000002 166.6 Z" fill="#111"/>
<rect x="469.5" y="151" width="49" height="15.5" rx="3" fill="#fff" opacity="0.85" filter="url(#soft)"/>
<text class="h" x="478.3" y="162.8" font-size="8.7" text-anchor="start" fill="#231f20">112 cm<tspan font-size="6.2" dy="-3.4">−1</tspan></text>
<line x1="416.60" y1="166.40" x2="570.70" y2="166.40" stroke="#111" stroke-width="0.9"/>
<path d="M413.6 166.4 L417.8 164.4 L417.8 168.4 Z M573.7 166.4 L569.5 164.4 L569.5 168.4 Z" fill="#111"/>
<rect x="37.0" y="301.25" width="262.8" height="2.3" fill="#377eb8"/>
<path d="M37.00 302.40L37.75 296.99L38.45 296.99L39.20 302.40L38.45 307.81L37.75 307.81ZM40.04 302.40L40.79 298.00L41.49 298.00L42.24 302.40L41.49 306.80L40.79 306.80ZM43.07 302.40L43.82 299.38L44.52 299.38L45.27 302.40L44.52 305.42L43.82 305.42ZM49.13 302.40L49.88 299.55L50.58 299.55L51.33 302.40L50.58 305.25L49.88 305.25ZM52.16 302.40L52.91 297.31L53.61 297.31L54.36 302.40L53.61 307.49L52.91 307.49ZM55.20 302.40L55.95 298.04L56.65 298.04L57.40 302.40L56.65 306.76L55.95 306.76ZM58.23 302.40L58.98 299.91L59.68 299.91L60.43 302.40L59.68 304.89L58.98 304.89ZM64.29 302.40L65.04 299.80L65.74 299.80L66.49 302.40L65.74 305.00L65.04 305.00ZM67.32 302.40L68.07 296.88L68.77 296.88L69.52 302.40L68.77 307.92L68.07 307.92ZM70.36 302.40L71.11 297.64L71.81 297.64L72.56 302.40L71.81 307.16L71.11 307.16ZM73.39 302.40L74.14 299.45L74.84 299.45L75.59 302.40L74.84 305.35L74.14 305.35ZM79.45 302.40L80.20 299.11L80.90 299.11L81.65 302.40L80.90 305.69L80.20 305.69ZM82.48 302.40L83.23 297.27L83.93 297.27L84.68 302.40L83.93 307.53L83.23 307.53ZM85.52 302.40L86.27 297.78L86.97 297.78L87.72 302.40L86.97 307.02L86.27 307.02ZM88.55 302.40L89.30 299.59L90.00 299.59L90.75 302.40L90.00 305.21L89.30 305.21ZM94.61 302.40L95.36 299.87L96.06 299.87L96.81 302.40L96.06 304.93L95.36 304.93ZM97.64 302.40L98.39 297.88L99.09 297.88L99.84 302.40L99.09 306.92L98.39 306.92ZM100.68 302.40L101.43 297.64L102.13 297.64L102.88 302.40L102.13 307.16L101.43 307.16ZM103.71 302.40L104.46 299.94L105.16 299.94L105.91 302.40L105.16 304.86L104.46 304.86ZM109.77 302.40L110.52 299.23L111.22 299.23L111.97 302.40L111.22 305.57L110.52 305.57ZM112.80 302.40L113.55 296.99L114.25 296.99L115.00 302.40L114.25 307.81L113.55 307.81ZM115.84 302.40L116.59 297.31L117.29 297.31L118.04 302.40L117.29 307.49L116.59 307.49ZM118.87 302.40L119.62 299.41L120.32 299.41L121.07 302.40L120.32 305.39L119.62 305.39ZM124.93 302.40L125.68 299.44L126.38 299.44L127.13 302.40L126.38 305.36L125.68 305.36ZM127.96 302.40L128.71 297.34L129.41 297.34L130.16 302.40L129.41 307.46L128.71 307.46ZM131.00 302.40L131.75 296.59L132.45 296.59L133.20 302.40L132.45 308.21L131.75 308.21ZM134.03 302.40L134.78 299.46L135.48 299.46L136.23 302.40L135.48 305.34L134.78 305.34ZM140.09 302.40L140.84 299.83L141.54 299.83L142.29 302.40L141.54 304.97L140.84 304.97ZM143.12 302.40L143.87 297.29L144.57 297.29L145.32 302.40L144.57 307.51L143.87 307.51ZM146.16 302.40L146.91 297.05L147.61 297.05L148.36 302.40L147.61 307.75L146.91 307.75ZM149.19 302.40L149.94 299.22L150.64 299.22L151.39 302.40L150.64 305.58L149.94 305.58ZM155.25 302.40L156.00 299.37L156.70 299.37L157.45 302.40L156.70 305.43L156.00 305.43ZM158.28 302.40L159.03 297.83L159.73 297.83L160.48 302.40L159.73 306.97L159.03 306.97ZM161.32 302.40L162.07 298.04L162.77 298.04L163.52 302.40L162.77 306.76L162.07 306.76ZM164.35 302.40L165.10 299.57L165.80 299.57L166.55 302.40L165.80 305.23L165.10 305.23ZM170.41 302.40L171.16 299.41L171.86 299.41L172.61 302.40L171.86 305.39L171.16 305.39ZM173.44 302.40L174.19 297.23L174.89 297.23L175.64 302.40L174.89 307.57L174.19 307.57ZM176.48 302.40L177.23 297.08L177.93 297.08L178.68 302.40L177.93 307.72L177.23 307.72ZM179.51 302.40L180.26 299.44L180.96 299.44L181.71 302.40L180.96 305.36L180.26 305.36ZM185.57 302.40L186.32 299.43L187.02 299.43L187.77 302.40L187.02 305.37L186.32 305.37ZM188.60 302.40L189.35 297.96L190.05 297.96L190.80 302.40L190.05 306.84L189.35 306.84ZM191.64 302.40L192.39 297.50L193.09 297.50L193.84 302.40L193.09 307.30L192.39 307.30ZM194.67 302.40L195.42 299.60L196.12 299.60L196.87 302.40L196.12 305.20L195.42 305.20ZM200.73 302.40L201.48 299.92L202.18 299.92L202.93 302.40L202.18 304.88L201.48 304.88ZM203.76 302.40L204.51 296.91L205.21 296.91L205.96 302.40L205.21 307.89L204.51 307.89ZM206.80 302.40L207.55 297.97L208.25 297.97L209.00 302.40L208.25 306.83L207.55 306.83ZM209.83 302.40L210.58 299.12L211.28 299.12L212.03 302.40L211.28 305.68L210.58 305.68ZM215.89 302.40L216.64 299.27L217.34 299.27L218.09 302.40L217.34 305.53L216.64 305.53ZM218.92 302.40L219.67 297.97L220.37 297.97L221.12 302.40L220.37 306.83L219.67 306.83ZM221.96 302.40L222.71 297.55L223.41 297.55L224.16 302.40L223.41 307.25L222.71 307.25ZM224.99 302.40L225.74 299.74L226.44 299.74L227.19 302.40L226.44 305.06L225.74 305.06ZM231.05 302.40L231.80 299.42L232.50 299.42L233.25 302.40L232.50 305.38L231.80 305.38ZM234.08 302.40L234.83 298.25L235.53 298.25L236.28 302.40L235.53 306.55L234.83 306.55ZM237.12 302.40L237.87 297.45L238.57 297.45L239.32 302.40L238.57 307.35L237.87 307.35ZM240.15 302.40L240.90 299.31L241.60 299.31L242.35 302.40L241.60 305.49L240.90 305.49ZM246.21 302.40L246.96 299.56L247.66 299.56L248.41 302.40L247.66 305.24L246.96 305.24ZM249.24 302.40L249.99 297.38L250.69 297.38L251.44 302.40L250.69 307.42L249.99 307.42ZM252.28 302.40L253.03 297.45L253.73 297.45L254.48 302.40L253.73 307.35L253.03 307.35ZM255.31 302.40L256.06 299.41L256.76 299.41L257.51 302.40L256.76 305.39L256.06 305.39ZM261.37 302.40L262.12 299.21L262.82 299.21L263.57 302.40L262.82 305.59L262.12 305.59ZM264.40 302.40L265.15 297.32L265.85 297.32L266.60 302.40L265.85 307.48L265.15 307.48ZM267.44 302.40L268.19 296.74L268.89 296.74L269.64 302.40L268.89 308.06L268.19 308.06ZM270.47 302.40L271.22 299.23L271.92 299.23L272.67 302.40L271.92 305.57L271.22 305.57ZM276.53 302.40L277.28 299.52L277.98 299.52L278.73 302.40L277.98 305.28L277.28 305.28ZM279.56 302.40L280.31 297.69L281.01 297.69L281.76 302.40L281.01 307.11L280.31 307.11ZM282.60 302.40L283.35 297.04L284.05 297.04L284.80 302.40L284.05 307.76L283.35 307.76ZM285.63 302.40L286.38 299.37L287.08 299.37L287.83 302.40L287.08 305.43L286.38 305.43ZM291.69 302.40L292.44 299.68L293.14 299.68L293.89 302.40L293.14 305.12L292.44 305.12ZM294.72 302.40L295.47 297.39L296.17 297.39L296.92 302.40L296.17 307.41L295.47 307.41Z" fill="#377eb8" opacity="0.9"/>
<path d="M46.45 302.40L47.20 288.70L47.95 302.40L47.20 317.20ZM61.61 302.40L62.36 288.70L63.11 302.40L62.36 317.20ZM76.77 302.40L77.52 288.70L78.27 302.40L77.52 317.20ZM91.93 302.40L92.68 289.60L93.43 302.40L92.68 317.60ZM107.09 302.40L107.84 287.00L108.59 302.40L107.84 317.60ZM122.25 302.40L123.00 286.20L123.75 302.40L123.00 319.30ZM137.41 302.40L138.16 284.50L138.91 302.40L138.16 320.70ZM152.57 302.40L153.32 282.80L154.07 302.40L153.32 322.70ZM167.73 302.40L168.48 281.60L169.23 302.40L168.48 324.80ZM182.89 302.40L183.64 281.00L184.39 302.40L183.64 324.40ZM198.05 302.40L198.80 281.80L199.55 302.40L198.80 323.60ZM213.21 302.40L213.96 283.30L214.71 302.40L213.96 321.90ZM228.37 302.40L229.12 284.50L229.87 302.40L229.12 320.70ZM243.53 302.40L244.28 284.50L245.03 302.40L244.28 320.70ZM258.69 302.40L259.44 285.00L260.19 302.40L259.44 320.70ZM273.85 302.40L274.60 285.00L275.35 302.40L274.60 319.70ZM289.01 302.40L289.76 286.20L290.51 302.40L289.76 319.30Z" fill="#377eb8" opacity="0.8"/>
<path d="M47.20 288.70V317.20M62.36 288.70V317.20M77.52 288.70V317.20M92.68 289.60V317.60M107.84 287.00V317.60M123.00 286.20V319.30M138.16 284.50V320.70M153.32 282.80V322.70M168.48 281.60V324.80M183.64 281.00V324.40M198.80 281.80V323.60M213.96 283.30V321.90M229.12 284.50V320.70M244.28 284.50V320.70M259.44 285.00V320.70M274.60 285.00V319.70M289.76 286.20V319.30" stroke="#377eb8" stroke-width="0.7" opacity="0.75"/>
<path d="M47.20 299.20V305.60M62.36 299.20V305.60M77.52 299.20V305.60M92.68 299.20V305.60M107.84 299.20V305.60M123.00 299.20V305.60M138.16 299.20V305.60M153.32 299.20V305.60M168.48 299.20V305.60M183.64 299.20V305.60M198.80 299.20V305.60M213.96 299.20V305.60M229.12 299.20V305.60M244.28 299.20V305.60M259.44 299.20V305.60M274.60 299.20V305.60M289.76 299.20V305.60" stroke="#377eb8" stroke-width="1.3"/>
<rect x="37.0" y="353.85" width="262.8" height="1.3" fill="#e41a1c"/>
<path d="M37.00 354.50L37.75 350.58L38.45 350.58L39.20 354.50L38.45 358.42L37.75 358.42ZM40.04 354.50L40.79 350.04L41.49 350.04L42.24 354.50L41.49 358.96L40.79 358.96ZM43.07 354.50L43.82 353.17L44.52 353.17L45.27 354.50L44.52 355.83L43.82 355.83ZM49.13 354.50L49.88 353.19L50.58 353.19L51.33 354.50L50.58 355.81L49.88 355.81ZM52.16 354.50L52.91 349.89L53.61 349.89L54.36 354.50L53.61 359.11L52.91 359.11ZM55.20 354.50L55.95 349.51L56.65 349.51L57.40 354.50L56.65 359.49L55.95 359.49ZM58.23 354.50L58.98 352.93L59.68 352.93L60.43 354.50L59.68 356.07L58.98 356.07ZM64.29 354.50L65.04 353.05L65.74 353.05L66.49 354.50L65.74 355.95L65.04 355.95ZM67.32 354.50L68.07 349.70L68.77 349.70L69.52 354.50L68.77 359.30L68.07 359.30ZM70.36 354.50L71.11 350.18L71.81 350.18L72.56 354.50L71.81 358.82L71.11 358.82ZM73.39 354.50L74.14 353.20L74.84 353.20L75.59 354.50L74.84 355.80L74.14 355.80ZM79.45 354.50L80.20 353.10L80.90 353.10L81.65 354.50L80.90 355.90L80.20 355.90ZM82.48 354.50L83.23 350.00L83.93 350.00L84.68 354.50L83.93 359.00L83.23 359.00ZM85.52 354.50L86.27 349.59L86.97 349.59L87.72 354.50L86.97 359.41L86.27 359.41ZM88.55 354.50L89.30 353.16L90.00 353.16L90.75 354.50L90.00 355.84L89.30 355.84ZM94.61 354.50L95.36 353.10L96.06 353.10L96.81 354.50L96.06 355.90L95.36 355.90ZM97.64 354.50L98.39 350.25L99.09 350.25L99.84 354.50L99.09 358.75L98.39 358.75ZM100.68 354.50L101.43 350.59L102.13 350.59L102.88 354.50L102.13 358.41L101.43 358.41ZM103.71 354.50L104.46 353.31L105.16 353.31L105.91 354.50L105.16 355.69L104.46 355.69ZM109.77 354.50L110.52 353.23L111.22 353.23L111.97 354.50L111.22 355.77L110.52 355.77ZM112.80 354.50L113.55 349.99L114.25 349.99L115.00 354.50L114.25 359.01L113.55 359.01ZM115.84 354.50L116.59 349.60L117.29 349.60L118.04 354.50L117.29 359.40L116.59 359.40ZM118.87 354.50L119.62 353.32L120.32 353.32L121.07 354.50L120.32 355.68L119.62 355.68ZM124.93 354.50L125.68 353.14L126.38 353.14L127.13 354.50L126.38 355.86L125.68 355.86ZM127.96 354.50L128.71 349.72L129.41 349.72L130.16 354.50L129.41 359.28L128.71 359.28ZM131.00 354.50L131.75 349.52L132.45 349.52L133.20 354.50L132.45 359.48L131.75 359.48ZM134.03 354.50L134.78 353.26L135.48 353.26L136.23 354.50L135.48 355.74L134.78 355.74ZM140.09 354.50L140.84 353.30L141.54 353.30L142.29 354.50L141.54 355.70L140.84 355.70ZM143.12 354.50L143.87 350.59L144.57 350.59L145.32 354.50L144.57 358.41L143.87 358.41ZM146.16 354.50L146.91 350.36L147.61 350.36L148.36 354.50L147.61 358.64L146.91 358.64ZM149.19 354.50L149.94 353.18L150.64 353.18L151.39 354.50L150.64 355.82L149.94 355.82ZM155.25 354.50L156.00 353.08L156.70 353.08L157.45 354.50L156.70 355.92L156.00 355.92ZM158.28 354.50L159.03 350.72L159.73 350.72L160.48 354.50L159.73 358.28L159.03 358.28ZM161.32 354.50L162.07 349.57L162.77 349.57L163.52 354.50L162.77 359.43L162.07 359.43ZM164.35 354.50L165.10 353.05L165.80 353.05L166.55 354.50L165.80 355.95L165.10 355.95ZM170.41 354.50L171.16 353.11L171.86 353.11L172.61 354.50L171.86 355.89L171.16 355.89ZM173.44 354.50L174.19 349.49L174.89 349.49L175.64 354.50L174.89 359.51L174.19 359.51ZM176.48 354.50L177.23 350.22L177.93 350.22L178.68 354.50L177.93 358.78L177.23 358.78ZM179.51 354.50L180.26 353.20L180.96 353.20L181.71 354.50L180.96 355.80L180.26 355.80ZM185.57 354.50L186.32 353.02L187.02 353.02L187.77 354.50L187.02 355.98L186.32 355.98ZM188.60 354.50L189.35 349.73L190.05 349.73L190.80 354.50L190.05 359.27L189.35 359.27ZM191.64 354.50L192.39 349.85L193.09 349.85L193.84 354.50L193.09 359.15L192.39 359.15ZM194.67 354.50L195.42 352.97L196.12 352.97L196.87 354.50L196.12 356.03L195.42 356.03ZM200.73 354.50L201.48 353.28L202.18 353.28L202.93 354.50L202.18 355.72L201.48 355.72ZM203.76 354.50L204.51 349.57L205.21 349.57L205.96 354.50L205.21 359.43L204.51 359.43ZM206.80 354.50L207.55 350.43L208.25 350.43L209.00 354.50L208.25 358.57L207.55 358.57ZM209.83 354.50L210.58 353.07L211.28 353.07L212.03 354.50L211.28 355.93L210.58 355.93ZM215.89 354.50L216.64 353.22L217.34 353.22L218.09 354.50L217.34 355.78L216.64 355.78ZM218.92 354.50L219.67 350.11L220.37 350.11L221.12 354.50L220.37 358.89L219.67 358.89ZM221.96 354.50L222.71 349.55L223.41 349.55L224.16 354.50L223.41 359.45L222.71 359.45ZM224.99 354.50L225.74 353.19L226.44 353.19L227.19 354.50L226.44 355.81L225.74 355.81ZM231.05 354.50L231.80 352.92L232.50 352.92L233.25 354.50L232.50 356.08L231.80 356.08ZM234.08 354.50L234.83 350.13L235.53 350.13L236.28 354.50L235.53 358.87L234.83 358.87ZM237.12 354.50L237.87 349.57L238.57 349.57L239.32 354.50L238.57 359.43L237.87 359.43ZM240.15 354.50L240.90 353.12L241.60 353.12L242.35 354.50L241.60 355.88L240.90 355.88ZM246.21 354.50L246.96 353.17L247.66 353.17L248.41 354.50L247.66 355.83L246.96 355.83ZM249.24 354.50L249.99 349.72L250.69 349.72L251.44 354.50L250.69 359.28L249.99 359.28ZM252.28 354.50L253.03 350.41L253.73 350.41L254.48 354.50L253.73 358.59L253.03 358.59ZM255.31 354.50L256.06 352.99L256.76 352.99L257.51 354.50L256.76 356.01L256.06 356.01ZM261.37 354.50L262.12 353.21L262.82 353.21L263.57 354.50L262.82 355.79L262.12 355.79ZM264.40 354.50L265.15 350.30L265.85 350.30L266.60 354.50L265.85 358.70L265.15 358.70ZM267.44 354.50L268.19 349.80L268.89 349.80L269.64 354.50L268.89 359.20L268.19 359.20ZM270.47 354.50L271.22 353.17L271.92 353.17L272.67 354.50L271.92 355.83L271.22 355.83ZM276.53 354.50L277.28 353.02L277.98 353.02L278.73 354.50L277.98 355.98L277.28 355.98ZM279.56 354.50L280.31 350.56L281.01 350.56L281.76 354.50L281.01 358.44L280.31 358.44ZM282.60 354.50L283.35 350.54L284.05 350.54L284.80 354.50L284.05 358.46L283.35 358.46ZM285.63 354.50L286.38 353.28L287.08 353.28L287.83 354.50L287.08 355.72L286.38 355.72ZM291.69 354.50L292.44 352.97L293.14 352.97L293.89 354.50L293.14 356.03L292.44 356.03ZM294.72 354.50L295.47 349.72L296.17 349.72L296.92 354.50L296.17 359.28L295.47 359.28Z" fill="#e41a1c" opacity="0.9"/>
<path d="M46.45 354.50L47.20 344.60L47.95 354.50L47.20 364.70ZM61.61 354.50L62.36 344.60L63.11 354.50L62.36 364.70ZM76.77 354.50L77.52 344.40L78.27 354.50L77.52 365.50ZM91.93 354.50L92.68 343.50L93.43 354.50L92.68 366.80ZM107.09 354.50L107.84 341.00L108.59 354.50L107.84 369.60ZM122.25 354.50L123.00 337.00L123.75 354.50L123.00 371.60ZM137.41 354.50L138.16 335.00L138.91 354.50L138.16 373.20ZM152.57 354.50L153.32 333.80L154.07 354.50L153.32 374.80ZM167.73 354.50L168.48 333.40L169.23 354.50L168.48 375.60ZM182.89 354.50L183.64 333.40L184.39 354.50L183.64 375.60ZM198.05 354.50L198.80 334.30L199.55 354.50L198.80 374.80ZM213.21 354.50L213.96 336.20L214.71 354.50L213.96 372.90ZM228.37 354.50L229.12 338.20L229.87 354.50L229.12 370.80ZM243.53 354.50L244.28 341.00L245.03 354.50L244.28 368.00ZM258.69 354.50L259.44 341.90L260.19 354.50L259.44 366.80ZM273.85 354.50L274.60 342.70L275.35 354.50L274.60 366.40ZM289.01 354.50L289.76 342.70L290.51 354.50L289.76 366.40Z" fill="#e41a1c" opacity="0.8"/>
<path d="M47.20 344.60V364.70M62.36 344.60V364.70M77.52 344.40V365.50M92.68 343.50V366.80M107.84 341.00V369.60M123.00 337.00V371.60M138.16 335.00V373.20M153.32 333.80V374.80M168.48 333.40V375.60M183.64 333.40V375.60M198.80 334.30V374.80M213.96 336.20V372.90M229.12 338.20V370.80M244.28 341.00V368.00M259.44 341.90V366.80M274.60 342.70V366.40M289.76 342.70V366.40" stroke="#e41a1c" stroke-width="0.7" opacity="0.75"/>
<path d="M47.20 351.30V357.70M62.36 351.30V357.70M77.52 351.30V357.70M92.68 351.30V357.70M107.84 351.30V357.70M123.00 351.30V357.70M138.16 351.30V357.70M153.32 351.30V357.70M168.48 351.30V357.70M183.64 351.30V357.70M198.80 351.30V357.70M213.96 351.30V357.70M229.12 351.30V357.70M244.28 351.30V357.70M259.44 351.30V357.70M274.60 351.30V357.70M289.76 351.30V357.70" stroke="#e41a1c" stroke-width="1.3"/>
<line x1="36.50" y1="328.40" x2="300.30" y2="328.40" stroke="#444" stroke-width="0.8"/>
<rect x="36.50" y="277.10" width="263.80" height="102.70" fill="none" stroke="#555" stroke-width="0.8"/>
<line x1="56.30" y1="277.10" x2="56.30" y2="279.60" stroke="#444" stroke-width="0.8"/>
<line x1="56.30" y1="325.90" x2="56.30" y2="330.90" stroke="#444" stroke-width="0.8"/>
<line x1="56.30" y1="379.80" x2="56.30" y2="377.30" stroke="#444" stroke-width="0.8"/>
<text class="h" x="56.3" y="394.0" font-size="10.3" text-anchor="middle" fill="#231f20">36</text>
<line x1="112.00" y1="277.10" x2="112.00" y2="279.60" stroke="#444" stroke-width="0.8"/>
<line x1="112.00" y1="325.90" x2="112.00" y2="330.90" stroke="#444" stroke-width="0.8"/>
<line x1="112.00" y1="379.80" x2="112.00" y2="377.30" stroke="#444" stroke-width="0.8"/>
<text class="h" x="112" y="394.0" font-size="10.3" text-anchor="middle" fill="#231f20">86</text>
<line x1="167.70" y1="277.10" x2="167.70" y2="279.60" stroke="#444" stroke-width="0.8"/>
<line x1="167.70" y1="325.90" x2="167.70" y2="330.90" stroke="#444" stroke-width="0.8"/>
<line x1="167.70" y1="379.80" x2="167.70" y2="377.30" stroke="#444" stroke-width="0.8"/>
<text class="h" x="167.7" y="394.0" font-size="10.3" text-anchor="middle" fill="#231f20">136</text>
<line x1="223.40" y1="277.10" x2="223.40" y2="279.60" stroke="#444" stroke-width="0.8"/>
<line x1="223.40" y1="325.90" x2="223.40" y2="330.90" stroke="#444" stroke-width="0.8"/>
<line x1="223.40" y1="379.80" x2="223.40" y2="377.30" stroke="#444" stroke-width="0.8"/>
<text class="h" x="223.4" y="394.0" font-size="10.3" text-anchor="middle" fill="#231f20">186</text>
<line x1="279.00" y1="277.10" x2="279.00" y2="279.60" stroke="#444" stroke-width="0.8"/>
<line x1="279.00" y1="325.90" x2="279.00" y2="330.90" stroke="#444" stroke-width="0.8"/>
<line x1="279.00" y1="379.80" x2="279.00" y2="377.30" stroke="#444" stroke-width="0.8"/>
<text class="h" x="279" y="394.0" font-size="10.3" text-anchor="middle" fill="#231f20">236</text>
<line x1="36.50" y1="289.40" x2="40.70" y2="289.40" stroke="#444" stroke-width="0.8"/>
<line x1="300.30" y1="289.40" x2="296.10" y2="289.40" stroke="#444" stroke-width="0.8"/>
<text class="h" x="30.6" y="294.0" font-size="10.3" text-anchor="end" fill="#231f20">1</text>
<line x1="36.50" y1="302.40" x2="40.70" y2="302.40" stroke="#444" stroke-width="0.8"/>
<line x1="300.30" y1="302.40" x2="296.10" y2="302.40" stroke="#444" stroke-width="0.8"/>
<text class="h" x="32.0" y="307.0" font-size="10.3" text-anchor="end" fill="#231f20">0</text>
<line x1="36.50" y1="315.40" x2="40.70" y2="315.40" stroke="#444" stroke-width="0.8"/>
<line x1="300.30" y1="315.40" x2="296.10" y2="315.40" stroke="#444" stroke-width="0.8"/>
<text class="h" x="30.6" y="320.0" font-size="10.3" text-anchor="end" fill="#231f20">−1</text>
<line x1="36.50" y1="341.50" x2="40.70" y2="341.50" stroke="#444" stroke-width="0.8"/>
<line x1="300.30" y1="341.50" x2="296.10" y2="341.50" stroke="#444" stroke-width="0.8"/>
<text class="h" x="30.6" y="346.1" font-size="10.3" text-anchor="end" fill="#231f20">1</text>
<line x1="36.50" y1="354.50" x2="40.70" y2="354.50" stroke="#444" stroke-width="0.8"/>
<line x1="300.30" y1="354.50" x2="296.10" y2="354.50" stroke="#444" stroke-width="0.8"/>
<text class="h" x="32.0" y="359.1" font-size="10.3" text-anchor="end" fill="#231f20">0</text>
<line x1="36.50" y1="367.50" x2="40.70" y2="367.50" stroke="#444" stroke-width="0.8"/>
<line x1="300.30" y1="367.50" x2="296.10" y2="367.50" stroke="#444" stroke-width="0.8"/>
<text class="h" x="30.6" y="372.1" font-size="10.3" text-anchor="end" fill="#231f20">−1</text>
<text class="h" x="42.3" y="289.1" font-size="8.7" text-anchor="start" fill="#231f20">Comb 1260 mA</text>
<text class="h" x="42.5" y="341.9" font-size="8.7" text-anchor="start" fill="#231f20">Reference 1260 mA</text>
<text class="h" x="167.5" y="409.1" font-size="10.3" text-anchor="middle" fill="#231f20">Position (mm)</text>
<text class="r" x="8.8" y="329.7" font-size="10.3" text-anchor="middle" transform="rotate(-90 8.8 329.7)" fill="#231f20">Intensity (a.u.)</text>
<text class="h" x="-0.5" y="278.8" font-size="15.2" text-anchor="start" font-weight="bold" fill="#231f20">c</text>
<polygon points="383.00,301.85 383.20,301.85 383.40,301.85 383.60,301.85 383.80,301.85 384.00,301.85 384.20,301.85 384.40,301.85 384.60,301.85 384.80,301.85 385.00,301.85 385.20,301.85 385.40,301.85 385.60,301.85 385.80,301.85 386.00,301.85 386.20,301.85 386.40,301.85 386.60,301.85 386.80,301.85 387.00,301.85 387.20,301.85 387.40,301.85 387.60,301.85 387.80,301.85 388.00,301.85 388.20,301.85 388.40,301.85 388.60,301.85 388.80,301.85 389.00,301.85 389.20,301.85 389.40,301.85 389.60,301.85 389.80,301.85 390.00,301.85 390.20,301.85 390.40,301.85 390.60,301.85 390.80,301.85 391.00,301.85 391.20,301.85 391.40,301.85 391.60,301.85 391.80,301.85 392.00,301.85 392.20,301.85 392.40,301.85 392.60,301.85 392.80,301.85 393.00,301.85 393.20,301.85 393.40,301.85 393.60,301.85 393.80,301.85 394.00,301.85 394.20,301.85 394.40,301.85 394.60,301.85 394.80,301.85 395.00,301.85 395.20,301.85 395.40,301.85 395.60,301.85 395.80,301.85 396.00,301.85 396.20,301.85 396.40,301.85 396.60,301.85 396.80,301.85 397.00,301.85 397.20,301.85 397.40,301.85 397.60,301.85 397.80,301.85 398.00,301.85 398.20,301.85 398.40,301.85 398.60,301.85 398.80,301.85 399.00,301.85 399.20,301.85 399.40,301.71 399.60,301.51 399.80,301.30 400.00,301.08 400.20,300.86 400.40,300.68 400.60,300.53 400.80,300.43 401.00,300.40 401.20,300.43 401.40,300.53 401.60,300.68 401.80,300.86 402.00,301.08 402.20,301.30 402.40,301.51 402.60,301.71 402.80,301.72 403.00,301.70 403.20,301.68 403.40,301.67 403.60,301.65 403.80,301.63 404.00,301.61 404.20,301.58 404.40,301.54 404.60,301.30 404.80,301.03 405.00,300.73 405.20,300.43 405.40,300.14 405.60,299.87 405.80,299.65 406.00,299.49 406.20,299.41 406.40,299.41 406.60,299.49 406.80,299.65 407.00,299.87 407.20,300.14 407.40,300.43 407.60,300.73 407.80,301.03 408.00,301.13 408.20,301.11 408.40,301.08 408.60,301.05 408.80,301.03 409.00,301.00 409.20,300.97 409.40,300.94 409.60,300.71 409.80,300.38 410.00,300.03 410.20,299.67 410.40,299.31 410.60,298.96 410.80,298.64 411.00,298.36 411.20,298.14 411.40,297.99 411.60,297.91 411.80,297.91 412.00,297.99 412.20,298.14 412.40,298.36 412.60,298.64 412.80,298.96 413.00,299.31 413.20,299.67 413.40,300.03 413.60,299.86 413.80,299.44 414.00,298.99 414.20,298.53 414.40,298.09 414.60,297.66 414.80,297.28 415.00,296.95 415.20,296.69 415.40,296.50 415.60,296.41 415.80,296.41 416.00,296.50 416.20,296.69 416.40,296.95 416.60,297.28 416.80,297.66 417.00,298.09 417.20,298.53 417.40,298.99 417.60,299.44 417.80,299.07 418.00,298.35 418.20,297.56 418.40,296.72 418.60,295.85 418.80,294.98 419.00,294.15 419.20,293.38 419.40,292.71 419.60,292.18 419.80,291.81 420.00,291.62 420.20,291.62 420.40,291.81 420.60,292.18 420.80,292.71 421.00,293.38 421.20,294.15 421.40,294.98 421.60,295.85 421.80,296.72 422.00,297.56 422.20,297.90 422.40,297.83 422.60,297.76 422.80,297.69 423.00,297.63 423.20,297.57 423.40,296.75 423.60,295.32 423.80,293.72 424.00,291.97 424.20,290.12 424.40,288.23 424.60,286.39 424.80,284.67 425.00,283.16 425.20,281.95 425.40,281.09 425.60,280.66 425.80,280.66 426.00,281.09 426.20,281.95 426.40,283.16 426.60,284.67 426.80,286.39 427.00,288.23 427.20,290.12 427.40,291.97 427.60,293.72 427.80,295.32 428.00,296.75 428.20,297.57 428.40,297.63 428.60,297.69 428.80,297.76 429.00,297.14 429.20,296.29 429.40,295.41 429.60,294.56 429.80,293.75 430.00,293.03 430.20,292.43 430.40,291.98 430.60,291.70 430.80,291.60 431.00,291.70 431.20,291.98 431.40,292.43 431.60,293.03 431.80,293.75 432.00,294.56 432.20,295.41 432.40,296.29 432.60,297.14 432.80,297.96 433.00,298.72 433.20,299.21 433.40,298.76 433.60,298.31 433.80,297.87 434.00,297.46 434.20,297.11 434.40,296.81 434.60,296.58 434.80,296.45 435.00,296.40 435.20,296.45 435.40,296.58 435.60,296.81 435.80,297.11 436.00,297.46 436.20,297.87 436.40,298.31 436.60,298.76 436.80,299.21 437.00,299.65 437.20,300.07 437.40,300.27 437.60,300.30 437.80,300.32 438.00,300.03 438.20,299.67 438.40,299.31 438.60,298.96 438.80,298.64 439.00,298.36 439.20,298.14 439.40,297.99 439.60,297.91 439.80,297.91 440.00,297.99 440.20,298.14 440.40,298.36 440.60,298.64 440.80,298.96 441.00,299.31 441.20,299.67 441.40,300.03 441.60,300.38 441.80,300.71 442.00,300.94 442.20,300.97 442.40,301.00 442.60,301.03 442.80,301.05 443.00,301.08 443.20,301.11 443.40,301.13 443.60,300.88 443.80,300.58 444.00,300.28 444.20,300.00 444.40,299.75 444.60,299.56 444.80,299.44 445.00,299.40 445.20,299.44 445.40,299.56 445.60,299.75 445.80,300.00 446.00,300.28 446.20,300.58 446.40,300.88 446.60,301.17 446.80,301.43 447.00,301.56 447.20,301.58 447.40,301.61 447.60,301.63 447.80,301.65 448.00,301.67 448.20,301.61 448.40,301.41 448.60,301.19 448.80,300.97 449.00,300.77 449.20,300.60 449.40,300.47 449.60,300.41 449.80,300.41 450.00,300.47 450.20,300.60 450.40,300.77 450.60,300.97 450.80,301.19 451.00,301.41 451.20,301.61 451.40,301.79 451.60,301.85 451.80,301.85 452.00,301.85 452.20,301.85 452.40,301.85 452.60,301.85 452.80,301.85 453.00,301.85 453.20,301.85 453.40,301.85 453.60,301.85 453.80,301.85 454.00,301.85 454.20,301.85 454.40,301.85 454.60,301.85 454.80,301.85 455.00,301.85 455.20,301.85 455.40,301.85 455.60,301.85 455.80,301.85 456.00,301.85 456.20,301.85 456.40,301.85 456.60,301.85 456.80,301.85 457.00,301.85 457.20,301.85 457.40,301.85 457.60,301.85 457.80,301.85 458.00,301.85 458.20,301.85 458.40,301.85 458.60,301.85 458.80,301.85 459.00,301.85 459.20,301.85 459.40,301.85 459.60,301.85 459.80,301.85 460.00,301.85 460.20,301.85 460.40,301.85 460.60,301.85 460.80,301.85 461.00,301.85 461.20,301.85 461.40,301.85 461.60,301.85 461.80,301.85 462.00,301.85 462.20,301.85 462.40,301.85 462.60,301.85 462.80,301.85 463.00,301.85 463.20,301.85 463.40,301.85 463.60,301.85 463.80,301.85 464.00,301.85 464.20,301.85 464.40,301.85 464.60,301.85 464.80,301.85 465.00,301.85 465.20,301.85 465.40,301.85 465.60,301.85 465.80,301.85 466.00,301.85 466.20,301.85 466.40,301.85 466.60,301.85 466.80,301.85 467.00,301.85 467.20,301.85 467.40,301.85 467.60,301.85 467.80,301.85 468.00,301.85 468.20,301.85 468.40,301.85 468.60,301.85 468.80,301.85 469.00,301.85 469.20,301.85 469.40,301.85 469.60,301.85 469.80,301.85 470.00,301.85 470.20,301.85 470.40,301.85 470.60,301.85 470.80,301.85 471.00,301.85 471.20,301.85 471.40,301.85 471.60,301.85 471.80,301.85 472.00,301.85 472.20,301.85 472.40,301.85 472.40,302.95 472.20,302.95 472.00,302.95 471.80,302.95 471.60,302.95 471.40,302.95 471.20,302.95 471.00,302.95 470.80,302.95 470.60,302.95 470.40,302.95 470.20,302.95 470.00,302.95 469.80,302.95 469.60,302.95 469.40,302.95 469.20,302.95 469.00,302.95 468.80,302.95 468.60,302.95 468.40,302.95 468.20,302.95 468.00,302.95 467.80,302.95 467.60,302.95 467.40,302.95 467.20,302.95 467.00,302.95 466.80,302.95 466.60,302.95 466.40,302.95 466.20,302.95 466.00,302.95 465.80,302.95 465.60,302.95 465.40,302.95 465.20,302.95 465.00,302.95 464.80,302.95 464.60,302.95 464.40,302.95 464.20,302.95 464.00,302.95 463.80,302.95 463.60,302.95 463.40,302.95 463.20,302.95 463.00,302.95 462.80,302.95 462.60,302.95 462.40,302.95 462.20,302.95 462.00,302.95 461.80,302.95 461.60,302.95 461.40,302.95 461.20,302.95 461.00,302.95 460.80,302.95 460.60,302.95 460.40,302.95 460.20,302.95 460.00,302.95 459.80,302.95 459.60,302.95 459.40,302.95 459.20,302.95 459.00,302.95 458.80,302.95 458.60,302.95 458.40,302.95 458.20,302.95 458.00,302.95 457.80,302.95 457.60,302.95 457.40,302.95 457.20,302.95 457.00,302.95 456.80,302.95 456.60,302.95 456.40,302.95 456.20,302.95 456.00,302.95 455.80,302.95 455.60,302.95 455.40,302.95 455.20,302.95 455.00,302.95 454.80,302.95 454.60,302.95 454.40,302.95 454.20,302.95 454.00,302.95 453.80,302.95 453.60,302.95 453.40,302.95 453.20,302.95 453.00,302.95 452.80,302.95 452.60,302.95 452.40,302.95 452.20,302.95 452.00,302.95 451.80,302.95 451.60,302.95 451.40,303.01 451.20,303.19 451.00,303.39 450.80,303.61 450.60,303.83 450.40,304.03 450.20,304.20 450.00,304.33 449.80,304.39 449.60,304.39 449.40,304.33 449.20,304.20 449.00,304.03 448.80,303.83 448.60,303.61 448.40,303.39 448.20,303.19 448.00,303.13 447.80,303.15 447.60,303.17 447.40,303.19 447.20,303.22 447.00,303.24 446.80,303.37 446.60,303.63 446.40,303.92 446.20,304.22 446.00,304.52 445.80,304.80 445.60,305.05 445.40,305.24 445.20,305.36 445.00,305.40 444.80,305.36 444.60,305.24 444.40,305.05 444.20,304.80 444.00,304.52 443.80,304.22 443.60,303.92 443.40,303.67 443.20,303.69 443.00,303.72 442.80,303.75 442.60,303.77 442.40,303.80 442.20,303.83 442.00,303.86 441.80,304.09 441.60,304.42 441.40,304.77 441.20,305.13 441.00,305.49 440.80,305.84 440.60,306.16 440.40,306.44 440.20,306.66 440.00,306.81 439.80,306.89 439.60,306.89 439.40,306.81 439.20,306.66 439.00,306.44 438.80,306.16 438.60,305.84 438.40,305.49 438.20,305.13 438.00,304.77 437.80,304.48 437.60,304.50 437.40,304.53 437.20,304.73 437.00,305.15 436.80,305.59 436.60,306.04 436.40,306.49 436.20,306.93 436.00,307.34 435.80,307.69 435.60,307.99 435.40,308.22 435.20,308.35 435.00,308.40 434.80,308.35 434.60,308.22 434.40,307.99 434.20,307.69 434.00,307.34 433.80,306.93 433.60,306.49 433.40,306.04 433.20,305.59 433.00,306.08 432.80,306.84 432.60,307.66 432.40,308.51 432.20,309.39 432.00,310.24 431.80,311.05 431.60,311.77 431.40,312.37 431.20,312.82 431.00,313.10 430.80,313.20 430.60,313.10 430.40,312.82 430.20,312.37 430.00,311.77 429.80,311.05 429.60,310.24 429.40,309.39 429.20,308.51 429.00,307.66 428.80,307.04 428.60,307.11 428.40,307.17 428.20,307.23 428.00,308.05 427.80,309.48 427.60,311.08 427.40,312.83 427.20,314.68 427.00,316.57 426.80,318.41 426.60,320.13 426.40,321.64 426.20,322.85 426.00,323.71 425.80,324.14 425.60,324.14 425.40,323.71 425.20,322.85 425.00,321.64 424.80,320.13 424.60,318.41 424.40,316.57 424.20,314.68 424.00,312.83 423.80,311.08 423.60,309.48 423.40,308.05 423.20,307.23 423.00,307.17 422.80,307.11 422.60,307.04 422.40,306.97 422.20,306.90 422.00,307.24 421.80,308.08 421.60,308.95 421.40,309.82 421.20,310.65 421.00,311.42 420.80,312.09 420.60,312.62 420.40,312.99 420.20,313.18 420.00,313.18 419.80,312.99 419.60,312.62 419.40,312.09 419.20,311.42 419.00,310.65 418.80,309.82 418.60,308.95 418.40,308.08 418.20,307.24 418.00,306.45 417.80,305.73 417.60,305.36 417.40,305.81 417.20,306.27 417.00,306.71 416.80,307.14 416.60,307.52 416.40,307.85 416.20,308.11 416.00,308.30 415.80,308.39 415.60,308.39 415.40,308.30 415.20,308.11 415.00,307.85 414.80,307.52 414.60,307.14 414.40,306.71 414.20,306.27 414.00,305.81 413.80,305.36 413.60,304.94 413.40,304.77 413.20,305.13 413.00,305.49 412.80,305.84 412.60,306.16 412.40,306.44 412.20,306.66 412.00,306.81 411.80,306.89 411.60,306.89 411.40,306.81 411.20,306.66 411.00,306.44 410.80,306.16 410.60,305.84 410.40,305.49 410.20,305.13 410.00,304.77 409.80,304.42 409.60,304.09 409.40,303.86 409.20,303.83 409.00,303.80 408.80,303.77 408.60,303.75 408.40,303.72 408.20,303.69 408.00,303.67 407.80,303.77 407.60,304.07 407.40,304.37 407.20,304.66 407.00,304.93 406.80,305.15 406.60,305.31 406.40,305.39 406.20,305.39 406.00,305.31 405.80,305.15 405.60,304.93 405.40,304.66 405.20,304.37 405.00,304.07 404.80,303.77 404.60,303.50 404.40,303.26 404.20,303.22 404.00,303.19 403.80,303.17 403.60,303.15 403.40,303.13 403.20,303.12 403.00,303.10 402.80,303.08 402.60,303.09 402.40,303.29 402.20,303.50 402.00,303.72 401.80,303.94 401.60,304.12 401.40,304.27 401.20,304.37 401.00,304.40 400.80,304.37 400.60,304.27 400.40,304.12 400.20,303.94 400.00,303.72 399.80,303.50 399.60,303.29 399.40,303.09 399.20,302.95 399.00,302.95 398.80,302.95 398.60,302.95 398.40,302.95 398.20,302.95 398.00,302.95 397.80,302.95 397.60,302.95 397.40,302.95 397.20,302.95 397.00,302.95 396.80,302.95 396.60,302.95 396.40,302.95 396.20,302.95 396.00,302.95 395.80,302.95 395.60,302.95 395.40,302.95 395.20,302.95 395.00,302.95 394.80,302.95 394.60,302.95 394.40,302.95 394.20,302.95 394.00,302.95 393.80,302.95 393.60,302.95 393.40,302.95 393.20,302.95 393.00,302.95 392.80,302.95 392.60,302.95 392.40,302.95 392.20,302.95 392.00,302.95 391.80,302.95 391.60,302.95 391.40,302.95 391.20,302.95 391.00,302.95 390.80,302.95 390.60,302.95 390.40,302.95 390.20,302.95 390.00,302.95 389.80,302.95 389.60,302.95 389.40,302.95 389.20,302.95 389.00,302.95 388.80,302.95 388.60,302.95 388.40,302.95 388.20,302.95 388.00,302.95 387.80,302.95 387.60,302.95 387.40,302.95 387.20,302.95 387.00,302.95 386.80,302.95 386.60,302.95 386.40,302.95 386.20,302.95 386.00,302.95 385.80,302.95 385.60,302.95 385.40,302.95 385.20,302.95 385.00,302.95 384.80,302.95 384.60,302.95 384.40,302.95 384.20,302.95 384.00,302.95 383.80,302.95 383.60,302.95 383.40,302.95 383.20,302.95 383.00,302.95" fill="#377eb8"/>
<polygon points="473.50,301.85 473.70,301.85 473.90,301.85 474.10,301.85 474.30,301.85 474.50,301.85 474.70,301.85 474.90,301.85 475.10,301.85 475.30,301.85 475.50,301.85 475.70,301.85 475.90,301.85 476.10,301.85 476.30,301.85 476.50,301.85 476.70,301.85 476.90,301.85 477.10,301.85 477.30,301.85 477.50,301.85 477.70,301.85 477.90,301.85 478.10,301.85 478.30,301.85 478.50,301.85 478.70,301.85 478.90,301.85 479.10,301.85 479.30,301.85 479.50,301.85 479.70,301.85 479.90,301.85 480.10,301.85 480.30,301.85 480.50,301.85 480.70,301.85 480.90,301.85 481.10,301.85 481.30,301.85 481.50,301.85 481.70,301.85 481.90,301.85 482.10,301.85 482.30,301.85 482.50,301.85 482.70,301.85 482.90,301.85 483.10,301.85 483.30,301.85 483.50,301.85 483.70,301.85 483.90,301.85 484.10,301.85 484.30,301.85 484.50,301.85 484.70,301.85 484.90,301.85 485.10,301.85 485.30,301.85 485.50,301.85 485.70,301.85 485.90,301.85 486.10,301.85 486.30,301.85 486.50,301.85 486.70,301.85 486.90,301.85 487.10,301.85 487.30,301.85 487.50,301.85 487.70,301.85 487.90,301.85 488.10,301.85 488.30,301.85 488.50,301.85 488.70,301.85 488.90,301.85 489.10,301.85 489.30,301.85 489.50,301.85 489.70,301.85 489.90,301.85 490.10,301.85 490.30,301.85 490.50,301.85 490.70,301.85 490.90,301.85 491.10,301.85 491.30,301.85 491.50,301.85 491.70,301.84 491.90,301.83 492.10,301.81 492.30,301.79 492.50,301.78 492.70,301.76 492.90,301.74 493.10,301.72 493.30,301.70 493.50,301.68 493.70,301.67 493.90,301.65 494.10,301.52 494.30,301.31 494.50,301.09 494.70,300.90 494.90,300.74 495.10,300.64 495.30,300.60 495.50,300.64 495.70,300.74 495.90,300.90 496.10,301.09 496.30,301.31 496.50,301.36 496.70,301.34 496.90,301.31 497.10,301.29 497.30,301.26 497.50,301.02 497.70,300.75 497.90,300.48 498.10,300.25 498.30,300.06 498.50,299.94 498.70,299.90 498.90,299.94 499.10,300.06 499.30,300.25 499.50,300.48 499.70,300.75 499.90,300.91 500.10,300.89 500.30,300.86 500.50,300.83 500.70,300.80 500.90,300.77 501.10,300.74 501.30,300.71 501.50,300.58 501.70,300.28 501.90,300.00 502.10,299.75 502.30,299.56 502.50,299.44 502.70,299.40 502.90,299.44 503.10,299.56 503.30,299.75 503.50,300.00 503.70,300.28 503.90,300.32 504.10,300.30 504.30,300.19 504.50,299.85 504.70,299.51 504.90,299.19 505.10,298.89 505.30,298.63 505.50,298.43 505.70,298.28 505.90,298.21 506.10,298.21 506.30,298.28 506.50,298.43 506.70,298.63 506.90,298.89 507.10,299.19 507.30,299.51 507.50,299.82 507.70,299.79 507.90,299.76 508.10,299.74 508.30,299.43 508.50,298.75 508.70,298.00 508.90,297.19 509.10,296.34 509.30,295.48 509.50,294.63 509.70,293.83 509.90,293.12 510.10,292.52 510.30,292.07 510.50,291.79 510.70,291.70 510.90,291.79 511.10,292.07 511.30,292.52 511.50,293.12 511.70,293.83 511.90,294.63 512.10,295.48 512.30,296.34 512.50,297.19 512.70,297.83 512.90,297.76 513.10,297.69 513.30,297.63 513.50,297.01 513.70,295.65 513.90,294.12 514.10,292.45 514.30,290.68 514.50,288.88 514.70,287.12 514.90,285.48 515.10,284.04 515.30,282.89 515.50,282.07 515.70,281.65 515.90,281.65 516.10,282.07 516.30,282.89 516.50,284.04 516.70,285.48 516.90,287.12 517.10,288.88 517.30,290.68 517.50,292.45 517.70,294.12 517.90,295.65 518.10,297.01 518.30,297.52 518.50,297.57 518.70,297.63 518.90,297.69 519.10,297.20 519.30,296.30 519.50,295.36 519.70,294.43 519.90,293.53 520.10,292.71 520.30,292.00 520.50,291.43 520.70,291.03 520.90,290.83 521.10,290.83 521.30,291.03 521.50,291.43 521.70,292.00 521.90,292.71 522.10,293.53 522.30,294.43 522.50,295.36 522.70,296.30 522.90,297.20 523.10,298.05 523.30,298.82 523.50,299.51 523.70,299.71 523.90,299.61 524.10,299.24 524.30,298.88 524.50,298.56 524.70,298.27 524.90,298.05 525.10,297.89 525.30,297.81 525.50,297.81 525.70,297.89 525.90,298.05 526.10,298.27 526.30,298.56 526.50,298.88 526.70,299.24 526.90,299.61 527.10,299.98 527.30,300.21 527.50,300.24 527.70,300.27 527.90,300.30 528.10,300.32 528.30,300.30 528.50,299.98 528.70,299.70 528.90,299.47 529.10,299.30 529.30,299.21 529.50,299.21 529.70,299.30 529.90,299.47 530.10,299.70 530.30,299.98 530.50,300.30 530.70,300.62 530.90,300.74 531.10,300.77 531.30,300.80 531.50,300.83 531.70,300.86 531.90,300.89 532.10,300.91 532.30,300.94 532.50,300.97 532.70,301.00 532.90,301.03 533.10,301.05 533.30,301.08 533.50,301.11 533.70,301.13 533.90,301.16 534.10,301.16 534.30,300.88 534.50,300.61 534.70,300.36 534.90,300.15 535.10,299.99 535.30,299.91 535.50,299.91 535.70,299.99 535.90,300.15 536.10,300.36 536.30,300.61 536.50,300.88 536.70,301.16 536.90,301.41 537.10,301.54 537.30,301.56 537.50,301.58 537.70,301.61 537.90,301.63 538.10,301.65 538.30,301.67 538.50,301.68 538.70,301.54 538.90,301.31 539.10,301.07 539.30,300.83 539.50,300.64 539.70,300.49 539.90,300.41 540.10,300.41 540.30,300.49 540.50,300.64 540.70,300.83 540.90,301.07 541.10,301.31 541.30,301.54 541.50,301.75 541.70,301.85 541.90,301.85 542.10,301.85 542.30,301.85 542.50,301.85 542.70,301.85 542.90,301.85 543.10,301.85 543.30,301.85 543.50,301.85 543.70,301.85 543.90,301.85 544.10,301.85 544.30,301.85 544.50,301.85 544.70,301.85 544.90,301.85 545.10,301.85 545.30,301.85 545.50,301.85 545.70,301.85 545.90,301.85 546.10,301.85 546.30,301.85 546.50,301.85 546.70,301.85 546.90,301.85 547.10,301.85 547.30,301.85 547.50,301.85 547.70,301.85 547.90,301.85 548.10,301.85 548.30,301.85 548.50,301.85 548.70,301.85 548.90,301.85 549.10,301.85 549.30,301.85 549.50,301.85 549.70,301.85 549.90,301.85 550.10,301.85 550.30,301.85 550.50,301.85 550.70,301.85 550.90,301.85 551.10,301.85 551.30,301.85 551.50,301.85 551.70,301.85 551.90,301.85 552.10,301.85 552.30,301.85 552.50,301.85 552.70,301.85 552.90,301.85 553.10,301.85 553.30,301.85 553.50,301.85 553.70,301.85 553.90,301.85 554.10,301.85 554.30,301.85 554.50,301.85 554.70,301.85 554.90,301.85 555.10,301.85 555.30,301.85 555.50,301.85 555.70,301.85 555.90,301.85 556.10,301.85 556.30,301.85 556.50,301.85 556.70,301.85 556.90,301.85 557.10,301.85 557.30,301.85 557.50,301.85 557.70,301.85 557.90,301.85 558.10,301.85 558.30,301.85 558.50,301.85 558.70,301.85 558.90,301.85 559.10,301.85 559.30,301.85 559.50,301.85 559.70,301.85 559.90,301.85 560.10,301.85 560.30,301.85 560.50,301.85 560.70,301.85 560.90,301.85 561.10,301.85 561.30,301.85 561.50,301.85 561.70,301.85 561.90,301.85 562.10,301.85 562.30,301.85 562.50,301.85 562.70,301.85 562.90,301.85 562.90,302.95 562.70,302.95 562.50,302.95 562.30,302.95 562.10,302.95 561.90,302.95 561.70,302.95 561.50,302.95 561.30,302.95 561.10,302.95 560.90,302.95 560.70,302.95 560.50,302.95 560.30,302.95 560.10,302.95 559.90,302.95 559.70,302.95 559.50,302.95 559.30,302.95 559.10,302.95 558.90,302.95 558.70,302.95 558.50,302.95 558.30,302.95 558.10,302.95 557.90,302.95 557.70,302.95 557.50,302.95 557.30,302.95 557.10,302.95 556.90,302.95 556.70,302.95 556.50,302.95 556.30,302.95 556.10,302.95 555.90,302.95 555.70,302.95 555.50,302.95 555.30,302.95 555.10,302.95 554.90,302.95 554.70,302.95 554.50,302.95 554.30,302.95 554.10,302.95 553.90,302.95 553.70,302.95 553.50,302.95 553.30,302.95 553.10,302.95 552.90,302.95 552.70,302.95 552.50,302.95 552.30,302.95 552.10,302.95 551.90,302.95 551.70,302.95 551.50,302.95 551.30,302.95 551.10,302.95 550.90,302.95 550.70,302.95 550.50,302.95 550.30,302.95 550.10,302.95 549.90,302.95 549.70,302.95 549.50,302.95 549.30,302.95 549.10,302.95 548.90,302.95 548.70,302.95 548.50,302.95 548.30,302.95 548.10,302.95 547.90,302.95 547.70,302.95 547.50,302.95 547.30,302.95 547.10,302.95 546.90,302.95 546.70,302.95 546.50,302.95 546.30,302.95 546.10,302.95 545.90,302.95 545.70,302.95 545.50,302.95 545.30,302.95 545.10,302.95 544.90,302.95 544.70,302.95 544.50,302.95 544.30,302.95 544.10,302.95 543.90,302.95 543.70,302.95 543.50,302.95 543.30,302.95 543.10,302.95 542.90,302.95 542.70,302.95 542.50,302.95 542.30,302.95 542.10,302.95 541.90,302.95 541.70,302.95 541.50,303.05 541.30,303.26 541.10,303.49 540.90,303.73 540.70,303.97 540.50,304.16 540.30,304.31 540.10,304.39 539.90,304.39 539.70,304.31 539.50,304.16 539.30,303.97 539.10,303.73 538.90,303.49 538.70,303.26 538.50,303.12 538.30,303.13 538.10,303.15 537.90,303.17 537.70,303.19 537.50,303.22 537.30,303.24 537.10,303.26 536.90,303.39 536.70,303.64 536.50,303.92 536.30,304.19 536.10,304.44 535.90,304.65 535.70,304.81 535.50,304.89 535.30,304.89 535.10,304.81 534.90,304.65 534.70,304.44 534.50,304.19 534.30,303.92 534.10,303.64 533.90,303.64 533.70,303.67 533.50,303.69 533.30,303.72 533.10,303.75 532.90,303.77 532.70,303.80 532.50,303.83 532.30,303.86 532.10,303.89 531.90,303.91 531.70,303.94 531.50,303.97 531.30,304.00 531.10,304.03 530.90,304.06 530.70,304.18 530.50,304.50 530.30,304.82 530.10,305.10 529.90,305.33 529.70,305.50 529.50,305.59 529.30,305.59 529.10,305.50 528.90,305.33 528.70,305.10 528.50,304.82 528.30,304.50 528.10,304.48 527.90,304.50 527.70,304.53 527.50,304.56 527.30,304.59 527.10,304.82 526.90,305.19 526.70,305.56 526.50,305.92 526.30,306.24 526.10,306.53 525.90,306.75 525.70,306.91 525.50,306.99 525.30,306.99 525.10,306.91 524.90,306.75 524.70,306.53 524.50,306.24 524.30,305.92 524.10,305.56 523.90,305.19 523.70,305.09 523.50,305.29 523.30,305.98 523.10,306.75 522.90,307.60 522.70,308.50 522.50,309.44 522.30,310.37 522.10,311.27 521.90,312.09 521.70,312.80 521.50,313.37 521.30,313.77 521.10,313.97 520.90,313.97 520.70,313.77 520.50,313.37 520.30,312.80 520.10,312.09 519.90,311.27 519.70,310.37 519.50,309.44 519.30,308.50 519.10,307.60 518.90,307.11 518.70,307.17 518.50,307.23 518.30,307.28 518.10,307.79 517.90,309.15 517.70,310.68 517.50,312.35 517.30,314.12 517.10,315.92 516.90,317.68 516.70,319.32 516.50,320.76 516.30,321.91 516.10,322.73 515.90,323.15 515.70,323.15 515.50,322.73 515.30,321.91 515.10,320.76 514.90,319.32 514.70,317.68 514.50,315.92 514.30,314.12 514.10,312.35 513.90,310.68 513.70,309.15 513.50,307.79 513.30,307.17 513.10,307.11 512.90,307.04 512.70,306.97 512.50,307.61 512.30,308.46 512.10,309.32 511.90,310.17 511.70,310.97 511.50,311.68 511.30,312.28 511.10,312.73 510.90,313.01 510.70,313.10 510.50,313.01 510.30,312.73 510.10,312.28 509.90,311.68 509.70,310.97 509.50,310.17 509.30,309.32 509.10,308.46 508.90,307.61 508.70,306.80 508.50,306.05 508.30,305.37 508.10,305.06 507.90,305.04 507.70,305.01 507.50,304.98 507.30,305.29 507.10,305.61 506.90,305.91 506.70,306.17 506.50,306.37 506.30,306.52 506.10,306.59 505.90,306.59 505.70,306.52 505.50,306.37 505.30,306.17 505.10,305.91 504.90,305.61 504.70,305.29 504.50,304.95 504.30,304.61 504.10,304.50 503.90,304.48 503.70,304.52 503.50,304.80 503.30,305.05 503.10,305.24 502.90,305.36 502.70,305.40 502.50,305.36 502.30,305.24 502.10,305.05 501.90,304.80 501.70,304.52 501.50,304.22 501.30,304.09 501.10,304.06 500.90,304.03 500.70,304.00 500.50,303.97 500.30,303.94 500.10,303.91 499.90,303.89 499.70,304.05 499.50,304.32 499.30,304.55 499.10,304.74 498.90,304.86 498.70,304.90 498.50,304.86 498.30,304.74 498.10,304.55 497.90,304.32 497.70,304.05 497.50,303.78 497.30,303.54 497.10,303.51 496.90,303.49 496.70,303.46 496.50,303.44 496.30,303.49 496.10,303.71 495.90,303.90 495.70,304.06 495.50,304.16 495.30,304.20 495.10,304.16 494.90,304.06 494.70,303.90 494.50,303.71 494.30,303.49 494.10,303.28 493.90,303.15 493.70,303.13 493.50,303.12 493.30,303.10 493.10,303.08 492.90,303.06 492.70,303.04 492.50,303.02 492.30,303.01 492.10,302.99 491.90,302.97 491.70,302.96 491.50,302.95 491.30,302.95 491.10,302.95 490.90,302.95 490.70,302.95 490.50,302.95 490.30,302.95 490.10,302.95 489.90,302.95 489.70,302.95 489.50,302.95 489.30,302.95 489.10,302.95 488.90,302.95 488.70,302.95 488.50,302.95 488.30,302.95 488.10,302.95 487.90,302.95 487.70,302.95 487.50,302.95 487.30,302.95 487.10,302.95 486.90,302.95 486.70,302.95 486.50,302.95 486.30,302.95 486.10,302.95 485.90,302.95 485.70,302.95 485.50,302.95 485.30,302.95 485.10,302.95 484.90,302.95 484.70,302.95 484.50,302.95 484.30,302.95 484.10,302.95 483.90,302.95 483.70,302.95 483.50,302.95 483.30,302.95 483.10,302.95 482.90,302.95 482.70,302.95 482.50,302.95 482.30,302.95 482.10,302.95 481.90,302.95 481.70,302.95 481.50,302.95 481.30,302.95 481.10,302.95 480.90,302.95 480.70,302.95 480.50,302.95 480.30,302.95 480.10,302.95 479.90,302.95 479.70,302.95 479.50,302.95 479.30,302.95 479.10,302.95 478.90,302.95 478.70,302.95 478.50,302.95 478.30,302.95 478.10,302.95 477.90,302.95 477.70,302.95 477.50,302.95 477.30,302.95 477.10,302.95 476.90,302.95 476.70,302.95 476.50,302.95 476.30,302.95 476.10,302.95 475.90,302.95 475.70,302.95 475.50,302.95 475.30,302.95 475.10,302.95 474.90,302.95 474.70,302.95 474.50,302.95 474.30,302.95 474.10,302.95 473.90,302.95 473.70,302.95 473.50,302.95" fill="#377eb8"/>
<polygon points="564.00,301.85 564.20,301.85 564.40,301.85 564.60,301.85 564.80,301.85 565.00,301.85 565.20,301.85 565.40,301.85 565.60,301.85 565.80,301.85 566.00,301.85 566.20,301.85 566.40,301.85 566.60,301.85 566.80,301.85 567.00,301.85 567.20,301.85 567.40,301.85 567.60,301.85 567.80,301.85 568.00,301.85 568.20,301.85 568.40,301.85 568.60,301.85 568.80,301.85 569.00,301.85 569.20,301.85 569.40,301.85 569.60,301.85 569.80,301.85 570.00,301.85 570.20,301.85 570.40,301.85 570.60,301.85 570.80,301.85 571.00,301.85 571.20,301.85 571.40,301.85 571.60,301.85 571.80,301.85 572.00,301.85 572.20,301.85 572.40,301.85 572.60,301.85 572.80,301.85 573.00,301.85 573.20,301.85 573.40,301.85 573.60,301.85 573.80,301.85 574.00,301.85 574.20,301.85 574.40,301.85 574.60,301.85 574.80,301.85 575.00,301.85 575.20,301.85 575.40,301.85 575.60,301.85 575.80,301.85 576.00,301.85 576.20,301.85 576.40,301.85 576.60,301.85 576.80,301.85 577.00,301.85 577.20,301.85 577.40,301.85 577.60,301.85 577.80,301.85 578.00,301.85 578.20,301.85 578.40,301.85 578.60,301.85 578.80,301.85 579.00,301.85 579.20,301.85 579.40,301.85 579.60,301.85 579.80,301.85 580.00,301.85 580.20,301.85 580.40,301.85 580.60,301.85 580.80,301.85 581.00,301.85 581.20,301.85 581.40,301.85 581.60,301.85 581.80,301.85 582.00,301.85 582.20,301.85 582.40,301.85 582.60,301.85 582.80,301.85 583.00,301.85 583.20,301.85 583.40,301.85 583.60,301.85 583.80,301.85 584.00,301.85 584.20,301.85 584.40,301.85 584.60,301.85 584.80,301.85 585.00,301.85 585.20,301.85 585.40,301.85 585.60,301.85 585.80,301.85 586.00,301.85 586.20,301.84 586.40,301.82 586.60,301.81 586.80,301.79 587.00,301.77 587.20,301.76 587.40,301.74 587.60,301.71 587.80,301.51 588.00,301.30 588.20,301.08 588.40,300.86 588.60,300.68 588.80,300.53 589.00,300.43 589.20,300.40 589.40,300.43 589.60,300.53 589.80,300.68 590.00,300.86 590.20,301.08 590.40,301.30 590.60,301.41 590.80,301.39 591.00,301.37 591.20,301.35 591.40,301.32 591.60,301.30 591.80,301.27 592.00,301.25 592.20,301.23 592.40,301.17 592.60,300.88 592.80,300.58 593.00,300.28 593.20,300.00 593.40,299.75 593.60,299.56 593.80,299.44 594.00,299.40 594.20,299.44 594.40,299.56 594.60,299.75 594.80,300.00 595.00,300.28 595.20,300.58 595.40,300.80 595.60,300.78 595.80,300.75 596.00,300.72 596.20,300.69 596.40,300.66 596.60,300.64 596.80,300.61 597.00,300.58 597.20,300.55 597.40,300.52 597.60,300.50 597.80,300.47 598.00,300.44 598.20,300.34 598.40,299.97 598.60,299.57 598.80,299.17 599.00,298.77 599.20,298.40 599.40,298.06 599.60,297.78 599.80,297.57 600.00,297.44 600.20,297.40 600.40,297.44 600.60,297.57 600.80,297.78 601.00,298.06 601.20,298.40 601.40,298.77 601.60,299.17 601.80,298.62 602.00,297.92 602.20,297.19 602.40,296.45 602.60,295.72 602.80,295.03 603.00,294.42 603.20,293.91 603.40,293.52 603.60,293.28 603.80,293.20 604.00,293.28 604.20,293.52 604.40,293.91 604.60,294.42 604.80,295.03 605.00,295.72 605.20,296.45 605.40,297.19 605.60,297.92 605.80,297.97 606.00,297.91 606.20,297.84 606.40,297.16 606.60,295.91 606.80,294.52 607.00,293.03 607.20,291.48 607.40,289.93 607.60,288.45 607.80,287.11 608.00,285.98 608.20,285.12 608.40,284.58 608.60,284.40 608.80,284.58 609.00,285.12 609.20,285.98 609.40,287.11 609.60,288.45 609.80,289.93 610.00,291.48 610.20,293.03 610.40,294.52 610.60,295.91 610.80,297.16 611.00,297.63 611.20,297.68 611.40,297.73 611.60,297.78 611.80,297.29 612.00,296.46 612.20,295.61 612.40,294.78 612.60,293.99 612.80,293.29 613.00,292.71 613.20,292.27 613.40,291.99 613.60,291.90 613.80,291.99 614.00,292.27 614.20,292.71 614.40,293.29 614.60,293.99 614.80,294.78 615.00,295.61 615.20,296.46 615.40,297.29 615.60,298.08 615.80,298.82 616.00,299.48 616.20,299.69 616.40,299.74 616.60,299.76 616.80,299.57 617.00,299.17 617.20,298.77 617.40,298.40 617.60,298.06 617.80,297.78 618.00,297.57 618.20,297.44 618.40,297.40 618.60,297.44 618.80,297.57 619.00,297.78 619.20,298.06 619.40,298.40 619.60,298.77 619.80,299.17 620.00,299.57 620.20,299.97 620.40,300.22 620.60,300.25 620.80,300.28 621.00,300.30 621.20,300.33 621.40,300.36 621.60,300.16 621.80,299.79 622.00,299.42 622.20,299.09 622.40,298.80 622.60,298.58 622.80,298.45 623.00,298.40 623.20,298.45 623.40,298.58 623.60,298.80 623.80,299.09 624.00,299.42 624.20,299.79 624.40,300.16 624.60,300.52 624.80,300.83 625.00,300.86 625.20,300.89 625.40,300.91 625.60,300.94 625.80,300.97 626.00,300.99 626.20,301.00 626.40,300.68 626.60,300.34 626.80,300.00 627.00,299.68 627.20,299.40 627.40,299.18 627.60,299.05 627.80,299.00 628.00,299.05 628.20,299.18 628.40,299.40 628.60,299.68 628.80,300.00 629.00,300.34 629.20,300.68 629.40,301.00 629.60,301.30 629.80,301.46 630.00,301.48 630.20,301.50 630.40,301.52 630.60,301.55 630.80,301.57 631.00,301.59 631.20,301.61 631.40,301.63 631.60,301.64 631.80,301.41 632.00,301.16 632.20,300.88 632.40,300.61 632.60,300.36 632.80,300.15 633.00,299.99 633.20,299.91 633.40,299.91 633.60,299.99 633.80,300.15 634.00,300.36 634.20,300.61 634.40,300.88 634.60,301.16 634.80,301.41 635.00,301.64 635.20,301.84 635.40,301.85 635.60,301.85 635.80,301.85 636.00,301.85 636.20,301.85 636.40,301.85 636.60,301.80 636.80,301.62 637.00,301.43 637.20,301.24 637.40,301.06 637.60,300.92 637.80,300.83 638.00,300.80 638.20,300.83 638.40,300.92 638.60,301.06 638.80,301.24 639.00,301.43 639.20,301.62 639.40,301.80 639.60,301.85 639.80,301.85 640.00,301.85 640.20,301.85 640.40,301.85 640.60,301.85 640.80,301.85 641.00,301.85 641.20,301.85 641.40,301.85 641.60,301.85 641.80,301.85 642.00,301.85 642.20,301.85 642.40,301.85 642.60,301.85 642.80,301.85 643.00,301.85 643.20,301.85 643.40,301.85 643.60,301.85 643.80,301.85 644.00,301.85 644.20,301.85 644.40,301.85 644.60,301.85 644.80,301.85 645.00,301.85 645.20,301.85 645.40,301.85 645.60,301.85 645.80,301.85 646.00,301.85 646.20,301.85 646.40,301.85 646.60,301.85 646.80,301.85 647.00,301.85 647.20,301.85 647.40,301.85 647.60,301.85 647.80,301.85 648.00,301.85 648.20,301.85 648.40,301.85 648.60,301.85 648.80,301.85 649.00,301.85 649.20,301.85 649.40,301.85 649.60,301.85 649.80,301.85 650.00,301.85 650.20,301.85 650.40,301.85 650.60,301.85 650.80,301.85 651.00,301.85 651.20,301.85 651.40,301.85 651.60,301.85 651.80,301.85 652.00,301.85 652.20,301.85 652.40,301.85 652.60,301.85 652.80,301.85 653.00,301.85 653.20,301.85 653.40,301.85 653.40,302.95 653.20,302.95 653.00,302.95 652.80,302.95 652.60,302.95 652.40,302.95 652.20,302.95 652.00,302.95 651.80,302.95 651.60,302.95 651.40,302.95 651.20,302.95 651.00,302.95 650.80,302.95 650.60,302.95 650.40,302.95 650.20,302.95 650.00,302.95 649.80,302.95 649.60,302.95 649.40,302.95 649.20,302.95 649.00,302.95 648.80,302.95 648.60,302.95 648.40,302.95 648.20,302.95 648.00,302.95 647.80,302.95 647.60,302.95 647.40,302.95 647.20,302.95 647.00,302.95 646.80,302.95 646.60,302.95 646.40,302.95 646.20,302.95 646.00,302.95 645.80,302.95 645.60,302.95 645.40,302.95 645.20,302.95 645.00,302.95 644.80,302.95 644.60,302.95 644.40,302.95 644.20,302.95 644.00,302.95 643.80,302.95 643.60,302.95 643.40,302.95 643.20,302.95 643.00,302.95 642.80,302.95 642.60,302.95 642.40,302.95 642.20,302.95 642.00,302.95 641.80,302.95 641.60,302.95 641.40,302.95 641.20,302.95 641.00,302.95 640.80,302.95 640.60,302.95 640.40,302.95 640.20,302.95 640.00,302.95 639.80,302.95 639.60,302.95 639.40,303.00 639.20,303.18 639.00,303.37 638.80,303.56 638.60,303.74 638.40,303.88 638.20,303.97 638.00,304.00 637.80,303.97 637.60,303.88 637.40,303.74 637.20,303.56 637.00,303.37 636.80,303.18 636.60,303.00 636.40,302.95 636.20,302.95 636.00,302.95 635.80,302.95 635.60,302.95 635.40,302.95 635.20,302.96 635.00,303.16 634.80,303.39 634.60,303.64 634.40,303.92 634.20,304.19 634.00,304.44 633.80,304.65 633.60,304.81 633.40,304.89 633.20,304.89 633.00,304.81 632.80,304.65 632.60,304.44 632.40,304.19 632.20,303.92 632.00,303.64 631.80,303.39 631.60,303.16 631.40,303.17 631.20,303.19 631.00,303.21 630.80,303.23 630.60,303.25 630.40,303.28 630.20,303.30 630.00,303.32 629.80,303.34 629.60,303.50 629.40,303.80 629.20,304.12 629.00,304.46 628.80,304.80 628.60,305.12 628.40,305.40 628.20,305.62 628.00,305.75 627.80,305.80 627.60,305.75 627.40,305.62 627.20,305.40 627.00,305.12 626.80,304.80 626.60,304.46 626.40,304.12 626.20,303.80 626.00,303.81 625.80,303.83 625.60,303.86 625.40,303.89 625.20,303.91 625.00,303.94 624.80,303.97 624.60,304.28 624.40,304.64 624.20,305.01 624.00,305.38 623.80,305.71 623.60,306.00 623.40,306.22 623.20,306.35 623.00,306.40 622.80,306.35 622.60,306.22 622.40,306.00 622.20,305.71 622.00,305.38 621.80,305.01 621.60,304.64 621.40,304.44 621.20,304.47 621.00,304.50 620.80,304.52 620.60,304.55 620.40,304.58 620.20,304.83 620.00,305.23 619.80,305.63 619.60,306.03 619.40,306.40 619.20,306.74 619.00,307.02 618.80,307.23 618.60,307.36 618.40,307.40 618.20,307.36 618.00,307.23 617.80,307.02 617.60,306.74 617.40,306.40 617.20,306.03 617.00,305.63 616.80,305.23 616.60,305.04 616.40,305.06 616.20,305.11 616.00,305.32 615.80,305.98 615.60,306.72 615.40,307.51 615.20,308.34 615.00,309.19 614.80,310.02 614.60,310.81 614.40,311.51 614.20,312.09 614.00,312.53 613.80,312.81 613.60,312.90 613.40,312.81 613.20,312.53 613.00,312.09 612.80,311.51 612.60,310.81 612.40,310.02 612.20,309.19 612.00,308.34 611.80,307.51 611.60,307.02 611.40,307.07 611.20,307.12 611.00,307.17 610.80,307.64 610.60,308.89 610.40,310.28 610.20,311.77 610.00,313.32 609.80,314.87 609.60,316.35 609.40,317.69 609.20,318.82 609.00,319.68 608.80,320.22 608.60,320.40 608.40,320.22 608.20,319.68 608.00,318.82 607.80,317.69 607.60,316.35 607.40,314.87 607.20,313.32 607.00,311.77 606.80,310.28 606.60,308.89 606.40,307.64 606.20,306.96 606.00,306.89 605.80,306.83 605.60,306.88 605.40,307.61 605.20,308.35 605.00,309.08 604.80,309.77 604.60,310.38 604.40,310.89 604.20,311.28 604.00,311.52 603.80,311.60 603.60,311.52 603.40,311.28 603.20,310.89 603.00,310.38 602.80,309.77 602.60,309.08 602.40,308.35 602.20,307.61 602.00,306.88 601.80,306.18 601.60,305.63 601.40,306.03 601.20,306.40 601.00,306.74 600.80,307.02 600.60,307.23 600.40,307.36 600.20,307.40 600.00,307.36 599.80,307.23 599.60,307.02 599.40,306.74 599.20,306.40 599.00,306.03 598.80,305.63 598.60,305.23 598.40,304.83 598.20,304.46 598.00,304.36 597.80,304.33 597.60,304.30 597.40,304.28 597.20,304.25 597.00,304.22 596.80,304.19 596.60,304.16 596.40,304.14 596.20,304.11 596.00,304.08 595.80,304.05 595.60,304.02 595.40,304.00 595.20,304.22 595.00,304.52 594.80,304.80 594.60,305.05 594.40,305.24 594.20,305.36 594.00,305.40 593.80,305.36 593.60,305.24 593.40,305.05 593.20,304.80 593.00,304.52 592.80,304.22 592.60,303.92 592.40,303.63 592.20,303.57 592.00,303.55 591.80,303.53 591.60,303.50 591.40,303.48 591.20,303.45 591.00,303.43 590.80,303.41 590.60,303.39 590.40,303.50 590.20,303.72 590.00,303.94 589.80,304.12 589.60,304.27 589.40,304.37 589.20,304.40 589.00,304.37 588.80,304.27 588.60,304.12 588.40,303.94 588.20,303.72 588.00,303.50 587.80,303.29 587.60,303.09 587.40,303.06 587.20,303.04 587.00,303.03 586.80,303.01 586.60,302.99 586.40,302.98 586.20,302.96 586.00,302.95 585.80,302.95 585.60,302.95 585.40,302.95 585.20,302.95 585.00,302.95 584.80,302.95 584.60,302.95 584.40,302.95 584.20,302.95 584.00,302.95 583.80,302.95 583.60,302.95 583.40,302.95 583.20,302.95 583.00,302.95 582.80,302.95 582.60,302.95 582.40,302.95 582.20,302.95 582.00,302.95 581.80,302.95 581.60,302.95 581.40,302.95 581.20,302.95 581.00,302.95 580.80,302.95 580.60,302.95 580.40,302.95 580.20,302.95 580.00,302.95 579.80,302.95 579.60,302.95 579.40,302.95 579.20,302.95 579.00,302.95 578.80,302.95 578.60,302.95 578.40,302.95 578.20,302.95 578.00,302.95 577.80,302.95 577.60,302.95 577.40,302.95 577.20,302.95 577.00,302.95 576.80,302.95 576.60,302.95 576.40,302.95 576.20,302.95 576.00,302.95 575.80,302.95 575.60,302.95 575.40,302.95 575.20,302.95 575.00,302.95 574.80,302.95 574.60,302.95 574.40,302.95 574.20,302.95 574.00,302.95 573.80,302.95 573.60,302.95 573.40,302.95 573.20,302.95 573.00,302.95 572.80,302.95 572.60,302.95 572.40,302.95 572.20,302.95 572.00,302.95 571.80,302.95 571.60,302.95 571.40,302.95 571.20,302.95 571.00,302.95 570.80,302.95 570.60,302.95 570.40,302.95 570.20,302.95 570.00,302.95 569.80,302.95 569.60,302.95 569.40,302.95 569.20,302.95 569.00,302.95 568.80,302.95 568.60,302.95 568.40,302.95 568.20,302.95 568.00,302.95 567.80,302.95 567.60,302.95 567.40,302.95 567.20,302.95 567.00,302.95 566.80,302.95 566.60,302.95 566.40,302.95 566.20,302.95 566.00,302.95 565.80,302.95 565.60,302.95 565.40,302.95 565.20,302.95 565.00,302.95 564.80,302.95 564.60,302.95 564.40,302.95 564.20,302.95 564.00,302.95" fill="#377eb8"/>
<polygon points="383.00,353.90 383.20,353.90 383.40,353.90 383.60,353.90 383.80,353.90 384.00,353.90 384.20,353.90 384.40,353.90 384.60,353.90 384.80,353.90 385.00,353.90 385.20,353.90 385.40,353.90 385.60,353.90 385.80,353.90 386.00,353.90 386.20,353.90 386.40,353.90 386.60,353.90 386.80,353.90 387.00,353.90 387.20,353.90 387.40,353.90 387.60,353.90 387.80,353.90 388.00,353.90 388.20,353.90 388.40,353.90 388.60,353.90 388.80,353.90 389.00,353.90 389.20,353.90 389.40,353.90 389.60,353.90 389.80,353.90 390.00,353.90 390.20,353.90 390.40,353.90 390.60,353.90 390.80,353.90 391.00,353.90 391.20,353.90 391.40,353.90 391.60,353.90 391.80,353.90 392.00,353.90 392.20,353.90 392.40,353.90 392.60,353.90 392.80,353.90 393.00,353.90 393.20,353.90 393.40,353.90 393.60,353.90 393.80,353.90 394.00,353.90 394.20,353.90 394.40,353.90 394.60,353.90 394.80,353.90 395.00,353.90 395.20,353.90 395.40,353.90 395.60,353.90 395.80,353.90 396.00,353.90 396.20,353.90 396.40,353.90 396.60,353.90 396.80,353.90 397.00,353.90 397.20,353.90 397.40,353.90 397.60,353.90 397.80,353.90 398.00,353.90 398.20,353.90 398.40,353.90 398.60,353.90 398.80,353.90 399.00,353.90 399.20,353.90 399.40,353.90 399.60,353.90 399.80,353.90 400.00,353.90 400.20,353.90 400.40,353.90 400.60,353.90 400.80,353.90 401.00,353.90 401.20,353.90 401.40,353.90 401.60,353.90 401.80,353.90 402.00,353.90 402.20,353.90 402.40,353.90 402.60,353.90 402.80,353.90 403.00,353.90 403.20,353.90 403.40,353.90 403.60,353.90 403.80,353.90 404.00,353.90 404.20,353.90 404.40,353.90 404.60,353.90 404.80,353.90 405.00,353.90 405.20,353.90 405.40,353.90 405.60,353.74 405.80,353.44 406.00,353.18 406.20,353.02 406.40,353.02 406.60,353.18 406.80,353.44 407.00,353.74 407.20,353.90 407.40,353.90 407.60,353.90 407.80,353.90 408.00,353.90 408.20,353.90 408.40,353.90 408.60,353.90 408.80,353.90 409.00,353.90 409.20,353.90 409.40,353.90 409.60,353.90 409.80,353.90 410.00,353.90 410.20,353.90 410.40,353.90 410.60,353.90 410.80,353.90 411.00,353.90 411.20,353.90 411.40,353.90 411.60,353.90 411.80,353.90 412.00,353.90 412.20,353.90 412.40,353.90 412.60,353.90 412.80,353.90 413.00,353.90 413.20,353.90 413.40,353.90 413.60,353.90 413.80,353.90 414.00,353.90 414.20,353.90 414.40,353.90 414.60,353.90 414.80,353.90 415.00,353.90 415.20,353.90 415.40,353.90 415.60,353.90 415.80,353.90 416.00,353.90 416.20,353.90 416.40,353.90 416.60,353.85 416.80,353.49 417.00,353.09 417.20,352.74 417.40,352.53 417.60,352.53 417.80,352.74 418.00,352.68 418.20,352.24 418.40,351.85 418.60,351.59 418.80,351.50 419.00,351.59 419.20,351.85 419.40,352.24 419.60,352.68 419.80,352.93 420.00,352.75 420.20,352.56 420.40,352.08 420.60,350.51 420.80,348.62 421.00,346.73 421.20,345.32 421.40,344.80 421.60,345.32 421.80,346.73 422.00,348.62 422.20,350.06 422.40,349.76 422.60,349.47 422.80,349.17 423.00,348.88 423.20,348.59 423.40,348.30 423.60,348.03 423.80,347.77 424.00,347.52 424.20,347.29 424.40,347.07 424.60,346.87 424.80,346.70 425.00,342.93 425.20,337.30 425.40,332.09 425.60,328.93 425.80,328.93 426.00,332.09 426.20,337.30 426.40,342.93 426.60,346.33 426.80,346.43 427.00,346.55 427.20,346.70 427.40,346.87 427.60,347.07 427.80,347.29 428.00,347.52 428.20,347.77 428.40,348.03 428.60,348.30 428.80,347.79 429.00,346.12 429.20,345.13 429.40,345.13 429.60,346.12 429.80,347.79 430.00,349.69 430.20,350.63 430.40,350.91 430.60,349.34 430.80,347.69 431.00,346.46 431.20,346.00 431.40,346.46 431.60,347.69 431.80,349.34 432.00,351.01 432.20,352.38 432.40,353.09 432.60,353.24 432.80,353.33 433.00,352.91 433.20,352.45 433.40,352.03 433.60,351.70 433.80,351.52 434.00,351.52 434.20,351.70 434.40,352.03 434.60,352.45 434.80,352.90 435.00,352.61 435.20,352.50 435.40,352.61 435.60,352.90 435.80,353.29 436.00,353.68 436.20,353.90 436.40,353.90 436.60,353.90 436.80,353.90 437.00,353.90 437.20,353.90 437.40,353.90 437.60,353.90 437.80,353.90 438.00,353.90 438.20,353.90 438.40,353.90 438.60,353.90 438.80,353.90 439.00,353.90 439.20,353.90 439.40,353.90 439.60,353.90 439.80,353.90 440.00,353.90 440.20,353.90 440.40,353.90 440.60,353.90 440.80,353.90 441.00,353.90 441.20,353.90 441.40,353.90 441.60,353.90 441.80,353.90 442.00,353.90 442.20,353.90 442.40,353.90 442.60,353.90 442.80,353.90 443.00,353.90 443.20,353.90 443.40,353.90 443.60,353.90 443.80,353.90 444.00,353.90 444.20,353.90 444.40,353.90 444.60,353.90 444.80,353.90 445.00,353.74 445.20,353.44 445.40,353.18 445.60,353.02 445.80,353.02 446.00,353.18 446.20,353.44 446.40,353.74 446.60,353.90 446.80,353.90 447.00,353.90 447.20,353.90 447.40,353.90 447.60,353.90 447.80,353.90 448.00,353.90 448.20,353.90 448.40,353.90 448.60,353.90 448.80,353.90 449.00,353.90 449.20,353.90 449.40,353.90 449.60,353.90 449.80,353.90 450.00,353.90 450.20,353.90 450.40,353.90 450.60,353.90 450.80,353.90 451.00,353.90 451.20,353.90 451.40,353.90 451.60,353.90 451.80,353.90 452.00,353.90 452.20,353.90 452.40,353.90 452.60,353.90 452.80,353.90 453.00,353.90 453.20,353.90 453.40,353.90 453.60,353.90 453.80,353.90 454.00,353.90 454.20,353.90 454.40,353.90 454.60,353.90 454.80,353.90 455.00,353.90 455.20,353.90 455.40,353.90 455.60,353.90 455.80,353.90 456.00,353.90 456.20,353.90 456.40,353.90 456.60,353.90 456.80,353.90 457.00,353.90 457.20,353.90 457.40,353.90 457.60,353.90 457.80,353.90 458.00,353.90 458.20,353.90 458.40,353.90 458.60,353.90 458.80,353.90 459.00,353.90 459.20,353.90 459.40,353.90 459.60,353.90 459.80,353.90 460.00,353.90 460.20,353.90 460.40,353.90 460.60,353.90 460.80,353.90 461.00,353.90 461.20,353.90 461.40,353.90 461.60,353.90 461.80,353.90 462.00,353.90 462.20,353.90 462.40,353.90 462.60,353.90 462.80,353.90 463.00,353.90 463.20,353.90 463.40,353.90 463.60,353.90 463.80,353.90 464.00,353.90 464.20,353.90 464.40,353.90 464.60,353.90 464.80,353.90 465.00,353.90 465.20,353.90 465.40,353.90 465.60,353.90 465.80,353.90 466.00,353.90 466.20,353.90 466.40,353.90 466.60,353.90 466.80,353.90 467.00,353.90 467.20,353.90 467.40,353.90 467.60,353.90 467.80,353.90 468.00,353.90 468.20,353.90 468.40,353.90 468.60,353.90 468.80,353.90 469.00,353.90 469.20,353.90 469.40,353.90 469.60,353.90 469.80,353.90 470.00,353.90 470.20,353.90 470.40,353.90 470.60,353.90 470.80,353.90 471.00,353.90 471.20,353.90 471.40,353.90 471.60,353.90 471.80,353.90 472.00,353.90 472.20,353.90 472.40,353.90 472.40,355.10 472.20,355.10 472.00,355.10 471.80,355.10 471.60,355.10 471.40,355.10 471.20,355.10 471.00,355.10 470.80,355.10 470.60,355.10 470.40,355.10 470.20,355.10 470.00,355.10 469.80,355.10 469.60,355.10 469.40,355.10 469.20,355.10 469.00,355.10 468.80,355.10 468.60,355.10 468.40,355.10 468.20,355.10 468.00,355.10 467.80,355.10 467.60,355.10 467.40,355.10 467.20,355.10 467.00,355.10 466.80,355.10 466.60,355.10 466.40,355.10 466.20,355.10 466.00,355.10 465.80,355.10 465.60,355.10 465.40,355.10 465.20,355.10 465.00,355.10 464.80,355.10 464.60,355.10 464.40,355.10 464.20,355.10 464.00,355.10 463.80,355.10 463.60,355.10 463.40,355.10 463.20,355.10 463.00,355.10 462.80,355.10 462.60,355.10 462.40,355.10 462.20,355.10 462.00,355.10 461.80,355.10 461.60,355.10 461.40,355.10 461.20,355.10 461.00,355.10 460.80,355.10 460.60,355.10 460.40,355.10 460.20,355.10 460.00,355.10 459.80,355.10 459.60,355.10 459.40,355.10 459.20,355.10 459.00,355.10 458.80,355.10 458.60,355.10 458.40,355.10 458.20,355.10 458.00,355.10 457.80,355.10 457.60,355.10 457.40,355.10 457.20,355.10 457.00,355.10 456.80,355.10 456.60,355.10 456.40,355.10 456.20,355.10 456.00,355.10 455.80,355.10 455.60,355.10 455.40,355.10 455.20,355.10 455.00,355.10 454.80,355.10 454.60,355.10 454.40,355.10 454.20,355.10 454.00,355.10 453.80,355.10 453.60,355.10 453.40,355.10 453.20,355.10 453.00,355.10 452.80,355.10 452.60,355.10 452.40,355.10 452.20,355.10 452.00,355.10 451.80,355.10 451.60,355.10 451.40,355.10 451.20,355.10 451.00,355.10 450.80,355.10 450.60,355.10 450.40,355.10 450.20,355.10 450.00,355.10 449.80,355.10 449.60,355.10 449.40,355.10 449.20,355.10 449.00,355.10 448.80,355.10 448.60,355.10 448.40,355.10 448.20,355.10 448.00,355.10 447.80,355.10 447.60,355.10 447.40,355.10 447.20,355.10 447.00,355.10 446.80,355.10 446.60,355.10 446.40,355.26 446.20,355.56 446.00,355.82 445.80,355.98 445.60,355.98 445.40,355.82 445.20,355.56 445.00,355.26 444.80,355.10 444.60,355.10 444.40,355.10 444.20,355.10 444.00,355.10 443.80,355.10 443.60,355.10 443.40,355.10 443.20,355.10 443.00,355.10 442.80,355.10 442.60,355.10 442.40,355.10 442.20,355.10 442.00,355.10 441.80,355.10 441.60,355.10 441.40,355.10 441.20,355.10 441.00,355.10 440.80,355.10 440.60,355.10 440.40,355.10 440.20,355.10 440.00,355.10 439.80,355.10 439.60,355.10 439.40,355.10 439.20,355.10 439.00,355.10 438.80,355.10 438.60,355.10 438.40,355.10 438.20,355.10 438.00,355.10 437.80,355.10 437.60,355.10 437.40,355.10 437.20,355.10 437.00,355.10 436.80,355.10 436.60,355.10 436.40,355.10 436.20,355.10 436.00,355.32 435.80,355.71 435.60,356.10 435.40,356.39 435.20,356.50 435.00,356.39 434.80,356.10 434.60,356.55 434.40,356.97 434.20,357.30 434.00,357.48 433.80,357.48 433.60,357.30 433.40,356.97 433.20,356.55 433.00,356.09 432.80,355.67 432.60,355.76 432.40,355.91 432.20,356.62 432.00,357.99 431.80,359.66 431.60,361.31 431.40,362.54 431.20,363.00 431.00,362.54 430.80,361.31 430.60,359.66 430.40,358.09 430.20,358.37 430.00,359.31 429.80,361.21 429.60,362.88 429.40,363.87 429.20,363.87 429.00,362.88 428.80,361.21 428.60,360.70 428.40,360.97 428.20,361.23 428.00,361.48 427.80,361.71 427.60,361.93 427.40,362.13 427.20,362.30 427.00,362.45 426.80,362.57 426.60,362.67 426.40,366.07 426.20,371.70 426.00,376.91 425.80,380.07 425.60,380.07 425.40,376.91 425.20,371.70 425.00,366.07 424.80,362.30 424.60,362.13 424.40,361.93 424.20,361.71 424.00,361.48 423.80,361.23 423.60,360.97 423.40,360.70 423.20,360.41 423.00,360.12 422.80,359.83 422.60,359.53 422.40,359.24 422.20,358.94 422.00,360.38 421.80,362.27 421.60,363.68 421.40,364.20 421.20,363.68 421.00,362.27 420.80,360.38 420.60,358.49 420.40,356.92 420.20,356.44 420.00,356.25 419.80,356.07 419.60,356.32 419.40,356.76 419.20,357.15 419.00,357.41 418.80,357.50 418.60,357.41 418.40,357.15 418.20,356.76 418.00,356.32 417.80,356.26 417.60,356.47 417.40,356.47 417.20,356.26 417.00,355.91 416.80,355.51 416.60,355.15 416.40,355.10 416.20,355.10 416.00,355.10 415.80,355.10 415.60,355.10 415.40,355.10 415.20,355.10 415.00,355.10 414.80,355.10 414.60,355.10 414.40,355.10 414.20,355.10 414.00,355.10 413.80,355.10 413.60,355.10 413.40,355.10 413.20,355.10 413.00,355.10 412.80,355.10 412.60,355.10 412.40,355.10 412.20,355.10 412.00,355.10 411.80,355.10 411.60,355.10 411.40,355.10 411.20,355.10 411.00,355.10 410.80,355.10 410.60,355.10 410.40,355.10 410.20,355.10 410.00,355.10 409.80,355.10 409.60,355.10 409.40,355.10 409.20,355.10 409.00,355.10 408.80,355.10 408.60,355.10 408.40,355.10 408.20,355.10 408.00,355.10 407.80,355.10 407.60,355.10 407.40,355.10 407.20,355.10 407.00,355.26 406.80,355.56 406.60,355.82 406.40,355.98 406.20,355.98 406.00,355.82 405.80,355.56 405.60,355.26 405.40,355.10 405.20,355.10 405.00,355.10 404.80,355.10 404.60,355.10 404.40,355.10 404.20,355.10 404.00,355.10 403.80,355.10 403.60,355.10 403.40,355.10 403.20,355.10 403.00,355.10 402.80,355.10 402.60,355.10 402.40,355.10 402.20,355.10 402.00,355.10 401.80,355.10 401.60,355.10 401.40,355.10 401.20,355.10 401.00,355.10 400.80,355.10 400.60,355.10 400.40,355.10 400.20,355.10 400.00,355.10 399.80,355.10 399.60,355.10 399.40,355.10 399.20,355.10 399.00,355.10 398.80,355.10 398.60,355.10 398.40,355.10 398.20,355.10 398.00,355.10 397.80,355.10 397.60,355.10 397.40,355.10 397.20,355.10 397.00,355.10 396.80,355.10 396.60,355.10 396.40,355.10 396.20,355.10 396.00,355.10 395.80,355.10 395.60,355.10 395.40,355.10 395.20,355.10 395.00,355.10 394.80,355.10 394.60,355.10 394.40,355.10 394.20,355.10 394.00,355.10 393.80,355.10 393.60,355.10 393.40,355.10 393.20,355.10 393.00,355.10 392.80,355.10 392.60,355.10 392.40,355.10 392.20,355.10 392.00,355.10 391.80,355.10 391.60,355.10 391.40,355.10 391.20,355.10 391.00,355.10 390.80,355.10 390.60,355.10 390.40,355.10 390.20,355.10 390.00,355.10 389.80,355.10 389.60,355.10 389.40,355.10 389.20,355.10 389.00,355.10 388.80,355.10 388.60,355.10 388.40,355.10 388.20,355.10 388.00,355.10 387.80,355.10 387.60,355.10 387.40,355.10 387.20,355.10 387.00,355.10 386.80,355.10 386.60,355.10 386.40,355.10 386.20,355.10 386.00,355.10 385.80,355.10 385.60,355.10 385.40,355.10 385.20,355.10 385.00,355.10 384.80,355.10 384.60,355.10 384.40,355.10 384.20,355.10 384.00,355.10 383.80,355.10 383.60,355.10 383.40,355.10 383.20,355.10 383.00,355.10" fill="#e41a1c"/>
<polygon points="473.50,353.90 473.70,353.90 473.90,353.90 474.10,353.90 474.30,353.90 474.50,353.90 474.70,353.90 474.90,353.90 475.10,353.90 475.30,353.90 475.50,353.90 475.70,353.90 475.90,353.90 476.10,353.90 476.30,353.90 476.50,353.90 476.70,353.90 476.90,353.90 477.10,353.90 477.30,353.90 477.50,353.90 477.70,353.90 477.90,353.90 478.10,353.90 478.30,353.90 478.50,353.90 478.70,353.90 478.90,353.90 479.10,353.90 479.30,353.90 479.50,353.90 479.70,353.90 479.90,353.90 480.10,353.90 480.30,353.90 480.50,353.90 480.70,353.90 480.90,353.90 481.10,353.90 481.30,353.90 481.50,353.90 481.70,353.90 481.90,353.90 482.10,353.90 482.30,353.90 482.50,353.90 482.70,353.90 482.90,353.90 483.10,353.90 483.30,353.90 483.50,353.90 483.70,353.90 483.90,353.90 484.10,353.90 484.30,353.90 484.50,353.90 484.70,353.90 484.90,353.90 485.10,353.90 485.30,353.90 485.50,353.90 485.70,353.90 485.90,353.90 486.10,353.90 486.30,353.90 486.50,353.90 486.70,353.90 486.90,353.90 487.10,353.90 487.30,353.90 487.50,353.90 487.70,353.90 487.90,353.90 488.10,353.90 488.30,353.90 488.50,353.90 488.70,353.90 488.90,353.90 489.10,353.90 489.30,353.90 489.50,353.90 489.70,353.90 489.90,353.90 490.10,353.90 490.30,353.90 490.50,353.90 490.70,353.90 490.90,353.90 491.10,353.90 491.30,353.90 491.50,353.90 491.70,353.90 491.90,353.90 492.10,353.90 492.30,353.90 492.50,353.90 492.70,353.90 492.90,353.90 493.10,353.90 493.30,353.90 493.50,353.90 493.70,353.90 493.90,353.90 494.10,353.90 494.30,353.90 494.50,353.90 494.70,353.90 494.90,353.90 495.10,353.90 495.30,353.90 495.50,353.90 495.70,353.90 495.90,353.90 496.10,353.90 496.30,353.90 496.50,353.90 496.70,353.90 496.90,353.90 497.10,353.90 497.30,353.90 497.50,353.90 497.70,353.90 497.90,353.90 498.10,353.90 498.30,353.90 498.50,353.90 498.70,353.90 498.90,353.90 499.10,353.90 499.30,353.90 499.50,353.90 499.70,353.90 499.90,353.90 500.10,353.90 500.30,353.90 500.50,353.90 500.70,353.90 500.90,353.90 501.10,353.90 501.30,353.90 501.50,353.90 501.70,353.81 501.90,353.63 502.10,353.43 502.30,353.25 502.50,353.09 502.70,352.97 502.90,352.91 503.10,352.91 503.30,352.97 503.50,353.09 503.70,353.25 503.90,353.43 504.10,353.63 504.30,353.81 504.50,353.90 504.70,353.90 504.90,353.90 505.10,353.67 505.30,353.36 505.50,353.00 505.70,352.59 505.90,352.17 506.10,351.76 506.30,351.41 506.50,351.15 506.70,351.02 506.90,351.02 507.10,351.15 507.30,351.41 507.50,351.76 507.70,352.17 507.90,351.58 508.10,350.75 508.30,349.98 508.50,349.37 508.70,349.04 508.90,349.04 509.10,349.37 509.30,349.98 509.50,350.75 509.70,349.09 509.90,346.69 510.10,344.11 510.30,341.76 510.50,340.10 510.70,339.50 510.90,340.10 511.10,341.76 511.30,344.11 511.50,346.69 511.70,347.47 511.90,344.35 512.10,340.99 512.30,337.94 512.50,335.78 512.70,335.00 512.90,335.78 513.10,337.94 513.30,340.99 513.50,344.35 513.70,343.06 513.90,338.53 514.10,334.56 514.30,332.21 514.50,332.21 514.70,334.56 514.90,338.53 515.10,343.06 515.30,346.00 515.50,343.59 515.70,341.34 515.90,339.59 516.10,338.62 516.30,338.62 516.50,339.59 516.70,341.34 516.90,343.59 517.10,346.00 517.30,348.03 517.50,346.42 517.70,344.89 517.90,343.63 518.10,342.79 518.30,342.50 518.50,342.79 518.70,343.63 518.90,344.89 519.10,346.42 519.30,348.03 519.50,349.57 519.70,349.39 519.90,348.88 520.10,348.46 520.30,348.17 520.50,348.02 520.70,348.02 520.90,348.17 521.10,348.46 521.30,348.88 521.50,349.39 521.70,349.96 521.90,350.56 522.10,351.16 522.30,351.74 522.50,352.27 522.70,352.74 522.90,353.14 523.10,353.48 523.30,353.75 523.50,353.90 523.70,353.90 523.90,353.90 524.10,353.90 524.30,353.90 524.50,353.90 524.70,353.90 524.90,353.90 525.10,353.90 525.30,353.90 525.50,353.90 525.70,353.90 525.90,353.90 526.10,353.90 526.30,353.90 526.50,353.90 526.70,353.90 526.90,353.90 527.10,353.90 527.30,353.90 527.50,353.90 527.70,353.90 527.90,353.90 528.10,353.90 528.30,353.90 528.50,353.90 528.70,353.90 528.90,353.90 529.10,353.74 529.30,353.44 529.50,353.18 529.70,353.02 529.90,353.02 530.10,353.18 530.30,353.44 530.50,353.74 530.70,353.90 530.90,353.90 531.10,353.90 531.30,353.90 531.50,353.90 531.70,353.90 531.90,353.90 532.10,353.90 532.30,353.74 532.50,353.44 532.70,353.18 532.90,353.02 533.10,353.02 533.30,353.18 533.50,353.44 533.70,353.74 533.90,353.90 534.10,353.90 534.30,353.90 534.50,353.90 534.70,353.90 534.90,353.90 535.10,353.90 535.30,353.90 535.50,353.90 535.70,353.90 535.90,353.90 536.10,353.90 536.30,353.90 536.50,353.90 536.70,353.90 536.90,353.90 537.10,353.90 537.30,353.90 537.50,353.90 537.70,353.90 537.90,353.90 538.10,353.90 538.30,353.90 538.50,353.90 538.70,353.90 538.90,353.90 539.10,353.90 539.30,353.90 539.50,353.90 539.70,353.90 539.90,353.90 540.10,353.90 540.30,353.90 540.50,353.90 540.70,353.90 540.90,353.90 541.10,353.90 541.30,353.90 541.50,353.90 541.70,353.90 541.90,353.90 542.10,353.90 542.30,353.90 542.50,353.90 542.70,353.90 542.90,353.90 543.10,353.90 543.30,353.90 543.50,353.90 543.70,353.90 543.90,353.90 544.10,353.90 544.30,353.90 544.50,353.90 544.70,353.90 544.90,353.90 545.10,353.90 545.30,353.90 545.50,353.90 545.70,353.90 545.90,353.90 546.10,353.90 546.30,353.90 546.50,353.90 546.70,353.90 546.90,353.90 547.10,353.90 547.30,353.90 547.50,353.90 547.70,353.90 547.90,353.90 548.10,353.90 548.30,353.90 548.50,353.90 548.70,353.90 548.90,353.90 549.10,353.90 549.30,353.90 549.50,353.90 549.70,353.90 549.90,353.90 550.10,353.90 550.30,353.90 550.50,353.90 550.70,353.90 550.90,353.90 551.10,353.90 551.30,353.90 551.50,353.90 551.70,353.90 551.90,353.90 552.10,353.90 552.30,353.90 552.50,353.90 552.70,353.90 552.90,353.90 553.10,353.90 553.30,353.90 553.50,353.90 553.70,353.90 553.90,353.90 554.10,353.90 554.30,353.90 554.50,353.90 554.70,353.90 554.90,353.90 555.10,353.90 555.30,353.90 555.50,353.90 555.70,353.90 555.90,353.90 556.10,353.90 556.30,353.90 556.50,353.90 556.70,353.90 556.90,353.90 557.10,353.90 557.30,353.90 557.50,353.90 557.70,353.90 557.90,353.90 558.10,353.90 558.30,353.90 558.50,353.90 558.70,353.90 558.90,353.90 559.10,353.90 559.30,353.90 559.50,353.90 559.70,353.90 559.90,353.90 560.10,353.90 560.30,353.90 560.50,353.90 560.70,353.90 560.90,353.90 561.10,353.90 561.30,353.90 561.50,353.90 561.70,353.90 561.90,353.90 562.10,353.90 562.30,353.90 562.50,353.90 562.70,353.90 562.90,353.90 562.90,355.10 562.70,355.10 562.50,355.10 562.30,355.10 562.10,355.10 561.90,355.10 561.70,355.10 561.50,355.10 561.30,355.10 561.10,355.10 560.90,355.10 560.70,355.10 560.50,355.10 560.30,355.10 560.10,355.10 559.90,355.10 559.70,355.10 559.50,355.10 559.30,355.10 559.10,355.10 558.90,355.10 558.70,355.10 558.50,355.10 558.30,355.10 558.10,355.10 557.90,355.10 557.70,355.10 557.50,355.10 557.30,355.10 557.10,355.10 556.90,355.10 556.70,355.10 556.50,355.10 556.30,355.10 556.10,355.10 555.90,355.10 555.70,355.10 555.50,355.10 555.30,355.10 555.10,355.10 554.90,355.10 554.70,355.10 554.50,355.10 554.30,355.10 554.10,355.10 553.90,355.10 553.70,355.10 553.50,355.10 553.30,355.10 553.10,355.10 552.90,355.10 552.70,355.10 552.50,355.10 552.30,355.10 552.10,355.10 551.90,355.10 551.70,355.10 551.50,355.10 551.30,355.10 551.10,355.10 550.90,355.10 550.70,355.10 550.50,355.10 550.30,355.10 550.10,355.10 549.90,355.10 549.70,355.10 549.50,355.10 549.30,355.10 549.10,355.10 548.90,355.10 548.70,355.10 548.50,355.10 548.30,355.10 548.10,355.10 547.90,355.10 547.70,355.10 547.50,355.10 547.30,355.10 547.10,355.10 546.90,355.10 546.70,355.10 546.50,355.10 546.30,355.10 546.10,355.10 545.90,355.10 545.70,355.10 545.50,355.10 545.30,355.10 545.10,355.10 544.90,355.10 544.70,355.10 544.50,355.10 544.30,355.10 544.10,355.10 543.90,355.10 543.70,355.10 543.50,355.10 543.30,355.10 543.10,355.10 542.90,355.10 542.70,355.10 542.50,355.10 542.30,355.10 542.10,355.10 541.90,355.10 541.70,355.10 541.50,355.10 541.30,355.10 541.10,355.10 540.90,355.10 540.70,355.10 540.50,355.10 540.30,355.10 540.10,355.10 539.90,355.10 539.70,355.10 539.50,355.10 539.30,355.10 539.10,355.10 538.90,355.10 538.70,355.10 538.50,355.10 538.30,355.10 538.10,355.10 537.90,355.10 537.70,355.10 537.50,355.10 537.30,355.10 537.10,355.10 536.90,355.10 536.70,355.10 536.50,355.10 536.30,355.10 536.10,355.10 535.90,355.10 535.70,355.10 535.50,355.10 535.30,355.10 535.10,355.10 534.90,355.10 534.70,355.10 534.50,355.10 534.30,355.10 534.10,355.10 533.90,355.10 533.70,355.26 533.50,355.56 533.30,355.82 533.10,355.98 532.90,355.98 532.70,355.82 532.50,355.56 532.30,355.26 532.10,355.10 531.90,355.10 531.70,355.10 531.50,355.10 531.30,355.10 531.10,355.10 530.90,355.10 530.70,355.10 530.50,355.26 530.30,355.56 530.10,355.82 529.90,355.98 529.70,355.98 529.50,355.82 529.30,355.56 529.10,355.26 528.90,355.10 528.70,355.10 528.50,355.10 528.30,355.10 528.10,355.10 527.90,355.10 527.70,355.10 527.50,355.10 527.30,355.10 527.10,355.10 526.90,355.10 526.70,355.10 526.50,355.10 526.30,355.10 526.10,355.10 525.90,355.10 525.70,355.10 525.50,355.10 525.30,355.10 525.10,355.10 524.90,355.10 524.70,355.10 524.50,355.10 524.30,355.10 524.10,355.10 523.90,355.10 523.70,355.10 523.50,355.10 523.30,355.25 523.10,355.52 522.90,355.86 522.70,356.26 522.50,356.73 522.30,357.26 522.10,357.84 521.90,358.44 521.70,359.04 521.50,359.61 521.30,360.12 521.10,360.54 520.90,360.83 520.70,360.98 520.50,360.98 520.30,360.83 520.10,360.54 519.90,360.12 519.70,359.61 519.50,359.43 519.30,360.97 519.10,362.58 518.90,364.11 518.70,365.37 518.50,366.21 518.30,366.50 518.10,366.21 517.90,365.37 517.70,364.11 517.50,362.58 517.30,360.97 517.10,363.00 516.90,365.41 516.70,367.66 516.50,369.41 516.30,370.38 516.10,370.38 515.90,369.41 515.70,367.66 515.50,365.41 515.30,363.00 515.10,365.94 514.90,370.47 514.70,374.44 514.50,376.79 514.30,376.79 514.10,374.44 513.90,370.47 513.70,365.94 513.50,364.65 513.30,368.01 513.10,371.06 512.90,373.22 512.70,374.00 512.50,373.22 512.30,371.06 512.10,368.01 511.90,364.65 511.70,361.53 511.50,362.31 511.30,364.89 511.10,367.24 510.90,368.90 510.70,369.50 510.50,368.90 510.30,367.24 510.10,364.89 509.90,362.31 509.70,359.91 509.50,358.25 509.30,359.02 509.10,359.63 508.90,359.96 508.70,359.96 508.50,359.63 508.30,359.02 508.10,358.25 507.90,357.42 507.70,356.83 507.50,357.24 507.30,357.59 507.10,357.85 506.90,357.98 506.70,357.98 506.50,357.85 506.30,357.59 506.10,357.24 505.90,356.83 505.70,356.41 505.50,356.00 505.30,355.64 505.10,355.33 504.90,355.10 504.70,355.10 504.50,355.10 504.30,355.19 504.10,355.37 503.90,355.57 503.70,355.75 503.50,355.91 503.30,356.03 503.10,356.09 502.90,356.09 502.70,356.03 502.50,355.91 502.30,355.75 502.10,355.57 501.90,355.37 501.70,355.19 501.50,355.10 501.30,355.10 501.10,355.10 500.90,355.10 500.70,355.10 500.50,355.10 500.30,355.10 500.10,355.10 499.90,355.10 499.70,355.10 499.50,355.10 499.30,355.10 499.10,355.10 498.90,355.10 498.70,355.10 498.50,355.10 498.30,355.10 498.10,355.10 497.90,355.10 497.70,355.10 497.50,355.10 497.30,355.10 497.10,355.10 496.90,355.10 496.70,355.10 496.50,355.10 496.30,355.10 496.10,355.10 495.90,355.10 495.70,355.10 495.50,355.10 495.30,355.10 495.10,355.10 494.90,355.10 494.70,355.10 494.50,355.10 494.30,355.10 494.10,355.10 493.90,355.10 493.70,355.10 493.50,355.10 493.30,355.10 493.10,355.10 492.90,355.10 492.70,355.10 492.50,355.10 492.30,355.10 492.10,355.10 491.90,355.10 491.70,355.10 491.50,355.10 491.30,355.10 491.10,355.10 490.90,355.10 490.70,355.10 490.50,355.10 490.30,355.10 490.10,355.10 489.90,355.10 489.70,355.10 489.50,355.10 489.30,355.10 489.10,355.10 488.90,355.10 488.70,355.10 488.50,355.10 488.30,355.10 488.10,355.10 487.90,355.10 487.70,355.10 487.50,355.10 487.30,355.10 487.10,355.10 486.90,355.10 486.70,355.10 486.50,355.10 486.30,355.10 486.10,355.10 485.90,355.10 485.70,355.10 485.50,355.10 485.30,355.10 485.10,355.10 484.90,355.10 484.70,355.10 484.50,355.10 484.30,355.10 484.10,355.10 483.90,355.10 483.70,355.10 483.50,355.10 483.30,355.10 483.10,355.10 482.90,355.10 482.70,355.10 482.50,355.10 482.30,355.10 482.10,355.10 481.90,355.10 481.70,355.10 481.50,355.10 481.30,355.10 481.10,355.10 480.90,355.10 480.70,355.10 480.50,355.10 480.30,355.10 480.10,355.10 479.90,355.10 479.70,355.10 479.50,355.10 479.30,355.10 479.10,355.10 478.90,355.10 478.70,355.10 478.50,355.10 478.30,355.10 478.10,355.10 477.90,355.10 477.70,355.10 477.50,355.10 477.30,355.10 477.10,355.10 476.90,355.10 476.70,355.10 476.50,355.10 476.30,355.10 476.10,355.10 475.90,355.10 475.70,355.10 475.50,355.10 475.30,355.10 475.10,355.10 474.90,355.10 474.70,355.10 474.50,355.10 474.30,355.10 474.10,355.10 473.90,355.10 473.70,355.10 473.50,355.10" fill="#e41a1c"/>
<polygon points="564.00,353.90 564.20,353.90 564.40,353.90 564.60,353.90 564.80,353.90 565.00,353.90 565.20,353.90 565.40,353.90 565.60,353.90 565.80,353.90 566.00,353.90 566.20,353.90 566.40,353.90 566.60,353.90 566.80,353.90 567.00,353.90 567.20,353.90 567.40,353.90 567.60,353.90 567.80,353.90 568.00,353.90 568.20,353.90 568.40,353.90 568.60,353.90 568.80,353.90 569.00,353.90 569.20,353.90 569.40,353.90 569.60,353.90 569.80,353.90 570.00,353.90 570.20,353.90 570.40,353.90 570.60,353.90 570.80,353.90 571.00,353.90 571.20,353.90 571.40,353.90 571.60,353.90 571.80,353.90 572.00,353.90 572.20,353.90 572.40,353.90 572.60,353.90 572.80,353.90 573.00,353.90 573.20,353.90 573.40,353.90 573.60,353.90 573.80,353.90 574.00,353.90 574.20,353.90 574.40,353.90 574.60,353.90 574.80,353.90 575.00,353.90 575.20,353.90 575.40,353.90 575.60,353.90 575.80,353.90 576.00,353.90 576.20,353.90 576.40,353.90 576.60,353.90 576.80,353.90 577.00,353.90 577.20,353.90 577.40,353.90 577.60,353.90 577.80,353.90 578.00,353.90 578.20,353.90 578.40,353.90 578.60,353.90 578.80,353.90 579.00,353.90 579.20,353.90 579.40,353.90 579.60,353.90 579.80,353.90 580.00,353.90 580.20,353.90 580.40,353.90 580.60,353.90 580.80,353.90 581.00,353.90 581.20,353.90 581.40,353.90 581.60,353.90 581.80,353.90 582.00,353.90 582.20,353.90 582.40,353.90 582.60,353.90 582.80,353.90 583.00,353.90 583.20,353.90 583.40,353.90 583.60,353.90 583.80,353.90 584.00,353.90 584.20,353.90 584.40,353.90 584.60,353.90 584.80,353.90 585.00,353.90 585.20,353.90 585.40,353.90 585.60,353.90 585.80,353.90 586.00,353.90 586.20,353.90 586.40,353.90 586.60,353.90 586.80,353.90 587.00,353.90 587.20,353.90 587.40,353.90 587.60,353.90 587.80,353.90 588.00,353.90 588.20,353.90 588.40,353.90 588.60,353.90 588.80,353.90 589.00,353.90 589.20,353.90 589.40,353.90 589.60,353.90 589.80,353.90 590.00,353.90 590.20,353.90 590.40,353.90 590.60,353.90 590.80,353.90 591.00,353.90 591.20,353.90 591.40,353.90 591.60,353.90 591.80,353.90 592.00,353.90 592.20,353.84 592.40,353.58 592.60,353.35 592.80,353.22 593.00,353.22 593.20,353.35 593.40,353.58 593.60,353.84 593.80,353.90 594.00,353.90 594.20,353.90 594.40,353.90 594.60,353.90 594.80,353.90 595.00,353.69 595.20,353.36 595.40,352.98 595.60,352.61 595.80,352.29 596.00,352.08 596.20,352.00 596.40,352.08 596.60,352.29 596.80,352.61 597.00,352.60 597.20,352.07 597.40,351.54 597.60,351.07 597.80,350.72 598.00,350.52 598.20,350.52 598.40,350.72 598.60,351.07 598.80,351.54 599.00,352.07 599.20,351.47 599.40,350.81 599.60,350.22 599.80,349.77 600.00,349.53 600.20,349.53 600.40,349.77 600.60,350.22 600.80,350.81 601.00,351.47 601.20,352.13 601.40,351.43 601.60,349.14 601.80,346.15 602.00,342.84 602.20,339.94 602.40,338.23 602.60,338.23 602.80,339.94 603.00,342.84 603.20,346.15 603.40,349.14 603.60,351.43 603.80,351.17 604.00,350.59 604.20,350.09 604.40,349.72 604.60,349.52 604.80,349.52 605.00,349.72 605.20,350.09 605.40,350.59 605.60,351.17 605.80,351.11 606.00,348.59 606.20,345.28 606.40,341.64 606.60,338.44 606.80,336.55 607.00,336.55 607.20,338.44 607.40,341.64 607.60,345.28 607.80,348.59 608.00,351.11 608.20,350.23 608.40,348.66 608.60,347.00 608.80,345.45 609.00,344.25 609.20,343.59 609.40,343.59 609.60,344.25 609.80,345.45 610.00,347.00 610.20,348.66 610.40,348.77 610.60,347.69 610.80,346.80 611.00,346.21 611.20,346.00 611.40,346.21 611.60,346.80 611.80,347.69 612.00,348.77 612.20,349.92 612.40,350.87 612.60,350.32 612.80,349.88 613.00,349.60 613.20,349.50 613.40,349.60 613.60,349.88 613.80,350.32 614.00,350.87 614.20,351.47 614.40,352.07 614.60,352.33 614.80,352.10 615.00,351.95 615.20,351.90 615.40,351.95 615.60,352.10 615.80,352.33 616.00,352.61 616.20,352.92 616.40,353.23 616.60,353.52 616.80,353.78 617.00,353.90 617.20,353.90 617.40,353.90 617.60,353.90 617.80,353.90 618.00,353.90 618.20,353.90 618.40,353.90 618.60,353.90 618.80,353.90 619.00,353.90 619.20,353.90 619.40,353.90 619.60,353.90 619.80,353.90 620.00,353.90 620.20,353.90 620.40,353.90 620.60,353.90 620.80,353.90 621.00,353.84 621.20,353.58 621.40,353.35 621.60,353.22 621.80,353.22 622.00,353.35 622.20,353.58 622.40,353.84 622.60,353.90 622.80,353.90 623.00,353.90 623.20,353.90 623.40,353.90 623.60,353.90 623.80,353.71 624.00,353.46 624.20,353.27 624.40,353.20 624.60,353.27 624.80,353.46 625.00,353.71 625.20,353.90 625.40,353.90 625.60,353.90 625.80,353.90 626.00,353.90 626.20,353.90 626.40,353.71 626.60,353.46 626.80,353.27 627.00,353.20 627.20,353.27 627.40,353.46 627.60,353.71 627.80,353.90 628.00,353.90 628.20,353.90 628.40,353.90 628.60,353.90 628.80,353.90 629.00,353.90 629.20,353.90 629.40,353.90 629.60,353.90 629.80,353.90 630.00,353.90 630.20,353.90 630.40,353.90 630.60,353.90 630.80,353.90 631.00,353.90 631.20,353.90 631.40,353.90 631.60,353.90 631.80,353.90 632.00,353.90 632.20,353.90 632.40,353.90 632.60,353.90 632.80,353.90 633.00,353.90 633.20,353.90 633.40,353.90 633.60,353.90 633.80,353.90 634.00,353.90 634.20,353.90 634.40,353.90 634.60,353.90 634.80,353.90 635.00,353.90 635.20,353.90 635.40,353.90 635.60,353.90 635.80,353.90 636.00,353.90 636.20,353.90 636.40,353.90 636.60,353.90 636.80,353.90 637.00,353.90 637.20,353.90 637.40,353.90 637.60,353.90 637.80,353.90 638.00,353.90 638.20,353.90 638.40,353.90 638.60,353.90 638.80,353.90 639.00,353.90 639.20,353.90 639.40,353.90 639.60,353.90 639.80,353.90 640.00,353.90 640.20,353.90 640.40,353.90 640.60,353.90 640.80,353.90 641.00,353.90 641.20,353.90 641.40,353.90 641.60,353.90 641.80,353.90 642.00,353.90 642.20,353.90 642.40,353.90 642.60,353.90 642.80,353.90 643.00,353.90 643.20,353.90 643.40,353.90 643.60,353.90 643.80,353.90 644.00,353.90 644.20,353.90 644.40,353.90 644.60,353.90 644.80,353.90 645.00,353.90 645.20,353.90 645.40,353.90 645.60,353.90 645.80,353.90 646.00,353.90 646.20,353.90 646.40,353.90 646.60,353.90 646.80,353.90 647.00,353.90 647.20,353.90 647.40,353.90 647.60,353.90 647.80,353.90 648.00,353.90 648.20,353.90 648.40,353.90 648.60,353.90 648.80,353.90 649.00,353.90 649.20,353.90 649.40,353.90 649.60,353.90 649.80,353.90 650.00,353.90 650.20,353.90 650.40,353.90 650.60,353.90 650.80,353.90 651.00,353.90 651.20,353.90 651.40,353.90 651.60,353.90 651.80,353.90 652.00,353.90 652.20,353.90 652.40,353.90 652.60,353.90 652.80,353.90 653.00,353.90 653.20,353.90 653.40,353.90 653.40,355.10 653.20,355.10 653.00,355.10 652.80,355.10 652.60,355.10 652.40,355.10 652.20,355.10 652.00,355.10 651.80,355.10 651.60,355.10 651.40,355.10 651.20,355.10 651.00,355.10 650.80,355.10 650.60,355.10 650.40,355.10 650.20,355.10 650.00,355.10 649.80,355.10 649.60,355.10 649.40,355.10 649.20,355.10 649.00,355.10 648.80,355.10 648.60,355.10 648.40,355.10 648.20,355.10 648.00,355.10 647.80,355.10 647.60,355.10 647.40,355.10 647.20,355.10 647.00,355.10 646.80,355.10 646.60,355.10 646.40,355.10 646.20,355.10 646.00,355.10 645.80,355.10 645.60,355.10 645.40,355.10 645.20,355.10 645.00,355.10 644.80,355.10 644.60,355.10 644.40,355.10 644.20,355.10 644.00,355.10 643.80,355.10 643.60,355.10 643.40,355.10 643.20,355.10 643.00,355.10 642.80,355.10 642.60,355.10 642.40,355.10 642.20,355.10 642.00,355.10 641.80,355.10 641.60,355.10 641.40,355.10 641.20,355.10 641.00,355.10 640.80,355.10 640.60,355.10 640.40,355.10 640.20,355.10 640.00,355.10 639.80,355.10 639.60,355.10 639.40,355.10 639.20,355.10 639.00,355.10 638.80,355.10 638.60,355.10 638.40,355.10 638.20,355.10 638.00,355.10 637.80,355.10 637.60,355.10 637.40,355.10 637.20,355.10 637.00,355.10 636.80,355.10 636.60,355.10 636.40,355.10 636.20,355.10 636.00,355.10 635.80,355.10 635.60,355.10 635.40,355.10 635.20,355.10 635.00,355.10 634.80,355.10 634.60,355.10 634.40,355.10 634.20,355.10 634.00,355.10 633.80,355.10 633.60,355.10 633.40,355.10 633.20,355.10 633.00,355.10 632.80,355.10 632.60,355.10 632.40,355.10 632.20,355.10 632.00,355.10 631.80,355.10 631.60,355.10 631.40,355.10 631.20,355.10 631.00,355.10 630.80,355.10 630.60,355.10 630.40,355.10 630.20,355.10 630.00,355.10 629.80,355.10 629.60,355.10 629.40,355.10 629.20,355.10 629.00,355.10 628.80,355.10 628.60,355.10 628.40,355.10 628.20,355.10 628.00,355.10 627.80,355.10 627.60,355.29 627.40,355.54 627.20,355.73 627.00,355.80 626.80,355.73 626.60,355.54 626.40,355.29 626.20,355.10 626.00,355.10 625.80,355.10 625.60,355.10 625.40,355.10 625.20,355.10 625.00,355.29 624.80,355.54 624.60,355.73 624.40,355.80 624.20,355.73 624.00,355.54 623.80,355.29 623.60,355.10 623.40,355.10 623.20,355.10 623.00,355.10 622.80,355.10 622.60,355.10 622.40,355.16 622.20,355.42 622.00,355.65 621.80,355.78 621.60,355.78 621.40,355.65 621.20,355.42 621.00,355.16 620.80,355.10 620.60,355.10 620.40,355.10 620.20,355.10 620.00,355.10 619.80,355.10 619.60,355.10 619.40,355.10 619.20,355.10 619.00,355.10 618.80,355.10 618.60,355.10 618.40,355.10 618.20,355.10 618.00,355.10 617.80,355.10 617.60,355.10 617.40,355.10 617.20,355.10 617.00,355.10 616.80,355.22 616.60,355.48 616.40,355.77 616.20,356.08 616.00,356.39 615.80,356.67 615.60,356.90 615.40,357.05 615.20,357.10 615.00,357.05 614.80,356.90 614.60,356.67 614.40,356.93 614.20,357.53 614.00,358.13 613.80,358.68 613.60,359.12 613.40,359.40 613.20,359.50 613.00,359.40 612.80,359.12 612.60,358.68 612.40,358.13 612.20,359.08 612.00,360.23 611.80,361.31 611.60,362.20 611.40,362.79 611.20,363.00 611.00,362.79 610.80,362.20 610.60,361.31 610.40,360.23 610.20,360.34 610.00,362.00 609.80,363.55 609.60,364.75 609.40,365.41 609.20,365.41 609.00,364.75 608.80,363.55 608.60,362.00 608.40,360.34 608.20,358.77 608.00,357.89 607.80,360.41 607.60,363.72 607.40,367.36 607.20,370.56 607.00,372.45 606.80,372.45 606.60,370.56 606.40,367.36 606.20,363.72 606.00,360.41 605.80,357.89 605.60,357.83 605.40,358.41 605.20,358.91 605.00,359.28 604.80,359.48 604.60,359.48 604.40,359.28 604.20,358.91 604.00,358.41 603.80,357.83 603.60,357.57 603.40,359.86 603.20,362.85 603.00,366.16 602.80,369.06 602.60,370.77 602.40,370.77 602.20,369.06 602.00,366.16 601.80,362.85 601.60,359.86 601.40,357.57 601.20,356.87 601.00,357.53 600.80,358.19 600.60,358.78 600.40,359.23 600.20,359.47 600.00,359.47 599.80,359.23 599.60,358.78 599.40,358.19 599.20,357.53 599.00,356.93 598.80,357.46 598.60,357.93 598.40,358.28 598.20,358.48 598.00,358.48 597.80,358.28 597.60,357.93 597.40,357.46 597.20,356.93 597.00,356.40 596.80,356.39 596.60,356.71 596.40,356.92 596.20,357.00 596.00,356.92 595.80,356.71 595.60,356.39 595.40,356.02 595.20,355.64 595.00,355.31 594.80,355.10 594.60,355.10 594.40,355.10 594.20,355.10 594.00,355.10 593.80,355.10 593.60,355.16 593.40,355.42 593.20,355.65 593.00,355.78 592.80,355.78 592.60,355.65 592.40,355.42 592.20,355.16 592.00,355.10 591.80,355.10 591.60,355.10 591.40,355.10 591.20,355.10 591.00,355.10 590.80,355.10 590.60,355.10 590.40,355.10 590.20,355.10 590.00,355.10 589.80,355.10 589.60,355.10 589.40,355.10 589.20,355.10 589.00,355.10 588.80,355.10 588.60,355.10 588.40,355.10 588.20,355.10 588.00,355.10 587.80,355.10 587.60,355.10 587.40,355.10 587.20,355.10 587.00,355.10 586.80,355.10 586.60,355.10 586.40,355.10 586.20,355.10 586.00,355.10 585.80,355.10 585.60,355.10 585.40,355.10 585.20,355.10 585.00,355.10 584.80,355.10 584.60,355.10 584.40,355.10 584.20,355.10 584.00,355.10 583.80,355.10 583.60,355.10 583.40,355.10 583.20,355.10 583.00,355.10 582.80,355.10 582.60,355.10 582.40,355.10 582.20,355.10 582.00,355.10 581.80,355.10 581.60,355.10 581.40,355.10 581.20,355.10 581.00,355.10 580.80,355.10 580.60,355.10 580.40,355.10 580.20,355.10 580.00,355.10 579.80,355.10 579.60,355.10 579.40,355.10 579.20,355.10 579.00,355.10 578.80,355.10 578.60,355.10 578.40,355.10 578.20,355.10 578.00,355.10 577.80,355.10 577.60,355.10 577.40,355.10 577.20,355.10 577.00,355.10 576.80,355.10 576.60,355.10 576.40,355.10 576.20,355.10 576.00,355.10 575.80,355.10 575.60,355.10 575.40,355.10 575.20,355.10 575.00,355.10 574.80,355.10 574.60,355.10 574.40,355.10 574.20,355.10 574.00,355.10 573.80,355.10 573.60,355.10 573.40,355.10 573.20,355.10 573.00,355.10 572.80,355.10 572.60,355.10 572.40,355.10 572.20,355.10 572.00,355.10 571.80,355.10 571.60,355.10 571.40,355.10 571.20,355.10 571.00,355.10 570.80,355.10 570.60,355.10 570.40,355.10 570.20,355.10 570.00,355.10 569.80,355.10 569.60,355.10 569.40,355.10 569.20,355.10 569.00,355.10 568.80,355.10 568.60,355.10 568.40,355.10 568.20,355.10 568.00,355.10 567.80,355.10 567.60,355.10 567.40,355.10 567.20,355.10 567.00,355.10 566.80,355.10 566.60,355.10 566.40,355.10 566.20,355.10 566.00,355.10 565.80,355.10 565.60,355.10 565.40,355.10 565.20,355.10 565.00,355.10 564.80,355.10 564.60,355.10 564.40,355.10 564.20,355.10 564.00,355.10" fill="#e41a1c"/>
<line x1="382.50" y1="328.40" x2="654.00" y2="328.40" stroke="#444" stroke-width="0.8"/>
<rect x="382.50" y="276.70" width="271.50" height="103.60" fill="none" stroke="#555" stroke-width="0.8"/>
<line x1="563.50" y1="276.70" x2="563.50" y2="380.30" stroke="#333" stroke-width="0.9"/>
<rect x="451.5" y="290.5" width="42.5" height="23" rx="4" fill="#fff" opacity="0.7"/>
<rect x="448.5" y="343.5" width="44" height="22.5" rx="4" fill="#fff" opacity="0.7"/>
<line x1="473.00" y1="276.70" x2="473.00" y2="380.30" stroke="#999" stroke-width="1.1"/>
<rect x="451.5" y="290.5" width="42.5" height="23" rx="4" fill="#fff" opacity="0.45"/>
<rect x="448.5" y="343.5" width="44" height="22.5" rx="4" fill="#fff" opacity="0.45"/>
<text class="h" x="472.8" y="300" font-size="8.7" text-anchor="middle" fill="#231f20">Comb</text>
<text class="h" x="473.5" y="310.7" font-size="8.7" text-anchor="middle" fill="#231f20">1100 mA</text>
<text class="h" x="470.8" y="351.7" font-size="8.7" text-anchor="middle" fill="#231f20">Reference</text>
<text class="h" x="470.7" y="362.8" font-size="8.7" text-anchor="middle" fill="#231f20">1100 mA</text>
<line x1="397.50" y1="276.70" x2="397.50" y2="278.70" stroke="#444" stroke-width="0.7"/>
<line x1="397.50" y1="326.60" x2="397.50" y2="330.20" stroke="#444" stroke-width="0.7"/>
<line x1="397.50" y1="380.30" x2="397.50" y2="378.30" stroke="#444" stroke-width="0.7"/>
<text class="h" x="397.5" y="393.8" font-size="10.3" text-anchor="middle" fill="#231f20">136</text>
<line x1="427.50" y1="276.70" x2="427.50" y2="278.70" stroke="#444" stroke-width="0.7"/>
<line x1="427.50" y1="326.60" x2="427.50" y2="330.20" stroke="#444" stroke-width="0.7"/>
<line x1="427.50" y1="380.30" x2="427.50" y2="378.30" stroke="#444" stroke-width="0.7"/>
<text class="h" x="427.5" y="393.8" font-size="10.3" text-anchor="middle" fill="#231f20">137</text>
<line x1="457.60" y1="276.70" x2="457.60" y2="278.70" stroke="#444" stroke-width="0.7"/>
<line x1="457.60" y1="326.60" x2="457.60" y2="330.20" stroke="#444" stroke-width="0.7"/>
<line x1="457.60" y1="380.30" x2="457.60" y2="378.30" stroke="#444" stroke-width="0.7"/>
<text class="h" x="457.6" y="393.8" font-size="10.3" text-anchor="middle" fill="#231f20">138</text>
<line x1="503.30" y1="276.70" x2="503.30" y2="278.70" stroke="#444" stroke-width="0.7"/>
<line x1="503.30" y1="326.60" x2="503.30" y2="330.20" stroke="#444" stroke-width="0.7"/>
<line x1="503.30" y1="380.30" x2="503.30" y2="378.30" stroke="#444" stroke-width="0.7"/>
<text class="h" x="503.3" y="393.8" font-size="10.3" text-anchor="middle" fill="#231f20">191</text>
<line x1="533.30" y1="276.70" x2="533.30" y2="278.70" stroke="#444" stroke-width="0.7"/>
<line x1="533.30" y1="326.60" x2="533.30" y2="330.20" stroke="#444" stroke-width="0.7"/>
<line x1="533.30" y1="380.30" x2="533.30" y2="378.30" stroke="#444" stroke-width="0.7"/>
<text class="h" x="533.3" y="393.8" font-size="10.3" text-anchor="middle" fill="#231f20">192</text>
<line x1="581.50" y1="276.70" x2="581.50" y2="278.70" stroke="#444" stroke-width="0.7"/>
<line x1="581.50" y1="326.60" x2="581.50" y2="330.20" stroke="#444" stroke-width="0.7"/>
<line x1="581.50" y1="380.30" x2="581.50" y2="378.30" stroke="#444" stroke-width="0.7"/>
<text class="h" x="581.5" y="393.8" font-size="10.3" text-anchor="middle" fill="#231f20">245</text>
<line x1="611.40" y1="276.70" x2="611.40" y2="278.70" stroke="#444" stroke-width="0.7"/>
<line x1="611.40" y1="326.60" x2="611.40" y2="330.20" stroke="#444" stroke-width="0.7"/>
<line x1="611.40" y1="380.30" x2="611.40" y2="378.30" stroke="#444" stroke-width="0.7"/>
<text class="h" x="611.4" y="393.8" font-size="10.3" text-anchor="middle" fill="#231f20">246</text>
<line x1="641.40" y1="276.70" x2="641.40" y2="278.70" stroke="#444" stroke-width="0.7"/>
<line x1="641.40" y1="326.60" x2="641.40" y2="330.20" stroke="#444" stroke-width="0.7"/>
<line x1="641.40" y1="380.30" x2="641.40" y2="378.30" stroke="#444" stroke-width="0.7"/>
<text class="h" x="641.4" y="393.8" font-size="10.3" text-anchor="middle" fill="#231f20">247</text>
<line x1="382.50" y1="333.50" x2="384.50" y2="333.50" stroke="#444" stroke-width="0.7"/>
<line x1="382.50" y1="375.40" x2="384.50" y2="375.40" stroke="#444" stroke-width="0.7"/>
<line x1="382.50" y1="315.50" x2="384.50" y2="315.50" stroke="#444" stroke-width="0.7"/>
<line x1="382.50" y1="289.30" x2="384.50" y2="289.30" stroke="#444" stroke-width="0.7"/>
<line x1="654.00" y1="276.70" x2="654.00" y2="380.30" stroke="#aaaaaa" stroke-width="1.3"/>
<text class="h" x="427.7" y="409.8" font-size="10.3" text-anchor="middle" fill="#231f20">Position (mm)</text>
<text class="h" x="518.2" y="409.8" font-size="10.3" text-anchor="middle" fill="#231f20">Position (mm)</text>
<text class="h" x="608.7" y="409.8" font-size="10.3" text-anchor="middle" fill="#231f20">Position (mm)</text>
<text class="r" x="360.8" y="331.3" font-size="10.3" text-anchor="middle" transform="rotate(-90 360.8 331.3)" fill="#231f20">Intensity (a.u.)</text>
<text class="r" x="373.6" y="331.3" font-size="10.3" text-anchor="middle" transform="rotate(-90 373.6 331.3)" fill="#231f20">Linear scale</text>
<text class="h" x="351.4" y="278.7" font-size="15" text-anchor="start" font-weight="bold" fill="#231f20">d</text>
</svg></body></html>
